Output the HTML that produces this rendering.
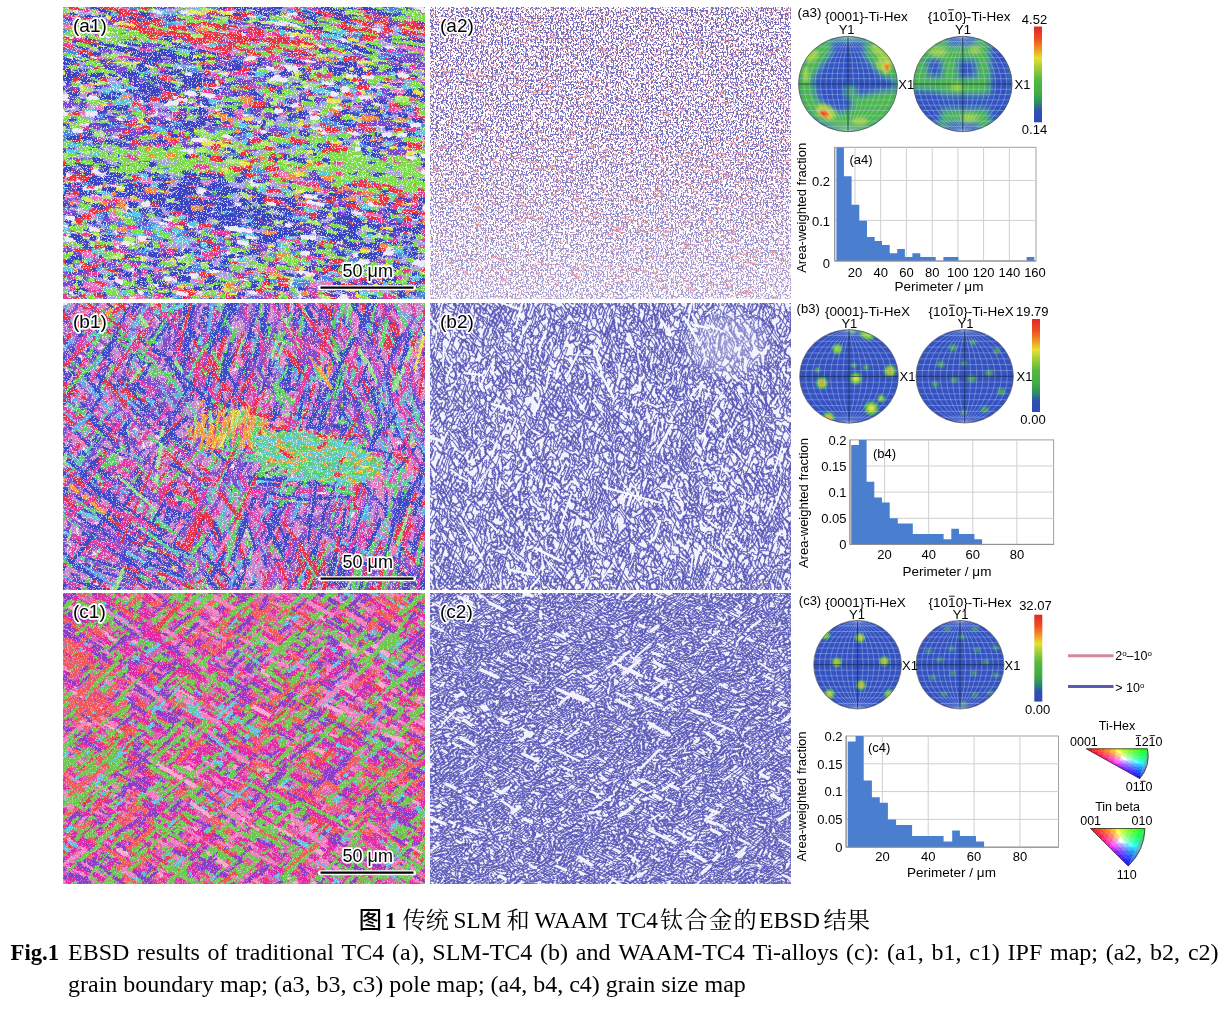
<!DOCTYPE html><html><head><meta charset="utf-8"><title>EBSD</title><style>html,body{margin:0;padding:0;background:#fff;width:1227px;height:1011px;overflow:hidden}svg{display:block}</style></head><body><svg width="1227" height="1011" viewBox="0 0 1227 1011"><defs><filter id="rough" x="0" y="0" width="1" height="1"><feTurbulence type="fractalNoise" baseFrequency="0.35" numOctaves="1" seed="2"/><feDisplacementMap in="SourceGraphic" scale="3.5" xChannelSelector="R" yChannelSelector="G"/><feGaussianBlur stdDeviation="0.4"/></filter><filter id="wsp" x="0" y="0" width="1" height="1" color-interpolation-filters="sRGB"><feTurbulence type="fractalNoise" baseFrequency="0.8" numOctaves="1" seed="9"/><feGaussianBlur stdDeviation="0.7"/><feColorMatrix type="matrix" values="0 0 0 0 0 0 0 0 0 0 0 0 0 0 0 1 0 0 0 0"/><feComponentTransfer><feFuncA type="discrete" tableValues="0 0 0 0 0 0 0 0 0 0 0 0 1 1 1 1 1 1 1 1"/></feComponentTransfer><feComposite operator="in" in="SourceGraphic"/><feGaussianBlur stdDeviation="0.35"/></filter><filter id="wsp2" x="0" y="0" width="1" height="1" color-interpolation-filters="sRGB"><feTurbulence type="fractalNoise" baseFrequency="0.8" numOctaves="1" seed="19"/><feGaussianBlur stdDeviation="0.7"/><feColorMatrix type="matrix" values="0 0 0 0 0 0 0 0 0 0 0 0 0 0 0 1 0 0 0 0"/><feComponentTransfer><feFuncA type="discrete" tableValues="0 0 0 0 0 0 0 0 0 0 0 0 1 1 1 1 1 1 1 1"/></feComponentTransfer><feComposite operator="in" in="SourceGraphic"/><feGaussianBlur stdDeviation="0.35"/></filter><clipPath id="cp0"><rect x="63" y="7" width="362" height="292"/></clipPath><clipPath id="cp1"><rect x="63" y="303" width="362" height="287"/></clipPath><clipPath id="cp2"><rect x="63" y="593" width="362" height="291"/></clipPath><filter id="a2c" x="0" y="0" width="1" height="1" color-interpolation-filters="sRGB"><feTurbulence type="fractalNoise" baseFrequency="0.6 0.5" numOctaves="1" seed="7"/><feGaussianBlur stdDeviation="0.5"/><feColorMatrix type="matrix" values="0 0 0 0 0 0 0 0 0 0 0 0 0 0 0 1 0 0 0 0"/><feComponentTransfer><feFuncA type="discrete" tableValues="0 0 0 0 0 0 0 0 0 0 0 0 0 0 0 0 0 0 0 0 0 1 1 1 1 1 1 1 1 1 1 1 1 1 1 1 1 1 1 1"/></feComponentTransfer><feComposite operator="in" in="SourceGraphic"/><feGaussianBlur stdDeviation="0.45"/></filter><filter id="a2q" x="0" y="0" width="1" height="1" color-interpolation-filters="sRGB"><feTurbulence type="fractalNoise" baseFrequency="0.6 0.5" numOctaves="1" seed="27"/><feGaussianBlur stdDeviation="0.5"/><feColorMatrix type="matrix" values="0 0 0 0 0 0 0 0 0 0 0 0 0 0 0 1 0 0 0 0"/><feComponentTransfer><feFuncA type="discrete" tableValues="0 0 0 0 0 0 0 0 0 0 0 0 0 0 0 0 0 0 0 0 0 0 0 0 1 1 1 1 1 1 1 1 1 1 1 1 1 1 1 1"/></feComponentTransfer><feComposite operator="in" in="SourceGraphic"/><feGaussianBlur stdDeviation="0.45"/></filter><linearGradient id="a2g" x1="0" y1="0" x2="0" y2="1"><stop offset="0" stop-color="#fff" stop-opacity="1"/><stop offset="0.45" stop-color="#fff" stop-opacity="0.95"/><stop offset="1" stop-color="#fff" stop-opacity="0.6"/></linearGradient><mask id="a2m" maskUnits="userSpaceOnUse" x="430" y="7" width="361" height="292"><rect x="430" y="7" width="361" height="292" fill="url(#a2g)"/></mask><clipPath id="clipa2"><rect x="430" y="7" width="361" height="292"/></clipPath><filter id="b2a" x="0" y="0" width="1" height="1" color-interpolation-filters="sRGB"><feTurbulence type="fractalNoise" baseFrequency="0.035 0.1" numOctaves="2" seed="13"/><feColorMatrix type="matrix" values="0 0 0 0 0 0 0 0 0 0 0 0 0 0 0 1 0 0 0 0"/><feComponentTransfer result="b"><feFuncA type="discrete" tableValues="0 1 0 1 0 1 0 1 0 1"/></feComponentTransfer><feMorphology operator="dilate" radius="1" result="d"/><feComposite in="d" in2="b" operator="arithmetic" k2="1" k3="-1"/><feComposite operator="in" in="SourceGraphic"/><feGaussianBlur stdDeviation="0.4"/></filter><filter id="b2b" x="0" y="0" width="1" height="1" color-interpolation-filters="sRGB"><feTurbulence type="fractalNoise" baseFrequency="0.035 0.1" numOctaves="2" seed="19"/><feColorMatrix type="matrix" values="0 0 0 0 0 0 0 0 0 0 0 0 0 0 0 1 0 0 0 0"/><feComponentTransfer result="b"><feFuncA type="discrete" tableValues="0 1 0 1 0 1 0 1"/></feComponentTransfer><feMorphology operator="dilate" radius="1" result="d"/><feComposite in="d" in2="b" operator="arithmetic" k2="1" k3="-1"/><feComposite operator="in" in="SourceGraphic"/><feGaussianBlur stdDeviation="0.4"/></filter><radialGradient id="b2lg"><stop offset="0" stop-color="#f4f3fc" stop-opacity="0.4"/><stop offset="0.6" stop-color="#f4f3fc" stop-opacity="0.25"/><stop offset="1" stop-color="#f4f3fc" stop-opacity="0"/></radialGradient><clipPath id="clipb2"><rect x="430" y="303" width="361" height="287"/></clipPath><filter id="c2a" x="0" y="0" width="1" height="1" color-interpolation-filters="sRGB"><feTurbulence type="fractalNoise" baseFrequency="0.025 0.075" numOctaves="2" seed="23"/><feColorMatrix type="matrix" values="0 0 0 0 0 0 0 0 0 0 0 0 0 0 0 1 0 0 0 0"/><feComponentTransfer result="b"><feFuncA type="discrete" tableValues="0 1 0 1 0 1 0 1 0 1 0 1 0 1 0 1 0 1 0 1 0 1 0 1 0 1"/></feComponentTransfer><feMorphology operator="dilate" radius="1" result="d"/><feComposite in="d" in2="b" operator="arithmetic" k2="1" k3="-1"/><feComposite operator="in" in="SourceGraphic"/><feGaussianBlur stdDeviation="0.4"/></filter><filter id="c2b" x="0" y="0" width="1" height="1" color-interpolation-filters="sRGB"><feTurbulence type="fractalNoise" baseFrequency="0.025 0.075" numOctaves="2" seed="29"/><feColorMatrix type="matrix" values="0 0 0 0 0 0 0 0 0 0 0 0 0 0 0 1 0 0 0 0"/><feComponentTransfer result="b"><feFuncA type="discrete" tableValues="0 1 0 1 0 1 0 1 0 1 0 1 0 1 0 1"/></feComponentTransfer><feMorphology operator="dilate" radius="1" result="d"/><feComposite in="d" in2="b" operator="arithmetic" k2="1" k3="-1"/><feComposite operator="in" in="SourceGraphic"/><feGaussianBlur stdDeviation="0.4"/></filter><clipPath id="clipc2"><rect x="430" y="593" width="361" height="291"/></clipPath><clipPath id="clipa3L"><ellipse cx="848" cy="84" rx="49.5" ry="47.7"/></clipPath><filter id="bla3L" x="-20%" y="-20%" width="140%" height="140%"><feGaussianBlur stdDeviation="3.0"/></filter><filter id="bha3L" x="-50%" y="-50%" width="200%" height="200%"><feGaussianBlur stdDeviation="1.6"/></filter><clipPath id="clipa3R"><ellipse cx="962.8" cy="84" rx="49.3" ry="47.7"/></clipPath><filter id="bla3R" x="-20%" y="-20%" width="140%" height="140%"><feGaussianBlur stdDeviation="3.0"/></filter><filter id="bha3R" x="-50%" y="-50%" width="200%" height="200%"><feGaussianBlur stdDeviation="2"/></filter><linearGradient id="cba3" x1="0" y1="0" x2="0" y2="1"><stop offset="0.00" stop-color="#e02828"/><stop offset="0.12" stop-color="#ee4a24"/><stop offset="0.22" stop-color="#f08a20"/><stop offset="0.33" stop-color="#e8e030"/><stop offset="0.42" stop-color="#a8d038"/><stop offset="0.55" stop-color="#58b840"/><stop offset="0.70" stop-color="#40ac44"/><stop offset="0.80" stop-color="#2e8a6a"/><stop offset="0.88" stop-color="#3050b0"/><stop offset="1.00" stop-color="#3048b8"/></linearGradient><clipPath id="clipb3L"><ellipse cx="849" cy="376.4" rx="49.4" ry="46.8"/></clipPath><filter id="blb3L" x="-20%" y="-20%" width="140%" height="140%"><feGaussianBlur stdDeviation="1.3"/></filter><filter id="bhb3L" x="-50%" y="-50%" width="200%" height="200%"><feGaussianBlur stdDeviation="1.2"/></filter><clipPath id="clipb3R"><ellipse cx="964.7" cy="376.3" rx="48.7" ry="46.7"/></clipPath><filter id="blb3R" x="-20%" y="-20%" width="140%" height="140%"><feGaussianBlur stdDeviation="1.3"/></filter><filter id="bhb3R" x="-50%" y="-50%" width="200%" height="200%"><feGaussianBlur stdDeviation="1.2"/></filter><linearGradient id="cbb3" x1="0" y1="0" x2="0" y2="1"><stop offset="0.00" stop-color="#e02828"/><stop offset="0.12" stop-color="#ee4a24"/><stop offset="0.22" stop-color="#f08a20"/><stop offset="0.33" stop-color="#e8e030"/><stop offset="0.42" stop-color="#a8d038"/><stop offset="0.55" stop-color="#58b840"/><stop offset="0.70" stop-color="#40ac44"/><stop offset="0.80" stop-color="#2e8a6a"/><stop offset="0.88" stop-color="#3050b0"/><stop offset="1.00" stop-color="#3048b8"/></linearGradient><clipPath id="clipc3L"><ellipse cx="857.6" cy="664.7" rx="43.9" ry="44.3"/></clipPath><filter id="blc3L" x="-20%" y="-20%" width="140%" height="140%"><feGaussianBlur stdDeviation="1.0"/></filter><filter id="bhc3L" x="-50%" y="-50%" width="200%" height="200%"><feGaussianBlur stdDeviation="0.8"/></filter><clipPath id="clipc3R"><ellipse cx="960" cy="664.7" rx="44" ry="44.3"/></clipPath><filter id="blc3R" x="-20%" y="-20%" width="140%" height="140%"><feGaussianBlur stdDeviation="1.0"/></filter><filter id="bhc3R" x="-50%" y="-50%" width="200%" height="200%"><feGaussianBlur stdDeviation="1.2"/></filter><linearGradient id="cbc3" x1="0" y1="0" x2="0" y2="1"><stop offset="0.00" stop-color="#e02828"/><stop offset="0.12" stop-color="#ee4a24"/><stop offset="0.22" stop-color="#f08a20"/><stop offset="0.33" stop-color="#e8e030"/><stop offset="0.42" stop-color="#a8d038"/><stop offset="0.55" stop-color="#58b840"/><stop offset="0.70" stop-color="#40ac44"/><stop offset="0.80" stop-color="#2e8a6a"/><stop offset="0.88" stop-color="#3050b0"/><stop offset="1.00" stop-color="#3048b8"/></linearGradient></defs><g clip-path="url(#cp0)"><rect x="63" y="7" width="362" height="292" fill="#a89ee0"/><g filter="url(#rough)"><g fill="none" stroke-linecap="round"><path d="M122 157l6 0M76 290l6 0M149 276l1 0M174 168l9 0M105 276l3 0M336 93l7 1M216 161l10 1M168 129l9 1M316 169l9 1M159 120l6 -1M172 150l14 -1M192 131l4 1M97 266l9 1M115 107l3 0M373 110l1 0M287 113l4 0M388 178l3 0M182 171l9 0M88 152l2 -0M80 83l4 0M335 177l5 -0M389 230l4 0M210 119l3 0M312 211l3 0M420 166l4 1M176 291l10 2M380 175l6 0M350 170l3 1M69 223l18 -1M60 265l5 0M249 81l8 1M183 291l5 1M365 299l10 1M275 297l2 0M219 123l3 0M139 113l13 2M93 150l4 1M342 72l7 -0M290 260l5 1M64 185l5 0M406 278l11 2M88 188l3 0M226 290l7 1M74 71l5 1M327 108l8 1M383 235l11 0M286 237l4 -0M190 161l4 1M123 158l3 0M242 93l3 0M262 155l2 0M390 167l2 0M173 83l4 1M374 79l2 0M116 166l12 2M360 163l5 -0M316 153l4 0M204 280l6 1M374 110l6 0M149 149l7 1M204 171l5 0M304 189l5 1M80 287l5 1M298 71l4 1M295 166l4 0M235 88l5 1M348 242l10 2M279 274l3 0M94 77l12 2M420 198l4 0M260 136l5 1M111 144l4 0M266 158l4 1M195 228l2 -0M133 114l7 1M281 279l6 1M323 153l9 1M370 108l2 0M207 135l6 1M132 157l7 0M371 233l4 0M301 79l11 1M135 217l6 1M219 211l6 1M343 263l5 0M375 291l3 0M422 187l6 1M91 74l12 1M72 157l3 -0M319 158l6 0M179 203l4 0M415 153l7 1M123 162l10 1M425 131l4 0M93 80l5 -0M344 254l10 0M280 168l5 -0M407 173l11 1M209 106l8 1M262 120l8 0M413 272l5 0M172 170l2 0M237 300l4 0M60 183l9 -0M106 266l5 1M365 261l5 0M100 153l4 0M190 194l9 2M222 159l7 -0M225 265l5 0M380 161l3 0M175 77l3 0M376 124l14 1M212 158l2 0M210 291l5 2M307 152l10 1M193 238l6 0M71 190l3 0M290 84l12 1M329 141l6 0M219 172l5 0M211 155l9 1M193 288l4 1M63 305l17 1M72 68l7 1M53 127l5 1M232 178l7 1M312 281l2 0M394 283l8 0M185 169l8 -0M186 255l11 1M371 285l7 1M143 302l4 1M370 259l8 1M314 171l9 0M346 174l4 0M154 168l9 0M247 207l11 1M205 161l6 0M195 267l1 -0" stroke="#7cdc48" stroke-width="3.5"/><path d="M425 158l7 0M116 108l7 1M159 90l6 -0M307 222l3 0M312 254l5 1M193 132l5 0M367 97l15 0M406 150l4 0M267 86l4 0M321 212l3 0" stroke="#e4e448" stroke-width="5.5"/><path d="M242 5l13 1M324 19l11 1M306 9l8 2M273 15l23 6M82 9l5 1M211 45l12 3M209 7l39 9M237 8l5 1M380 37l12 1" stroke="#e83c9c" stroke-width="4"/><path d="M222 7l10 2M280 35l7 1M251 38l7 1M206 44l17 3M61 34l11 2M204 31l30 4M250 39l12 1M115 16l4 0M219 17l6 1M244 45l10 2M148 32l12 3M221 41l23 4M104 16l8 1M193 36l12 1M412 27l5 1M241 37l14 3M292 41l4 1M426 24l14 1M142 22l6 2M195 34l3 1M202 47l15 3M360 33l4 1M66 41l13 1M65 39l14 1M423 33l5 1M312 28l9 2M160 18l6 1M55 50l8 2M356 12l10 3M204 33l3 1M158 31l5 1" stroke="#ee3040" stroke-width="2"/><path d="M82 276l1 0M369 181l6 1M149 246l2 0M389 203l7 0M385 110l5 0M87 96l5 1M407 151l5 0M112 93l4 1M363 254l16 1M183 108l6 1M108 102l3 0M367 72l9 0M208 184l5 0M104 140l4 1M151 140l7 0M324 137l5 0M222 208l4 -0M106 233l6 1" stroke="#58c8e0" stroke-width="2.5"/><path d="M374 186l6 1M341 186l9 1M212 182l15 0M393 302l8 1M420 198l2 0M69 148l4 0M398 266l4 0M195 288l5 1M349 300l5 1M182 242l3 0M162 95l9 0M232 239l6 1M338 122l3 -0M396 71l10 -0M407 209l7 1M207 74l2 0M101 251l8 -0M156 68l6 0" stroke="#e83c9c" stroke-width="4.5"/><path d="M294 303l4 0M135 143l1 0M184 270l5 -0M331 110l4 0M365 101l8 -0M278 178l2 0M139 68l4 -0M386 282l5 0M107 230l3 1M229 228l5 1M312 226l10 1M288 119l5 1M190 227l10 1M75 162l9 0M65 201l7 1M165 101l7 1M61 195l4 -0M92 261l5 1M207 157l5 0M101 163l4 0M116 69l8 0M374 111l9 -0M364 213l4 0M205 301l5 1M103 67l10 1M218 100l5 0M106 76l4 0M266 294l4 1M130 253l14 1M301 274l8 2M287 299l7 1M201 235l6 1M56 223l10 2M67 196l3 0M378 242l4 0M73 191l6 1M371 107l12 1M61 198l3 1M231 96l6 0M77 305l6 1M83 274l3 0M397 287l2 0" stroke="#7a48d0" stroke-width="4.5"/><path d="M162 22l4 1M87 17l13 3M255 40l33 2M166 17l20 2M264 44l9 2M206 40l10 2M366 29l22 7M354 30l10 2M41 19l28 4M154 35l5 1M307 46l14 2M200 24l12 2M305 48l6 1M176 32l13 2M191 2l3 0M250 53l5 1M196 37l21 3M144 31l10 3M307 54l13 3M428 29l9 1M399 58l9 2M278 47l10 2M108 -0l22 4M286 50l5 1M121 22l17 4M384 27l4 1M388 7l4 1M315 23l9 2M417 50l11 1M128 36l10 1M257 29l3 1M61 37l18 2M239 41l7 2M325 54l9 2M213 37l10 1M336 33l21 6M211 35l10 1M57 8l7 1" stroke="#ee3040" stroke-width="3"/><path d="M294 63l14 -0M58 35l5 1M341 19l15 0" stroke="#f08840" stroke-width="3"/><path d="M132 121l5 0M364 204l8 -0M143 244l6 0M225 145l3 0M122 120l6 0M97 285l8 0M56 276l5 1M172 113l15 -0M292 242l6 0M304 283l6 1M276 201l9 1M415 262l15 0M120 138l4 0M262 135l6 -0M388 84l11 0M403 88l4 0" stroke="#e83c9c" stroke-width="5.5"/><path d="M309 61l10 1M411 27l6 1M324 30l3 1M104 29l9 1M142 29l7 1M95 23l10 1M394 7l10 3M287 66l23 -0M247 10l5 1M395 45l24 4M246 23l13 3M60 59l15 -0M109 10l14 4M170 52l10 1M80 25l24 9M226 5l5 0M336 8l9 2M222 4l13 2M75 34l26 4M56 66l13 1M123 63l3 0M383 13l5 1M324 12l7 2M258 27l12 2M413 21l15 3M139 28l4 1M67 32l3 0M373 58l10 1M346 17l5 1M108 28l11 3M104 30l11 3M419 5l7 1M281 25l7 2M192 39l5 1M235 61l24 1" stroke="#7cdc48" stroke-width="3"/><path d="M425 31l5 1M291 7l10 1M105 59l8 2M321 24l25 2M254 19l6 -0" stroke="#f070c0" stroke-width="2"/><path d="M203 214l7 0M106 218l6 1M413 290l9 -0M79 92l4 -0M78 285l10 1M181 150l7 1M425 158l6 0M131 157l8 0M139 231l6 1M101 132l5 0M196 292l6 1M379 216l5 1" stroke="#f070c0" stroke-width="4.5"/><path d="M85 102l6 0M159 223l8 1M387 222l3 0M164 128l3 -0M216 257l4 0M424 152l4 0M212 88l12 1M97 289l7 1M120 111l3 0M316 76l5 -0M209 212l4 0M337 197l12 1M124 244l3 0M147 267l3 1M140 146l7 0M223 299l11 2M207 293l10 0M298 111l6 1M187 227l10 -0M165 105l3 1M176 179l4 0M170 88l7 -0M297 304l7 1M115 137l3 1M274 220l7 1M63 101l17 1" stroke="#ece8f8" stroke-width="2.5"/><path d="M81 25l12 2M266 53l9 2M286 9l22 7M406 25l9 1M241 1l20 4M331 14l14 2M162 5l6 0M160 33l25 3M203 6l10 1M269 2l15 4M99 9l8 2" stroke="#a8e870" stroke-width="3"/><path d="M393 201l8 1M189 83l3 0M107 227l5 1M420 91l7 0M327 290l4 0M371 244l7 0M249 281l10 2M61 184l10 0M296 291l7 1M124 194l5 0M98 82l11 3M356 141l8 0M131 86l8 1M170 200l3 0M209 249l3 1M104 263l6 0M210 136l6 0M235 235l3 0M388 224l5 0M194 136l7 -1M85 109l4 0M198 106l5 0M359 120l8 1" stroke="#a8e870" stroke-width="4.5"/><path d="M410 0l8 2M419 45l11 3M172 54l11 2M226 56l9 2M291 8l14 2M220 18l16 3M243 54l8 1M304 28l12 3M161 35l4 1M302 16l5 1M366 49l8 0M295 35l4 1M394 13l19 2M352 45l9 1M405 51l7 2M63 26l12 3M114 30l15 2M215 8l10 1M160 51l11 2M343 7l9 2M144 21l11 2M230 22l11 2M74 33l7 1M150 18l11 2M391 6l8 1M164 36l10 2M338 57l19 0M65 48l5 1M201 36l6 0M337 61l19 2M265 64l3 0M68 13l9 1M197 51l22 2" stroke="#3a44c4" stroke-width="2"/><path d="M392 266l7 -0M248 221l4 -0M418 158l7 -0M141 219l6 1M314 286l7 1M92 301l8 1M54 152l3 0M422 240l4 0M178 235l3 0M114 109l7 0M255 111l5 1M381 282l2 0M254 237l3 0M228 290l8 1M70 89l3 0M329 150l4 1M361 240l2 0M368 130l4 1M66 78l7 1M64 126l10 0M430 181l3 0M227 193l6 1M152 229l7 2M216 146l4 0M59 121l3 1M268 256l4 1M323 261l24 -0" stroke="#58c8e0" stroke-width="3.5"/><path d="M196 36l5 0M323 37l17 2M196 20l23 5M267 13l3 1M236 63l9 2" stroke="#4a8ae0" stroke-width="2"/><path d="M83 269l6 0M220 291l4 0M243 299l8 2M366 116l4 1M377 301l3 1M50 100l11 1M129 89l5 1M190 290l7 0M118 79l5 1M232 178l3 0M327 290l4 0M133 263l3 0M377 232l5 0M196 302l7 1M363 258l13 1M292 261l7 1M407 72l5 0M84 271l8 2M248 135l7 0M364 125l5 1M369 253l3 1M103 86l11 0M58 95l5 0M299 156l4 0M103 298l3 -0M128 216l4 0M211 289l2 0M104 240l9 1M384 204l10 1M97 204l3 0M293 230l6 1M146 141l4 0M201 103l5 0M58 175l6 1M254 68l6 0M214 84l4 0M412 110l6 0M106 199l6 1" stroke="#7a48d0" stroke-width="2.5"/><path d="M160 4l13 3M323 58l34 2M383 55l5 1M427 21l11 3M128 59l14 0M217 14l7 2M344 38l7 1M387 6l23 7M276 1l10 1M106 43l4 1M178 -0l14 3M288 34l9 1" stroke="#7a48d0" stroke-width="4"/><path d="M392 292l4 0M378 74l3 1M353 192l10 1M341 198l14 1M163 81l6 -0M349 243l6 1M412 141l8 1M265 162l7 0M57 255l8 1M56 169l12 1" stroke="#f08840" stroke-width="4.5"/><path d="M130 14l6 1M250 54l3 0M211 49l11 1" stroke="#f08840" stroke-width="4"/><path d="M132 83l6 0M313 112l5 0M129 268l8 1M269 271l8 0M136 74l3 0M302 76l6 0M119 247l3 0M244 279l11 1M259 253l6 0M301 130l19 0M242 235l12 2M286 283l7 1M212 255l4 1M104 176l6 0M65 239l11 -0" stroke="#ece8f8" stroke-width="5.5"/><path d="M274 129l1 0M214 79l3 0M428 121l3 -0M284 166l3 0M173 214l18 1M187 144l5 1M301 185l13 1M231 169l4 0M394 296l5 1M138 149l5 -0M327 183l9 1M161 123l5 -1M60 88l4 0M224 169l6 0M385 188l4 0M310 164l6 1M292 253l3 0M417 117l6 0M366 217l4 0" stroke="#ee3040" stroke-width="5.5"/><path d="M79 245l21 3M235 71l3 0M230 97l2 -0M252 103l4 0M342 240l3 0M335 129l3 0M199 130l7 1M153 156l6 1M420 145l4 0M306 69l5 1M276 67l4 1M392 297l4 0M141 115l5 0M70 285l7 2M276 289l2 0" stroke="#a8e870" stroke-width="5.5"/><path d="M330 302l7 1M214 250l3 0M78 141l5 0M217 209l3 0M395 68l9 1M380 284l5 1M69 143l8 1M99 214l9 -0M298 281l4 0M70 255l3 0M298 86l5 1M222 95l7 0M159 251l5 1M64 156l4 -0M159 149l7 0M209 101l4 0M401 253l10 1" stroke="#58c8e0" stroke-width="5.5"/><path d="M284 38l4 0M196 42l11 1M217 25l11 3M58 48l11 3M425 42l6 2M75 41l5 -0M173 20l21 5M64 41l24 -0M298 13l14 3M266 27l5 0M416 25l9 1M184 43l6 1M255 53l12 2M193 26l5 1M128 23l25 3M214 41l9 0M118 49l22 5M216 24l8 1M68 43l11 3M347 30l40 4M216 5l13 2M263 42l15 3M268 16l9 2M367 33l15 3M255 35l4 1M302 43l13 3M219 26l7 1" stroke="#ee3040" stroke-width="4"/><path d="M83 93l5 0M193 88l4 0M220 254l6 1M368 256l7 1M72 235l9 2M186 111l4 0M232 260l13 2M225 295l6 0M373 214l4 0" stroke="#e4e448" stroke-width="2.5"/><path d="M315 21l3 1M364 64l7 0M345 50l10 3M239 11l9 1M78 55l14 3M55 33l21 3M104 41l5 0M318 52l12 2M120 29l4 1M335 50l10 2M315 50l6 1M276 61l6 0M92 25l17 4M158 25l9 1M341 9l11 3M307 8l3 1M149 8l4 1M226 56l9 2M311 55l8 1M109 59l11 2M369 38l8 1M196 24l19 4M399 62l6 -1M305 54l4 1M132 33l21 4M418 61l12 0M250 47l3 0M143 65l15 1M232 34l12 1" stroke="#7cdc48" stroke-width="4"/><path d="M69 49l8 2M327 19l9 1M304 34l15 4M226 59l7 -0M226 32l12 2M342 17l15 2M324 33l6 1M281 7l26 3M195 44l23 3" stroke="#f070c0" stroke-width="3"/><path d="M295 21l17 4M65 9l8 2M132 4l7 1M99 9l27 4M295 56l15 2M198 19l7 2M248 58l6 -0M295 52l35 8" stroke="#e83c9c" stroke-width="2"/><path d="M395 249l7 2M392 97l7 0M66 274l2 0M378 123l5 0M112 173l4 0M129 182l7 -0M252 104l7 1M206 302l5 0M258 79l6 1M170 97l4 1M126 214l6 1M357 77l2 0M184 88l4 -0M279 145l9 2M288 175l4 0M199 282l6 -0M274 78l8 1M294 244l4 0M223 303l3 1" stroke="#7a48d0" stroke-width="5.5"/><path d="M70 9l7 2M275 18l23 4M187 19l4 1M345 40l6 1M205 44l16 2" stroke="#ece8f8" stroke-width="2"/><path d="M125 74l3 0M67 294l5 0M318 294l4 0M219 256l5 0M274 97l2 0M327 74l11 -0M194 146l3 1M251 233l3 1M170 95l4 1M118 79l4 -0M326 203l6 1M53 166l6 1M351 225l7 -0M254 290l8 0M379 254l7 1M284 275l8 1M265 281l3 0M344 80l9 0M378 285l3 0M123 71l4 1M340 122l6 1M270 227l4 0M186 231l4 1M138 112l5 0M60 212l5 1M277 279l3 0M126 196l16 0M397 145l4 0M195 289l4 0M426 96l7 1M335 234l5 1M151 67l4 0M325 69l4 0M164 176l4 0M361 84l7 1M249 225l10 0M179 111l5 0M181 217l15 1M280 146l4 0M354 158l3 -0M335 183l5 0M190 224l5 1M274 206l4 0M180 207l7 1M281 74l4 -0M333 108l4 0M252 247l10 0M105 134l4 0M66 73l8 2M215 177l3 0M316 67l11 -0M131 189l6 1M88 101l3 -0M373 230l8 2M312 192l3 0M147 178l6 -1M219 177l7 0M281 109l9 1M244 124l19 -1M315 113l2 0M258 191l4 0M119 191l6 0M218 138l6 0M62 204l5 1M416 288l6 1M271 217l6 0M350 229l5 0M164 183l4 -0M67 277l3 1M192 85l3 0M141 279l4 1M138 191l11 1M274 221l9 2M258 224l9 2M360 81l4 0M185 211l15 2M295 184l8 1M397 245l4 0M65 149l7 -1M260 266l7 0M84 282l2 0M189 235l8 1M369 268l7 0M118 104l8 1M336 123l4 0M201 213l5 0M183 299l5 0M409 126l8 0M335 117l12 1M421 107l7 0M379 142l6 -0M358 214l3 0M219 219l9 1M323 122l3 0M371 87l6 1M143 121l5 -0M149 81l14 1M351 237l9 1M169 128l7 -0M369 175l15 0M276 199l8 1M173 145l7 0M188 268l10 1M117 218l7 1M247 156l5 0M303 225l12 3M110 269l5 0M220 90l7 0M276 293l6 0M180 294l5 1M100 112l5 0M122 87l3 0M335 84l4 0M75 113l6 0M362 198l18 2M292 217l5 1M414 125l13 1M320 189l6 1M344 302l6 1M149 190l6 2M325 74l3 0M236 227l3 0M72 273l5 1M268 229l4 1M202 86l6 0M80 134l8 1M168 207l3 0M293 85l11 -1M272 79l3 0M400 71l6 1" stroke="#3a44c4" stroke-width="4.5"/><path d="M70 5l8 1" stroke="#58c8e0" stroke-width="2"/><path d="M128 290l4 0M325 96l9 -0M304 291l6 1M423 94l11 1M60 186l11 1M67 127l4 0M162 95l8 -1M289 226l5 0M275 81l2 0M392 257l6 1M176 82l22 2M340 106l8 1M407 211l3 0M139 217l7 1M425 110l4 0M218 288l5 0M282 258l5 1M162 70l5 0M317 190l5 0M83 122l2 -0M415 218l8 2M65 223l6 0M250 269l8 0M69 192l7 1M209 231l6 -0M308 153l5 -0M379 260l7 1" stroke="#e83c9c" stroke-width="2.5"/><path d="M304 264l6 0M177 242l15 0M136 235l9 1M231 96l7 -0M179 135l9 -1M307 247l12 0M421 89l13 -1M174 96l3 0M121 154l4 0M149 290l2 0M425 266l7 0M394 260l4 1M196 247l12 1M134 293l7 0M343 139l4 0M370 286l4 -0M358 96l6 0M210 297l6 1M425 230l5 1M127 112l18 1M376 276l5 1M353 244l9 1M103 140l9 -0M73 85l9 0M54 257l3 -0M173 253l3 0M202 271l5 1M62 298l4 0" stroke="#58c8e0" stroke-width="4.5"/><path d="M174 277l5 1M340 220l8 1M205 118l6 1M113 264l8 1M237 170l4 0M412 189l6 0M371 184l7 1M104 167l7 0M130 274l5 0M352 255l5 0M366 186l4 0M63 246l6 1M68 293l2 0M405 132l8 1M334 143l6 -0M280 87l2 0M404 192l7 0M240 112l5 1M54 203l4 0M124 91l9 1M207 144l12 0M73 186l9 2M353 298l4 0M76 279l8 -0M252 98l2 0M393 214l4 0M272 286l4 1M63 184l11 1M427 194l7 1M97 289l6 1M159 268l11 1M169 221l6 0M192 217l6 0M424 230l8 2M427 202l7 0M122 299l4 1M238 250l11 1M252 142l3 1" stroke="#e83c9c" stroke-width="3.5"/><path d="M324 22l9 2M371 62l21 2M351 46l11 2M80 17l3 0M142 58l9 0M253 29l5 1M343 63l9 2M183 55l5 1M242 7l16 4M353 53l13 1M228 65l11 1M103 60l12 1M371 46l5 1M145 43l8 1M205 6l9 2M307 3l12 2M82 6l5 1" stroke="#4a8ae0" stroke-width="3"/><path d="M291 137l3 -0M267 276l3 0M367 108l9 2M363 259l4 0M303 167l8 1M155 155l9 2M150 275l3 0M75 119l14 3M137 264l4 1M279 141l10 1M148 149l14 1M323 72l5 -0M161 140l6 0M397 281l9 1M175 116l5 1M102 155l4 0M72 74l7 1M375 154l10 1M58 137l6 1M192 258l2 0M157 152l16 1M313 187l3 0M229 99l4 -0M243 152l4 -0M114 110l5 1M314 222l6 2M425 171l4 0M183 164l7 1M424 200l10 0M374 178l4 0M227 151l6 0M230 133l7 0M413 85l8 0M402 181l10 -1M333 281l3 0M104 156l2 0M69 96l8 -0M121 104l8 1M419 150l9 1M393 244l5 0M104 141l6 0M379 140l8 -0M65 153l11 1M135 161l6 0M132 262l3 0M105 289l4 0M61 264l2 0M189 110l6 0M336 181l7 1M331 182l4 0M108 99l7 1M210 239l5 1M230 115l4 0M309 161l6 1M185 85l8 0M292 290l3 1M108 74l7 1M395 248l2 0M136 189l4 1M292 243l6 0M71 90l10 1M385 300l3 0" stroke="#7cdc48" stroke-width="5.5"/><path d="M167 20l10 2M419 31l12 2" stroke="#a8e870" stroke-width="2"/><path d="M224 171l3 0M123 132l13 -0M240 165l4 -0M415 196l4 -0M53 250l6 0M235 303l8 0M194 202l4 0M66 74l7 1M319 190l6 0M236 127l5 0M170 232l4 0M328 98l3 -0M173 221l6 0M336 188l6 1M393 221l4 0M142 120l10 1M83 128l5 -0M60 181l3 -0M334 185l3 0M385 301l6 -0M300 96l3 0M336 255l8 1M260 163l5 1M408 91l3 0M415 109l5 -0M263 299l3 0M429 78l4 1M131 298l6 1M281 104l3 0M392 197l6 0M294 211l4 1M291 166l8 -0M217 206l5 1M320 134l4 0M267 239l7 1M161 216l10 1M257 187l5 1M293 183l4 1M82 296l3 0M409 185l2 0M85 175l8 1M55 273l4 1M352 216l4 0M121 245l3 1M391 280l4 0M376 194l16 2M298 167l11 -0M345 188l3 0M181 235l5 1M243 282l2 0M117 237l7 0M223 169l9 0M367 186l6 -1" stroke="#ee3040" stroke-width="3.5"/><path d="M62 45l36 4" stroke="#f08840" stroke-width="2"/><path d="M297 188l10 1M278 90l5 0M419 138l15 1M284 231l7 -0M256 234l13 2M234 97l2 -0M244 231l5 0M149 123l6 1M272 277l7 1M367 200l3 1M262 140l13 1M163 274l2 0M243 122l4 -0M128 193l6 1M148 245l4 1M225 229l9 1M134 106l4 0M200 73l8 1M405 301l5 0M395 98l4 1M384 222l4 0M133 113l3 0M337 149l2 0M155 286l7 1M365 142l20 0M211 125l2 0M68 216l9 1M349 272l8 1M340 220l6 0M198 216l4 -0M315 222l6 1M293 245l6 1M58 234l5 -0M162 91l10 1M237 224l6 1M174 195l8 1M82 177l15 2M76 91l8 0M159 169l5 0M84 70l6 1M411 227l6 1M185 177l5 1M201 252l3 0M122 290l3 0M288 194l3 1M163 251l9 1M371 137l5 1M119 259l4 0M427 249l11 1M406 231l4 -0M110 277l10 -0M330 226l7 1M177 95l6 -0M68 300l7 0M182 295l3 0M124 238l8 2M83 141l1 0M278 136l11 0M307 228l5 0M358 257l11 0M239 190l5 0M172 93l8 1M84 259l7 0M208 178l5 -0M416 230l3 1M243 205l3 1M236 217l5 -0M92 205l5 1M131 193l3 0M144 80l9 -0M249 233l6 1M403 110l7 1M162 259l5 0M408 262l8 1M213 271l4 1M228 230l6 1M326 248l9 1M367 253l7 1M176 282l12 1M326 270l7 0M93 144l6 -0M80 108l6 1M313 301l4 -0M213 257l3 -0M58 216l2 0M297 249l4 1M192 202l4 0M103 77l2 0M195 202l5 1M368 130l7 0M379 210l13 0M104 76l5 -0M139 118l7 1M344 196l5 0M142 99l10 -0M386 243l7 -0M408 247l4 0M251 299l7 1M412 90l7 1M201 219l6 -0M372 98l9 -1M182 182l2 0M105 69l5 1M119 289l5 1M237 207l4 0M109 154l2 0M255 211l14 1M302 70l13 0M134 96l6 -0M394 299l7 0M386 100l11 1M330 205l4 0M180 218l4 0M254 222l2 0M220 192l3 0M137 73l12 1M285 300l3 0M137 297l2 0M305 137l8 1M144 271l11 2M64 207l5 0M398 73l7 0M362 123l3 0M254 215l3 0M354 69l9 1M107 174l4 0M384 238l6 0M197 302l6 1M328 126l5 0M90 70l6 1M64 144l3 0M98 128l8 1" stroke="#3a44c4" stroke-width="2.5"/><path d="M58 83l7 1M191 111l4 0M286 89l4 0M320 82l11 2M304 128l6 1M86 112l5 -0M242 275l4 1M277 293l4 0M141 139l5 -0M236 148l8 0M212 97l4 1M57 146l3 0M194 126l4 0M147 232l8 0M69 118l7 1M55 100l9 1M251 109l6 0M402 102l7 1M399 255l7 0M92 275l5 1M286 155l5 0M175 178l5 1M308 148l7 1M358 289l2 0M116 140l8 1M240 275l5 1M211 226l7 -0M360 219l7 1M369 73l6 1M285 293l7 1M212 132l2 0M152 235l8 1M405 205l5 1M133 219l10 1M405 235l2 0M77 263l6 0M161 246l5 0" stroke="#4a8ae0" stroke-width="3.5"/><path d="M270 38l8 2M156 57l9 1" stroke="#4a8ae0" stroke-width="4"/><path d="M194 174l8 -1M301 95l5 0M162 261l2 0M332 183l9 1M268 288l3 0M151 241l3 0M280 132l3 0M239 125l5 0M244 86l7 1M97 140l2 0M164 298l9 1M284 298l4 1M390 295l3 0M196 79l3 0M386 296l9 2M188 129l7 0M258 266l6 0M212 81l8 1M325 190l7 1M388 238l4 1M303 265l4 0M206 233l3 -0M273 208l8 1M298 269l4 0M172 94l3 1M332 105l4 -0M238 167l4 0" stroke="#a8e870" stroke-width="3.5"/><path d="M253 21l19 7M318 60l11 2M154 5l9 2M133 13l6 1M101 61l14 2M403 64l12 1M368 12l10 3M387 40l8 2M392 -0l15 3M385 6l4 0M360 7l7 1M67 66l6 1M85 38l21 4M57 57l40 5M131 19l7 1M156 56l6 1M78 40l17 6M94 66l12 1M382 50l7 1M143 65l9 -1M397 43l9 1M152 54l5 1M356 34l7 1M340 35l17 5M216 57l8 1M404 45l6 1M187 60l9 -1M186 18l3 1M171 61l7 0M295 62l12 0" stroke="#3a44c4" stroke-width="4"/><path d="M251 17l12 1M157 12l39 7M334 33l12 2M148 42l13 3M369 3l10 2" stroke="#58c8e0" stroke-width="4"/><path d="M414 148l7 0M264 260l4 1M320 174l6 0M249 157l11 1M411 172l3 1M152 168l18 -1M404 77l8 1M333 167l6 1M204 187l9 1M351 165l6 0M53 152l15 2M391 77l10 1M133 214l3 1M76 256l5 0M185 300l6 1M390 180l2 0M104 123l10 2M363 209l7 0M237 122l2 0M365 152l4 0M209 167l4 0M308 103l4 0M252 177l8 -0M308 167l9 1M359 151l12 1M370 179l5 0M113 156l9 2M128 150l5 1M186 100l13 1M348 159l5 0M286 150l4 0M417 89l1 0M315 176l2 0M153 199l4 0M264 208l7 1M379 163l6 1M321 284l4 0M129 85l6 1M174 158l2 0M322 240l5 1M359 141l6 -0M327 164l8 0M72 165l3 -0M385 163l2 0M165 150l4 0M70 243l9 1M147 195l4 0M237 158l4 0M145 153l5 1M119 255l5 0M398 152l3 -0M187 168l5 0M273 252l16 3M134 183l2 0M415 249l6 1M278 237l4 0M49 155l19 2M280 110l7 1M312 120l2 0M119 158l10 1M67 157l4 1M311 254l3 0M144 296l3 0M101 157l1 0M307 124l1 0M165 78l7 -1M118 119l3 0M72 254l7 1M207 167l16 1M181 154l4 1M383 175l6 -0M360 138l3 -0M85 260l5 0M365 167l5 1M405 176l12 2M157 278l9 0M66 90l3 0M360 182l23 1M293 181l2 0M359 294l4 0M391 101l6 0" stroke="#7cdc48" stroke-width="2.5"/><path d="M121 139l4 0M339 161l7 1M312 174l6 0M344 180l3 0M105 180l4 0M50 293l11 1M80 275l5 1M230 173l7 1M118 231l3 1M379 282l3 0M61 250l5 1M393 246l8 1M236 134l7 -0M161 192l8 1M139 111l11 1M161 246l3 0" stroke="#f08840" stroke-width="2.5"/><path d="M308 15l7 1M268 58l8 0M265 3l11 2" stroke="#ece8f8" stroke-width="4"/><path d="M289 117l5 0M134 127l4 0M244 131l12 1M292 124l1 0M304 174l1 0M191 88l4 0M354 165l4 0M56 145l7 -0M394 168l4 0M231 126l4 -0M288 161l5 0M258 147l4 1M181 96l5 1M406 185l9 3M115 198l5 0M308 283l5 0M264 167l11 2M367 210l3 0M196 88l5 -0M315 158l5 1M224 97l4 0M157 173l4 0M352 189l8 2M135 137l4 1M59 68l6 1M421 185l5 -0M362 235l2 0M84 245l4 0M284 91l5 0M278 83l6 0M281 83l2 0M142 298l4 1M349 155l5 0M244 298l3 0M149 152l2 -0M80 144l3 0M282 156l7 1M159 173l3 -0M296 110l5 1M303 143l6 1M259 143l8 1M369 295l13 2M327 167l7 1M123 186l6 1M266 161l10 1M92 152l10 1M124 166l4 -0M232 144l5 0M419 122l6 0M59 111l4 0M247 298l8 0M346 216l7 1M265 273l4 0M239 172l6 1M80 204l5 1M142 152l4 0M373 238l4 -0M286 83l4 1M352 184l7 -1M390 158l3 -0M412 75l5 1M310 148l7 1M425 250l7 1M262 206l6 1M171 166l5 0M386 102l3 0M152 166l4 0M421 182l4 0M298 151l9 0M391 192l10 1M225 159l5 0M203 266l9 1M340 151l2 0M91 237l8 1M430 101l5 0M245 150l5 1M164 153l4 0M389 196l5 1M375 248l6 1M340 159l9 1M336 159l5 0M381 165l14 0M304 210l2 0M255 82l4 0M88 253l3 0M290 166l3 0M72 83l5 0M278 181l9 0M180 267l5 0" stroke="#7cdc48" stroke-width="4.5"/><path d="M95 12l3 1M190 3l15 1M309 31l15 2" stroke="#e4e448" stroke-width="4"/><path d="M147 4l8 1M352 53l11 1M386 41l9 1M67 19l5 1M220 64l28 0M123 35l8 1M187 63l5 0M191 4l3 1M231 19l11 1M259 65l9 3M285 61l14 -1M126 51l12 3M422 64l8 0M243 8l15 2M61 3l4 1M215 12l8 1M282 55l12 1M377 18l17 4M341 42l8 1" stroke="#7a48d0" stroke-width="2"/><path d="M430 304l5 0M378 93l2 0M59 127l5 1M318 255l5 1M348 193l6 1M131 292l5 0M318 168l3 0M369 151l7 1M221 294l8 0M300 132l5 1M63 208l5 0M136 245l5 0M113 265l5 1M429 153l7 0M321 255l5 0M242 152l7 0M416 197l10 2M130 283l6 1M333 125l3 -0M70 176l6 0M195 80l6 2M158 148l7 -0M280 172l8 0M207 193l4 0M408 302l10 1M87 235l4 1M114 121l4 0M119 236l4 0M172 104l9 2M260 129l6 -0M116 225l5 1M235 156l6 0M384 188l2 0M248 251l11 2" stroke="#ee3040" stroke-width="2.5"/><path d="M344 6l11 3M256 23l7 1M110 47l9 3M287 60l10 2M355 5l7 1M120 47l5 1M203 22l25 4M157 49l7 1M396 12l6 1M209 17l5 1M120 46l4 1M169 56l5 1M129 6l12 1M341 18l7 1M138 52l22 5M55 50l15 3M145 57l21 2M413 46l4 1M395 49l10 2M150 58l28 0M102 63l8 0M297 8l7 1M373 9l7 1M146 58l10 -0M212 17l19 4M156 44l8 1M422 59l13 1M102 1l14 2M126 26l12 1M61 16l10 2M322 52l4 0M164 57l11 1M75 -1l14 5M150 56l10 2M198 50l6 1M112 17l19 4M256 5l13 1M148 2l16 3M211 66l13 2M385 58l17 2M125 32l10 1M200 60l17 1M298 45l3 0M339 15l16 2M146 44l9 2M392 6l6 1M158 28l4 1M56 6l7 2M215 49l7 1M172 50l10 3M357 2l8 1M189 2l8 1M333 27l12 1M315 56l13 1M406 32l9 1M243 23l15 2M417 13l8 2M256 20l5 1M106 17l23 3" stroke="#3a44c4" stroke-width="3"/><path d="M131 274l10 1M315 232l11 1M236 232l8 1M350 156l14 2M64 175l4 -0M111 251l8 2M246 82l5 0M62 277l5 1M116 98l7 1M82 266l12 3M212 271l5 -0M167 144l5 1M419 106l5 0M69 108l4 0M117 232l7 1M201 232l9 2M104 191l4 -0M385 138l8 2M405 93l7 1M344 253l9 0M410 208l6 1M107 225l2 0M318 174l3 0" stroke="#ece8f8" stroke-width="4.5"/><path d="M429 268l3 1M391 269l6 -0M353 120l5 1M111 250l5 0M322 289l6 1M88 206l2 0M341 247l9 1M217 225l3 0M248 172l2 0M419 202l8 1M207 97l2 0M341 116l8 0M313 114l7 1M350 115l3 0M430 78l4 0M289 187l6 2M128 198l8 0" stroke="#e4e448" stroke-width="3.5"/><path d="M283 18l5 1M423 23l13 2M143 30l23 4M165 3l5 1M185 4l11 2M193 12l23 4M362 38l12 3" stroke="#ece8f8" stroke-width="3"/><path d="M343 250l4 1M392 249l4 1M75 125l7 2M225 209l4 1M145 223l6 1M161 271l6 0M425 241l5 1M79 130l10 0M55 117l5 0M389 147l5 -0M138 188l9 0M220 266l4 0M403 79l13 2M132 236l5 1M385 82l7 1M279 288l10 1M202 238l7 1M123 103l7 -0M117 103l3 0M265 107l11 1M197 123l3 -0M299 113l14 2M118 95l3 -0" stroke="#4a8ae0" stroke-width="2.5"/><path d="M177 283l4 0M403 204l5 0M139 78l6 1M210 302l3 1M334 264l2 -0M64 129l9 1M160 232l9 0M160 274l7 0M254 226l3 0M123 111l5 0M228 114l10 2M97 111l1 0M127 139l3 -0M335 125l3 0M123 214l2 0M261 103l11 -0" stroke="#4a8ae0" stroke-width="5.5"/><path d="M125 223l5 0M320 289l7 1M129 130l7 0M119 231l2 0M60 102l5 0M206 128l9 -1M257 191l10 -1M301 247l4 0M242 174l8 -0M95 241l4 0M316 72l5 -0M325 81l10 1M307 287l15 1M175 143l4 0M291 86l4 0M308 297l6 0M211 244l8 1M281 224l9 1M271 287l12 0M241 245l6 -0M224 78l5 1M166 232l3 0M339 201l6 1M282 228l3 1M210 279l2 0M333 199l5 1M382 298l4 0M102 302l3 0M84 249l6 1M160 110l9 1M428 270l3 0M348 260l8 1M408 100l9 1M146 295l2 0M213 141l5 0M130 114l4 1M167 72l6 1M419 95l9 0M364 83l9 1M370 233l5 -0M125 158l5 0M65 85l6 1M222 297l9 1M408 124l5 0M94 245l8 1M57 248l13 -0M374 221l8 0M83 135l5 1M388 78l3 0M350 203l5 0M264 265l4 1M227 87l4 0M123 114l6 1M418 104l8 -0M284 266l7 1M65 197l11 0" stroke="#7a48d0" stroke-width="3.5"/><path d="M265 297l3 0M395 72l10 -0M385 302l6 0M277 291l11 3M117 221l6 1M263 125l6 1M371 278l3 0M367 98l15 2M390 107l6 0M396 248l7 1M81 129l4 0M268 91l3 0M86 105l3 0M207 110l7 1" stroke="#f070c0" stroke-width="2.5"/><path d="M107 62l35 2M81 37l5 0M241 61l6 1M261 23l17 1M328 47l13 3M339 52l7 1M134 63l8 0M356 45l14 2" stroke="#e4e448" stroke-width="2"/><path d="M330 215l8 1M252 286l1 0M96 98l7 1M360 221l6 1M124 255l3 0M175 122l3 0M266 92l2 0M61 128l7 1M191 129l5 1M405 230l7 2M301 222l5 0M349 81l7 0M136 258l8 1M349 246l7 1" stroke="#e4e448" stroke-width="4.5"/><path d="M295 160l4 0M149 278l6 -0M95 198l6 1M177 232l7 0M349 135l4 0M124 97l5 0M260 158l3 0M294 172l2 0M170 249l7 1M420 223l8 1M212 154l8 1M229 286l1 0M421 143l5 0M377 193l7 0M223 141l8 1M222 142l8 1M378 227l9 1M114 210l5 1M225 237l4 1M196 166l14 1M408 188l2 0M93 169l3 -0M308 164l4 -0M272 80l5 -0M256 175l7 0M234 152l8 1" stroke="#f08840" stroke-width="3.5"/><path d="M133 79l4 1M245 258l2 0M314 167l7 1M325 128l17 1M310 243l8 -0M120 212l11 1M226 79l7 1M309 203l3 1M180 289l4 1M136 201l3 -0M205 159l5 0M415 247l6 0M265 152l3 0M214 221l3 0M132 93l5 -0M298 242l7 1M219 106l3 0M354 286l9 0M256 266l2 0M284 250l7 1M163 102l3 -0M318 187l10 -0M207 136l2 0M399 157l3 0M89 133l10 1M59 153l6 1" stroke="#a8e870" stroke-width="2.5"/><path d="M121 67l16 -2M288 33l17 3M93 12l10 2" stroke="#a8e870" stroke-width="4"/><path d="M147 61l6 1M334 31l11 2M357 37l4 1M309 32l6 1M262 8l18 2M380 21l7 0M267 41l7 1M195 8l7 1M343 64l20 2M129 58l10 1M340 59l13 1M204 23l9 1M107 3l6 1M162 19l10 3M428 60l3 0" stroke="#58c8e0" stroke-width="3"/><path d="M313 178l6 0M174 305l3 0M406 220l3 0M156 145l2 0M189 210l4 1M163 120l15 2M153 204l3 0M303 71l11 1M296 190l14 1M184 215l4 0M329 237l5 1M70 127l5 1M75 233l4 0M266 107l7 0M143 200l4 0M195 200l4 1M426 69l4 0M266 74l5 0M280 233l5 1M323 161l6 0M104 93l5 0M263 73l2 0M217 209l7 0M282 131l4 1M337 83l12 -1M200 207l10 2M294 70l3 0M148 193l5 1M316 267l11 1M82 112l5 0M70 294l5 0M358 292l4 0M116 195l3 0M371 271l5 0M96 117l8 -0M135 169l4 0M368 162l5 -0M355 266l2 0M331 71l2 -0M237 234l3 1M157 255l9 2M271 134l8 2M157 291l4 0M213 195l10 1M343 86l3 0M208 187l8 0M59 248l5 1M314 173l6 1M384 120l6 0M126 138l5 0M248 195l4 0M214 147l4 0M357 217l6 1M422 113l9 1M422 201l3 0M387 153l5 0M138 97l2 0M202 153l2 0M64 100l8 1M387 70l6 0M59 176l3 0M185 165l5 0M370 286l5 0M94 182l3 0M386 232l12 -0M334 190l8 1M249 92l4 0M112 176l7 1M219 208l3 0M334 230l5 1M177 269l14 3M192 272l11 -0M179 226l10 1M423 159l6 -0M218 227l2 0M95 179l6 1M326 301l10 1M199 260l9 1M101 215l4 0M355 224l6 2M97 303l5 1M263 205l4 1" stroke="#3a44c4" stroke-width="5.5"/><path d="M419 41l5 1M54 24l14 4M415 19l3 0M370 15l15 1" stroke="#e4e448" stroke-width="3"/><path d="M322 55l6 2M252 49l6 1M297 19l7 0M319 55l6 0M71 28l8 3M312 30l8 2M133 4l14 2M348 65l24 3M123 21l5 1M376 66l5 0M253 51l7 1M266 25l9 2M384 4l11 2M266 21l4 2M316 20l9 2M141 56l18 0M388 36l9 3M269 53l4 1M299 2l6 1M143 37l9 1M264 52l7 1" stroke="#7a48d0" stroke-width="3"/><path d="M191 272l23 4M430 218l2 1M220 114l4 0M177 289l7 0M205 254l7 1M114 262l4 1M217 112l3 -0M274 256l14 0M339 187l7 1M97 240l7 1" stroke="#f08840" stroke-width="5.5"/><path d="M190 103l5 0M120 109l8 1M372 214l4 0M376 236l2 0M275 229l2 1M109 207l4 0M218 249l2 0M197 297l4 0M195 86l3 0M64 73l5 0M114 215l6 0M235 236l7 -0M283 79l3 -0M338 127l7 0M350 262l4 0M93 197l7 0M377 277l5 0M392 74l12 1M320 292l7 1M379 279l6 1M252 181l5 1M325 90l3 -1M162 129l11 0M72 180l9 1M428 110l5 0M331 198l5 0M404 210l5 0M167 96l20 4M199 279l6 1M361 144l5 0M335 269l2 0" stroke="#ece8f8" stroke-width="3.5"/><path d="M366 129l8 1M426 194l10 1M310 92l7 1M415 198l10 1M245 241l4 0M396 302l4 0M189 176l6 -0M239 72l3 -0M265 90l9 1M173 79l7 1M267 86l3 1M330 268l5 1M145 188l5 0M213 148l5 0M175 134l11 1M269 163l4 1M299 107l3 0M264 168l7 0M299 226l7 1M75 171l11 1M62 246l5 -0M160 190l4 -0M327 129l3 0M307 79l9 0M286 164l7 -0M361 279l8 1M305 138l2 -0M170 133l16 2M77 175l3 0M348 222l5 1M261 107l3 0M54 139l6 -0M200 241l10 1M332 261l9 0M376 198l8 0M402 232l4 0M228 261l9 1" stroke="#ee3040" stroke-width="4.5"/><path d="M152 270l4 1M282 187l9 1M84 112l3 0M324 283l10 2M114 242l10 2M50 228l19 3M405 96l5 1M421 80l7 0M396 111l3 0M366 125l4 0M244 138l10 0" stroke="#f070c0" stroke-width="5.5"/><path d="M386 142l7 0M284 180l3 0M77 252l5 0M364 255l3 0M169 292l6 1M169 218l8 1M151 290l14 -0M141 137l4 0M108 223l8 1M372 300l15 2M180 279l7 2M179 250l11 1M409 151l2 -0M198 300l10 1M228 92l6 0M323 278l10 1" stroke="#4a8ae0" stroke-width="4.5"/><path d="M49 64l20 1M280 16l8 2M400 28l8 2M245 63l12 2M175 54l4 1" stroke="#f070c0" stroke-width="4"/><path d="M269 62l5 0M45 63l34 -1M93 12l5 1M120 39l7 1M100 27l7 2M135 30l8 2M406 14l5 1M318 57l15 1M228 12l12 3M371 61l10 1M255 65l7 1M122 55l8 1M326 63l19 2M95 37l7 1M333 1l13 3M288 27l9 2M124 54l23 4M58 36l12 3M360 8l22 5M157 54l8 2M131 31l8 2M92 31l38 3M92 18l18 4M168 4l19 5M355 1l6 2M182 32l15 3M93 48l5 1M146 1l12 2M384 11l13 3M306 40l7 1M64 33l6 1M400 23l7 2M210 46l15 3M333 9l11 2M74 35l39 7M176 10l14 2M216 51l12 2M328 16l19 4M68 28l21 3M134 0l13 2" stroke="#7cdc48" stroke-width="2"/><path d="M249 196l4 0M414 258l7 2M424 122l3 -0M87 178l4 0M369 275l12 -1M187 189l5 0M291 190l11 1M70 284l4 0M87 266l10 1M185 221l10 2M387 86l3 0M231 68l13 0M200 203l7 1M266 275l6 0M263 197l3 0M350 241l4 0M150 243l9 1M352 73l5 0M215 120l4 0M77 124l3 0M177 78l3 1M418 252l4 0M92 215l2 0M186 79l14 2M186 132l3 0M159 197l2 0M393 290l4 0M410 273l4 1M72 255l3 0M93 227l4 0M164 78l4 0M179 106l6 0M360 93l6 0M72 203l15 1M248 149l8 0M334 77l4 0M235 179l7 0M202 303l6 1M145 89l8 1M399 206l6 1M324 151l3 0M256 115l3 0M307 295l6 1M389 229l5 0M146 97l8 -1M353 184l3 0M52 167l6 0M249 177l14 1M326 237l3 0M409 255l4 1M156 205l4 1M140 75l4 -0M138 68l10 1M413 155l5 0M236 88l6 1M84 165l5 1M162 203l5 1M271 217l11 1M139 188l9 1M87 222l8 1M68 90l6 -0M183 200l3 0M249 93l8 1M92 281l3 0M261 72l6 1M313 249l1 0M366 262l9 1M54 107l7 0M285 142l2 0M230 244l3 1M393 254l10 0M133 287l5 1M187 125l12 2M68 252l4 0M371 133l5 0M145 237l4 1M187 193l6 1M296 220l6 -0M265 200l7 1M313 200l6 2M185 71l6 0M426 136l7 1M226 144l6 1M152 93l6 1M286 250l6 1M260 76l7 -0M384 217l8 1M256 99l7 0M168 111l9 0M239 108l2 0M150 253l3 0M330 236l4 1M241 228l11 1M123 114l8 -0M186 91l1 0M226 153l8 0M108 178l4 0M137 85l3 0M181 109l5 1M113 259l11 2M231 156l11 1M70 164l7 1M403 92l3 0M89 135l4 0M201 247l4 -0M210 189l9 1M281 272l3 0M152 197l7 1M409 212l4 1M169 148l6 1M130 112l12 2M296 209l4 1M248 108l5 1M295 159l4 0M73 139l4 -0M58 279l4 0M93 275l9 1M193 111l4 0M128 257l7 1M419 281l6 1M125 184l10 1M403 298l5 0M271 158l15 2M53 78l3 0M316 255l4 1M191 218l9 2M130 244l6 1M66 129l4 -0M213 203l12 -0M133 285l6 0M184 263l4 1M301 227l5 0M244 132l9 1M388 94l20 1M272 208l13 2M219 205l6 0M365 289l4 0M325 87l6 0M191 208l9 1M267 223l3 1M421 181l13 1M68 74l12 1M252 185l8 1M202 218l5 1M171 215l3 0M404 265l4 1M348 120l3 0M269 115l8 1M108 187l7 0M323 94l4 0M356 304l7 0M190 206l2 0M199 177l9 1M236 235l7 1M243 298l6 1M138 90l5 -0M70 100l4 1M90 268l4 0M189 228l4 1M61 138l8 -0M315 229l7 1M133 294l2 -0M111 157l7 -1M152 119l4 -0M230 77l9 2M85 263l3 0M297 276l2 0M232 226l6 1M418 234l6 1M111 274l9 1M286 189l7 -0M136 141l4 -0" stroke="#3a44c4" stroke-width="3.5"/><path d="M206 23l5 1M271 48l9 2M183 2l13 3M383 20l10 2M251 58l9 1M405 16l3 0M430 19l6 0M73 44l9 2M326 33l6 1M272 4l4 1M405 19l15 3" stroke="#e83c9c" stroke-width="3"/><path d="M401 287l2 0M171 122l7 0M56 298l3 0M232 288l4 1M373 95l7 1M79 114l9 0M398 206l6 0M178 292l7 2M430 100l4 0M387 182l9 1M412 166l7 -0M165 78l4 0" stroke="#f070c0" stroke-width="3.5"/><path d="M202 7l7 1M351 46l11 2M325 2l5 1" stroke="#f08840" stroke-width="4"/><path d="M199 25l14 2M312 39l8 1M301 37l7 1M187 59l10 1M221 21l5 1M162 20l12 1M153 63l7 -0" stroke="#58c8e0" stroke-width="4"/><path d="M332 68l5 0M390 83l4 0M317 92l5 -0M104 91l10 0M120 92l4 0M308 208l6 1M307 147l8 1M285 101l4 0M387 251l3 0M230 272l6 0M343 180l10 1M390 275l6 0M54 93l5 0" stroke="#58c8e0" stroke-width="5.5"/><path d="M198 302l2 0M418 236l4 0M170 144l9 2M260 284l3 0M170 88l11 0M290 140l5 0M353 91l6 1M265 240l6 -0M197 256l4 1M104 289l7 1M113 263l5 0M147 112l5 1M381 115l5 0M131 157l5 1M97 204l8 1M310 141l7 0M183 283l4 1M297 146l10 1M118 239l6 1M336 130l12 -0M346 240l2 1M161 98l11 -0M299 241l10 2M155 225l4 1M282 174l5 0M131 221l10 2M305 273l3 -0M108 91l8 1" stroke="#58c8e0" stroke-width="3.5"/><path d="M92 2l12 1M291 1l7 1M61 28l6 1M178 32l5 1M414 42l9 2M208 63l5 0" stroke="#a8e870" stroke-width="2"/><path d="M154 11l7 2M313 45l9 2M369 21l7 1M226 30l19 4M232 12l10 1M387 47l7 2M382 34l5 1M385 24l5 1" stroke="#ece8f8" stroke-width="3"/><path d="M119 204l13 2M383 143l9 0M279 135l7 1M318 232l4 0M245 109l6 0M342 257l6 1M316 75l8 -0M87 90l3 0M78 237l10 1M374 229l10 3M374 237l7 -0M309 278l5 1M88 147l2 -0M427 71l7 0M197 117l6 1M341 207l9 0M144 82l5 1M285 303l9 0M139 125l6 1M205 301l6 1M376 233l13 0M155 256l14 3M274 302l9 1M160 280l3 0M76 300l9 0" stroke="#a8e870" stroke-width="3.5"/><path d="M227 12l7 2M248 8l13 6M362 59l8 1M404 26l7 1M102 36l17 4M193 65l12 1M337 47l5 0M293 36l8 1" stroke="#ece8f8" stroke-width="2"/><path d="M391 177l6 -0M256 287l15 2M72 164l4 0M309 85l17 2M221 299l8 1M234 268l7 0M191 298l8 -0M69 125l4 0M409 178l4 0M259 281l3 0M155 146l7 1M403 162l2 0M320 209l4 0M263 250l5 1M101 123l12 0M294 132l4 0M116 303l3 0M355 206l3 1M367 107l4 1M214 168l4 0M263 142l4 0M114 153l3 0M373 204l8 1M140 75l2 0M373 98l8 0M237 153l9 1M97 167l5 0M412 172l7 1M155 231l5 1M389 177l4 1M186 150l5 0M264 121l3 1M239 180l5 0M380 89l8 -0M386 160l7 1M80 205l5 0M295 154l3 0M125 176l6 0M292 71l9 -0M178 168l11 0M140 200l5 0M88 254l5 0M329 251l3 1M337 152l3 0M157 152l8 1M402 164l4 0M205 159l4 1M414 249l9 1M89 247l4 -0M186 261l4 1M89 151l4 1M285 250l3 -0M174 156l5 -0M388 138l7 0M413 158l6 1M172 168l6 -0M216 122l8 0M410 185l5 1M344 174l3 0M191 168l4 0M142 135l5 -0M126 293l7 1M187 252l11 3M256 264l14 1M66 139l7 1M331 207l6 1M93 164l5 0M287 169l4 1M348 175l2 0M306 85l6 0M91 303l3 0M261 225l4 0M277 108l2 0M182 94l8 0M133 100l6 1M358 100l3 -0M342 157l12 1M348 174l13 0M133 260l6 0M332 161l4 0M352 272l4 0M70 236l7 1M252 207l2 0M330 138l5 0M114 119l3 -0M329 138l6 1M222 168l5 0M162 297l5 0M362 207l15 3M424 149l9 2M185 165l3 0M338 156l7 1M146 215l4 1M66 159l3 0M175 123l6 1" stroke="#7cdc48" stroke-width="4.5"/><path d="M369 222l13 1M316 160l5 1M384 135l6 0M427 148l7 0M423 69l5 0M148 295l10 0M201 178l8 0M355 172l5 1M293 93l4 0M312 198l6 1M119 172l2 0M385 214l5 1M259 277l8 0M65 123l5 -0M204 304l10 1M394 85l6 1M233 149l7 -0M365 70l4 0M263 100l4 0M60 70l8 1M150 84l4 1M55 244l15 1M402 268l8 1M57 244l8 1M375 132l6 -1M362 254l4 0M268 152l7 0M121 245l9 1M263 205l3 0M159 159l2 0M241 149l9 1M316 207l7 1M235 209l8 2M186 174l2 0M56 97l8 1M249 170l2 0M351 252l13 1M392 184l6 1M153 75l3 0M112 120l4 1M328 88l3 -0M205 120l11 -1M82 163l3 0M119 95l2 0M117 159l10 -0M360 191l4 0M296 239l9 0M293 136l6 1M253 190l7 1M330 257l12 -0M372 155l3 0M66 296l8 0M423 144l4 0M390 135l3 0M409 226l6 1M196 162l5 1M323 173l11 1M298 113l6 0M390 246l15 3M62 199l3 0M344 236l4 1M126 245l9 0M402 170l5 1M135 221l7 0M200 279l4 1M194 135l3 0M342 71l8 0M420 271l3 1M119 146l7 0M404 178l3 0M361 290l6 0M167 278l7 1M407 262l5 1M416 301l6 2M83 174l4 0M273 304l4 0M168 156l4 1M202 155l6 1M175 149l3 1M62 208l4 1M251 235l7 0M177 144l13 0M195 171l6 1M173 107l6 0M251 140l7 1M426 200l8 1M77 140l3 -0M125 162l7 1M381 225l6 1" stroke="#7cdc48" stroke-width="2.5"/><path d="M307 303l7 0M391 272l4 1M179 256l5 0M334 76l25 1M356 295l4 0M177 227l5 1M96 229l4 0M385 266l4 0M225 72l11 1" stroke="#e4e448" stroke-width="4.5"/><path d="M144 64l9 1M292 2l7 0M58 65l7 1M143 3l9 2M64 26l13 2M366 38l5 2M331 30l16 1M76 19l10 2M351 8l5 1M74 43l14 3M153 49l17 1M141 39l4 1" stroke="#58c8e0" stroke-width="3"/><path d="M244 4l10 3M62 22l13 3M387 9l16 1M304 47l5 1M127 24l13 2" stroke="#4a8ae0" stroke-width="4"/><path d="M368 246l10 1M248 149l6 -0M160 118l4 1M265 188l7 1M140 133l2 0M176 93l1 0M70 137l5 0M69 160l9 1M406 135l2 0M348 294l5 1M255 106l7 0M327 224l6 1M274 274l2 0M360 210l8 2M131 285l24 3M395 155l10 1M389 121l3 0M158 128l4 0M298 118l5 0M158 194l4 1M218 101l2 0M395 83l5 0M54 107l5 -0M120 232l4 0M134 239l3 0" stroke="#7a48d0" stroke-width="5.5"/><path d="M134 109l5 1M177 232l4 0M248 135l4 -0M190 75l4 0M160 234l5 0M91 254l4 1M234 247l2 -0M236 107l7 1M54 124l5 0M397 86l13 2M378 94l4 0M221 255l5 1M383 99l8 1M113 87l6 0M141 175l5 1M295 69l3 0M416 90l4 0M335 252l10 1M377 98l6 1M123 292l5 1M239 93l2 0M238 79l4 0M98 193l5 0M353 267l8 1M315 100l9 1M137 227l4 0M258 136l4 -0" stroke="#58c8e0" stroke-width="4.5"/><path d="M420 247l8 1M407 129l8 1M369 277l8 1M112 186l6 0M54 134l6 0M113 250l13 2M297 251l8 0M400 156l6 -0M237 275l12 0M396 224l7 0M393 145l4 -0M131 85l3 0M313 271l6 1M54 77l4 0M400 294l7 0M280 113l5 0M231 244l8 1M128 167l6 -0M168 230l10 1M211 97l11 -0M380 80l6 1M420 201l8 2M171 260l9 1M245 149l4 0M393 278l8 0M375 138l9 0" stroke="#e83c9c" stroke-width="3.5"/><path d="M237 3l3 1M299 23l6 1M416 33l10 2M400 63l12 2M306 12l9 2M343 20l7 1M332 60l4 0M372 13l9 3M420 62l6 0M208 63l14 0M201 58l15 2" stroke="#7a48d0" stroke-width="4"/><path d="M101 265l5 1M352 153l2 0M149 263l3 0M391 183l5 1M68 141l6 0M337 171l3 0M178 80l4 -0M80 139l3 0M329 187l3 0M189 232l5 1M228 259l7 0M88 81l4 0M305 189l5 1M297 172l6 0M324 110l12 -0M369 88l4 0M67 124l9 1M66 115l4 0M108 109l5 0M423 222l10 -0M397 151l3 -0M252 248l5 0" stroke="#f08840" stroke-width="3.5"/><path d="M344 227l5 1M387 279l7 1M348 213l4 1M166 294l4 1M227 202l2 0M431 235l1 0M276 222l9 1M82 186l2 0M133 101l5 0M224 189l14 2M222 191l7 2M182 196l2 0M280 267l8 0M217 200l6 1M259 218l7 0M405 290l3 1M279 236l7 1M123 74l2 0M77 294l2 0M271 80l4 0M377 141l4 0M339 69l6 1M115 193l9 0M123 274l7 1M390 253l6 1M127 79l3 0M168 219l9 1M421 200l9 1M216 233l16 2M130 208l9 1M241 300l15 1M169 269l12 1M300 229l10 2M258 123l5 1M250 283l4 0M84 165l2 0M363 143l6 1M409 273l13 2M120 108l5 -0M132 192l5 0M351 175l8 -0M74 280l10 2M77 191l7 1M318 216l2 1M132 289l3 0M309 251l2 1M289 215l9 0M162 290l3 0M250 192l7 2M345 233l8 1M183 150l7 -0M152 90l8 0M387 210l17 2M208 203l3 0M321 247l2 -0M153 277l6 1M391 71l4 -0M250 196l13 1M154 283l2 1M180 120l2 0M258 223l3 0M250 111l7 1M124 128l4 0M84 128l8 1M222 111l8 0M79 193l6 -0M259 134l8 1M223 298l9 1M121 202l5 0M372 231l3 0M199 86l4 -0M403 228l7 1M231 135l9 -1M199 145l2 0M315 227l6 0M127 187l4 1M88 161l6 1M420 89l5 0M275 108l5 1M222 181l5 1M257 199l4 0M115 71l13 -0M137 225l6 1M149 203l2 0M90 134l7 1M63 192l5 0M250 290l2 0M168 218l9 2M172 267l7 1M137 270l8 0M414 232l3 0M309 72l8 1M216 232l5 1M141 164l13 0M265 218l7 1M60 151l3 0M182 202l6 1M129 171l4 -0" stroke="#3a44c4" stroke-width="5.5"/><path d="M277 19l16 2M133 4l20 4M427 52l10 2M294 67l6 0M55 42l16 3" stroke="#e83c9c" stroke-width="2"/><path d="M90 232l8 1M221 129l11 1M284 245l2 0M55 232l11 1M361 92l4 0M329 101l4 -0" stroke="#e4e448" stroke-width="5.5"/><path d="M166 181l6 0M101 186l5 1M157 261l7 -0M378 180l4 -0M317 132l6 1M212 154l5 0M117 229l8 1M364 249l2 0M343 149l4 0M185 77l5 0M164 253l4 -0M374 202l5 1M122 100l4 1M160 138l17 2M400 107l5 1M85 110l4 -0M101 101l6 1M59 109l3 0M246 197l10 1M277 177l4 0M229 226l11 2" stroke="#f08840" stroke-width="4.5"/><path d="M137 266l6 1M53 220l3 1M149 214l7 0M346 115l4 -0M123 79l5 1M55 272l5 1M391 270l7 1M67 189l4 1M344 229l3 0M56 183l8 1M357 216l4 1M184 134l5 0M100 251l3 1M374 292l6 0M175 83l12 1" stroke="#e4e448" stroke-width="2.5"/><path d="M254 40l14 3M316 17l18 4M216 59l23 3M374 30l5 -0M61 54l11 3M245 59l9 -1M70 25l6 2M108 22l11 2M258 1l7 2M359 7l13 1M200 60l8 1" stroke="#ece8f8" stroke-width="4"/><path d="M357 137l8 0M183 138l7 1M407 206l3 1M426 123l4 0M192 245l11 0M208 214l6 -0M108 140l2 0M77 152l7 1M371 143l2 0M206 260l7 0M99 194l3 1M275 88l6 1M168 148l3 0M350 137l9 1M151 238l9 2M304 74l9 0M337 287l9 1M115 283l8 0M202 257l5 1M337 220l4 1M100 169l10 1M311 302l6 0M267 104l2 0M350 305l5 0M55 280l4 1M243 289l2 -0M332 277l10 1M115 268l5 1M167 142l4 1M416 113l3 0M167 259l3 0M244 139l6 -0M122 106l5 0M234 81l3 0M59 297l6 0M157 302l5 0M64 273l14 2M158 119l7 1M114 207l9 1M116 142l8 1M394 220l7 -0M197 277l8 1M190 86l2 -0M184 86l2 0M321 214l5 1M155 135l3 1M430 211l6 1M311 131l7 1M105 125l19 2" stroke="#7a48d0" stroke-width="3.5"/><path d="M66 196l11 -0M136 296l8 1M366 287l4 0M309 113l6 -0M347 170l5 0M285 261l4 0M152 262l6 0M72 203l6 1M109 191l3 -0M152 267l8 2M273 286l5 1M425 210l9 -0" stroke="#f070c0" stroke-width="4.5"/><path d="M224 253l9 1M315 267l7 1M209 281l10 2M358 258l3 0M394 135l3 0M212 115l5 0M291 256l4 0M415 123l6 1M65 128l7 0M69 286l7 -0M260 144l11 0M69 300l5 0M177 263l3 0M399 233l2 0M295 77l7 -1M212 84l6 0M399 211l4 0M239 87l3 -0M60 95l10 2M132 208l10 1M332 79l3 0" stroke="#a8e870" stroke-width="4.5"/><path d="M92 202l9 0M125 222l7 1M373 69l8 0M82 230l12 1M105 198l4 0M174 291l3 0M424 87l2 0M160 202l6 1M179 263l8 1M364 228l3 0M286 76l3 0M268 81l6 0M111 256l14 2" stroke="#a8e870" stroke-width="5.5"/><path d="M379 3l6 1M270 0l17 3M192 57l8 0M209 11l7 1M126 3l6 1" stroke="#e4e448" stroke-width="3"/><path d="M327 44l9 1M162 39l22 4M223 46l8 1M315 64l11 1M197 65l8 1M226 65l12 0M220 27l10 3M101 47l12 2M187 27l8 1M156 46l8 0M61 51l4 1M65 4l11 2M269 14l6 1M73 30l34 5M390 37l34 5M89 64l5 -0M168 55l15 3M125 36l9 2M68 14l7 0M98 67l34 -1M325 8l10 2M293 22l6 1M359 15l5 1M196 35l12 1M315 62l4 0M341 20l14 4M152 51l23 5M235 64l12 1M343 49l5 1M160 54l12 3M137 44l6 1M51 24l17 3M198 53l5 1M387 5l13 3" stroke="#3a44c4" stroke-width="2"/><path d="M335 46l3 1M368 6l14 3M142 44l4 1M395 60l19 1M223 53l16 4M160 50l19 4M333 18l6 1M276 12l12 5M302 31l8 2M347 3l20 1M114 21l6 2M170 50l7 1M173 48l3 1M166 38l6 1M288 29l25 8M66 62l8 0M362 51l10 1M344 58l10 0M72 24l8 2M412 23l13 1M202 63l7 1M206 62l9 1M270 4l11 3M380 13l12 4M189 53l4 1M247 64l11 1M411 64l5 0M398 42l7 1M167 5l9 -0M292 14l8 1M185 65l4 0M405 0l16 3M151 55l9 1M314 9l9 1M314 22l7 2" stroke="#3a44c4" stroke-width="4"/><path d="M97 114l7 0M302 94l10 0M384 186l7 1M94 282l8 2M179 98l8 1M259 180l10 -0M380 268l3 0M133 142l17 3M236 90l6 0M186 299l9 1M277 132l6 0M196 251l6 0M270 222l3 0M303 289l3 -0M291 262l3 -0M273 169l4 0M179 294l6 0M418 113l9 2M214 249l5 0M182 134l7 2M327 198l7 0M229 295l5 0M319 132l5 0M380 221l9 0M334 243l5 -0M401 106l5 0M328 144l10 2M370 274l5 1M362 181l4 0M152 99l6 -0M288 298l4 1M186 198l16 2M183 188l11 0M176 114l5 0M117 272l3 -0M265 287l8 1M257 291l4 0" stroke="#ee3040" stroke-width="4.5"/><path d="M182 126l4 0M414 147l8 0M181 77l7 1M205 119l13 -0M394 264l7 1M323 290l8 1M417 130l3 -0M181 172l9 1M68 120l7 -0M321 94l8 1M91 71l7 -0M263 207l5 1M184 274l3 0M61 188l12 2M197 167l6 1M394 137l7 0M127 103l2 -0M295 232l3 0M316 216l10 2M408 282l9 2M91 238l13 1M328 291l6 1M210 188l5 0M328 208l6 1M290 182l7 1M355 113l7 1M154 245l10 2M242 254l5 0M146 77l10 1M236 211l5 0M391 219l1 0M378 213l3 0M272 220l4 0M101 235l14 2M377 198l3 0M421 146l7 1M58 214l3 1M130 286l9 1M136 259l2 0M97 116l4 0M328 287l5 0M288 116l5 1M349 217l7 1M402 182l8 1M151 209l11 2M251 69l5 1M370 225l8 1M360 129l5 0M131 243l5 1M413 279l7 1M327 77l9 1M161 88l4 1M221 109l5 0M294 114l9 1M387 155l7 1M61 71l3 0M205 290l4 0M350 202l4 1M370 252l3 -0M254 242l8 1M250 188l6 1M173 190l2 0M154 261l6 0M400 252l9 2M372 295l2 0M423 126l9 1M317 223l6 1M274 190l2 1M160 128l7 1M336 167l11 1M349 125l3 0M145 287l4 0M126 91l5 -0M215 187l8 0M134 242l5 1M331 222l3 1M82 106l5 1M110 169l3 0M143 182l4 0M236 208l5 0M368 104l5 1M146 268l2 0M108 125l8 0M175 208l4 1M307 150l7 0M61 74l6 1M194 175l2 0M370 117l4 1M79 189l3 1M195 221l3 0M243 215l14 2M173 189l3 0M156 77l10 1M270 277l7 1M200 287l5 0M342 202l7 1M137 101l3 0M291 218l4 1M328 233l11 2M283 69l11 0M221 121l5 1M373 254l6 0M60 269l22 2M362 74l13 -2M144 115l3 0M250 141l5 0M197 204l9 2M252 104l3 0M134 170l3 0M109 201l7 1M69 272l7 -0M127 71l6 0M430 86l5 0M62 88l4 1M303 78l6 1M109 299l5 1M158 139l3 0M272 248l2 0M349 70l6 1M182 179l3 1M61 192l4 -0M415 220l7 1M242 229l5 1M308 220l4 0M259 127l8 1M120 196l5 1M376 121l9 0M129 68l2 0M392 235l4 0M180 87l10 1M63 222l4 0M407 290l21 3M80 196l5 0M330 253l5 0" stroke="#3a44c4" stroke-width="2.5"/><path d="M389 288l7 1M303 284l2 0M368 261l6 1M98 239l14 2M395 288l3 0M259 70l5 -0M222 253l13 1M55 158l3 0M370 87l12 1M249 292l7 1M333 138l4 1M259 122l4 0M206 281l5 1M151 285l7 1M311 189l3 0M376 125l7 1M337 89l8 1M344 266l6 1M414 219l3 0M387 248l4 1M71 293l7 1" stroke="#ece8f8" stroke-width="3.5"/><path d="M163 147l5 1M174 78l7 2M403 212l6 0M191 257l3 0M68 151l9 -0M94 226l16 0M84 189l4 1M162 130l9 1M284 140l3 -0M118 271l3 0M70 218l4 1M160 233l10 0M142 265l3 0M390 84l10 0M95 214l9 1M133 213l3 0M382 239l5 1M403 299l11 0M213 101l8 -0" stroke="#58c8e0" stroke-width="2.5"/><path d="M202 91l4 -0M187 91l6 1M272 128l5 0M354 242l4 0M74 164l7 1M91 137l11 -1M120 223l11 2M331 246l5 1M351 267l5 0M367 124l12 -0M253 87l8 0M272 142l3 0M319 185l8 1M206 280l5 1M193 191l6 1M406 108l6 1M372 273l3 0M236 226l15 2M413 81l4 1M233 282l6 1M144 98l4 0M68 278l8 -0M423 147l4 0M79 260l7 1M57 133l3 1M389 261l3 0M144 223l11 2M201 301l5 0M422 259l5 1M284 199l4 1M213 92l8 1M229 204l3 0M236 180l2 0M109 286l7 1M392 148l9 1M146 226l3 0" stroke="#4a8ae0" stroke-width="3.5"/><path d="M176 102l6 0M71 215l5 0M419 192l17 0M400 199l11 1M246 271l6 1M59 118l1 0M392 261l6 1M278 268l6 1M371 182l7 1M360 186l3 0M403 292l7 1M200 225l4 0M417 260l2 0M312 183l5 0M70 89l7 1M339 278l3 0M344 246l13 1M378 221l8 1M131 300l9 1M239 137l3 -0M397 195l8 1M333 193l10 1M73 298l4 0M55 278l2 0M223 196l4 0M264 127l18 3M145 287l8 -1M326 289l3 1M60 175l5 1M403 120l8 0M404 142l11 1M80 75l9 1M63 74l11 -0M265 277l11 0M200 173l7 0M419 190l5 0" stroke="#ee3040" stroke-width="2.5"/><path d="M296 109l4 0M408 183l9 1M168 155l9 0M409 99l3 0M138 243l9 1" stroke="#f08840" stroke-width="5.5"/><path d="M278 297l3 1M327 151l7 0M426 69l7 1M419 92l2 0M390 287l4 -0M390 189l5 1M423 104l5 1M168 304l2 0M74 162l5 -0M241 82l2 0M295 142l5 0M103 209l5 0M335 194l7 0M172 142l3 0M96 70l12 -1M83 180l11 1M348 286l3 0M88 176l3 0M376 198l11 1M217 159l4 0M64 164l5 0M402 218l7 1M84 171l9 1M404 203l11 0M68 218l12 3M66 261l6 -0" stroke="#ee3040" stroke-width="5.5"/><path d="M152 50l12 3M226 15l22 1M360 39l8 1M327 49l3 1M345 9l14 1M415 41l15 3M51 43l9 1M173 50l9 2M130 15l9 1M405 46l5 1M229 31l25 1M176 56l3 0M278 40l17 3M151 46l4 1M374 62l16 -2M399 32l6 1M288 61l11 2M410 64l17 1M170 4l7 2M46 42l17 2M256 39l21 4M86 16l13 2M260 62l9 0M73 41l7 2M209 53l16 3M362 49l9 3M259 59l6 -0M366 60l14 1M98 38l5 1M342 13l18 2M291 2l12 2M121 46l4 0M153 54l16 4M369 1l8 1M145 25l10 1M354 47l15 3M54 18l14 2M381 15l5 1M352 66l12 1M121 5l9 1M122 48l13 2M191 45l5 1M360 38l3 1M154 60l7 0M179 56l10 -0M174 16l5 1M172 21l10 1M140 57l8 1M109 56l9 1M170 44l10 2M289 51l17 4M127 39l11 2M351 41l7 1M316 28l6 0M249 64l12 1M330 27l6 1M329 9l8 1M402 34l13 3M138 65l3 0M69 28l18 4M135 36l11 3M108 16l8 2M122 47l14 3M298 54l10 2M66 63l11 0M409 4l9 1M173 4l11 3" stroke="#3a44c4" stroke-width="3"/><path d="M265 34l12 2M271 45l14 3M379 36l6 1M221 32l17 4M187 19l10 0M420 48l17 1M235 39l15 1M423 66l15 2M375 16l22 1M285 14l8 2M218 28l6 2M404 29l8 0M299 43l17 4M148 65l9 1M249 32l17 2M274 37l7 1M135 18l5 1M185 38l16 2M209 59l9 1M265 52l7 1M409 48l8 1M146 33l7 2M84 51l14 4M236 36l7 1M86 40l8 1M123 35l18 3M206 37l9 1M364 24l8 2M137 27l11 2M331 38l7 2" stroke="#ee3040" stroke-width="4"/><path d="M94 170l6 0M420 169l4 0M362 173l7 1M163 153l4 0M335 278l13 1M215 195l15 1M89 230l10 1M362 136l6 0M262 175l15 -0M362 166l7 1M107 72l5 0M387 282l6 1M307 276l3 1M124 82l5 0M376 167l2 0M371 166l12 0M184 70l7 0M293 185l4 0M232 158l3 1M337 206l5 1M104 157l4 0M148 138l3 0M379 295l8 1M120 159l8 -0M82 91l10 0M132 159l4 0M123 142l4 0M363 268l5 0M110 210l3 0M332 90l3 0M428 271l4 1M189 117l3 0M311 122l4 0M167 240l4 0M222 170l13 1M74 115l6 0M129 157l18 -0M157 132l7 1M267 228l10 1M159 178l5 -0M398 137l4 -0M345 169l14 1M173 132l4 1M231 179l7 0M221 280l6 1M281 155l17 0M248 163l9 -0M282 167l4 1M331 153l5 0M347 260l3 0M387 167l10 2M304 140l5 0M229 259l8 1M183 167l6 1M336 149l12 2M200 285l2 0M258 71l4 -0M202 232l6 1M346 165l3 0M334 112l7 1M377 164l11 1M343 303l13 2M406 168l4 1M420 111l2 0M197 160l2 -0M53 170l11 -0M388 167l6 -0M327 254l7 1M342 75l3 0M345 161l4 0M303 135l9 1M238 104l4 0M65 143l2 0M99 250l4 1M158 138l3 1M226 173l10 1M167 147l14 1M74 69l2 0M112 159l5 0M239 249l7 1M240 145l3 0M381 178l10 1M97 232l6 1M186 134l6 1M121 155l6 1M136 192l5 -0M131 155l3 -0M363 158l4 -0M425 175l3 0M205 167l6 1M127 291l25 1M281 300l4 0M269 154l7 1M249 141l4 0M188 133l4 -0M331 157l3 0M188 170l2 0M193 155l5 0M283 92l9 1M62 89l2 0M139 118l4 0M363 165l6 0M246 176l6 1M418 278l7 0M205 264l5 1M233 253l6 1M312 117l5 1M262 71l5 1M93 145l6 1M65 292l2 0M137 75l3 0M386 225l6 1M100 69l7 0M178 174l11 -0M411 181l10 1M238 252l3 0M85 151l6 -0M259 249l5 1M104 133l5 0M217 128l5 -0M169 242l3 0M275 162l5 1M141 285l13 3M128 168l5 -0M286 194l7 2M395 134l3 1M220 173l11 2M412 83l7 0M267 85l5 1M221 147l5 1M422 287l3 0M408 243l8 0M189 140l2 0M232 88l3 0M172 272l12 2M376 76l14 1M358 154l10 1" stroke="#7cdc48" stroke-width="3.5"/><path d="M87 219l6 0M186 119l3 0M205 136l5 0M308 86l7 0M373 204l3 0M369 112l8 1M266 112l6 -0M137 266l7 1M63 100l3 0M246 87l10 0M222 144l22 4M55 122l7 1M196 135l6 1M393 84l4 1M291 191l6 1M115 209l6 1M237 151l5 1M246 138l5 1" stroke="#a8e870" stroke-width="2.5"/><path d="M92 103l4 -0M239 147l3 0M377 102l15 0M84 85l9 1M137 128l6 1M67 70l5 0M100 97l4 0M225 137l4 -0M245 250l12 1M170 118l15 0M89 138l3 0M126 99l5 0M86 93l4 -0M61 212l3 0M339 89l2 0" stroke="#f070c0" stroke-width="3.5"/><path d="M285 56l7 1M70 7l10 1M168 -1l16 4M422 1l15 4M417 47l13 2M402 55l5 1M377 57l11 0M129 58l9 1M310 37l4 1M76 55l12 1M271 61l10 -0M114 57l10 1M315 62l4 1M262 48l4 1M398 60l9 1M371 1l4 1M424 60l5 0M399 59l20 4" stroke="#7a48d0" stroke-width="3"/><path d="M77 58l7 1M157 28l17 1M366 42l9 1M246 19l9 1M392 18l19 3M117 43l9 1M193 36l9 0M50 41l19 2M299 66l12 1M100 45l6 0" stroke="#a8e870" stroke-width="4"/><path d="M296 257l16 3M267 170l3 0M249 169l5 0M166 91l6 1M238 88l13 -1M314 116l13 2M160 271l4 0M384 80l5 0M423 282l7 1M397 221l6 1M396 192l5 -0M263 182l6 -0M280 179l4 0M120 136l3 0M107 244l3 1M61 169l11 1M353 183l5 0M352 247l7 1M178 100l4 -0M299 120l2 0M70 135l2 0M263 148l9 1M178 100l5 1M290 268l7 1M349 192l9 1M182 223l10 0M281 129l10 -0M153 204l6 1M75 136l11 2M207 172l15 3M270 139l6 1M143 127l6 1M376 277l9 2M278 155l8 0M211 204l8 0M176 118l5 0M53 174l12 1M238 169l12 1M193 273l17 2M74 113l4 1M54 176l3 0M235 162l7 1M54 261l6 1M278 108l4 0M340 106l9 1M68 179l7 0M367 143l9 1M269 161l8 1M123 258l6 0M236 161l7 -0M371 218l7 1M401 191l3 0M263 202l9 1M50 225l18 -0M312 268l2 0M377 187l4 -0M271 260l6 0M202 205l9 1M400 135l6 1M405 248l2 0M424 236l9 1" stroke="#ee3040" stroke-width="3.5"/><path d="M179 232l6 0M325 203l2 0M81 247l4 1M285 214l11 1M142 226l5 1M99 217l3 0M127 215l3 0M125 219l5 2M237 137l7 0M233 154l3 -0M361 266l6 1M231 102l3 -0M395 125l8 0M303 95l1 0M323 289l7 1M365 212l11 1M50 103l12 1M271 255l3 1M287 207l13 2M364 121l4 0M152 214l10 1M143 263l9 1" stroke="#4a8ae0" stroke-width="4.5"/><path d="M153 194l4 1M400 224l3 1M342 291l4 0M418 137l4 0M122 144l6 1M134 169l8 1M190 124l9 1M278 235l12 1M189 130l3 0M393 243l4 0M313 264l8 1M421 100l3 0M177 199l4 0M151 175l15 2M154 247l3 0M269 86l5 1M239 211l8 1M331 299l3 1M64 78l3 0M191 193l8 -0M198 102l9 0M235 212l6 1M131 185l11 0M145 202l4 1M247 242l13 1M396 292l6 0M282 208l7 1M172 274l4 -0M199 245l12 1M340 224l6 0M62 174l2 0M322 232l3 0M312 155l7 1M167 89l1 0M204 193l3 0M169 252l7 1M154 264l3 0M112 170l1 0M176 190l12 2M238 299l5 1M151 255l7 1M179 74l3 0M279 286l4 0M347 267l11 -0M356 287l6 0M330 245l6 -0M67 82l2 0M227 103l5 1M321 295l6 0M184 71l3 -0M285 70l5 0M194 142l5 -0M158 175l5 0M300 232l8 1M200 185l8 1M369 233l5 0M333 222l15 -0M221 149l12 2M332 207l5 0M324 87l6 1M163 205l19 2M225 108l17 2M62 78l13 1M162 101l5 0M345 223l6 1M396 256l4 1M355 105l6 -0M184 157l8 1M267 90l11 1M91 192l10 1M131 74l7 -0M286 227l8 0M71 258l9 1M221 223l4 0M300 86l2 0M91 270l4 -0M344 246l9 2M88 95l14 3M259 213l8 1M236 249l5 1M351 238l10 2M261 136l7 1M419 134l3 0M270 104l2 0M105 166l3 0M239 192l6 1M352 113l11 2M227 223l9 2M162 84l12 1M143 210l2 0M390 223l4 0M168 196l5 0M184 216l7 0M182 273l6 1M351 240l5 1M319 261l9 0M215 126l11 1M161 185l2 0M263 219l5 0M327 73l12 1M210 120l4 1M293 234l8 0M177 76l13 1M336 138l5 1M140 190l5 0M356 304l6 0M159 200l5 0M79 290l7 0M295 219l4 0M369 267l4 1M128 249l5 0M251 285l4 1M277 245l2 0M242 200l4 1M212 202l4 1M286 189l5 0M92 178l4 0M173 188l7 2M210 201l6 0M359 292l16 1M222 262l6 1M318 233l9 1M254 282l3 0M130 184l3 0M89 230l5 -0M183 87l5 0M139 250l7 1M67 106l4 0M88 257l4 0M56 101l10 -1" stroke="#3a44c4" stroke-width="4.5"/><path d="M148 27l5 1M121 57l3 0M284 0l8 2M59 31l16 1M90 61l9 0M282 15l12 1M93 65l9 0M328 5l5 1M99 34l12 1M336 37l13 3M386 0l10 2M67 40l4 1M60 15l9 0M118 35l14 4M285 4l5 1M74 1l3 1M363 52l14 4M309 39l10 2M105 55l12 3M96 42l7 1M370 43l11 2M128 34l6 2M108 46l11 1M305 16l15 2M111 5l9 3M85 35l7 1M396 3l38 4M208 20l15 4M241 21l7 1M411 15l23 2M84 58l12 2M110 58l12 0M103 33l7 1M368 3l14 2M369 51l7 1M111 4l6 1" stroke="#7cdc48" stroke-width="3"/><path d="M230 69l3 0M89 215l4 0M261 255l3 0M303 283l11 2M408 272l4 1M316 271l5 1M360 126l6 0" stroke="#f070c0" stroke-width="5.5"/><path d="M407 204l8 0M183 275l12 2M216 110l11 -1M270 80l6 0M274 78l4 1M411 141l8 1M244 115l4 0M52 195l11 2M74 234l5 0M266 183l3 0M246 267l9 0M199 113l2 0M80 225l3 1M398 254l6 1M111 186l13 2M297 251l10 1M235 260l6 1M311 258l5 1M188 68l6 -0" stroke="#ece8f8" stroke-width="2.5"/><path d="M52 18l15 4M184 64l9 1M152 20l5 1M315 57l8 0M252 12l4 1M203 65l18 1M267 39l10 1M191 15l7 1M213 9l10 3M232 6l11 3M304 62l11 2M155 62l25 2M267 13l5 1M406 49l9 1M135 6l9 3M149 31l20 2" stroke="#7a48d0" stroke-width="2"/><path d="M207 40l12 3M279 24l10 2M54 28l8 2M401 3l13 3M95 8l13 2" stroke="#f08840" stroke-width="2"/><path d="M361 147l15 2M381 234l7 0M331 107l3 0M54 99l3 0M269 68l6 1M65 233l9 1M219 93l6 1M189 225l3 1M287 225l5 1M343 178l9 1M358 145l13 2M288 69l10 -0M246 140l5 0M79 125l8 -0M262 249l8 1M109 178l4 1M391 88l8 1M226 245l5 0M399 115l5 1M63 113l3 -0M96 187l4 0M131 299l2 0" stroke="#ece8f8" stroke-width="4.5"/><path d="M335 242l6 2M58 280l9 2M61 268l9 1M166 128l2 0M135 105l4 0M301 295l4 0M332 142l10 1M290 101l4 0M309 269l3 0M170 260l5 1M383 124l4 0M243 161l3 -0M283 278l5 1M422 77l4 0M330 101l11 0M103 243l5 -0M170 74l10 1M63 117l5 -0" stroke="#e4e448" stroke-width="3.5"/><path d="M126 39l11 3M302 31l10 1M418 7l20 4M367 48l8 2M146 35l9 3M190 6l27 4M277 2l11 3M123 40l12 2M94 33l9 2M263 29l13 2M101 40l14 3M259 3l12 2M345 9l11 3M358 4l14 2M294 22l13 3M63 11l6 1M114 32l5 1M82 35l10 1M90 26l6 2M69 66l8 1M123 31l19 5M59 25l11 2M76 19l14 3M268 23l22 5M370 58l8 0" stroke="#7cdc48" stroke-width="2"/><path d="M348 49l14 2M267 63l13 2M119 7l4 1M123 10l6 1M357 7l20 4M312 19l14 1M305 38l19 3M413 51l7 1M323 13l12 4" stroke="#f070c0" stroke-width="3"/><path d="M98 3l22 4M62 15l17 3M267 36l6 2M244 4l10 1M426 14l13 3M133 12l7 1M403 27l9 3" stroke="#e4e448" stroke-width="2"/><path d="M155 121l3 -0M81 168l5 1M135 79l5 -0M66 111l3 0M319 273l4 1M130 99l2 0M140 215l5 0M261 99l7 0M355 70l6 1M332 248l5 1M194 85l7 0M57 69l5 -0M410 279l7 2M365 82l4 1M348 138l4 0M353 123l5 0M219 216l3 0M61 201l3 0M306 267l2 0M114 126l18 1M202 78l5 0M269 261l10 2M119 280l6 1M92 140l7 -0M388 74l4 0M369 261l21 2M71 88l11 1M144 217l4 0M222 119l4 0M136 258l3 0M326 87l10 1M380 226l5 0M387 223l2 0M379 212l2 0M288 73l6 -0M247 103l7 -0M286 101l5 0M128 217l3 0M299 96l4 1M422 83l5 1M278 271l4 -0M184 271l2 0M155 277l3 0M189 205l7 1" stroke="#7a48d0" stroke-width="2.5"/><path d="M52 53l30 3M78 1l15 5M414 12l4 1M87 63l6 0M176 1l6 1M216 20l9 1M60 33l6 2M261 19l6 0M413 25l21 7M307 19l10 2M387 64l15 1M78 28l15 3M66 32l9 3M108 46l6 2M148 32l9 2M62 33l10 1M400 2l9 2M160 42l10 2M179 16l12 2" stroke="#7cdc48" stroke-width="4"/><path d="M235 60l7 1M61 20l5 1M386 13l21 4M285 18l11 1M389 52l7 1M319 39l11 2M288 10l9 1" stroke="#4a8ae0" stroke-width="3"/><path d="M118 181l7 1M120 108l7 1M252 147l4 0M101 245l11 2M346 177l6 0M178 151l8 1M92 149l5 1M267 214l3 0M117 149l2 0M58 240l4 0M58 108l3 0M350 152l7 0M418 184l7 -0M239 162l2 0M418 67l2 0M104 144l3 0M220 181l5 0M387 178l7 0M204 233l7 1M388 261l3 -0M373 265l3 0M370 190l9 1M110 157l4 1M80 283l5 0M55 133l6 0M274 132l3 0M311 139l10 0M124 282l12 2M153 178l5 0M87 247l5 1M370 82l4 0M139 266l7 0M284 166l2 0M401 202l5 1M227 287l5 1M89 300l4 0M342 172l3 -0M142 156l6 2M231 272l5 1M383 189l3 0M323 112l2 0M280 162l6 1M181 91l4 1M246 252l14 2M123 68l7 0M327 107l14 1M327 79l13 0M212 155l8 1M179 156l3 0M55 280l9 0M117 146l3 1" stroke="#7cdc48" stroke-width="5.5"/><path d="M65 134l15 -0M78 252l6 1M174 230l3 0M192 138l5 0M100 116l4 0M295 283l7 1M399 220l2 0M60 275l4 1M322 185l4 -0" stroke="#4a8ae0" stroke-width="5.5"/><path d="M280 300l4 1M247 253l4 1M214 92l2 0M289 220l5 1M83 229l8 1M176 205l2 1M191 180l8 1M250 210l12 2M230 115l8 -0M219 181l9 0M421 113l5 0M412 274l4 0M112 93l8 1M147 263l3 0M187 183l10 1M409 253l7 1M229 111l3 0M216 213l2 0M82 160l5 1M242 126l11 1M97 191l10 -0M105 177l11 1M427 234l3 1M409 91l4 0M428 163l4 -0M425 299l7 1M354 75l8 1M159 302l6 0M205 215l7 1M295 252l2 0M76 280l6 1M377 224l7 0M337 235l7 1M63 102l4 0M365 74l3 0M147 191l5 1M224 129l5 0M210 80l4 0M141 92l7 0M246 204l5 0M186 98l6 1M372 91l4 0M139 187l6 0M371 105l5 -0M129 203l8 1M163 220l6 2M413 264l3 -0M96 112l5 0M333 241l3 0M269 231l6 1M287 100l4 -0M194 209l5 1M210 176l7 0M306 143l12 -0M356 131l6 1M129 114l4 0M179 188l14 1M176 91l5 0M220 187l9 2M83 138l8 0M158 203l6 1M116 173l7 1M272 199l8 0M214 217l11 0M152 196l2 0M146 245l4 0M411 238l4 0M279 219l5 1M255 227l4 1M410 95l7 1M410 93l4 0M144 293l6 1M220 217l5 0M415 229l10 -0M61 125l3 -0M326 187l17 0M374 150l4 1M368 284l5 0M167 130l5 1M409 259l16 3M128 212l3 0M284 199l5 1M225 256l8 1M116 175l6 1M167 204l3 0M105 117l9 1M221 221l4 0M346 68l2 -0M111 120l5 0M343 102l7 0M351 74l7 1M64 225l9 0M303 295l6 1M224 261l3 0M297 265l5 1M142 100l5 1M416 206l5 0M236 67l9 0M253 222l7 1M175 116l10 1M125 256l7 0M300 238l8 2M383 280l4 1M311 203l6 1M412 77l4 0M425 75l14 -2M193 222l6 0M228 224l7 1M191 134l4 0M246 124l3 0M392 251l3 0M311 268l5 1M348 126l7 0M244 143l8 1M176 259l4 0M87 282l2 0M296 305l12 1M359 106l7 0M260 107l4 0M303 194l9 1M230 217l4 0M387 113l4 1M310 92l3 0M362 87l13 3M366 269l6 1M145 295l2 0M400 101l14 1M61 88l3 -0M208 199l5 1M81 291l3 1M87 148l13 0M243 238l1 0M192 110l3 0M207 67l9 1M165 251l9 1M313 292l3 0M394 267l5 1M221 192l4 1M241 245l12 1M94 93l3 0M156 210l3 0M401 135l7 1M390 204l4 0M129 166l5 1M219 206l6 1M63 185l7 1M102 239l9 1M392 286l9 -0M305 270l4 0M223 220l5 1M309 216l4 1M219 183l1 0M145 185l4 0M429 203l4 1M338 272l4 1M117 144l5 1M171 190l8 1M75 69l9 2M305 271l5 1M56 195l3 0M303 225l7 0M132 92l4 -0M397 256l3 0M431 91l5 0M192 192l3 0M406 93l5 0M66 76l7 -0M186 209l14 -0M286 265l4 0M91 248l4 1M371 298l7 1M217 183l7 1M51 107l10 2M160 199l3 1M260 186l8 1M379 138l6 0M354 213l7 2M315 225l3 0M294 222l4 0M344 266l4 0M379 147l8 1M197 200l3 -0M114 167l6 1" stroke="#3a44c4" stroke-width="3.5"/><path d="M185 42l7 2M302 37l10 2M148 36l4 0M193 41l10 1M350 19l15 3M130 20l12 3M273 44l9 2M188 24l4 1M54 36l6 1M260 53l12 3M307 1l12 3M241 37l7 1M309 55l8 1M144 24l8 1M128 18l7 1M175 34l9 1M182 34l8 2M118 25l37 7M247 39l11 3M119 46l13 3M168 32l10 1M70 8l14 1M239 44l6 2M191 23l11 1M164 42l16 2M296 9l3 1M295 51l8 1M348 31l11 3M150 19l12 2M194 30l12 4M173 38l12 2M267 0l17 4M317 38l13 1M423 53l11 2M295 49l4 1" stroke="#ee3040" stroke-width="3"/><path d="M264 163l4 0M179 284l8 2M259 272l11 1M173 229l5 0M250 276l5 0M199 296l12 0M136 289l5 0M298 176l5 0M339 190l4 1M122 219l4 1M71 203l3 0M262 115l9 1M332 273l9 -0M287 207l9 2" stroke="#f08840" stroke-width="2.5"/><path d="M155 245l5 -0M360 126l4 1M272 103l5 1M163 286l6 -0M91 290l3 0M302 102l4 1M89 255l5 1M317 295l3 0" stroke="#e83c9c" stroke-width="5.5"/><path d="M275 77l5 0M422 149l14 -0M424 210l14 1M274 203l4 0M382 107l6 1M311 139l6 -0M205 257l6 1M354 106l8 0M306 247l8 1M245 139l3 0M252 243l7 2M421 122l9 1" stroke="#f070c0" stroke-width="2.5"/><path d="M196 141l7 0M74 128l13 -0M151 301l11 1M380 158l5 1M338 173l4 0M135 275l6 0M102 102l8 1M244 230l7 0M248 121l2 0M199 302l2 0M192 98l7 -0M120 117l3 0M408 80l4 -0M365 136l7 0M99 260l5 1M174 288l3 0M228 298l5 1M297 229l5 1M71 289l3 0M423 231l6 0M114 279l5 0M90 274l7 0M272 263l3 0M358 94l2 0M156 296l6 0M375 221l10 1M157 145l3 -0M261 95l2 0" stroke="#e83c9c" stroke-width="4.5"/><path d="M79 7l5 1M221 19l6 1M134 56l5 1M329 55l13 2M307 25l12 0M334 1l13 4M53 53l6 2M246 25l8 1M403 1l9 2M342 41l6 1M292 25l9 1M269 58l17 0M292 6l11 1M112 55l13 3" stroke="#a8e870" stroke-width="3"/><path d="M234 294l9 0M236 285l2 0M404 200l5 0M418 104l11 -1M197 73l5 1M321 182l6 1M138 276l2 0M343 84l9 1M315 214l6 0M64 222l4 0M289 102l6 0M53 96l6 -0M131 263l9 0M131 240l3 0M300 248l5 1M105 276l4 1M375 247l4 1M69 212l7 1M284 75l3 -0M310 174l6 1M388 140l12 -0M313 185l4 0M392 85l8 1M247 82l6 0M324 180l10 2M76 274l6 0M418 293l5 1M374 146l4 0M428 241l3 0M367 143l3 0M162 256l10 0M430 300l6 1M427 150l9 1" stroke="#7a48d0" stroke-width="4.5"/><path d="M336 50l5 1M150 29l8 2M62 26l10 1" stroke="#f070c0" stroke-width="4"/><path d="M121 19l7 1M178 48l12 4M172 65l24 1M418 13l19 4M425 26l6 2M55 64l10 1M171 49l26 5M373 65l11 0M402 17l5 0M275 19l39 10" stroke="#58c8e0" stroke-width="2"/><path d="M213 92l7 0M110 301l5 1M191 276l6 0M169 103l7 -0M223 218l5 0M183 151l8 0M375 103l4 0M135 100l6 1M167 124l3 0M95 171l5 1M150 113l5 0M58 241l2 0M184 250l2 0M298 292l4 1M106 278l11 1" stroke="#ece8f8" stroke-width="5.5"/><path d="M327 47l21 4M285 22l32 8M165 57l4 0M419 3l7 2M369 59l6 1M302 1l6 1M407 34l6 1M241 66l4 0" stroke="#4a8ae0" stroke-width="2"/><path d="M411 117l5 0M328 225l9 1M421 195l5 0M357 179l6 1M190 299l5 0M429 199l4 1M302 141l5 1M325 84l3 0M119 278l2 0M369 271l6 0M263 281l3 0M418 143l3 0M68 277l6 1M80 225l5 1M395 93l8 1M295 200l4 -0M193 104l7 0M114 287l6 1" stroke="#e83c9c" stroke-width="2.5"/><path d="M276 51l10 2M210 -0l7 2M96 36l5 2M308 31l19 6M420 40l10 2M372 4l9 2M323 15l6 0" stroke="#e83c9c" stroke-width="4"/><path d="M190 45l23 6M156 5l7 2M384 14l15 4M162 57l10 1M233 0l13 3M289 66l10 -0M117 6l4 0" stroke="#f070c0" stroke-width="2"/><path d="M369 125l7 0M155 238l7 1M129 232l2 0M221 119l3 0M228 155l4 1M158 169l12 -0M386 107l5 0M247 174l8 1M322 289l5 1M295 287l8 1M267 118l5 1M291 261l7 -0M344 99l3 0M295 214l8 0M206 95l8 1M180 69l11 0M150 227l4 0" stroke="#4a8ae0" stroke-width="2.5"/><path d="M238 18l5 2M60 27l30 5M363 18l7 1M62 51l6 1M245 18l9 0M197 64l14 -2M213 62l11 1" stroke="#f08840" stroke-width="3"/><path d="M373 37l8 0M111 43l11 2M284 36l13 1M151 23l6 1M130 12l9 4M394 63l9 0M389 50l13 2M342 2l5 1M266 58l11 1M323 44l9 1M142 49l12 2M297 65l9 1M400 30l10 1M239 63l15 0M148 13l5 2M260 39l15 4M241 29l13 3M288 14l17 5" stroke="#e83c9c" stroke-width="3"/><path d="M109 42l8 2M334 35l22 5M107 17l18 3M165 43l16 3" stroke="#e4e448" stroke-width="4"/><path d="M59 51l5 2M205 24l16 3M160 40l7 2M73 64l6 0M230 43l8 2M200 52l11 2M245 38l14 1M315 1l8 2M101 4l11 2M261 40l16 1M221 29l6 0M282 48l8 2M417 26l10 1M149 37l25 7M413 38l26 6M311 29l20 5M230 45l6 0M158 20l32 3M172 20l6 1M91 59l21 1M320 36l40 2M50 44l25 3M294 2l5 1M381 1l17 4M52 40l7 1M331 14l9 2M315 22l7 2M180 40l20 4M62 47l13 2M292 19l12 2M402 21l16 4M402 32l9 2" stroke="#ee3040" stroke-width="2"/><path d="M282 220l4 0M158 178l9 1M376 135l8 1M344 241l9 2M51 81l11 1M184 290l2 0M96 230l6 1M313 256l5 1M129 88l7 -0M81 300l4 0M230 228l7 1M68 127l4 -0M401 143l6 2M261 239l5 1M373 289l6 0M222 251l3 1M196 209l6 -0M351 223l7 1M257 95l5 0M319 272l8 0M199 208l7 0M338 266l7 1M319 197l11 1M74 216l10 1M347 208l4 1M243 177l6 0M418 225l7 1M281 132l5 0M194 143l3 0M186 106l6 0M69 167l4 -0M136 291l2 0M84 202l5 1M187 178l10 1M95 87l5 0M217 218l7 1M51 226l9 1M142 212l4 0M67 99l3 0M290 302l10 1M258 196l7 1M301 250l8 1M333 213l10 1M290 120l5 0M172 136l6 0M383 234l6 -0M321 266l2 0M130 194l7 0M55 230l7 0M404 124l6 0M240 294l3 0M398 231l3 0M403 242l8 1M370 176l7 1M365 216l8 0M322 213l6 0M373 282l3 0M103 223l6 1M90 126l6 0M238 253l4 0M193 113l10 1M56 69l4 0M388 138l4 0M250 241l10 1M303 215l4 0M361 255l3 0M134 95l5 1M263 122l7 2M156 214l6 1M190 86l13 -0M162 123l10 -1M112 122l8 1M322 234l15 2M100 257l4 0M209 176l5 1M401 204l19 5M137 188l3 0M90 72l6 0M265 179l4 0M243 172l5 0M202 205l3 0M72 272l4 -0M216 227l9 2M145 196l3 1M236 108l4 0M306 219l8 1M197 123l7 1M207 184l5 0M156 88l13 1M164 217l6 0M269 284l5 1M367 223l7 1M419 96l4 0M175 194l5 0M213 69l6 -0M373 253l4 0M192 79l8 -0M98 294l7 1M201 175l6 0M325 234l6 1M396 124l12 2M384 276l10 2M77 241l9 0M73 142l6 0M132 181l5 1M116 286l4 0M267 117l5 0M214 177l9 0M279 191l6 1M312 72l8 0M158 178l6 1M202 265l9 0M57 171l3 0M69 73l8 1M142 248l4 0M329 245l4 1M63 70l6 1M75 293l3 -0M221 158l11 1M405 250l2 0M195 222l8 -0M142 132l8 1M374 117l4 0M101 171l9 -1M219 209l4 0M115 175l7 1M146 84l7 0M274 300l7 2M211 268l17 1M364 123l10 1M53 229l7 1M251 208l4 0M231 220l8 1M406 133l12 1M293 204l9 1M188 83l8 1M240 235l5 0M178 263l5 1M220 69l14 2M284 74l12 0M307 246l6 1M94 160l3 0M340 205l7 1M321 206l5 1M232 83l11 1M395 201l12 1M185 215l7 1M58 198l5 1M52 270l6 1M397 77l5 -0M264 177l5 1M214 184l6 0M49 245l12 1M57 253l3 0M294 208l8 1M193 135l5 1M359 149l5 0M164 179l5 0M273 104l5 0M181 128l7 0M259 223l6 1M220 120l4 0M314 99l5 1M196 97l11 1M394 203l6 0M351 283l5 1M74 172l6 0M243 192l3 1M75 184l14 1M138 282l7 2M207 239l6 0M428 211l2 0M281 156l7 -0M354 249l6 0M382 192l6 0M318 212l4 0" stroke="#3a44c4" stroke-width="3.5"/><path d="M152 27l9 2M414 20l5 1M130 21l6 1M365 36l9 1M382 21l5 1M424 26l9 2M206 25l20 4M330 48l14 2M301 46l9 1M132 9l14 1M213 45l17 4M340 23l4 1M81 27l7 1M345 59l21 -2M253 34l9 2M74 52l8 1M379 59l10 0M223 34l5 1M233 31l5 1M403 31l4 2M175 37l12 1M121 1l13 4M291 47l4 1M128 25l9 1M70 37l20 4M365 9l4 1M227 33l6 1M237 13l15 2M367 20l24 4M111 21l14 3M362 30l22 5M179 39l14 0M208 48l11 1" stroke="#ee3040" stroke-width="4"/><path d="M261 8l12 2M169 42l9 2M122 41l13 1M201 60l8 0M100 11l15 2M421 20l12 2M294 54l12 2M345 64l10 0M325 33l21 5M256 12l13 3M100 43l23 5M350 48l12 2M230 62l12 1M283 20l7 2M276 40l6 1M61 61l11 2M312 15l11 2M113 18l7 1M351 50l16 4M343 6l9 1M192 53l11 1M187 57l4 -0M140 13l8 1M87 38l6 1M132 52l8 1M186 59l12 1M140 16l11 3M279 27l10 2M143 59l19 0M119 41l5 1M427 43l5 1M273 6l8 2M204 4l12 1M180 12l6 1M336 63l12 1M405 9l18 4" stroke="#3a44c4" stroke-width="4"/><path d="M358 67l5 -0M334 13l13 2M250 25l4 1M196 16l13 3M96 12l4 1M336 48l8 1M265 34l10 1M228 31l7 0M386 62l14 1M286 48l9 2" stroke="#f070c0" stroke-width="3"/><path d="M399 256l5 0M94 140l6 0M263 82l4 0M95 247l9 2M178 235l4 0M364 88l6 1M427 277l3 0M225 236l5 0M255 298l4 0M167 119l3 1M118 119l6 1M60 225l7 1M342 90l4 1M300 296l7 2M74 102l5 0M220 74l5 0M354 84l4 0M420 153l11 2M223 285l12 2M253 76l6 -0M235 204l5 1M120 90l5 -0M81 170l8 1" stroke="#ece8f8" stroke-width="2.5"/><path d="M338 67l3 0M380 302l10 -0M204 184l6 0M393 91l11 1M189 100l6 -0M205 199l6 1M241 297l7 1M275 285l6 1M406 154l6 1M140 232l4 0M309 206l6 1M281 291l8 -0M111 214l7 1M219 129l4 -0M412 121l2 0M61 94l5 1" stroke="#f070c0" stroke-width="3.5"/><path d="M317 118l11 1M138 251l6 1M330 88l2 0M366 184l5 0M303 282l5 1M141 295l9 1M191 70l6 1M150 190l6 0M245 112l4 -0M362 145l4 1M249 86l8 0M178 236l6 1M253 160l5 0M293 253l7 1M309 117l3 0M403 139l6 1M370 196l7 1M217 189l4 0M185 200l5 0" stroke="#4a8ae0" stroke-width="4.5"/><path d="M325 29l6 1M202 10l5 0M164 28l14 2M404 64l11 1M123 54l11 2M340 45l4 1M92 48l7 1M346 13l17 2M53 17l9 3" stroke="#a8e870" stroke-width="3"/><path d="M137 219l5 0M125 117l5 0M134 222l4 1M55 106l5 -0M250 277l13 2M222 246l4 1M177 124l4 -0M195 267l4 0M416 294l7 1M253 170l10 1M426 291l3 -0M204 253l4 1M346 85l8 1M150 237l8 1M107 226l4 0M320 151l5 0M106 127l8 0" stroke="#4a8ae0" stroke-width="5.5"/><path d="M349 158l6 0M283 278l9 1M266 98l9 1M83 262l3 0M269 302l3 1M57 214l3 0M258 184l9 0M270 138l11 1M370 273l5 0M204 302l7 1M368 230l6 0M202 264l5 1M312 142l5 0M313 72l12 -0M272 103l4 0M173 149l2 0M271 277l6 1M284 259l5 1M383 122l2 -0M268 124l3 0M73 223l1 0M344 302l3 0M59 187l4 0" stroke="#a8e870" stroke-width="4.5"/><path d="M275 285l3 -0M384 296l9 2M146 106l5 0M56 296l10 2M262 219l5 1M358 171l7 1M393 207l6 0M367 291l10 1M313 294l5 0M295 183l8 1M405 102l5 0M390 239l5 1M314 272l2 0M319 260l3 -0M171 223l5 0" stroke="#e83c9c" stroke-width="5.5"/><path d="M93 149l6 0M275 69l3 0M126 170l7 0M335 90l2 0M311 131l3 0M99 122l5 1M330 78l4 -0M417 289l6 1M79 150l4 0M259 250l6 -0M316 132l8 1M290 109l6 0M125 201l4 -0M350 240l16 3M218 75l4 -0M384 87l12 1M193 164l9 1M297 272l7 1M377 182l5 0M206 168l4 0M328 176l3 0M346 250l3 0M389 184l8 -0M392 178l4 1M297 266l3 0M395 182l19 -1M293 231l8 1M234 144l11 0M349 301l2 0M177 160l9 1M133 171l4 0M309 156l5 1M237 89l7 1M372 302l12 1M154 243l3 0M266 154l7 -1M142 163l6 0M349 180l11 -1M53 138l10 -0M425 144l8 1M247 261l7 1M269 250l10 0M160 170l3 0M79 246l5 1M76 128l5 0M71 68l7 1M411 174l4 0M202 156l5 0M343 172l11 -0M177 268l9 1M141 139l9 0M123 164l8 0M211 192l5 -0M62 254l16 1M317 156l3 0M316 248l1 0M322 202l5 1M365 160l16 0M287 160l7 2M204 263l4 0M396 217l9 -0M315 121l5 0M323 96l4 0M410 95l8 1M92 156l8 -1M249 169l3 0M318 292l5 -0M129 147l3 -0M231 156l6 1M130 259l8 0M289 268l6 1M187 284l4 0M270 178l9 1M144 147l4 -0M137 245l7 1M218 135l7 1M181 107l10 -0M312 143l4 0M92 152l8 0M181 72l6 0M413 101l8 1M67 160l7 1M262 174l3 0M194 299l4 1" stroke="#7cdc48" stroke-width="2.5"/><path d="M77 44l12 2M54 38l14 3M81 41l18 3M286 28l5 0M61 42l7 1M224 25l13 2M259 39l11 2M280 47l12 1M181 29l6 1M233 42l16 2M274 34l3 0M332 21l14 3M210 10l7 1M267 48l12 3M227 34l3 1M280 47l4 1M72 5l6 1M78 17l8 2M429 33l6 1M194 16l6 1M276 30l11 1M213 48l12 3M217 25l4 1M384 21l12 3M268 32l6 1" stroke="#ee3040" stroke-width="2"/><path d="M53 60l9 1M181 12l12 1M428 56l9 0M342 47l8 2M86 29l11 1" stroke="#ece8f8" stroke-width="4"/><path d="M161 254l6 1M184 295l6 -0M390 110l4 0M201 226l3 0M166 76l5 0M174 114l2 0M196 257l8 1M340 86l2 0M175 111l5 1M254 132l6 1M428 89l7 1M150 110l3 0M249 86l11 1M106 287l3 0M309 184l8 0M395 161l8 1M428 271l9 1M409 151l3 0M221 81l2 0M145 113l9 -1M422 239l11 2M129 266l7 0M412 206l4 0M366 197l4 1M123 297l4 1M283 239l7 1M222 126l10 0M365 125l4 0M50 234l15 1M332 303l6 0M150 113l3 0M262 286l8 1M230 73l18 1M334 163l5 0M78 234l10 1M127 156l9 3M164 142l10 1M402 225l10 1" stroke="#e83c9c" stroke-width="3.5"/><path d="M144 27l5 1M277 58l7 1M62 31l6 0M204 21l6 1M49 21l20 2M352 36l7 2M139 18l7 2M228 58l7 0M282 52l6 1M218 44l6 1M113 3l25 6M56 13l5 1M95 18l7 1M426 46l5 1M396 54l15 2" stroke="#4a8ae0" stroke-width="3"/><path d="M328 14l3 1M219 31l8 1M288 13l9 2M353 44l6 1M209 55l5 1M159 0l14 3M406 41l21 6" stroke="#e4e448" stroke-width="2"/><path d="M347 130l6 0M338 148l8 1M86 168l5 -0M267 219l6 1M220 127l5 1M415 146l4 1M275 202l5 0M322 125l6 1M161 78l6 0M163 97l8 0M358 87l10 -0M241 154l3 0M268 89l5 1M417 97l6 1M404 211l10 1M170 94l3 0M342 119l6 0M278 279l10 2M424 125l8 1M408 146l6 -0M80 205l5 1M60 277l4 -0M126 131l2 0M288 140l9 1M370 119l4 -0M401 77l4 0M347 205l11 2M331 130l9 -1M54 221l5 0M403 160l5 1M351 222l2 0M201 111l2 0M240 69l8 1M311 215l4 1M247 175l8 1M68 230l4 0M324 270l4 0M322 146l10 0M208 158l10 -0M75 193l3 0M74 137l6 0M77 177l11 1" stroke="#ee3040" stroke-width="4.5"/><path d="M271 33l11 2M54 15l20 2M427 58l12 2M419 13l4 1M264 55l22 4M115 4l12 2M57 42l12 3M57 45l14 3M311 33l7 1M122 15l3 1" stroke="#e83c9c" stroke-width="3"/><path d="M320 36l7 1M248 35l14 3M392 19l22 5M220 55l12 2M209 15l11 3M329 3l15 2M201 65l12 1M303 6l15 3M198 24l6 1" stroke="#e83c9c" stroke-width="4"/><path d="M180 279l7 1M184 124l6 1M333 90l6 1M222 217l11 1M72 236l8 2M252 252l6 0M288 103l5 1M195 86l7 1M85 246l4 0M211 278l2 -0M229 203l3 0M88 75l3 0M293 228l5 0M305 295l3 0M125 172l6 1M199 119l6 1M166 147l4 0M365 152l6 0M357 71l5 0M412 95l5 0M430 137l5 0M370 245l10 2M278 218l3 0M195 163l6 1M259 260l4 1M234 227l5 1M187 209l5 1M290 161l17 -0M241 130l3 -0M414 216l3 0M213 282l11 2M116 108l10 0M314 243l3 0M282 133l3 0M159 187l5 0M329 69l6 0M92 238l2 0M274 230l9 0M144 190l5 0M211 91l6 1M266 219l6 1M338 253l7 1M227 99l13 2M138 283l7 0M363 266l4 0M184 202l9 -0M85 254l2 0M237 180l5 0M285 233l6 -0M138 122l4 0M144 98l3 0M277 94l4 1M350 71l3 0M378 241l4 0M86 172l3 0M264 216l6 0M186 251l3 0M392 67l9 1M95 141l6 1M75 101l10 1M314 276l3 1M179 196l4 1M186 93l12 1M369 212l5 1M302 133l5 1M340 218l10 1M74 256l5 1M287 201l4 -0M351 246l6 1M377 116l3 0M302 100l15 1M331 289l7 0M108 248l3 0M185 173l8 -0M107 69l6 0M271 220l5 1M186 75l13 1M270 265l4 1M161 285l10 1M94 160l7 1" stroke="#3a44c4" stroke-width="5.5"/><path d="M214 17l9 1M67 33l4 0M164 20l19 3M310 5l21 4M209 45l7 1M106 0l6 2M423 34l8 1M353 32l7 2M182 43l8 1M425 12l5 2M112 14l5 1" stroke="#58c8e0" stroke-width="3"/><path d="M235 -2l22 7M330 13l6 2M69 1l27 7M319 18l13 2" stroke="#f08840" stroke-width="3"/><path d="M57 102l6 1M54 120l6 -0M58 246l8 1M367 216l7 0M409 78l5 0M248 192l4 0M392 190l3 1M83 172l2 -0M378 189l3 0M77 262l6 0M378 204l8 1M356 78l2 0M214 113l2 0M357 244l6 0M313 186l5 -0M293 204l16 1M95 70l2 0M320 87l5 0M365 212l6 1M228 299l6 0M348 284l5 1M411 282l4 1M105 245l4 0M103 207l11 0M132 124l5 0M244 162l9 -0M431 77l4 0M424 212l4 0M221 84l6 0M331 191l11 3M275 135l18 3M136 88l9 0M218 82l4 0M373 101l4 1M420 163l10 1M253 159l4 1M125 180l12 4M302 126l7 0M105 191l7 1" stroke="#ee3040" stroke-width="2.5"/><path d="M71 138l6 1M245 103l16 2M134 103l3 0M110 269l6 1M335 186l3 0M84 267l6 1M84 216l5 1M179 292l13 1M273 156l8 0M324 296l10 1M236 169l4 0M267 199l4 1M134 178l5 1M193 157l3 0M337 114l3 -0M74 80l4 0M195 304l6 0M322 244l11 0M92 211l6 0" stroke="#ee3040" stroke-width="5.5"/><path d="M221 141l3 0M102 203l6 0M198 88l7 0M72 270l4 0M114 205l7 -0M315 189l5 1M145 149l4 0M266 233l9 0M152 135l5 1M303 294l4 0M396 120l16 1M201 280l4 0M319 200l1 0" stroke="#f08840" stroke-width="4.5"/><path d="M371 58l11 0M127 34l4 0M346 25l14 3M307 27l7 1M381 3l24 6M197 54l19 3M137 37l16 4M108 35l24 -0M354 10l5 1M372 44l8 2M349 50l8 1M251 19l12 2M178 60l8 0M98 27l12 3M309 41l12 2M421 44l8 1M306 6l6 1M92 61l5 0M413 17l11 3M362 32l16 4M352 17l20 4M171 28l10 2M153 66l4 1M315 19l19 3M243 51l7 2M150 27l18 2M139 10l8 2M55 33l23 1M423 32l15 2" stroke="#7cdc48" stroke-width="2"/><path d="M325 178l4 1M313 242l6 1M235 289l4 0M423 194l3 1M370 139l12 2M236 131l4 -0M429 194l9 1M364 192l7 1M119 201l9 2M150 156l3 0M330 110l8 -0M407 291l6 0M304 167l3 1M122 207l8 1M328 74l4 0M129 300l8 1M367 184l3 -0M270 273l11 2M424 163l9 2M167 284l1 0M266 268l12 1M112 193l3 1" stroke="#f08840" stroke-width="3.5"/><path d="M116 239l6 1M128 113l4 0M125 267l4 -0M322 238l9 -0M404 247l7 1M211 239l12 1M166 279l4 0M208 194l5 1M159 237l8 0M208 105l7 -0M88 260l3 0M410 263l2 0M151 244l4 0M323 76l7 1M278 105l3 0M98 102l10 0M353 264l5 0M309 241l9 1" stroke="#4a8ae0" stroke-width="2.5"/><path d="M101 2l17 1M415 7l18 4M266 65l40 3M288 14l9 0M268 22l17 3M290 36l3 0M336 38l9 2M66 37l5 1M277 16l13 2M422 11l12 1" stroke="#ece8f8" stroke-width="3"/><path d="M233 21l14 3M276 2l6 1M172 37l14 2M396 50l6 1M222 40l13 2M108 61l6 1M190 29l10 2M193 13l28 2M233 54l6 1M282 53l25 5" stroke="#7a48d0" stroke-width="2"/><path d="M82 285l3 0M305 277l3 1M250 126l9 1M164 272l4 0M309 98l4 0M170 217l9 1M286 170l3 0M74 102l4 1M312 123l3 0M91 165l3 1M244 196l5 0M80 291l3 1M77 231l6 0M118 103l6 0M286 284l2 0M415 69l7 1M302 83l4 0M143 142l4 1M164 305l5 -0M304 220l15 4M174 265l2 0M266 286l7 1M419 114l10 1M393 121l4 0M147 302l6 1M428 253l6 0M418 139l6 -0M217 234l2 0M120 256l3 0M284 162l8 1M84 153l5 0M320 296l9 2M172 110l5 0M82 198l10 1" stroke="#a8e870" stroke-width="3.5"/><path d="M160 88l5 1M216 250l10 1M396 105l6 1M338 186l7 1M55 211l8 1M387 84l3 -0M128 86l17 1M98 140l12 1M180 99l10 1M88 76l9 -0M334 205l4 1M319 302l6 1M404 154l9 0M176 215l13 1M372 202l3 0M161 144l5 1M295 242l5 0M357 192l4 1M361 224l4 -0M159 136l7 1M425 139l6 1M392 157l4 0M102 199l16 4M266 296l9 -0M144 88l1 0" stroke="#e83c9c" stroke-width="2.5"/><path d="M379 230l11 1M64 148l7 1M299 130l7 0M398 206l12 1M246 188l7 1M180 113l5 1M113 114l11 -0M397 178l5 0M181 135l2 0M380 210l4 0M333 276l7 1M376 283l4 1M383 214l6 1M321 201l5 1M119 72l7 1M95 226l5 1M121 262l5 0M368 122l4 1M392 220l3 1M301 238l4 0M291 114l4 0M334 245l12 1M340 114l6 0M345 192l7 1M231 240l6 1M184 146l6 0M368 220l8 1M164 291l3 1M281 175l2 0M128 122l3 0M54 127l9 -1M319 94l6 0M288 178l6 0M305 77l4 1M226 271l11 1M52 239l7 1M224 240l8 1M399 104l11 1M70 97l4 1M181 140l3 -0" stroke="#7a48d0" stroke-width="2.5"/><path d="M212 254l4 0M269 246l4 0M224 152l6 0M280 293l3 1M398 203l12 2M238 94l8 1M424 124l17 -1M178 286l5 1M77 82l23 2M103 301l7 0M57 196l4 1M230 294l6 0M70 253l4 0M238 250l4 0" stroke="#e4e448" stroke-width="2.5"/><path d="M209 197l10 -0M135 80l9 1M371 74l16 -1M315 288l6 1M366 115l5 0M259 254l2 0M62 102l18 2M395 113l7 0M283 110l11 -0M260 236l5 -0M127 249l4 1M301 215l6 1M272 250l5 0M237 93l5 0M353 257l5 1M125 279l5 1M305 178l7 -0M158 250l14 1M405 70l2 0M300 97l7 0M101 78l4 0M382 90l7 -0M245 277l3 1M352 268l4 0M100 266l3 -0M159 292l6 1M138 194l3 0M168 128l4 1M76 199l2 0M209 118l4 0M87 165l7 0M298 300l6 1M141 143l6 1M387 227l5 1M293 264l7 1M315 74l5 0M141 224l6 0M110 119l5 1M62 147l5 1M268 99l4 0M98 231l4 0M288 178l14 -1M75 253l9 1M196 207l5 0M409 262l3 0M422 258l2 0M56 179l5 0M388 255l5 0M84 278l4 1M426 93l2 0M294 301l9 1" stroke="#7a48d0" stroke-width="3.5"/><path d="M410 52l14 1M202 27l11 2M299 35l13 1M387 14l9 2M182 6l4 0M318 56l8 0M138 2l6 0M374 60l16 3" stroke="#a8e870" stroke-width="4"/><path d="M109 274l2 0M86 110l8 1M406 81l5 0M191 108l4 1M318 141l6 0M304 217l4 1M265 127l7 0M126 87l11 1M360 217l5 1M66 232l4 0M152 186l4 -0M57 247l8 1M99 192l11 1M279 245l7 1M97 268l4 0M118 97l3 1M429 134l3 0M52 197l8 2M59 190l4 1M336 87l3 0M99 253l3 0M193 253l6 1M239 233l14 1M387 268l3 0M128 219l5 1M407 122l9 0M232 280l5 1M106 287l11 2M146 249l2 0M138 72l10 0M88 284l8 1M155 227l5 1M133 225l4 1M286 238l5 0M295 218l6 0M81 207l9 1M399 208l4 1M386 143l7 -0M390 194l7 1M374 224l4 1M346 121l8 1M170 108l5 1M260 93l4 0M122 126l4 0" stroke="#58c8e0" stroke-width="3.5"/><path d="M369 283l2 0M218 294l4 0M244 103l9 1M282 288l4 1M114 273l3 0M404 268l2 0M419 196l11 0M193 291l4 1M334 171l7 1M235 238l2 0M321 176l6 1M279 187l7 0M288 209l4 0M111 265l5 0" stroke="#f08840" stroke-width="2.5"/><path d="M329 272l8 1M396 228l1 0M286 137l4 -0M105 255l5 -0M201 104l7 1M69 151l10 1M257 217l3 0M243 240l5 1M64 229l4 0M390 73l5 1M197 250l11 1M387 219l3 0M272 282l6 -0M134 182l9 -1M412 138l9 1M155 171l4 0M193 172l4 0M367 138l6 -0" stroke="#58c8e0" stroke-width="2.5"/><path d="M183 90l4 0M135 98l3 0M337 214l7 0M314 104l3 0M235 275l9 1M379 98l6 -0M401 98l2 0M183 143l13 0M255 112l4 0M357 132l4 0M341 202l3 1M312 262l4 1M384 92l3 0M291 101l4 1M394 234l4 0M252 299l4 0M317 99l7 1M240 139l8 1M110 205l4 0M221 244l13 1M168 267l7 1M103 131l9 1M260 176l7 1M60 249l4 1M274 131l11 1M68 105l4 0M69 266l5 0M145 193l5 1M254 79l10 1M151 131l6 0M109 223l12 2M252 298l11 1M227 215l7 1M302 228l11 1M411 179l3 0" stroke="#7a48d0" stroke-width="4.5"/><path d="M224 289l4 1M295 74l3 -0M114 189l8 1M385 228l7 1M346 117l6 1M374 286l6 1M308 161l3 1M350 69l3 -0M377 111l4 0M307 275l4 0M391 148l5 0M208 70l11 0M81 87l3 1M386 153l6 1M106 75l12 2M362 251l6 -0M86 200l4 1M206 254l6 0M101 105l5 0M218 145l7 1" stroke="#e4e448" stroke-width="3.5"/><path d="M322 35l18 2M301 10l13 3M280 32l5 0" stroke="#58c8e0" stroke-width="4"/><path d="M380 69l3 0M112 227l3 -0M404 182l6 1M179 165l11 2M426 216l6 1M90 72l7 0M325 169l17 -0M102 71l11 2M199 67l5 1M81 205l6 1M289 263l8 1M140 166l3 0M148 84l3 0M180 261l2 0M150 280l5 -0M96 250l4 0M83 162l7 -0M404 167l6 0M396 131l6 -0M231 281l5 0M122 168l18 2M199 280l3 1M246 284l3 0M127 222l6 1M217 203l2 0M334 210l1 -0M264 91l3 -0M364 71l6 0M386 237l5 0M59 143l7 0M248 186l3 1M378 81l4 0M123 282l3 0M344 118l5 -0M99 100l5 0M327 246l3 0M221 135l4 0M198 169l6 1M231 131l2 0M351 267l9 2M108 292l8 1M88 101l10 1M369 135l3 0M62 118l4 0M334 139l2 0M72 126l4 0M371 168l12 0" stroke="#7cdc48" stroke-width="5.5"/><path d="M197 29l9 1M158 33l10 1" stroke="#f08840" stroke-width="4"/><path d="M306 27l9 2M142 63l4 1M83 2l6 1M61 51l14 2M212 13l12 3M267 19l11 2M94 8l21 3M391 23l13 3M117 49l8 2M367 23l6 1M417 27l16 3M91 8l8 1M341 43l16 3M227 56l10 1M217 15l14 3M351 15l5 1M203 2l3 0M337 63l16 2M196 61l5 0M130 18l14 3M55 64l14 0M388 56l7 1M409 50l5 0M136 56l4 2M232 64l10 0M154 66l18 2M246 8l15 1M234 2l6 1M303 11l23 5M399 62l4 0M131 55l16 2M117 46l15 3M214 58l14 1M253 40l3 0M129 59l5 1" stroke="#3a44c4" stroke-width="2"/><path d="M323 83l10 1M214 83l3 0M360 97l11 1M199 140l10 0M176 257l8 0M234 99l10 0M413 263l10 2M129 243l4 1M348 76l8 0M200 293l4 0M308 202l15 3M63 99l5 1M204 252l5 1M224 136l7 1M77 209l3 0M337 302l6 1M139 292l3 1M165 278l10 2M186 74l4 0M165 219l7 1M273 219l13 -0M298 272l10 1M354 213l9 1M285 106l9 -0M334 108l6 -0M306 274l8 1M323 133l2 0M179 100l7 0M263 241l7 0M303 87l4 0M349 133l9 1M262 132l3 0M179 68l2 1M293 104l4 1M305 113l5 0M62 84l2 0M407 157l7 1M127 208l5 1" stroke="#ece8f8" stroke-width="3.5"/><path d="M299 124l2 -0M194 224l2 0M370 199l3 1M385 83l4 1M426 216l10 0M347 289l6 0M204 143l16 1" stroke="#e4e448" stroke-width="5.5"/><path d="M76 57l7 0M84 66l13 1M195 15l7 1M293 31l5 1M321 39l6 1M316 16l5 1M235 17l9 1M52 56l15 0M123 15l7 1" stroke="#4a8ae0" stroke-width="2"/><path d="M118 297l4 1M61 282l3 0M218 131l12 1M429 304l6 0M311 140l11 1M273 96l10 1M311 77l8 1M89 280l4 0M243 148l5 0M170 149l4 0M79 145l5 -0M286 256l5 1M364 268l8 1M89 296l7 -0M409 169l6 0M220 149l3 0M277 155l3 1M138 138l3 0M328 124l2 0M228 179l6 1M183 168l5 1M366 267l6 1M77 101l3 0M413 162l9 1M362 260l6 1M329 193l3 0M420 113l12 2M176 148l6 0M208 138l2 0M184 303l9 1M213 137l9 2M401 268l5 -0M426 248l7 0M367 294l13 3M176 159l19 1M95 181l13 -0M314 146l8 1M426 187l4 0M294 165l3 0M399 167l3 -0M357 170l8 1M422 176l6 1M113 290l3 0M298 260l6 0M315 304l5 -0M353 158l19 2M226 177l4 0M190 100l5 0M110 157l6 0M331 225l13 2M241 286l4 0M262 164l6 0M279 97l4 1M429 289l6 0M283 267l4 1M134 165l10 0M295 293l3 0M369 150l3 1M328 231l8 2M257 187l8 1M75 261l4 1M308 167l6 0M145 159l4 0M359 159l16 1M245 245l5 1M223 100l23 1M280 125l6 0M159 291l8 0M377 170l3 0M102 264l5 1M206 159l2 0M159 166l2 0M298 150l5 0M146 239l3 0M395 157l8 1M392 154l3 0M317 269l4 1M317 251l11 -0M425 189l6 1M206 151l4 1M95 165l10 0M173 221l4 0M356 177l4 0M428 159l7 0M346 161l10 1M196 134l6 0M158 190l4 1M133 113l10 1M392 216l4 0M413 165l6 0M105 276l4 0M105 257l4 0M300 175l8 0M149 215l5 1M268 163l5 0M358 164l8 0M304 175l2 0M182 153l4 0M105 157l3 0M131 165l8 -0M172 151l4 0M221 233l17 1M62 146l5 1M377 293l5 1M302 259l3 0M397 253l6 0M352 145l6 1M363 302l7 0M102 242l9 2M146 303l4 1M64 282l2 0M68 142l3 0M281 81l6 -0M403 174l6 0M420 152l6 -0M61 159l7 1M388 157l3 0M105 253l13 1M344 155l8 0M297 253l4 0M234 94l7 1M143 167l3 -0M348 169l9 1M349 104l2 0M242 91l6 1M119 151l10 1M314 160l6 0" stroke="#7cdc48" stroke-width="3.5"/><path d="M135 34l10 3M207 61l10 1M101 26l4 1M89 37l15 2M177 53l11 2M70 35l9 1M156 49l11 1M116 43l12 3M408 14l5 1M112 39l29 5M291 20l10 3M110 27l8 2M365 55l17 2M280 46l15 2M99 21l7 1M258 45l9 0M105 42l6 1M409 10l10 2M319 3l17 3M54 42l8 1M214 14l8 1M236 45l16 2M419 33l9 1M397 16l8 2M101 40l6 1M330 1l9 2M393 41l30 4M334 7l7 2M101 26l20 5M160 65l12 0M375 63l16 4M423 60l12 1M364 4l4 1M393 37l14 0M366 65l10 0M108 42l7 0M105 8l11 3" stroke="#7cdc48" stroke-width="3"/><path d="M185 61l10 2M312 65l19 1M423 62l5 0M83 47l4 1M88 29l7 1M314 7l5 1M116 18l8 1M143 44l14 2M391 20l14 5M101 50l9 2M263 63l13 2M311 5l20 4M303 59l25 1M209 15l12 -0M103 22l9 1" stroke="#7a48d0" stroke-width="4"/><path d="M216 31l13 2M284 58l11 0M271 20l5 1M396 31l5 0" stroke="#58c8e0" stroke-width="2"/><path d="M161 235l7 1M407 185l4 -0M415 175l3 0M404 139l14 1M420 105l6 -0M71 228l9 1M222 296l2 1M278 175l5 1M378 78l4 0M275 140l4 0M134 151l2 0M324 69l2 0M208 284l15 1M152 69l3 -0M171 72l3 0M371 178l5 1M161 264l10 1M68 163l9 1M79 122l5 0M383 168l4 1M83 252l3 0M303 68l5 0M228 163l7 -0M80 227l6 0M290 174l2 0M362 273l4 -0M176 168l5 1M421 273l4 -0M397 160l9 1M287 259l12 1M404 163l18 0M64 257l4 0M300 187l11 3M424 127l4 0M417 87l9 1M340 269l4 0M293 186l9 2M98 190l3 0M349 85l4 1M171 160l2 0M272 286l6 -0M303 239l5 1M130 247l5 1M189 163l16 1M54 115l6 1M337 154l7 1M413 180l3 0M255 278l7 1M249 268l4 0M242 243l5 0M276 93l9 1M154 246l4 0M170 171l5 0M360 174l6 -0M266 110l5 0M205 164l4 -0M401 103l9 0M92 129l2 0M184 161l5 1M118 213l2 0M338 180l5 1M278 267l6 1M374 200l3 1M281 141l7 0M340 135l10 1M420 250l4 1M319 262l4 1M134 231l9 1M303 103l11 1M54 170l6 1M417 174l5 -0M255 147l6 1M360 177l11 -0M360 159l5 1M265 258l8 1M418 236l4 1M204 292l10 1M231 249l7 1M138 149l5 0M363 298l6 1M293 164l8 1M343 82l9 1M401 170l6 1M321 153l4 -0M261 167l2 0M230 80l5 0M364 199l5 1M404 116l2 0M406 190l9 1M398 273l11 1M111 170l13 1M408 181l3 0M127 172l6 0M295 87l7 1M82 207l2 0M333 184l8 1M280 297l6 0M424 112l3 0M125 266l4 1M409 260l7 1M312 76l6 0M85 147l5 0M339 168l6 1M226 242l4 1M332 304l9 0M419 106l13 0M374 179l22 3M219 107l16 1M428 92l5 0" stroke="#7cdc48" stroke-width="4.5"/><path d="M302 61l9 1M400 46l22 5" stroke="#f070c0" stroke-width="4"/><path d="M420 169l6 0M94 198l7 1M93 96l3 0M244 106l3 -0M97 107l6 1" stroke="#f070c0" stroke-width="4.5"/><path d="M294 33l12 2M290 44l22 3M233 56l11 2M206 10l26 4M173 41l8 0M117 23l17 2M358 62l14 0M93 30l16 2" stroke="#e4e448" stroke-width="3"/><path d="M335 44l29 10M248 16l7 1M146 66l6 1M278 20l22 7M302 60l13 2M77 55l19 3M119 45l7 1" stroke="#ece8f8" stroke-width="2"/><path d="M314 90l9 1M417 133l6 0M362 293l13 1M227 213l9 0M203 245l2 0M144 270l7 1M201 88l5 1M262 189l4 1M191 223l4 1M414 278l4 0M65 269l6 0M371 155l5 1M329 93l6 1M72 145l4 0M241 126l4 0M395 251l5 0M60 221l7 1M257 74l5 0" stroke="#58c8e0" stroke-width="5.5"/><path d="M82 90l7 1M119 116l6 -0M70 265l2 0M283 288l4 1M384 301l5 1M76 283l8 1M360 113l6 1M369 293l5 0M138 122l7 1M81 152l9 1M172 82l9 1M56 117l5 0M241 193l4 1M259 269l17 2M187 143l5 -0M119 217l10 1M231 300l2 0" stroke="#a8e870" stroke-width="2.5"/><path d="M179 239l3 0M244 141l2 0M282 190l6 1M366 205l10 0M199 255l5 0M367 236l4 -0M92 154l5 0M93 250l6 0M155 129l6 0M117 103l11 -1M310 258l5 1M142 105l3 0M363 207l6 1M174 230l4 1M234 259l9 1M128 214l11 1M87 259l4 0M319 173l9 1M126 101l5 1M255 178l4 0M181 217l3 0" stroke="#58c8e0" stroke-width="4.5"/><path d="M64 283l5 0M356 263l11 -1M187 93l7 1M144 204l4 0M333 94l2 0M344 89l3 0M340 297l5 0M424 271l4 0M88 114l7 0M234 257l4 -0M386 253l5 0M124 244l3 0M424 172l5 -0M140 238l9 1M57 149l3 0M275 78l10 2M56 96l9 0M199 191l5 1M425 208l6 1" stroke="#ece8f8" stroke-width="5.5"/><path d="M91 244l3 0M276 221l5 1M203 94l7 1M397 98l10 1M96 134l6 0M126 239l7 1M198 150l6 0M154 171l7 1M317 165l9 0M228 161l6 0M78 278l2 0" stroke="#a8e870" stroke-width="5.5"/><path d="M189 11l16 3M85 26l12 3M118 2l11 0" stroke="#e4e448" stroke-width="4"/><path d="M229 209l10 -0M218 192l10 1M173 208l8 1M343 112l5 0M294 198l7 1M211 202l3 0M301 77l6 1M141 210l6 1M387 128l4 0M381 102l5 0M104 189l9 1M193 203l5 1M92 76l9 1M208 304l6 -1M187 208l6 1M215 287l5 -0M124 198l4 0M82 81l5 1M282 210l8 1M188 203l11 1M413 249l3 -0M105 108l7 0M335 283l4 1M243 231l2 0M224 199l3 1M300 289l3 0M106 180l7 2M219 234l4 1M176 71l4 0M148 272l4 0M153 280l2 1M361 282l5 1M263 219l5 1M94 206l9 1M206 282l6 0M282 108l8 0M370 226l9 1M368 67l8 2M198 209l10 2M232 256l2 -0M300 197l6 1M292 205l3 1M109 278l4 0M227 224l5 1M369 304l2 -0M309 242l5 0M363 110l15 1M332 119l6 0M107 142l5 0M196 252l4 1M67 221l3 0M164 255l18 -1M378 272l3 1M151 142l14 -0M300 113l7 0M161 187l5 1M103 265l6 1M280 218l6 -0M95 125l12 1M373 155l8 1M93 180l8 1M135 85l21 3M359 244l7 1M364 137l6 0M423 165l11 1M56 196l7 0M144 107l5 1M335 215l5 1M319 146l8 -0M356 70l13 2M354 221l6 0M208 82l5 -0M69 93l9 2M154 179l4 0M200 85l3 0M262 241l13 0M395 229l6 1M287 213l4 0M177 209l4 0M130 81l5 0M205 80l7 1M65 170l4 -0M185 82l8 1M334 119l5 0M236 211l5 0M83 167l5 0M166 89l7 1M79 284l6 0M254 218l4 1M233 244l4 0M230 93l8 1M228 231l7 0M420 90l2 0M131 206l4 0M133 76l3 0M128 203l6 0M190 234l4 0M367 143l4 1M88 182l13 1M254 200l6 1M277 217l3 0M181 278l8 -0M101 97l14 1M68 138l10 0M357 255l19 3M414 120l8 1M275 288l13 1M338 239l4 0M211 186l10 0M234 68l5 0M56 304l9 1M264 237l11 1M400 115l6 1M123 74l5 0M203 67l15 1M93 185l4 0M132 73l4 0M333 267l4 1M67 262l4 0M179 185l6 1M195 111l11 1M203 304l6 0M337 196l7 -0M395 82l7 0M227 215l14 1M141 70l4 -1M399 295l4 -0" stroke="#3a44c4" stroke-width="4.5"/><path d="M191 62l7 0M220 48l6 1M226 17l9 2M211 16l15 2M419 60l8 2M70 11l10 3M249 21l3 1M151 25l5 1M295 29l8 0M259 21l15 3" stroke="#a8e870" stroke-width="2"/><path d="M177 46l16 3M100 16l4 0M117 49l5 1M93 53l7 1M302 16l14 4M388 25l4 1M307 26l9 2M363 8l19 3M75 24l17 3M290 61l14 2M235 8l9 2M379 13l20 3M360 51l13 2M118 11l22 5M54 66l10 1M239 7l7 2M167 19l7 1M411 57l8 2M234 14l6 1M242 19l6 0M160 50l7 1M212 5l13 3M388 15l9 1M99 48l3 1M289 30l14 2M117 49l8 3M82 55l7 2M71 1l16 3M304 4l39 7M326 1l12 2M316 24l6 1M346 49l6 1M332 16l3 1M77 46l10 3M172 57l15 1M126 43l20 4M417 40l9 2M142 62l12 2M155 7l9 1M331 12l19 6M165 55l9 1M367 45l11 3M320 50l8 2M176 4l4 1M169 55l6 1" stroke="#3a44c4" stroke-width="3"/><path d="M382 246l3 0M193 208l8 0M217 302l5 0M363 118l14 1M224 119l6 1M241 98l9 1M286 177l9 -0M297 197l9 2M147 190l8 1M327 178l4 0M369 201l7 1M227 285l5 1" stroke="#f08840" stroke-width="5.5"/><path d="M426 40l5 1M377 23l6 1M304 57l34 4" stroke="#f08840" stroke-width="2"/><path d="M55 32l9 2M139 39l8 0M71 32l8 2M252 52l15 2M187 21l20 0M155 41l16 3M57 35l5 0M331 21l8 1M372 6l9 2M395 18l7 1M320 24l19 5M401 24l5 1M237 53l6 1M274 50l7 1M403 12l32 6M414 17l18 6M48 35l21 5M255 53l14 2M272 42l11 2M57 8l10 2M274 64l3 0M271 17l18 3M78 44l11 2M327 45l16 3M410 54l25 1M336 48l7 1" stroke="#7cdc48" stroke-width="4"/><path d="M374 19l4 1M126 5l40 2M260 19l6 1M205 17l8 2M231 56l13 2M93 19l18 4M405 55l17 0M164 16l5 0M271 1l3 1M357 57l10 -0M250 28l15 0M401 58l8 1M378 63l16 -0M380 35l10 3M261 7l6 1M403 58l12 1M217 61l18 3M424 47l10 0M336 41l5 1M390 64l9 1" stroke="#7a48d0" stroke-width="3"/><path d="M255 139l3 1M144 271l2 0M141 107l3 0M404 271l4 0M203 254l6 1M276 67l7 1M215 76l3 1M206 253l13 1M296 212l8 1M411 67l8 1M204 91l7 1M421 194l11 2M237 117l5 1M129 227l6 0M211 232l18 1M68 299l5 0M168 252l5 1M355 281l5 1M146 232l4 1M324 191l5 0M138 130l3 0M196 166l11 1M309 257l4 0M326 77l3 -0" stroke="#e83c9c" stroke-width="4.5"/><path d="M207 50l37 4M202 16l3 1M115 58l7 0" stroke="#f070c0" stroke-width="2"/><path d="M245 119l6 0M223 170l3 0M365 69l5 1M116 304l10 1M241 163l7 1M296 174l6 1M415 92l6 1M408 153l7 0M59 73l4 0M140 121l2 -0M302 268l3 0M298 191l4 0M309 152l2 0M298 119l4 0M352 288l8 1" stroke="#e4e448" stroke-width="4.5"/><path d="M380 57l8 -0M63 50l13 3M338 45l9 2M159 24l17 3M384 3l7 1M208 6l9 2" stroke="#4a8ae0" stroke-width="4"/><path d="M226 58l5 0M223 51l5 1M229 37l12 3M141 32l29 2M145 22l13 2M288 42l11 2M424 29l3 0M398 25l6 0M362 39l10 1M295 51l12 2M317 12l16 2M82 52l8 1M150 22l6 0M159 25l4 0M290 55l11 2M229 45l31 10M119 14l7 1M210 12l6 1M412 33l17 2M406 24l14 5M172 27l14 1M296 7l4 0M385 30l7 1M202 23l16 3M297 40l9 2M138 29l15 1M341 25l7 2M58 47l8 0M426 33l7 1M230 17l12 1M366 16l5 1M267 40l11 3M426 33l11 2M60 37l9 2M123 13l20 4M101 7l12 2M110 8l19 4M425 6l14 2M428 31l8 2M169 27l8 2M276 39l6 1M279 41l10 2M341 26l11 1M217 47l9 2M249 28l13 3M406 24l9 1" stroke="#ee3040" stroke-width="3"/><path d="M85 184l6 1M293 121l5 0M61 188l4 0M263 84l4 0M301 220l4 1M159 176l7 1M112 222l9 1M61 208l6 1M188 270l9 1M346 253l4 0M76 207l3 0M389 269l4 1M108 231l2 -0M133 218l14 3M206 232l5 0M284 144l8 2M108 267l7 -0M392 292l5 0M283 84l4 0M398 255l6 0M272 281l5 0M244 216l8 2M387 166l4 1M216 128l19 1M350 260l6 1M366 91l6 1M96 267l4 0M84 144l9 1M422 126l11 0M52 140l13 0M163 127l7 1M323 123l6 0M275 127l19 4M159 266l4 -0M146 229l4 0M342 82l5 1M176 298l3 0M421 99l5 0M356 112l3 0M83 282l5 1M247 299l10 1M341 128l4 0" stroke="#4a8ae0" stroke-width="3.5"/><path d="M276 111l5 0M370 204l7 1M193 140l5 0M118 281l4 1M355 255l2 0M399 135l6 0M226 228l24 3M305 196l10 1M400 75l7 1M239 242l8 2M85 188l11 0M312 118l5 0M203 105l1 -0M423 156l5 0M268 203l6 1M363 77l9 0M178 293l8 1M90 98l6 0M384 135l6 0M74 130l7 1M303 237l11 1M91 229l7 1M357 149l2 0M204 95l9 1M303 253l5 -0M252 184l5 0M67 218l6 0M416 262l10 -0M412 125l7 0" stroke="#ece8f8" stroke-width="4.5"/><path d="M223 122l6 1M222 84l9 1M248 193l5 1M254 182l10 0M232 238l3 -0M290 103l3 0M65 166l5 1M158 138l4 0M70 206l5 0M147 196l5 -0M118 163l3 1M109 188l6 -0M303 99l5 -0M155 175l3 -0M206 194l4 0M62 125l5 0M226 188l6 1M421 98l6 0M76 164l7 1M320 211l5 1M110 181l18 1M242 217l10 1M297 89l6 0M390 270l5 1M258 202l5 1M381 82l8 1M299 69l5 -0M296 144l3 0M274 235l5 1M76 76l10 2M217 194l8 1M201 117l2 -0M371 143l11 -1M268 271l4 0M92 74l10 0M164 240l5 1M145 83l7 1M346 243l5 1M344 143l4 0M266 302l5 0M246 269l8 -0M384 287l3 0M345 121l6 0M343 143l6 1M157 195l8 1M143 198l8 1M355 230l3 0M421 101l17 -2M425 103l5 0M124 122l4 0M147 239l4 0M403 237l3 1M400 198l9 3M200 108l3 1M160 282l5 0M330 194l4 1M360 224l8 0M399 107l3 0M165 73l10 1M345 125l10 0M180 264l5 1M116 270l6 1M429 225l6 1M167 210l3 0M272 219l3 0M156 173l2 0M348 185l8 2M340 69l5 0M210 299l3 0M212 203l11 1M430 167l2 -0M363 140l5 1M368 71l6 0M81 194l9 1M86 242l3 1M277 92l5 1M121 138l10 -0M165 126l18 1M204 104l8 2M255 234l10 2M144 131l4 0M374 100l6 1M359 255l13 1M181 207l10 2M410 293l7 1M214 183l4 0M369 296l8 1M139 172l10 1M331 295l8 1M187 221l5 0M234 298l6 0M290 116l14 2M305 267l6 1M145 220l3 0M189 192l7 1M205 201l7 1M100 166l12 1M293 158l4 0M412 229l5 0M269 118l6 1M161 72l11 0M262 273l2 -0M113 76l4 0M421 279l7 1M243 204l4 0M238 257l4 0M260 209l9 0M110 75l4 -0M205 156l6 0M187 77l5 0M248 73l6 1M373 150l6 1M234 157l5 0M348 83l4 0M178 75l3 0M390 235l6 2M209 120l7 -0M89 80l7 2M300 198l4 1M196 180l4 0M222 109l9 0" stroke="#3a44c4" stroke-width="2.5"/><path d="M70 39l14 0M280 1l7 1M118 56l26 3M331 25l9 2M292 57l14 2" stroke="#e83c9c" stroke-width="2"/><path d="M237 81l5 0M271 129l4 0M70 283l1 0M133 134l4 1M122 248l3 0M240 93l8 1M94 126l5 1M117 69l8 -0M374 123l19 1M156 277l5 0M64 283l7 1M106 219l7 1M209 129l3 0M107 264l7 -0M259 248l7 1M129 147l5 0M389 152l15 -0M223 93l8 -0M267 115l3 0M111 130l11 -0M419 67l6 -0" stroke="#7a48d0" stroke-width="5.5"/><path d="M75 250l15 1M354 80l6 0M262 302l2 0M93 266l4 0M280 285l7 1M205 85l10 0M250 141l11 0M88 187l5 0M203 225l8 1M264 283l4 1M114 200l4 1M379 250l5 0M102 80l4 0M361 125l3 1M360 185l9 1M209 117l2 0M375 203l8 1M316 163l5 0M248 167l3 0M145 128l3 0M323 151l16 -1M239 277l3 0M342 285l4 0M95 295l7 1M368 74l2 0M55 189l5 1M308 69l3 -0M202 302l7 1M126 124l6 1M422 270l7 0M273 175l9 1M396 201l7 0M346 94l5 1M96 247l6 0M396 204l5 1M395 130l5 -1M328 201l4 0M268 191l12 -0M317 76l4 0M391 105l7 0M260 103l4 0M206 72l2 0M415 212l14 2M214 145l5 1" stroke="#ee3040" stroke-width="3.5"/><path d="M143 181l6 0M137 302l7 1M319 288l2 0M281 174l5 1M237 112l4 0M93 287l5 0M268 269l6 1M85 254l6 1M139 298l4 0M86 285l4 0" stroke="#f070c0" stroke-width="5.5"/><path d="M120 273l3 1M291 179l9 0M357 243l2 0M125 201l2 0M129 110l6 -0M193 280l9 2M363 214l15 1M117 198l25 3M110 218l8 1M388 81l16 1M315 207l5 1" stroke="#f070c0" stroke-width="2.5"/></g></g><rect x="63" y="7" width="362" height="292" fill="#fff" opacity="0.7" filter="url(#wsp)"/></g><g clip-path="url(#cp1)"><rect x="63" y="303" width="362" height="287" fill="#c888cc"/><g filter="url(#rough)"><g fill="none" stroke-linecap="round"><path d="M334 560l2 -2M159 379l3 -2M292 477l1 -3M332 574l2 -1M372 447l0 5M243 399l2 1M306 430l2 3M262 447l1 2M262 350l1 -2M332 394l5 4M69 410l4 0M377 345l4 -3M267 493l0 6M256 301l2 -4M294 498l2 5M409 373l2 -4M421 390l6 -0M62 347l2 -1M382 453l5 1M169 591l2 5M326 581l5 2M319 477l0 2M400 331l6 0M311 510l3 5M377 333l3 2M209 429l2 -4M248 469l1 5M321 582l3 1M114 444l3 0M372 487l1 3M291 314l4 -4M110 553l3 -1M150 495l5 3M393 415l3 -1M154 401l3 -3M318 564l2 0M241 310l4 1M226 431l1 2M57 523l3 4M355 453l5 -1M236 410l3 -0M175 483l0 -3M270 365l0 3M94 466l3 -0M101 358l6 -2M166 425l1 3M395 561l5 -0M168 590l6 -2M408 450l2 -5M193 518l3 2M164 565l1 3M364 345l5 -2M230 586l6 1M405 380l2 -2M284 478l3 2M420 461l4 3M168 470l3 4M178 493l2 2M344 349l0 3M385 423l0 2M182 544l5 0M289 566l0 -3M55 394l2 -5M95 371l0 -3M261 388l0 -5M194 422l3 3M74 389l4 -3M147 368l2 3M400 464l1 -2M88 353l3 5M347 464l1 -3M60 460l6 1M381 407l5 -4M121 529l4 -2M221 423l0 -5M237 456l3 -3M100 462l2 2M256 410l4 -2M401 401l3 1M263 373l1 -4M124 305l4 -0M251 576l4 2M382 590l5 2M169 319l6 0M271 348l1 -2M135 397l5 -1M313 445l2 -2M148 476l5 -1M260 317l3 -2M320 382l0 -5M400 567l3 2M162 425l0 3M416 525l1 2M341 452l2 3M371 306l5 1M342 424l4 -3M338 362l1 -2M372 392l4 3M409 553l6 2M248 373l2 5M359 311l3 3M432 321l2 4M143 336l4 1M379 449l4 -3M319 403l3 1M97 385l2 -2M312 571l2 -4M325 312l3 -2M417 443l0 -5M75 378l2 -4M334 313l3 -2M87 516l2 1M162 389l3 -3M276 422l4 2M362 536l1 -2M243 407l1 5M322 462l4 -4M276 467l2 3M233 327l0 4M346 332l2 -2M349 527l1 3M396 593l2 3M283 475l4 -3M258 416l5 3M139 575l2 0M234 514l2 -2M312 320l0 4M298 417l2 -3M326 425l5 -1M62 424l2 4M269 331l2 -3M263 458l0 -4M397 344l3 -3M287 515l0 -4M166 364l0 6M137 514l5 -2M72 491l3 3M188 565l2 -0M101 399l2 2M233 418l0 5M181 567l5 3M119 528l4 -1M374 299l5 2M275 590l5 2M317 523l3 3M311 505l5 -1M208 406l2 -2M268 545l2 4M263 346l0 4M91 524l6 -1M337 553l6 1M415 594l2 3M372 409l3 -3M399 304l0 2M199 406l2 -1M224 430l4 2M305 481l2 -3M284 403l3 -2M280 502l1 3M241 571l5 -1M341 555l3 1M198 403l3 5M220 386l2 1M238 505l3 -1M425 548l5 3M415 350l5 1M350 311l0 4M357 367l1 2M342 548l3 3M145 517l1 -4M98 543l2 2M69 317l2 -2M73 562l2 1M152 331l1 -3M270 568l2 -0M353 414l0 5M314 493l1 5M267 465l1 -5M200 485l3 1M281 479l2 0M127 544l4 -3M355 405l2 2M199 344l3 2M288 458l2 2M175 322l3 2M203 408l4 2M251 454l2 -4M371 547l2 3M138 404l3 -3M123 305l2 2M272 495l0 -3M143 593l0 4M120 519l2 -2M421 468l4 2M87 429l4 3M308 509l4 0M83 420l0 -5M84 471l2 6M111 490l1 -3M423 443l0 -3M240 501l5 -0M103 479l3 -5M115 432l3 3M278 416l1 -2M253 417l2 -1M316 459l3 5M99 529l2 6M189 322l3 -3M69 515l5 2M363 367l4 -3M392 340l4 2M177 457l4 -4M430 449l2 -1M231 429l3 -2M342 561l4 1M271 401l0 2M57 471l0 5M299 536l2 -2M157 592l2 -1M249 572l1 3M185 489l1 3M167 437l1 3M116 328l1 -2M144 390l1 -2M272 540l2 2M72 352l2 -2M203 581l1 3M318 581l5 -0M326 374l1 2M237 495l1 4M178 565l2 1M167 529l3 -1M68 366l0 2M410 443l3 -0M165 567l5 0M242 300l5 -0M207 297l5 -1M384 348l2 -1M346 549l3 3M389 557l3 1M202 364l2 -2M145 317l4 5M415 497l3 -1M302 422l1 -4M179 444l1 -2M204 592l3 2M240 414l5 -1M309 448l1 3M427 305l0 3M209 363l3 4M80 390l3 3M355 348l4 2M99 440l2 -2M123 566l1 2" stroke="#f0e8f6" stroke-width="1.5"/><path d="M62 523l4 -1M374 367l2 -1M338 323l4 -3M62 573l2 -2M349 364l5 1M426 543l4 1M70 557l4 4M167 429l2 3M388 490l4 -2M172 315l3 0M342 369l4 -3M351 418l1 3M220 486l5 1M108 312l2 -4M427 553l3 -1M317 572l4 -3M91 515l2 3M336 437l6 -0M126 347l3 -0M215 554l1 -3M261 331l4 1M426 383l1 3M239 461l0 -5M316 479l5 -2M388 515l3 -4M101 490l0 -2M421 514l1 4M126 390l4 -1M256 327l2 3M304 431l3 2M395 543l5 2M182 401l3 -0M232 384l1 -3M431 352l3 -2M133 433l0 -2M263 440l3 -5M378 413l2 5M308 358l3 1M282 297l2 1M119 406l4 -1M323 496l1 3M254 511l2 4M278 491l0 4M369 367l5 1M86 497l5 -3M87 563l1 6M417 438l2 5M423 386l3 -0M340 546l3 -2M57 470l4 -2M411 570l3 4M234 304l0 -2M381 592l1 -3M233 367l3 4M303 475l2 -5M254 556l4 1M129 591l1 -6M135 309l2 3M315 387l1 5M60 573l3 1M120 316l2 -2M185 330l5 1M287 331l2 2M329 542l4 -0M384 569l1 2M247 404l1 5M144 398l4 -4M146 325l1 -2M159 377l2 1M246 451l1 4M269 414l0 -2M314 453l0 3M210 577l2 -1M303 558l2 -4M93 513l1 1M240 338l5 1M351 354l2 -0M146 513l2 -5M227 300l2 -3M81 449l5 -3M104 576l2 -1M155 332l3 -3M213 453l3 3M183 481l4 2M279 318l2 4M82 530l4 -0M172 440l4 3M81 490l3 3M248 428l1 -3M219 335l1 5M184 575l4 -1M323 544l2 -2M380 571l3 0M171 508l3 3M154 541l2 -4M377 590l4 3M208 565l3 3M416 485l5 1M408 515l1 3M95 360l1 4M157 440l1 3M422 472l1 3M342 299l3 1M267 372l4 -2M137 312l1 4M254 493l3 2M107 383l3 1M388 341l1 3M371 326l4 1M342 384l1 3M175 418l2 -2M92 501l0 -5M305 502l6 2M116 387l2 -3M140 520l3 1M62 358l2 5M303 538l4 1M57 381l2 -4M140 408l2 -2M163 342l5 -2" stroke="#f07ab8" stroke-width="1.5"/><path d="M302 328l1 -2M320 476l1 5M430 541l2 3M321 374l2 2M407 597l2 -3M369 434l1 -2M98 402l3 -1M310 465l2 -4M231 313l2 -2M263 404l3 -1M393 390l1 5M210 545l2 1M427 564l0 5M347 499l3 -2M409 316l5 0M175 304l3 1M243 379l1 -4M377 309l1 -6M198 567l1 -5M112 544l1 2M356 540l4 -3M385 434l4 -4M157 591l5 1M149 549l3 0M133 394l5 2M191 541l1 4M181 531l4 -4M389 543l3 3M288 579l3 2M161 476l1 2M275 319l6 1M249 313l3 -0M334 514l3 -4M342 347l5 3M96 347l0 -3M222 354l4 3M229 579l6 1M135 445l4 -3M195 477l4 3M173 479l0 5M215 451l4 -4M383 549l4 1M162 541l5 3M380 589l1 6M132 370l4 -2M296 499l2 -3M321 304l4 3M311 334l4 1M356 479l4 1M341 314l2 1M234 523l2 5M160 580l5 0M415 401l1 -2M123 511l3 -3M108 430l4 -3M85 394l2 -2M142 404l4 -4M102 537l3 -1M337 441l0 3M354 445l0 -2M145 319l3 -1M169 555l5 -1M121 570l2 -5M245 305l4 0M244 578l3 1M236 476l4 0M151 426l2 5M432 403l1 -5M301 574l1 -4M163 335l1 6M82 489l4 2M207 481l1 -3M351 578l0 3M203 427l1 -2M179 441l2 4M246 511l1 2M166 501l6 -0M124 324l0 -5M139 580l3 0M190 363l4 3M294 455l5 2M401 588l1 -5M232 587l3 -3M250 352l3 1M341 396l3 -1M268 416l1 -4M165 302l1 -4M415 444l1 -4M335 559l1 -3M417 584l3 -4M318 413l2 4M245 330l2 -5M106 578l1 4M189 598l1 -6M177 506l2 -4M286 568l4 -1M137 351l1 6M142 392l2 3M227 461l1 4M395 410l5 2M230 446l2 -2M189 578l2 -2M163 573l0 2M238 342l5 -0M104 563l3 -5M151 467l4 -3M169 369l1 3M433 358l1 -2M372 389l2 -2M234 399l2 -2M411 419l0 6M395 322l3 4M205 328l3 -5M99 461l2 -2M422 521l4 -2M288 546l1 -3M171 379l0 4M173 541l3 1M429 444l2 -1M423 310l0 4M200 317l2 3M149 340l2 1M228 416l0 4M140 336l2 2M380 389l0 5M140 328l1 -3M289 358l2 -4M383 447l2 1M334 444l1 3M221 415l3 -5M97 595l4 1M238 559l5 -1M98 569l3 -0M106 316l1 -6M273 498l0 -2M364 480l3 2M111 474l2 -2M190 471l4 2M331 584l1 4M228 524l4 -2M141 404l2 -1M231 512l5 -3M192 488l2 -4M347 324l1 -6M106 344l4 4" stroke="#8050d0" stroke-width="2.2"/><path d="M170 408l3 1M132 522l2 1M336 489l0 -3M154 466l2 2M256 593l4 -1M270 540l2 -4M73 298l2 4M139 474l3 -2M163 410l1 3M177 574l4 -1M235 538l1 -3M378 588l0 -3M55 472l4 2M351 521l4 -1M352 425l3 -3M426 458l5 0M322 463l3 -3M213 412l4 1M178 447l5 -1M168 338l2 2M90 379l3 -1M274 396l2 -0M426 404l5 -2M273 550l4 0M373 572l2 -2M300 561l4 1M98 558l1 2M319 401l1 4M273 541l2 0M425 453l0 -5M191 578l4 -1M159 299l1 4M140 456l1 2M152 473l1 -2M93 505l2 2M366 525l1 -3M246 451l1 5M183 535l3 1M78 437l3 -3M311 584l3 -3M240 435l2 0M145 347l4 3M325 344l5 -1M402 312l2 -4M267 497l5 2M268 397l2 2M278 434l5 2M62 555l2 -0M138 528l5 -1M243 456l1 3M169 408l3 -1M114 358l0 2M109 327l3 -1M317 334l0 -2M398 467l3 -5M404 518l4 4M55 348l2 3M158 312l0 4M254 596l2 -4M250 561l3 1M183 426l5 1M116 391l0 -6M196 342l2 -4M375 419l6 1M379 468l3 3M82 536l1 -2M293 414l0 -3M71 592l3 2M237 561l5 -3M228 352l4 -3M75 357l4 -0M252 380l0 -3M79 301l2 1M122 419l0 -3M290 353l5 1M269 554l3 1M80 465l1 -3M346 405l1 5M203 460l5 -2M208 586l4 4M282 489l3 -5M117 438l1 -2M347 514l1 5M263 417l0 2M301 583l5 3M330 315l0 2M211 541l5 0M56 476l1 4M193 546l4 -0M295 525l3 -0M368 553l2 0M406 365l2 0M381 488l5 2M170 480l3 4M394 383l5 -1M422 553l2 3M259 573l2 1M121 524l2 5M228 389l2 4M375 419l1 4M298 450l3 -3M317 330l1 4M202 490l1 5M232 410l0 3M242 404l5 3M146 571l1 3M145 488l3 5M366 376l5 -0M286 548l1 -2M177 512l2 4M60 480l2 4M174 447l4 2M406 404l3 -0M96 512l2 2M300 301l1 -3M259 347l1 3M145 351l3 -2M93 308l3 2M255 522l2 -4M414 305l4 0M79 308l2 2M282 496l1 5M264 463l3 -3M296 438l4 -2M381 381l5 -2" stroke="#f07ab8" stroke-width="2.2"/><path d="M122 585l1 -2M159 549l3 0M403 372l1 3M78 398l5 1M218 456l2 3M406 400l2 -4M398 500l6 2M177 377l2 -2M379 429l1 4M350 366l4 2M397 351l2 -1M105 336l0 -3M94 303l2 -2M263 347l3 3M101 380l4 5M363 339l4 4M180 589l2 3M342 379l1 4M233 434l2 -4M95 299l0 -3M100 399l4 1M180 347l2 2M306 320l0 6M186 372l2 -5M231 532l1 -2M232 375l4 1M312 343l4 0M340 312l4 3M147 298l5 2M427 484l6 -1M254 400l4 -1M216 397l3 3M78 584l5 -1M382 478l0 -3M391 463l2 4M69 328l2 4M93 476l1 5M208 308l2 3M397 544l1 -4M408 324l0 -3M227 344l1 2M143 512l3 -2M414 475l1 -2M406 341l2 2M159 450l3 -5M394 309l3 4M421 509l1 -3M396 369l3 -2M366 416l3 1M159 568l4 -3M370 429l6 -2M191 588l3 3M130 371l4 3M238 427l3 -1M228 392l3 2M138 361l2 -3M368 577l0 -4M264 519l2 1M212 480l2 -1M233 367l5 -2M196 468l1 -2M125 439l3 -3M76 562l5 -1M220 481l2 1M375 364l2 4M343 349l3 5M419 573l1 -2M122 305l5 -1M376 417l1 -4M243 564l2 1M128 480l3 -3M205 399l3 -2M126 486l2 3M308 299l1 4M168 498l3 1M229 468l2 4M320 498l0 -5M327 476l4 3M334 395l2 2M420 520l2 2M122 519l3 2M347 540l5 -0M181 562l2 -1M422 423l1 -4M286 539l1 5M256 562l2 -3M58 433l2 -5M72 484l2 5M152 348l5 -0M125 450l3 2M278 552l3 -1M277 372l2 5M139 564l2 -2M248 482l5 1M349 579l5 -2M291 388l3 -4M324 421l3 4M146 578l2 3M285 392l1 2M397 506l1 -2M276 365l5 -3M142 537l2 2M259 465l1 4M55 578l1 -2M223 343l4 1M137 312l1 4M105 583l3 -0M335 385l3 -2M227 573l3 1M341 362l4 -1M267 507l4 3M397 304l0 4M359 476l2 1M135 451l3 4M412 353l5 -0M272 384l6 1M281 449l3 5M132 536l0 6M365 413l3 -2M248 545l2 -0M382 467l0 3M183 356l1 5M207 598l1 -5M281 428l3 -3M150 391l3 1M326 479l5 2M299 316l3 0M423 436l1 -2M192 496l4 -1M274 460l4 4M349 532l4 -4M285 514l2 4M165 529l5 -2M382 567l2 6M125 481l5 1M151 535l3 -4M199 399l5 3M164 296l4 4M300 505l3 -4M256 523l2 -3M369 583l4 -4M88 511l2 -3M277 314l3 -1M351 480l4 3M389 427l4 -2M85 547l2 3M244 434l3 -0M203 334l5 -1M231 429l4 2M91 408l5 2M205 585l1 3M76 466l4 1M335 510l5 1M135 390l1 -6M93 308l4 -2M208 564l1 3M279 570l4 -1M346 565l3 -4M75 369l3 -3M420 319l2 2" stroke="#e23ca0" stroke-width="2.2"/><path d="M175 474l1 5M285 373l2 3M322 324l1 -3M129 406l2 -1M408 328l1 5M403 450l5 1M299 494l0 6M246 311l2 0M205 341l1 -4M126 579l5 3M55 381l0 -4M382 345l3 -1M226 486l1 -3M405 462l1 5M374 441l2 -3M194 387l3 -2M181 480l2 -5M327 399l4 -3M150 303l2 -1M300 409l3 5M281 477l1 3M360 572l5 -1M267 498l5 -3M364 481l3 -3M369 527l3 -3M324 463l2 1M237 302l3 1M291 442l3 -3M188 543l3 -4M324 439l0 -4M354 446l5 1M106 560l3 2M239 538l1 -6M199 406l4 -4M122 469l3 -3M390 492l4 3M170 358l2 3M342 528l4 4M195 465l2 -4M417 305l3 3M146 335l3 -2M382 305l4 1M214 398l3 3M262 554l4 -3M382 364l2 -6M197 512l4 1M83 299l2 2M410 346l3 0M207 514l2 -2M199 447l5 -1M397 548l3 -5M130 537l2 3M249 560l2 -1M393 318l1 3M185 497l2 1M291 594l4 -0M102 512l3 -0M117 518l1 -2M121 363l2 3M155 375l3 3M256 578l1 5M147 513l3 4M373 407l4 1M430 331l3 0M356 340l4 -4M225 411l4 0M300 528l4 2M166 352l4 4M381 388l5 -3M53 388l4 -3M110 391l0 -5M415 457l4 4M365 297l2 4M357 338l3 1M352 520l1 -2M245 583l4 -3M243 384l2 -5M118 382l4 -4M316 442l4 1M408 564l1 -4M132 367l3 5M64 417l1 -4M379 436l1 -2M86 445l2 -0M164 337l3 4M100 532l3 -1M61 482l3 -0M292 577l5 -1M224 559l4 4M378 328l0 -5M189 486l2 -1M259 549l4 -1M408 395l3 2M405 498l4 -4M355 523l3 -3M394 455l1 -2M122 349l3 0M73 464l2 -2M414 465l3 -5M381 563l1 4M69 407l2 2M320 403l3 1M81 312l6 1M384 308l0 -3M116 486l3 -2M107 527l1 -3M389 572l6 -1M199 429l3 -5M76 484l5 0M121 317l2 2M406 454l0 5M77 509l4 -1M233 571l5 2M235 386l1 2" stroke="#b060d2" stroke-width="1.5"/><path d="M272 305l2 -3M211 373l5 -2M311 299l2 -1M233 423l4 -3M387 583l0 2M274 364l2 2M312 459l4 -3M288 552l3 1M422 382l1 -6M272 305l5 -2M321 467l2 1M90 347l3 -2M149 524l4 -4M126 544l2 2M430 376l3 -1M57 376l3 -4M389 404l4 -3M68 306l3 -5M114 535l2 2M85 330l0 3M331 461l1 5M80 421l2 -2M366 502l3 0M308 444l2 2M255 474l1 2M213 473l3 -1M365 352l2 -2M381 543l4 2M420 407l1 3M262 523l1 -3M399 537l0 -2M196 481l3 3M155 434l0 -6M70 561l1 -2M72 429l2 -1M211 375l4 0M193 577l3 -1M133 354l0 4M83 400l0 5M145 522l6 1M108 560l4 -4M348 541l2 1M377 430l5 -3M117 583l1 -5M358 431l1 -4M314 511l3 -3M313 305l1 -5M264 522l0 3M431 383l3 5M96 500l3 4M397 570l3 -5M395 491l2 -3M251 341l3 -4M156 551l2 4M95 549l3 0M179 313l2 1M288 483l3 -1M359 322l3 -1M72 475l4 -3M323 495l4 1M369 446l1 -4M291 585l2 -1M57 576l2 -3M429 577l4 1M234 511l4 4M324 479l4 4M380 400l2 1M251 331l0 2M222 577l5 -1M245 415l3 4M310 475l1 3M216 512l1 3M110 522l0 2M134 373l2 -1M178 503l2 5M58 498l4 2M337 468l5 1M382 521l1 -4M246 596l5 -0M430 577l1 3M376 347l1 -2M100 347l2 5M194 387l2 -0M340 484l2 1M385 345l3 -1M91 504l1 -4M164 455l3 3M212 401l5 -3M417 345l1 -3M336 409l2 4M182 408l4 -4M114 510l3 1M125 589l4 -2M96 407l4 4M169 348l1 -4M338 366l1 -2M366 583l2 -3M239 518l0 -3M226 407l1 3M123 584l5 2M354 552l5 -0M340 571l4 4M73 597l3 -5M73 362l3 -3M103 556l2 -2M203 397l3 1M400 465l2 -3M255 521l0 -5M302 405l1 -2M196 393l1 4M346 526l2 -1M263 470l4 4M320 385l2 5M150 447l2 -0M177 494l4 -2M107 412l0 -2M156 395l4 0M353 582l0 -6M164 319l1 -5M63 590l1 3M373 542l1 4M410 358l3 5M308 310l1 -4M376 427l4 3M91 323l2 -4M167 462l3 -1M114 556l2 1M178 572l2 1M73 519l4 0M56 577l0 -3M381 399l3 -2M266 564l3 1M97 545l2 -5M160 478l3 1M381 303l2 2M425 554l0 -5M401 437l4 -4M56 587l5 0M76 430l2 -3M84 376l2 2M227 455l3 -5M329 527l1 -3M110 585l4 1M349 498l2 -2M365 463l5 -1M126 384l3 -5M98 501l3 1M85 465l1 3M374 482l3 2M358 401l2 1M54 305l5 1M285 463l5 -3M153 373l5 -1M209 483l3 3" stroke="#e23ca0" stroke-width="1.5"/><path d="M215 417l6 0M331 300l5 0M117 374l5 2M150 586l0 -3M239 501l5 1M179 345l4 -2M223 491l2 -3M334 408l2 -1M217 545l3 -1M195 300l3 -1M290 407l2 -2M378 458l3 3M318 491l2 -1M81 345l2 -1M299 373l2 -2M89 520l4 2M116 439l4 2M384 513l5 2M247 519l1 4M118 517l1 -2M411 413l1 3M236 314l4 0M232 582l3 -0M392 509l2 -5M300 394l4 3M356 307l4 -0M418 560l2 -2M332 337l2 3M255 578l2 5M83 497l3 0M252 303l3 -5M96 564l3 3M62 365l3 1M285 518l4 1M271 300l3 3M134 324l2 -3M139 415l2 -2M84 298l5 -1M125 513l3 -3M386 483l3 -3M147 576l1 -3M151 328l1 -2M414 488l3 0M345 420l1 3M94 518l4 -2M338 354l3 -3M210 349l3 -3M398 485l5 -2M358 470l2 0M213 418l5 2M150 562l4 -2M397 356l1 -6M87 354l1 3M263 568l5 -2M67 474l1 5M108 383l0 6M261 542l1 2M416 508l3 4M291 407l2 -4M305 558l5 2M145 393l0 -5M72 364l2 4M87 311l3 2M91 388l1 -4M373 298l2 5M353 581l4 4M292 350l1 -3M141 521l1 4M139 363l3 -2M228 395l1 3M85 320l3 -1M123 331l0 5M264 439l1 2M71 595l5 -0M386 460l3 1M289 327l2 -2M234 594l4 -2M306 479l3 1M371 486l4 -4M254 459l2 1M248 486l3 3M416 359l5 -2M130 577l2 0M118 383l3 4M317 351l1 5M228 481l4 2M155 362l0 -3M187 516l3 2M104 343l2 4M63 586l4 -2M171 345l2 -2M334 494l2 5M279 487l1 2M143 493l3 -0M100 380l5 1M230 457l5 1M350 437l3 -3M68 460l1 -3" stroke="#b060d2" stroke-width="2.2"/><path d="M57 435l2 -1M178 404l2 0M188 331l1 3M230 373l1 -3M219 539l6 0M98 555l2 2M370 384l1 2M340 527l3 -2M74 459l4 0M69 415l0 -2M425 541l4 1M406 387l0 -5M292 336l4 2M248 548l5 -1M64 380l3 4M89 331l2 -1M92 494l5 -1M208 339l2 -2M300 549l2 -2M248 322l4 -1M114 546l6 0M384 545l1 2M136 347l2 -1M104 391l1 -4M375 375l3 -4M342 475l0 3M128 473l6 -2M294 371l2 2M355 314l1 -4M213 345l4 2M121 574l5 2M107 515l4 -2M357 357l0 -5M316 345l0 5M275 584l2 -6M73 368l2 6M369 363l2 -1M243 401l1 -3M389 356l0 3M59 350l2 2M224 405l3 5M324 327l2 5M336 487l3 -5M238 344l3 1M429 502l1 4M350 570l4 -3M165 471l6 -0M418 482l1 3M180 367l5 -0M130 403l0 3M149 454l5 -3M163 553l1 5M305 522l1 4M306 429l4 4M88 298l1 6M110 536l0 2M122 477l2 3M384 302l2 -2M214 561l2 2M382 566l5 -1M393 490l3 -2M350 593l4 -3M324 339l3 -1M131 436l3 3M250 502l2 -2M355 514l4 1M407 330l1 -2M90 463l2 3M170 360l2 1M356 489l2 -2M111 579l4 -3M323 405l5 3M372 499l0 -3M148 415l4 0M223 324l4 4M360 363l2 3M54 430l1 -2M245 381l3 3M340 379l2 4M384 573l5 -0M181 429l4 2M205 489l3 5M190 454l2 -3M239 587l2 5M264 487l4 -1M425 524l2 -3M344 536l4 -5M282 482l0 -2M83 525l1 -5M126 530l0 2M254 509l2 3M226 311l3 3M276 335l2 -2M172 437l2 -1M409 317l3 -2M63 432l2 3M245 377l1 -3M183 438l2 5M306 334l4 -1M288 533l3 -2M321 422l1 4M92 449l2 0M387 517l4 -2M82 554l3 -4M175 464l5 -1M163 433l2 2M189 340l1 4M65 399l1 -5M86 350l4 -4M217 384l2 1M378 320l3 -2M366 562l3 -4M319 566l0 6M71 557l2 5M99 366l2 -5M272 501l2 -3M337 318l5 2M416 433l4 -1M211 433l2 -4M254 574l2 2M412 451l1 3M359 401l4 -2M273 297l3 5M326 491l2 -2M76 426l2 -2M54 586l3 4M353 382l2 -2M292 529l1 -3M323 322l4 -3M386 405l4 0M75 299l3 1M338 567l2 1M415 552l1 4M279 383l1 2M78 481l4 3M403 502l2 -3M201 358l5 1" stroke="#8050d0" stroke-width="1.5"/><path d="M272 577l6 1M70 334l2 -2M234 319l2 -5M176 500l1 -2M88 543l4 -1M213 341l4 4M127 361l0 -2M202 372l2 -1M155 316l4 5M237 581l1 -1M291 574l2 -1M143 443l1 4M413 375l3 -2M323 314l3 -4M311 577l3 -3M154 533l3 1M129 533l4 3M347 584l3 1M404 365l2 -1M109 459l1 4M199 332l2 3M208 325l2 4M217 560l0 -5M216 344l3 -5M301 577l4 -4M371 554l2 4M86 482l4 4M220 411l4 -3M78 518l2 3M312 496l2 4M370 544l3 3M246 367l2 4M166 475l3 -3M125 355l1 -3M124 569l3 1M234 535l1 5M204 529l1 2M67 529l2 -3M151 523l2 -1M351 517l3 -4M119 559l1 5M338 425l5 -0M338 567l3 3M400 338l1 2M323 382l3 2M426 320l2 4M302 546l3 2M355 523l1 3M297 325l4 -3M332 347l3 2M54 364l4 -3M101 393l0 5M69 375l4 3M176 451l3 -3M174 557l4 -3M136 357l1 3M311 348l3 -4M272 379l3 -5M379 424l4 1M99 349l4 -2M128 367l3 -3M231 423l2 2M68 548l2 -4M233 514l4 4M300 544l3 0M273 437l2 -1M335 312l0 3M188 483l2 -5M205 371l4 -4M77 330l2 3M311 461l4 2M168 421l2 -3M322 455l2 -5M302 556l2 3M405 433l4 -1M85 347l2 2M196 419l2 -5M243 586l3 -4M286 319l2 2M174 583l2 0M358 380l1 -2M249 520l1 3M134 429l2 1M114 377l1 -2M63 430l3 -5M80 317l2 -3M408 335l3 3M77 529l1 5M195 552l6 -1M339 512l1 4M157 547l4 -2M175 533l2 3M391 389l3 1M367 384l2 -2M400 321l1 2M355 499l1 -2M55 310l2 -0M147 426l1 -5M255 544l4 3M390 375l0 -2M129 466l4 -3M293 367l2 2M370 537l1 2M311 318l2 -3M335 508l5 -2M137 307l4 3M80 356l2 5M130 334l2 4M114 308l3 -2M401 351l2 3M211 304l1 4M158 322l2 -2M308 432l4 -3M157 436l1 3M206 507l3 1M266 399l3 -2M354 572l5 -3M381 571l5 1M89 454l3 -3M75 518l2 -2M142 358l6 -0M223 432l3 -3M341 459l3 -1M413 442l2 -1M232 483l4 -3M248 596l3 -3M397 442l4 1M205 426l1 2M320 493l5 0M246 478l1 -2M224 440l1 4M98 533l3 1M264 587l2 2M183 596l2 -4M316 560l4 -2M405 569l2 6M67 440l5 1M277 472l2 2M272 511l4 2M243 534l2 2M231 370l5 -1M121 549l4 0M387 412l3 1M208 539l4 -2M161 437l3 3M71 552l4 0M106 305l0 -5M220 387l3 4M247 592l4 1M165 586l3 3M233 469l0 -4M415 430l3 -3M339 593l5 0M358 335l3 3M94 328l2 3M145 499l2 2M235 456l0 -4M382 321l0 2M176 417l3 -0M101 390l3 5M186 544l4 3M57 393l2 -4M74 467l2 2M208 303l4 -0M188 575l1 -3M96 584l3 -1M76 367l4 -0M91 412l3 -1M171 356l4 -1M317 332l6 0M411 343l0 4M326 525l4 -3M160 300l3 0M188 345l1 -1M346 409l1 -5M74 396l0 3M323 572l2 3M214 420l5 2M139 501l2 5M96 447l3 4M59 432l0 6M247 403l4 3M106 516l3 -2M199 535l1 5M116 346l5 0M78 570l1 -5M96 479l4 2M254 314l2 0M361 450l2 -1M126 525l0 -3M103 352l3 -1M282 316l1 2M160 559l1 2M325 352l4 -2M67 370l2 4M179 368l5 2M101 318l2 3M303 492l1 -5M157 501l4 1M82 541l5 -1M183 450l3 2M201 479l0 -2M215 536l3 -0M400 534l3 2M268 534l6 -1M295 303l4 -4M93 553l4 3M144 315l4 -0M301 548l1 -4M79 564l1 -2M410 432l2 -2M91 465l0 4M227 435l4 4M209 314l3 -4M143 366l3 -1M173 456l3 -2M150 397l3 -5M104 541l3 -2M411 406l1 -6M336 313l0 -2M245 415l4 0M210 575l2 4M416 381l5 -3M337 417l1 2M141 483l2 -4M198 527l1 -3M78 517l1 4M358 549l3 -0M369 526l4 3M187 310l4 -0M64 304l3 -0M120 459l6 1M258 333l2 3M138 468l4 3M291 401l4 -1M273 394l3 3M247 516l1 -5M217 356l3 1M150 445l1 -2M420 380l3 4M429 351l4 2M371 582l1 5M102 309l4 2M84 445l0 4M417 503l1 2M261 436l1 -3M346 334l5 -1" stroke="#f0e8f6" stroke-width="2.2"/><path d="M416 341l3 -5M97 451l1 -4M331 408l2 -3M73 321l0 5M149 575l1 -3M137 411l2 3M83 317l5 1M147 448l3 -0M67 547l1 -6M228 451l0 -6M227 517l2 -2M253 381l5 3M120 567l0 5M185 450l0 6M67 417l0 -2M54 434l3 -3M188 365l2 -3M409 364l2 3M363 526l0 4M190 321l0 2M379 594l2 -5M427 368l1 3M74 409l1 -3M406 581l1 4M367 351l2 -1M322 449l3 -2M203 355l1 3M363 565l3 -1M146 591l2 -1M413 443l6 -0M365 437l4 2M164 388l2 -2M164 440l6 0M335 416l5 0M230 531l3 4M83 422l1 -2M156 468l2 3M103 310l4 -1M401 467l5 -0M223 581l6 0M281 347l3 -1M218 536l3 -2M206 454l6 -1M233 582l3 -0M92 382l2 -4M112 569l3 -0M334 420l1 -2M71 347l0 -4M110 394l4 -1M299 593l4 1M60 475l0 -4M293 378l5 -2M244 377l4 1M364 496l2 5M222 299l4 1M312 379l2 3M63 430l3 3M92 466l1 6M183 451l0 5M63 423l3 2M367 366l3 3M138 324l1 -2M61 543l5 3M352 322l4 4M237 466l1 -4M137 454l5 2M317 482l2 2M99 365l3 -2M71 421l3 -1M286 537l1 -3M343 596l3 -4M238 405l0 3M226 475l6 0M344 365l1 2M271 488l5 0M196 450l2 3M346 575l5 -0M346 547l2 1M415 361l0 6M123 339l3 2M311 333l1 -3M188 391l1 3M301 399l1 2" stroke="#3c4cc8" stroke-width="1.5"/><path d="M71 445l0 -5M191 384l1 -2M220 541l5 -1M410 330l2 4M410 511l3 2M155 430l1 4M107 476l2 -4M243 308l1 5M200 437l2 -5M78 438l4 1M91 456l5 -3M318 497l3 -1M361 318l6 -0M167 526l0 -3M404 589l2 3M195 380l3 5M256 536l1 5M332 468l2 6M404 302l5 0M72 363l6 1M336 399l2 -5M292 528l2 -1M96 569l4 -0M410 556l4 -0M424 470l2 -2M237 314l4 0M302 493l2 3M425 320l3 -1M189 423l1 -5M316 373l2 2M399 580l1 3M89 352l0 6M426 431l5 -2M98 593l2 4M350 511l0 -3M429 463l2 2M288 440l0 3M163 596l2 -2M73 550l2 -2M369 402l3 0M310 425l4 2M241 310l0 3M208 456l2 -4M366 362l3 5M300 552l3 -1M348 452l3 -3M283 320l3 -5M395 429l3 2M274 303l4 2M364 512l5 0M415 338l0 5M373 496l2 -5M100 429l2 -3M195 542l3 -4M313 344l1 -4M242 417l1 3M307 563l0 -4M54 446l5 -2M278 460l2 -2M118 301l1 4M271 327l1 5M104 459l0 -3M374 526l4 -4M165 436l1 2M330 322l6 -2M377 398l2 -2M309 542l1 -4M79 486l2 -4M106 516l1 3M142 526l1 2M254 335l1 4M183 365l2 3M173 389l0 3M127 364l0 3M81 596l1 -4M98 443l2 -3M102 469l5 -3M231 440l2 5M361 554l4 1" stroke="#3c4cc8" stroke-width="2.2"/><path d="M340 566l2 -0M409 304l4 -2M286 367l0 5M205 330l0 -5M312 532l4 0M223 585l1 5M161 418l3 5M336 393l2 0M165 559l1 -5M303 374l4 -1M243 486l1 3M294 462l2 -1M265 556l1 4M226 312l1 -3M175 490l4 -2M68 448l1 -2M207 400l0 -5M77 346l3 -4M315 308l1 5M311 391l2 -0M411 515l1 -6M404 560l3 0M167 547l1 -2M360 497l5 -3M162 514l4 -4M292 488l3 2M293 489l3 3M353 571l3 4M185 322l3 0M225 495l0 -3M422 421l2 -2M138 422l0 -3M90 492l5 -2M213 367l1 5M111 556l1 4M384 458l4 -3M386 322l5 -0M209 367l0 -2M316 591l0 2M331 514l2 3M227 358l2 1M56 307l2 -4M57 539l5 -2M272 504l5 2M103 527l1 -3M212 567l4 -1M201 401l5 -1M133 353l0 6M352 407l4 -2M395 337l3 -1M260 450l3 -2M387 514l4 -0M192 333l2 -4M374 445l1 3M114 484l1 2M405 477l3 1M179 402l4 1M380 408l4 3M406 379l4 2M130 535l2 -1M105 559l3 -2M63 584l2 4M124 586l1 3M175 474l4 1M250 353l4 1M377 494l4 -3M294 464l1 -5M177 575l1 5M168 563l2 0M431 299l4 2M326 594l1 3M278 392l0 3M171 527l0 2M330 355l2 2M180 383l4 -1M312 567l2 -3M111 500l3 1M76 516l0 -3M241 529l2 1M326 584l5 1M399 553l5 2" stroke="#e83048" stroke-width="1.5"/><path d="M290 399l3 -4M213 490l3 1M189 449l1 3M349 368l2 -1M145 439l2 -0M254 323l3 4M406 565l4 1M420 346l2 1M197 304l5 -2M129 427l2 -2M343 387l2 -2M213 309l3 -3M128 418l4 1M292 458l0 -4M338 483l0 2M53 573l4 4M98 486l4 -4M372 531l2 -3M383 313l1 5M214 314l3 3M299 452l4 -5M129 556l5 2M173 509l5 -2M288 324l1 -5M78 379l3 -2M209 417l2 -4M246 309l2 -4M209 359l3 -3M226 388l2 -0M412 337l2 -3M134 440l2 -2M329 597l0 -2M417 428l5 2M332 433l1 2M173 470l5 0M188 581l0 3M305 504l4 0M222 322l1 -2M296 487l5 -1M328 477l5 1M403 495l2 2M329 580l2 5M66 514l5 1M279 308l3 0M248 558l1 -2M379 544l2 -3M275 352l4 2M226 354l3 1M188 506l3 -1M315 299l1 3M386 499l0 2M237 543l3 5M339 310l1 2M211 435l4 3M310 578l6 2M68 377l2 -3M358 449l3 -1M115 476l4 -3M128 361l3 2M107 312l2 0M323 407l3 2M126 328l5 2M406 445l3 3M75 377l3 -3M302 537l1 6M356 367l3 -3M394 340l5 3M79 373l2 3M192 546l1 -3M423 351l1 2M245 503l2 1M112 554l2 2M80 328l2 5M92 504l4 1M348 446l1 2M95 556l0 2M83 423l0 4M368 591l2 -5M99 594l2 1M307 533l4 3M297 328l1 -6M94 506l2 -2M324 346l1 -3M219 550l1 4M320 543l2 1M106 473l0 3M124 435l2 -4M110 580l3 3M101 332l2 2M315 323l1 -3M293 374l1 -3M278 525l0 3M294 473l3 1M408 593l5 -2M237 303l4 -1M244 565l2 5M428 303l0 -3M304 511l2 1M103 542l1 -5M324 309l5 1M269 407l2 4M139 434l2 -0M265 481l5 -1" stroke="#e83048" stroke-width="2.2"/></g><g fill="none" stroke-linecap="butt"><path d="M109 499l17 9M193 497l6 -19M93 580l22 13M422 431l11 20M382 329l10 19M185 451l6 -9M264 363l2 -17M169 393l10 -34M267 573l11 29M104 364l33 31M85 564l5 -14M184 582l14 -36M63 533l22 11M97 342l6 -11M64 461l14 -17M105 405l11 -14M155 452l16 18M260 571l14 18M323 506l8 0M211 519l6 -18M146 392l12 13M420 602l10 -27M172 542l14 8M340 405l9 17M289 567l24 -33M327 527l11 -27M263 585l7 -13" stroke="#e83048" stroke-width="2.2"/><path d="M125 437l24 -43M262 470l44 -3M337 319l3 7M175 541l23 -35M414 444l11 -33M121 437l11 -15M328 362l20 36M309 340l9 -32" stroke="#96e08a" stroke-width="4"/><path d="M54 409l10 -14M286 481l61 8M301 387l3 -15M340 361l12 3M52 551l14 8M206 416l1 -9M266 563l19 -44M426 591l3 -8M417 499l17 10M248 371l17 -34M261 600l11 -24M85 511l22 -29M56 572l53 -42M318 568l7 -19M295 457l61 -5M37 530l71 -82M345 335l23 19M127 595l14 -24M94 536l20 13M428 533l5 -11M285 307l7 -13M301 342l7 9" stroke="#e83048" stroke-width="4"/><path d="M347 601l14 -26M424 316l4 11M177 472l12 11M112 570l26 -33M104 482l24 -23M196 506l14 30M216 477l15 -28M357 501l7 -23M94 332l2 11M387 569l22 -11M329 543l23 19M363 506l11 -23M200 323l14 -30M144 323l19 17M209 503l4 7M137 371l38 42M348 602l3 -13M316 590l14 -37M394 544l4 -22M323 556l52 38M35 365l41 -45M192 512l16 24M346 465l27 5M25 474l68 53M88 400l8 -12M284 367l6 12M396 504l54 30M112 513l9 42M180 600l7 -10M40 490l81 29M107 440l14 -16M52 350l10 8M331 399l22 4M354 462l45 11M325 339l1 -8M152 538l110 -10M70 462l16 16M279 534l20 -46M321 350l13 17" stroke="#8050d0" stroke-width="2.2"/><path d="M206 535l8 18M351 417l31 7M265 362l6 -18M220 396l15 -34M215 404l8 -24M63 505l9 -19M245 406l9 -21M330 425l28 1M233 429l11 -18M267 545l7 -16M338 450l9 -24M134 325l7 6M59 360l10 9M359 416l6 16M207 498l16 20M346 356l5 9M154 397l7 37M157 552l17 10M428 408l9 -19M419 348l9 29M219 575l12 -13M256 510l11 -27" stroke="#e23ca0" stroke-width="2.2"/><path d="M72 411l7 -7M402 481l11 8M212 415l-2 -17M378 481l21 7M168 372l11 19M269 441l25 0M398 528l12 7M386 454l20 18M336 453l10 -70M138 534l57 25" stroke="#60c8a8" stroke-width="4"/><path d="M195 427l8 -28" stroke="#f0a040" stroke-width="4"/><path d="M77 347l18 13M197 570l48 -7M294 400l4 14M130 592l7 3" stroke="#96e08a" stroke-width="2.2"/><path d="M229 508l21 -43M344 510l5 -21M357 424l4 -16M343 453l38 -6M274 405l6 -33M370 412l6 -18M275 499l22 -37M254 613l22 -41M350 344l13 -50M234 534l8 36M194 523l8 31M341 326l9 14M328 486l15 6M307 518l35 1M373 442l11 -55M150 381l20 15M286 355l1 -15M220 360l12 -8" stroke="#b060d2" stroke-width="3"/><path d="M320 392l8 -40M417 384l6 12M342 369l2 -22M75 580l23 15M146 349l18 11M140 295l21 17M91 550l38 -9M60 558l17 9M38 419l37 -42M237 566l9 -16M363 321l19 33M341 562l24 -49M374 536l8 -31M67 499l28 21M49 429l44 -52M223 597l22 -45M49 416l43 32M82 542l16 -29" stroke="#f07ab8" stroke-width="3"/><path d="M226 451l11 -46M112 540l37 21M328 563l16 -60M113 307l12 10M297 401l15 24M261 440l26 -4M79 299l19 19M140 568l10 -17M253 574l6 14M423 298l8 26M392 365l22 41M132 533l8 -17M274 331l5 14M296 571l14 -37M266 506l11 -22M289 582l5 -14" stroke="#60a8e8" stroke-width="2.2"/><path d="M103 526l35 -35M359 408l4 -14M214 585l35 6M221 567l1 11M262 411l17 -29M372 371l12 17M408 579l7 5M233 301l36 40M296 609l17 -43M123 336l32 27M49 455l19 25M88 420l39 -73M371 473l6 11M168 521l18 -18M119 339l43 -39M388 484l16 -41M121 553l36 34M329 431l15 1M124 549l10 -15M175 357l6 -32M391 392l-5 -27M296 457l22 -58M204 379l1 -18" stroke="#e23ca0" stroke-width="4"/><path d="M425 598l4 -15" stroke="#60c8e0" stroke-width="4"/><path d="M414 507l35 22M360 531l24 7M355 539l16 -29M181 571l6 17M425 515l9 -35M377 432l19 -33M292 375l15 -58M264 330l50 65M352 390l22 -69M201 490l31 -5M240 362l2 -27M344 579l26 25M123 555l41 18M348 378l12 17M101 592l7 3M187 390l7 -26" stroke="#60a8e8" stroke-width="3"/><path d="M111 409l24 -22M357 379l5 -29M158 345l9 -27M97 531l32 11M194 586l40 -99M81 381l58 56" stroke="#60a8e8" stroke-width="4"/><path d="M134 318l10 8M400 587l4 -29M134 334l20 12M356 396l9 16M97 498l29 -30M97 470l29 -26M177 610l16 -36M124 406l20 -17M91 506l19 17M261 313l22 39M235 362l29 34M218 385l6 -28M400 562l8 -31M403 496l6 -18M78 605l19 -48" stroke="#5ad060" stroke-width="4"/><path d="M276 497l23 92M111 491l28 -19M69 576l50 24M129 354l11 10M378 470l33 21M356 401l26 37M191 406l2 -36M124 497l31 11M114 336l14 -1M65 475l32 33M233 482l21 30M383 509l11 6M344 388l24 32M292 340l22 32M279 536l6 -17M105 608l13 -24M395 392l3 14M311 353l11 20M298 438l10 -38" stroke="#b060d2" stroke-width="2.2"/><path d="M399 578l10 -31M375 568l40 31M368 484l17 -24M349 398l17 -0M412 408l26 33M188 437l7 -19M398 430l28 44M181 376l4 -10M181 379l9 13M234 417l5 -40M159 486l26 24M289 524l9 35M151 492l54 34M80 540l8 5M60 346l5 -15M69 421l13 -16M268 316l2 -38M77 349l29 25M204 346l6 -26M350 295l25 58M363 524l11 4M283 554l36 21M369 512l4 -16M114 331l16 12M239 432l10 -28M161 373l10 -18M376 333l22 -41M421 448l4 -23M146 481l14 -15M387 514l6 9M266 328l-1 -41M252 531l29 53M85 514l17 6M220 488l16 27M228 526l9 9M153 501l7 -16M249 490l25 22M83 330l25 16M246 348l10 -56M173 539l10 46M41 497l73 23M280 486l13 3M141 341l12 -14M234 484l23 28" stroke="#8050d0" stroke-width="3"/><path d="M228 566l11 -76M205 442l36 -104M278 370l9 -22M379 564l12 -33M229 390l3 -34M78 330l14 -20M408 321l12 36M161 535l42 -22M194 342l8 -25M398 533l10 -37M189 505l33 6M133 565l22 7M234 529l17 37M230 583l7 -17M103 393l10 16M420 477l5 -21M390 588l21 11M47 583l64 24" stroke="#f07ab8" stroke-width="2.2"/><path d="M390 425l13 -25M399 385l9 17M250 360l14 -42M423 511l16 -20M70 364l18 -32M388 291l50 86M396 561l10 -39M223 374l6 -29M304 373l10 -21" stroke="#60c8a8" stroke-width="2.2"/><path d="M133 488l12 -18M146 301l16 16M394 455l12 7M358 382l4 -16M324 592l4 -14M386 327l15 24M132 532l42 25M406 329l8 23M389 616l13 -48M239 371l18 24M299 430l16 -47M315 364l5 -14M422 408l7 13M289 375l9 -21M399 544l23 25M373 540l22 22M284 590l18 -27M240 397l7 -20M68 384l22 19M174 456l30 -33M81 565l8 6M225 485l3 -19M372 312l17 37M211 566l12 11M66 459l41 -41M309 350l12 -42" stroke="#e83048" stroke-width="3"/><path d="M147 404l12 14M172 293l40 49M74 464l24 -16" stroke="#b060d2" stroke-width="4"/><path d="M55 487l15 5M349 350l5 -85M254 553l17 -36M159 490l57 41M295 466l18 -23M199 594l7 -12M283 426l8 1M345 334l1 -8M354 426l4 -25M221 557l9 -14M226 582l8 -22M177 399l6 8M106 380l11 -16M221 395l7 -14M329 369l14 -58M405 276l12 46M57 364l13 35M221 450l33 3M210 377l10 -52M260 371l2 -25M263 490l10 -21M364 393l10 27M256 510l18 27M227 563l9 12M96 591l5 -7M68 546l45 23M296 549l16 -34M189 391l15 -36M284 522l19 -59M401 598l6 -27M73 353l14 -28M293 320l20 -44M262 328l6 -13" stroke="#e23ca0" stroke-width="3"/><path d="M78 420l23 25M327 384l2 -15M332 377l2 -30M335 461l19 -26M197 451l19 -0M283 499l34 -29M307 376l2 -40M291 372l6 -21M209 556l31 6M383 554l10 -24M35 579l62 22M201 356l27 -45M291 471l21 -32M399 524l9 7M388 521l26 -99M186 324l4 -13" stroke="#5ad060" stroke-width="3"/><path d="M269 530l31 -46M297 365l10 -41M174 491l17 10M73 566l17 8M121 518l40 19M66 342l10 10M401 373l9 17M278 360l6 -25M301 556l27 21M307 434l21 6M222 607l12 -25M358 611l13 -52M317 402l10 -38M120 432l9 8M131 309l10 -16M138 364l48 -62M117 387l19 -40M352 474l3 -15M326 414l7 -30M107 573l33 9M267 387l44 4M64 363l10 7M320 311l0 -24M406 379l17 30M221 318l8 18M158 419l7 -23M412 615l19 -64M256 507l94 -12M188 348l7 -36M92 469l81 41M293 284l25 28M329 331l14 26M297 417l29 2M361 307l1 -10M337 487l33 34M391 348l15 -17M389 407l18 44M138 570l13 6M163 398l8 28M87 413l30 21M225 417l28 -86M419 503l10 -27M283 552l16 -46M129 573l13 7M285 344l3 -22M154 399l8 -12M350 447l11 3M70 496l29 -34M306 596l14 -35M390 555l63 48M66 425l24 18M237 577l7 13M49 328l15 11M167 509l22 13M242 346l5 17M150 568l30 18M344 482l9 -17M400 548l9 -36M52 346l25 32M317 433l28 -62M402 451l26 -56" stroke="#3c4cc8" stroke-width="3"/><path d="M184 339l16 -34M413 556l5 -36M295 581l18 19M322 453l11 -37M271 408l25 22M62 352l27 21M400 530l3 -10M219 352l16 -41M54 388l22 -22M81 443l49 -45M376 348l1 -13M122 373l72 24M233 490l10 -33M110 337l16 19M80 540l61 23M128 568l23 14M291 511l22 -36M195 516l4 -19M119 604l16 -25M227 582l9 17M69 512l7 4M61 494l7 -12M134 321l16 -25M54 578l17 -60M56 440l35 -40M248 475l8 -23M316 426l77 9" stroke="#8050d0" stroke-width="4"/><path d="M414 516l5 -18M299 439l3 -64M419 537l6 -14M199 527l11 -32M338 442l10 -19M428 526l7 -38M200 400l6 -14M307 426l15 3M279 491l23 -57M182 470l22 14M150 340l16 -21M287 393l0 -28M338 391l5 -41M162 534l15 -57M243 436l10 -16M187 363l14 -29M163 447l8 -8M417 482l11 -33M260 371l5 -58M375 387l15 37M191 328l7 17M253 368l14 -59M214 427l9 -27M358 361l20 -37M413 583l8 -25M212 365l5 8M111 465l20 17M403 362l7 -21M61 335l29 41M97 375l22 15M62 551l23 21M305 361l59 55M334 388l4 -12M248 446l44 6M283 385l4 -20M59 529l23 11M334 388l6 -16M414 432l7 10M420 551l15 -6M345 557l8 -22M203 310l23 24M178 380l18 -86M321 577l30 12M82 533l26 9M58 486l92 52M53 545l18 18M325 345l15 18" stroke="#3c4cc8" stroke-width="4"/><path d="M332 538l12 -37M104 512l18 -24" stroke="#f07ab8" stroke-width="4"/><path d="M91 571l20 -31M123 313l9 -7M57 428l30 -20M228 371l-0 -27M361 475l12 -33M383 528l14 -42M335 487l20 -36M361 454l22 21M255 324l9 -27M48 356l44 27M397 308l19 41M328 585l2 -25M229 453l39 9M305 577l5 -11M349 504l48 36M122 384l35 26M198 373l23 -2M267 461l19 2" stroke="#5ad060" stroke-width="2.2"/><path d="M237 431l35 5" stroke="#f0a040" stroke-width="2.2"/><path d="M259 392l10 -55M237 355l7 -18M282 415l43 -4M95 371l14 -20M146 307l31 -8M291 467l28 4M196 561l4 11M260 445l21 1M194 352l9 -19M100 542l16 8M48 433l25 -34M288 500l20 2" stroke="#96e08a" stroke-width="3"/><path d="M247 421l25 3M406 471l8 -27" stroke="#f0a040" stroke-width="3"/><path d="M362 485l7 -25M382 520l29 31M48 526l27 11M385 487l8 -21M294 419l30 -66M370 312l14 22" stroke="#60c8e0" stroke-width="3"/><path d="M166 478l37 -73M367 324l8 -23M167 432l21 26M246 344l7 -20M366 599l8 -18M177 350l18 22M267 485l55 0M291 560l7 -17M123 535l21 14M318 343l17 -49M208 343l5 -16M276 410l6 -36M261 504l8 -17M186 498l26 -17M88 598l13 -47M323 603l4 -19M154 402l15 15M58 399l14 -16M365 372l8 18M405 539l14 13M276 471l14 -28M88 584l18 8M205 301l12 7M156 293l25 23M396 456l4 -11M265 482l36 3M166 319l7 -27M223 423l18 5M377 393l20 -51M261 489l3 -14M136 418l13 -5M177 586l24 -68M262 322l7 -24M84 338l26 -31M230 493l48 -92M204 307l8 5M403 512l13 -31M336 565l13 10M234 580l15 29M356 348l9 -39M113 330l31 26M395 390l16 20M393 345l23 -10M53 531l34 17M164 406l35 22M264 327l50 -23M222 489l9 -37M69 453l8 19M200 390l39 74M150 473l7 -18M400 534l29 23M301 370l8 20M249 508l7 -18M381 288l17 26M371 377l13 -36M188 433l6 -19M320 444l16 -28M339 333l6 12M206 589l13 -23" stroke="#3c4cc8" stroke-width="2.2"/><path d="M83 439l8 -10M57 481l13 11M135 356l26 15M216 298l8 11M163 549l26 11M196 488l10 -21M168 394l20 3M363 375l23 30M341 575l-1 -34M381 453l28 22M332 579l6 -23M315 372l39 -72M274 458l14 1" stroke="#60c8a8" stroke-width="3"/><path d="M63 478l29 -30M146 505l11 6M295 380l8 -27M302 407l21 5" stroke="#60c8e0" stroke-width="2.2"/><path d="M272 435l11 -16" stroke="#f0a040" stroke-width="3"/><path d="M300 297l19 22M364 359l6 -20M72 405l19 -22M212 520l5 7M178 536l14 -33M121 468l30 21M200 541l13 27" stroke="#f07ab8" stroke-width="2.2"/><path d="M204 417l8 -24M350 609l6 -32M336 519l27 -77M223 318l9 -25M294 334l9 -29M271 373l6 14M94 525l21 10M103 497l42 -49M267 526l14 -28M111 486l16 12M379 421l17 30M86 575l9 -11M395 523l6 -17M246 531l11 4M100 453l26 31M246 381l6 -12M195 547l20 -43M84 565l34 13M274 325l3 8M139 582l29 9M52 502l50 -66M265 520l11 28M310 489l42 -51M47 500l34 15M43 476l25 20M339 422l6 -28M146 533l56 27M173 532l19 -38M362 384l9 19M405 479l33 25M408 423l9 -40M148 581l8 4M217 502l36 -68M420 439l12 -26M220 414l4 -33M199 329l6 -23M369 356l17 26M96 445l44 16M208 439l31 -54M254 475l22 -4M324 398l8 -30M347 562l10 -21M238 536l8 -25M113 281l54 44M206 451l41 1M86 564l45 20M167 476l36 -38M370 338l26 48M103 442l16 -23M220 479l15 -21M164 369l23 -36M203 326l14 19M57 415l19 -41M81 403l11 10M361 537l19 8M373 361l4 -41" stroke="#3c4cc8" stroke-width="2.2"/><path d="M233 399l17 22M43 436l34 -32M90 570l10 -22M241 513l7 -33M227 578l9 -24M201 370l6 -26" stroke="#96e08a" stroke-width="2.2"/><path d="M166 392l11 -34M64 414l15 -20M76 338l13 -17M219 334l3 -17M63 350l16 -17M172 411l11 -30M363 498l6 -14M132 487l18 6M108 547l8 -10M171 431l6 -8M244 341l13 -1M300 324l8 -32" stroke="#60a8e8" stroke-width="3"/><path d="M164 549l12 24" stroke="#e0e050" stroke-width="2.2"/><path d="M95 570l12 -27M208 485l55 7M117 569l9 -16M357 414l15 29M337 535l10 -27M123 459l14 16M340 544l20 16M102 309l52 42M63 519l14 -39M147 283l2 33M54 511l7 7M365 553l10 -33M302 384l6 -48M205 518l1 -8M117 338l42 22M205 341l21 -48M328 355l6 -25M297 432l23 1M185 569l16 28M215 449l79 11M160 510l7 -24" stroke="#e23ca0" stroke-width="4"/><path d="M178 360l6 -24M331 616l29 -44M296 550l12 -32M135 384l50 40M119 526l20 11M97 560l35 34M73 377l45 53M280 299l16 29M283 534l5 11M223 324l16 17M368 331l9 21M258 317l-0 -37M326 365l5 9M175 340l2 -17M196 371l10 -44M265 564l11 22M230 301l20 29M259 357l2 -11M240 549l3 19M211 439l18 -4M238 376l12 -37M348 560l17 11M282 534l27 44M153 374l13 -36M100 560l32 15M45 412l35 43M279 443l15 -34M124 360l5 -7M213 326l8 -23M303 566l24 24M335 351l49 83M145 307l23 -17M404 377l10 17M312 355l6 18M265 548l15 22M120 287l42 32M68 435l11 -17" stroke="#8050d0" stroke-width="2.2"/><path d="M353 604l10 -22M349 407l11 -24M117 445l31 19M213 599l19 -49M340 498l38 36M188 493l34 -36M147 567l25 10M313 364l6 14M247 442l6 -22M182 538l5 -14M352 307l3 -15M91 317l29 22" stroke="#60c8a8" stroke-width="2.2"/><path d="M266 540l14 -22M161 394l12 -21M101 488l18 9M423 347l7 15M53 593l12 -27M242 358l18 -59M165 501l21 18M259 317l12 23M391 497l20 15M284 570l23 -37M182 508l42 52M352 536l18 -42M124 349l6 -11M357 520l7 10M54 484l31 -34M197 521l15 -25M324 438l83 -3M342 319l19 25M420 571l9 -32M87 350l70 69M333 409l33 19M150 528l11 -15M407 595l7 -23M384 561l12 -43M68 322l15 14M357 596l20 -42M49 309l31 22M58 418l5 -7M301 566l12 29M348 531l1 -15M300 574l18 -31M131 385l14 -24M286 359l17 14M100 528l27 27M418 443l14 28M168 334l10 -30M317 435l10 -38M71 573l42 34M397 470l42 -51M245 379l5 -26M328 360l8 -38M286 288l29 48M57 392l17 -21M53 433l19 23M96 393l17 -39M69 504l26 11M211 529l9 15M295 437l16 -81M381 475l15 -30M263 500l11 -20M407 430l14 -25M319 523l27 14M405 366l8 16M302 347l10 -27M93 442l17 -27M168 362l25 39M251 555l32 -54M321 559l10 8M267 279l25 37M83 482l33 14M73 554l64 19M330 405l-1 -9M395 581l10 -59M202 320l19 22M108 462l22 25" stroke="#3c4cc8" stroke-width="3"/><path d="M168 492l8 -17M117 518l25 -30M136 475l15 -18M371 540l10 -21M110 550l17 -34M165 451l35 30M55 321l16 -19M353 289l25 37M151 583l11 -14M399 530l18 -38M384 305l15 28M222 560l12 63M374 609l10 -27M247 548l4 -14M417 401l6 -14M363 583l26 22M204 357l35 52M370 586l22 14M174 541l29 14M72 390l13 -33M278 438l18 -28M258 426l45 4M158 591l8 -12M126 393l22 10M158 503l15 -23M151 538l13 7M197 540l6 -12M39 356l37 41M111 507l17 9" stroke="#e83048" stroke-width="3"/><path d="M203 530l12 -18M168 405l17 19M117 470l34 20M256 483l64 2M131 289l31 18" stroke="#f07ab8" stroke-width="4"/><path d="M292 514l43 23M227 434l25 -58M315 426l52 1M279 546l12 -17M159 421l31 30M261 449l10 -15M250 588l5 -7M131 314l19 -22M266 477l21 4M263 555l3 10M147 407l19 -19M153 349l19 15M48 358l18 16M139 574l55 -95M156 448l15 -16M306 514l70 59M313 562l14 -59M298 484l31 -0M330 523l15 6M364 381l18 -2M259 483l34 4M362 536l15 11M88 459l22 27M127 567l22 -31M363 374l15 21M160 274l35 45M214 297l28 6M395 547l2 -10M271 425l6 -12M248 485l17 -21M131 478l19 -23M195 535l10 -21M321 320l5 -37M54 498l17 -14M87 347l36 20M234 315l5 -15M415 609l10 -26M220 340l14 -42M141 575l16 -26M346 381l26 61M297 385l9 -29M120 347l5 -8M218 569l14 15M155 349l35 26M131 408l20 21M288 388l3 -27M166 562l6 5M385 308l12 32M311 459l31 9M367 552l14 -33M237 597l8 -21M336 375l30 39" stroke="#3c4cc8" stroke-width="4"/><path d="M60 331l26 27M368 586l13 -21M231 513l29 32M373 557l6 -17M160 547l21 5M398 554l3 -16M140 388l23 33M110 311l15 13M43 566l34 17M338 446l42 -8M356 308l5 -21M372 433l12 26M384 506l20 14M156 567l34 17M120 338l28 -31" stroke="#60a8e8" stroke-width="2.2"/><path d="M125 572l38 31M409 412l40 66M242 590l5 -7M301 593l25 -53M403 444l14 -26M54 308l37 9M270 334l37 44M149 578l34 20M148 494l17 -21M328 358l13 -36M137 346l34 -59M215 464l6 -19M315 438l72 -5M281 488l13 -42M123 408l21 -41M273 487l16 -2M262 400l9 -36M291 434l18 -25M421 368l7 10M382 340l20 49M119 400l7 8M299 374l3 -43M56 295l72 31M360 599l2 -8M116 313l22 -26M146 477l36 33M115 375l17 17M333 587l14 -48M51 475l26 -8" stroke="#e83048" stroke-width="2.2"/><path d="M236 446l6 -12M237 432l24 5M42 463l70 56" stroke="#f0a040" stroke-width="4"/><path d="M304 459l20 -1" stroke="#60c8e0" stroke-width="2.2"/><path d="M279 312l15 26M117 588l15 9M217 310l14 -23M273 595l6 -11M153 572l12 8M238 602l13 -52M412 609l6 -48M175 361l20 31" stroke="#96e08a" stroke-width="4"/><path d="M422 352l13 -37M370 293l23 29M335 327l27 54M255 534l17 16M329 376l5 -12M296 316l5 -30M127 478l14 -16M208 527l13 -31M323 574l5 -16M97 319l57 48M316 573l48 32M190 506l17 30M338 397l49 71M419 413l11 13M246 551l6 -31M298 391l22 -49M334 584l31 23M70 453l31 -30M413 387l14 -17M107 468l7 5M60 490l15 -19M339 533l24 -72M349 391l7 -19M91 476l76 38M48 458l53 -56" stroke="#e23ca0" stroke-width="2.2"/><path d="M421 487l5 -23M225 596l17 -35M146 398l8 5M333 326l14 -27M57 554l47 24M106 458l7 8M129 338l22 -44M211 408l12 -31M239 591l12 -31M130 389l18 -19M347 413l8 19M252 541l26 -53M237 480l6 13M93 387l14 7M204 393l5 -26M84 339l36 -20" stroke="#60a8e8" stroke-width="4"/><path d="M346 542l12 10M370 366l6 -33M260 361l30 -75M150 453l5 -7M46 374l20 -16M198 499l17 26M362 580l3 -7M196 469l10 -19M338 592l22 -48" stroke="#b060d2" stroke-width="4"/><path d="M232 499l26 3M74 435l14 14M197 488l11 -15M167 552l22 17M147 377l17 -20M110 514l8 -9M399 321l17 37M171 547l23 -66M298 291l29 41" stroke="#f07ab8" stroke-width="3"/><path d="M397 423l54 -30M397 353l8 18M52 332l21 -34M81 537l17 7M56 304l38 40M170 310l18 25" stroke="#60c8e0" stroke-width="3"/><path d="M258 474l21 6M57 455l13 12M108 595l11 -16M100 566l16 4M274 367l10 -25M131 523l16 8" stroke="#96e08a" stroke-width="3"/><path d="M407 521l26 26M415 438l5 9M251 541l8 11M192 484l28 30M410 382l15 -33M347 588l19 -68M78 374l10 -16M317 301l17 25M145 474l45 26M278 572l6 8M282 480l15 -21M346 370l10 1M239 384l11 -42M129 432l10 -16M106 440l25 -31M245 414l9 -51M68 509l7 -8M180 418l96 24M216 562l10 -20M140 515l18 8M358 436l24 38M67 367l32 -52M101 477l29 22M211 394l6 -18M167 438l24 23M96 560l38 -53M400 423l11 33M263 465l9 -19M307 338l13 21M185 400l25 -28M96 416l22 15M251 542l25 -37M166 470l16 15M391 391l16 29M127 353l13 -21M60 305l23 44" stroke="#e23ca0" stroke-width="3"/><path d="M171 380l38 53M217 447l39 9M218 518l13 36" stroke="#60c8a8" stroke-width="4"/><path d="M139 514l24 13M126 392l12 -20M139 519l27 14M78 415l39 27M184 481l37 53M354 505l12 -53M418 546l6 -14M363 307l3 8M50 358l44 -52M394 549l18 -26M64 459l9 5M316 356l6 15M186 483l40 67M91 278l43 40M329 320l10 -41M157 303l8 13M391 324l7 13M190 380l3 -8M194 342l25 28M184 546l16 -37M371 331l4 13M211 378l14 -41M176 321l11 -41" stroke="#e83048" stroke-width="4"/><path d="M140 548l13 9M288 450l14 -32M200 519l27 -54M301 382l2 -8M326 530l35 -70M162 402l3 -9M239 460l73 4M262 460l28 2M137 499l23 22M163 298l17 24M206 285l27 48M136 507l35 22M277 400l0 -40M71 554l18 6M52 507l44 31M48 442l55 40M327 402l3 -23" stroke="#60c8a8" stroke-width="3"/><path d="M298 380l10 17M158 364l13 -30M123 464l36 39M201 367l6 -12M196 539l6 10M201 474l17 -2M220 604l9 -19M62 323l17 -19M180 539l28 -45M89 333l5 -8M241 487l34 1M98 542l32 20M368 351l8 -41M358 351l6 -22M207 587l11 16M216 549l28 -46M396 584l4 -11M191 329l9 -27M270 389l8 -20M118 567l8 -9M181 380l13 -23M376 549l8 5M141 407l7 5" stroke="#8050d0" stroke-width="4"/><path d="M173 319l15 -39M236 466l8 -15M213 510l19 -38M236 378l61 9M106 530l57 27M392 512l10 -25M379 316l31 60M293 325l3 -19M63 581l11 5M306 401l7 -84M371 490l14 -26M79 572l22 -36M294 318l15 26M387 594l7 -30M281 328l17 21M174 345l29 42M311 518l11 7M121 484l18 14M414 359l11 20M86 399l9 9M151 542l62 32M249 363l10 22M375 528l2 -23M427 566l5 -25M236 322l8 -19M289 536l20 26M92 479l19 19M199 394l4 -20M238 307l8 14M100 489l13 -19M355 560l40 36M255 401l5 -18M239 512l6 -21M120 556l12 -19M79 351l55 37M177 552l14 28M311 371l10 13M79 527l45 22M409 585l10 6M321 308l16 21" stroke="#8050d0" stroke-width="3"/><path d="M275 580l7 -10M102 349l56 51M383 547l4 -13M110 393l14 13M189 347l22 28M292 522l34 -7" stroke="#b060d2" stroke-width="3"/><path d="M360 529l33 -103M136 565l75 54" stroke="#60c8e0" stroke-width="4"/><path d="M297 590l7 -32M383 570l29 -62M254 486l16 -38M374 425l65 3M180 448l17 -22M223 326l5 -15M125 490l16 -17M343 353l12 -25M350 331l1 -26M61 328l72 12M76 503l13 7M288 466l39 4M261 460l13 -18M369 420l18 29M89 321l87 61M148 517l33 20M348 462l15 -0M342 403l10 33M143 528l47 37" stroke="#5ad060" stroke-width="2.2"/><path d="M158 457l20 16M246 528l14 -20M234 553l17 -37M242 393l9 12M381 584l25 -32M384 377l7 15M194 563l13 -23M78 496l12 -26M181 446l29 -54M379 465l4 -11M428 413l6 20M421 297l11 26M282 322l9 17M269 422l15 -23M282 543l11 -40M403 582l45 28M139 315l17 10M123 326l21 -50" stroke="#b060d2" stroke-width="2.2"/><path d="M231 503l3 -15M395 591l-0 -28M51 552l22 15M175 613l23 -50M362 611l8 -54M71 423l12 10M236 609l9 -26M281 340l11 -27M101 391l13 -26M150 339l7 4M172 480l33 -35M368 341l8 -39M211 457l26 0M283 502l10 -14M212 422l50 -14M337 421l44 7M413 595l8 -55M38 420l71 -72M97 359l19 -23M381 597l17 -34M209 345l11 20M50 349l12 11M422 300l6 14M206 472l12 -18M361 499l15 -30M327 418l2 -8M380 493l2 -9M316 528l24 -2M52 535l12 -30M90 303l30 27M230 455l26 -39M295 356l9 -43M167 387l4 -13M354 303l9 18M357 594l7 -45" stroke="#5ad060" stroke-width="3"/><path d="M314 597l20 -22M358 603l10 -25M139 575l17 8M333 328l2 -19M356 461l37 27M313 356l7 18M231 485l14 15M150 371l39 50M109 318l15 18M350 609l8 -50M245 540l6 8M260 483l9 -41M368 558l7 -17M89 484l27 -26" stroke="#5ad060" stroke-width="4"/><path d="M246 402l12 14" stroke="#f0a040" stroke-width="2.2"/><path d="M71 433l21 -20M372 392l11 19M142 468l17 15M220 303l3 -11M397 312l28 12M340 541l36 16M208 334l6 -40M187 397l7 -24M292 520l16 -36M36 396l40 25M381 378l23 61M412 431l25 39" stroke="#60a8e8" stroke-width="4"/><path d="M288 435l9 -17M237 309l7 -19M276 315l3 -8M93 369l22 -30M112 390l25 17M415 328l16 17M111 485l17 9M381 441l6 18M401 396l7 17M83 568l97 51M73 483l13 -20M323 445l29 9M359 536l11 -32M269 354l17 23M209 540l7 19" stroke="#60a8e8" stroke-width="3"/><path d="M347 567l5 -25M136 555l16 8M181 323l8 -13M172 352l22 -97M371 429l9 -32M316 365l0 -34M191 462l16 18M294 351l32 38M246 485l33 8M325 357l2 -28M375 314l8 17M419 435l4 10M304 516l14 12M136 497l16 9M78 498l18 -19M134 388l8 6M53 463l7 9M342 414l9 -18M308 310l3 -21M335 302l41 66M144 482l9 13M113 327l44 6M379 327l14 -20M300 525l10 -23M194 482l20 31M92 563l23 8M121 475l15 13M349 457l39 -4M381 450l8 13M367 503l2 -15M383 427l11 -29M259 511l8 -14M314 489l24 -3M336 339l2 -16M313 485l5 -11M261 604l12 -24M196 364l7 -34M303 355l8 -46" stroke="#8050d0" stroke-width="2.2"/><path d="M153 313l61 -15M72 509l30 11M254 481l77 -4M125 355l11 -20M200 345l2 -8" stroke="#60c8e0" stroke-width="4"/><path d="M302 381l34 -7M322 388l10 12M297 475l18 -30M277 502l23 -57M119 509l36 14M320 432l23 38M411 437l8 -24M79 460l13 -16M351 386l4 -18M304 555l13 23" stroke="#60c8a8" stroke-width="4"/><path d="M402 371l14 -33M75 589l13 5M232 445l51 7M238 545l9 20M100 324l11 10M88 334l12 -19M275 559l14 25M211 601l11 -18M107 322l12 -16M323 348l3 8M132 541l16 8M320 351l6 -21M241 358l6 -14M423 317l11 -30M308 591l1 -22M289 542l28 47M192 395l7 -36M206 564l19 28M244 389l9 -17M156 461l15 -10M324 340l4 -11M331 510l27 -2M234 529l11 32M57 490l20 21M392 451l48 35M363 496l3 -21M322 302l11 19M355 366l15 28M288 312l1 -14M197 464l13 9M186 351l21 27M195 583l12 -4" stroke="#e83048" stroke-width="3"/><path d="M50 337l12 -22M275 431l42 14M67 544l4 -15M165 602l9 -14M320 381l1 -15M346 326l8 -44M267 374l13 -43M276 437l32 17M186 426l15 15" stroke="#96e08a" stroke-width="2.2"/><path d="M229 525l30 -53M197 360l9 -15M194 447l10 -18M303 487l27 -54M169 454l7 -12M334 554l8 -29M195 581l0 16M365 460l12 1M137 373l38 0M95 450l35 22M95 430l10 7M91 314l21 12M276 337l25 12M62 396l25 20M357 483l9 -46M269 473l19 2M328 331l12 21" stroke="#5ad060" stroke-width="3"/><path d="M387 426l11 28M407 477l4 -15M237 355l6 12M360 507l2 -10M296 296l16 31M378 583l17 -38" stroke="#f07ab8" stroke-width="4"/><path d="M242 435l47 7M251 448l16 0M63 460l35 28M161 316l3 -14M408 384l12 48M402 486l11 -11M138 349l18 14M304 375l2 -10M200 562l6 -10M419 335l3 -21M418 317l4 8M180 293l8 17M314 464l2 26M82 462l9 -10" stroke="#60c8a8" stroke-width="3"/><path d="M220 439l18 -25M330 390l-1 -24M366 327l4 14" stroke="#f0a040" stroke-width="3"/><path d="M228 397l8 -22M365 346l15 35M360 406l28 39M407 423l14 16M129 458l26 17M195 553l16 26M373 576l6 -14" stroke="#b060d2" stroke-width="4"/><path d="M268 341l2 -15M136 462l17 19M338 483l12 -32M389 398l10 -31M93 499l10 -14M49 559l15 -42M309 566l5 -11M201 591l10 -27M147 436l25 15M141 359l36 -58M298 462l11 1M277 550l13 18M201 367l6 10M61 354l25 18M157 489l13 -19M266 404l22 -37M329 414l14 -51M95 304l20 16M73 471l10 -15M367 406l11 15M363 412l13 -21M372 490l8 -25M307 589l23 -46" stroke="#5ad060" stroke-width="2.2"/><path d="M404 407l23 32M128 542l22 -38M175 520l48 26M364 453l20 1M110 552l24 -42M114 497l10 -16M142 549l8 -35M243 452l18 2M329 421l3 -26M383 591l16 -36M278 558l16 26M335 317l4 -22M353 527l10 -32M108 557l7 4M325 506l19 60M364 444l24 51M327 348l4 -20M383 290l16 29M50 586l31 9M379 324l24 37M395 449l29 15M182 564l9 19M68 560l11 -19M170 313l12 11M115 417l14 37M350 569l24 -49M247 427l15 4M99 546l11 7" stroke="#e23ca0" stroke-width="2.2"/><path d="M160 376l32 51M304 401l9 16M360 513l10 -34M310 522l12 29M394 359l17 36" stroke="#b060d2" stroke-width="2.2"/><path d="M414 372l15 -54" stroke="#e0e050" stroke-width="3"/><path d="M176 496l24 11M192 555l13 -21M381 348l6 -29M341 317l4 -21M274 383l23 25M325 488l31 6M380 596l9 -45M221 369l15 -40M280 506l11 -20M213 402l36 21M271 553l2 -8M221 450l12 -25M88 357l23 -44M273 383l11 26M228 557l11 -38M422 568l9 -25" stroke="#5ad060" stroke-width="4"/><path d="M204 547l13 -25M303 388l13 22M282 466l15 1M178 334l17 -44M67 580l34 25M157 435l36 -41M88 312l12 24M207 403l7 -31M357 447l33 6M242 568l9 -21M236 436l7 -21M406 589l15 -25M98 531l18 9M126 384l46 54M198 468l10 19M419 487l13 -46M298 468l15 0M121 561l14 -28M368 317l9 -20M132 392l11 -18M355 311l23 17M260 394l16 -34M359 328l12 -26M308 525l11 -30M132 400l32 28M167 554l19 -31M90 598l14 -19M372 371l12 21M59 363l20 -24M118 437l9 -9M136 354l5 9M272 508l16 39M167 425l27 -47M335 274l27 48M280 602l18 -26M363 575l18 9M46 328l20 13M230 562l14 22M418 322l16 29M231 605l17 -40M398 560l9 -25M273 560l19 1M49 461l52 41M290 412l10 2M159 358l32 -31M294 339l1 -28M264 441l12 -32M276 299l4 12M274 420l9 -16M139 412l9 -6M391 531l4 -23M400 372l6 -14M103 358l27 -53" stroke="#3c4cc8" stroke-width="2.2"/><path d="M70 473l14 14M173 490l6 5M246 435l12 -37M213 414l8 -25M60 412l14 14M276 607l15 -23M218 491l29 36M250 414l24 3M395 540l10 -34M199 479l12 1M105 380l21 26M43 304l27 16M158 572l36 17M323 592l16 -48M322 573l2 -13M237 396l16 18M199 361l34 33M103 518l17 7M187 551l15 -37M283 521l41 62M354 501l3 -8M122 393l11 -33M377 605l6 -41" stroke="#e83048" stroke-width="4"/><path d="M369 424l6 20M155 493l8 -67M55 432l11 31M394 390l18 -43M303 308l41 59M357 346l15 27M139 315l9 12M113 600l11 -34" stroke="#96e08a" stroke-width="4"/><path d="M274 458l88 4M149 592l11 -37M238 431l13 1M239 500l6 -11M259 547l6 -13M59 324l43 29M114 541l34 19M321 396l17 -34M161 502l25 10" stroke="#b060d2" stroke-width="3"/><path d="M415 575l2 -10M155 378l22 26M183 583l21 -15M349 626l31 -65M238 478l20 0M120 552l6 -14M148 377l16 20M303 365l5 -23M105 529l34 28M355 413l14 28M161 387l11 11M324 440l24 -60M307 384l7 -34M70 589l10 -18M350 396l7 17M309 494l16 16M289 550l18 -18M193 475l16 22M323 440l42 12M396 560l36 22M163 402l17 27M54 375l16 -20" stroke="#8050d0" stroke-width="4"/><path d="M265 422l27 3M286 528l21 -1M361 368l12 18M384 593l2 -10M238 597l11 -31" stroke="#f07ab8" stroke-width="2.2"/><path d="M69 453l13 11M146 312l6 -19M423 438l5 -8M298 587l10 -23M362 316l9 15M302 393l9 -17M160 385l14 23M60 504l5 8M428 588l6 -17M123 389l12 -33" stroke="#60a8e8" stroke-width="2.2"/><path d="M73 317l35 -12M379 493l2 -23M295 337l46 27M373 489l6 -25M309 289l16 30M333 438l54 61M217 554l20 -31M353 339l11 -57M52 585l39 19M253 498l12 23M210 582l10 19" stroke="#f07ab8" stroke-width="3"/><path d="M353 385l10 -19M291 327l17 27M405 362l22 63M71 536l46 12M404 547l6 -15M186 504l10 12M176 348l44 55M305 342l4 7M38 386l40 33M199 371l6 -18M399 506l13 14M294 491l29 -1M168 577l14 7M72 588l16 9M66 519l61 -48M239 474l17 25M311 319l21 34M338 546l34 27M260 332l6 39M293 413l18 -49M273 497l18 1M251 409l5 -19M99 472l36 -10" stroke="#e23ca0" stroke-width="4"/><path d="M188 379l9 -21M381 322l18 29M348 525l5 -24M336 399l12 -35M221 513l10 23M223 483l17 22M202 483l11 23M80 502l24 19M256 455l20 5M99 424l14 -20M130 361l10 12M145 532l34 23" stroke="#60c8a8" stroke-width="2.2"/><path d="M94 487l32 28M165 556l20 15M78 516l21 16M368 453l13 -24M95 378l17 -32M145 562l39 15M396 517l16 -30M341 470l26 2M305 305l10 18M224 381l7 -39M394 352l3 -9M307 429l48 -93M75 559l38 -52M179 562l3 -8M102 355l15 -19M294 305l3 -11M175 331l6 -7M51 602l15 -18M160 442l28 -25M237 536l18 -39M119 434l12 -15M198 549l32 32M47 470l22 -24M123 377l26 18M90 418l29 31M69 459l32 38M229 432l10 0M223 317l9 -31M67 559l35 23M336 584l11 -36M92 466l18 12M228 367l9 -18M204 572l18 25M124 427l5 25M397 513l6 -21M319 453l26 6M232 561l15 -42M208 354l27 -67M96 513l73 54M84 375l18 20M266 503l8 -0M113 502l5 -8M415 580l27 -21M170 463l13 8M52 308l22 -20M49 424l27 -40M206 588l19 -36M399 523l14 -33M397 350l12 -23M371 390l10 30" stroke="#3c4cc8" stroke-width="4"/><path d="M100 326l23 -37M309 354l23 35M191 434l26 4" stroke="#f0a040" stroke-width="4"/><path d="M362 482l23 27M220 383l6 -30M385 367l8 40M248 477l36 4M264 544l11 -18M387 429l10 -17M399 373l11 -42M423 357l10 -24M365 323l4 -27M328 587l9 -30M122 434l14 9M52 329l12 -21M81 438l9 8M246 521l10 29M138 337l9 8M267 377l4 -18M386 518l0 -27M337 405l14 20M157 587l11 10M188 426l40 38M359 592l10 -29M151 525l20 -34M357 309l16 37M281 461l5 -20M74 580l41 13M199 441l13 -34M106 546l80 53M259 368l9 20M239 378l8 -16M184 315l5 -31M115 596l6 -11M329 573l7 -21M174 368l42 41M319 326l2 -18M411 555l32 -80M205 391l7 -20M237 592l12 -33M273 478l14 0M183 389l16 0M81 451l33 32M387 559l46 42M348 574l6 -27M398 498l24 8M269 493l44 8M184 366l5 -18M365 464l14 -42M222 364l15 24M354 311l10 -24M357 562l12 3M395 609l16 -38M345 405l-0 -11M308 544l9 -69M78 337l9 -15M332 321l-0 -39M124 507l18 -35M173 522l27 -16M415 399l13 24M148 590l10 -15M124 537l46 20M338 566l13 29M227 321l14 -26M275 431l28 2M90 413l13 -19M329 352l7 13M339 593l18 -67M214 522l7 19M118 483l2 -9M357 389l14 -32M284 455l12 1M106 494l36 25M351 565l3 -17M138 515l29 19M134 391l17 -28M391 360l4 -12M95 292l18 16M137 491l6 -12M50 591l21 6M81 476l18 -19M328 325l-0 -9M339 543l7 -35M225 448l5 -10M262 515l25 48M322 519l19 -49M67 460l29 22" stroke="#3c4cc8" stroke-width="3"/><path d="M324 348l9 -50M218 423l10 -26M56 389l15 10M232 365l11 -33M121 566l18 6M364 576l16 -31M282 281l40 58M53 375l46 -40M337 545l2 -9M50 551l10 6M298 576l17 -36M71 291l57 42M287 350l23 32M344 380l12 20M157 473l6 -10M178 352l16 -59M328 477l32 -65M131 541l45 17M214 486l24 -41M309 474l15 4M234 524l23 -49M64 401l11 -16M388 335l4 13M121 544l30 -74M419 396l8 -48M115 372l27 -42M164 434l18 -15" stroke="#e83048" stroke-width="2.2"/><path d="M137 446l32 -39M264 289l39 70M405 634l26 -96M133 532l19 -32M394 405l18 -30M187 461l9 -12M77 347l13 -18M97 311l12 10M194 514l13 -25M160 311l21 23M97 504l50 19M126 373l30 19M87 482l20 -27M253 447l13 -1M260 593l16 -28M159 496l5 -7M345 559l19 -38M342 552l16 12M354 358l4 -14M282 564l14 -24M140 568l18 14M415 337l8 -18M278 417l21 6M144 400l6 -9M244 505l23 26M370 354l13 21M288 425l8 2M63 580l17 6M90 382l16 -23M148 478l25 29M425 565l14 -46" stroke="#e23ca0" stroke-width="3"/><path d="M187 440l20 17M336 500l13 -42M262 556l5 -8" stroke="#60c8e0" stroke-width="2.2"/><path d="M96 339l8 -14M126 552l20 11" stroke="#60c8e0" stroke-width="3"/><path d="M246 529l4 11M367 360l15 34M206 584l9 16M118 476l39 35M289 460l8 -16M306 450l3 -9M340 600l14 -24M129 384l12 -16M142 547l15 4M398 545l12 -38" stroke="#96e08a" stroke-width="3"/><path d="M387 390l7 11M81 327l31 -44M324 534l9 -32M413 388l12 32M315 331l7 12M168 308l6 -14M300 624l23 -55M316 391l8 6M229 471l10 18M127 577l11 7M126 438l33 36M244 350l31 44M410 381l3 -14M207 446l61 -3M113 403l31 27M376 392l38 -75M310 412l24 -14M188 457l24 -36M71 520l32 14M137 298l8 9M326 565l6 -13M287 607l8 -67M308 551l15 -25M217 425l27 1M369 506l6 -18M151 585l19 5M229 354l8 -18M108 454l12 -14M302 344l17 21M179 415l9 -21M65 487l40 -49M60 393l15 13M260 367l17 -45M329 538l14 -44M383 298l5 14M302 290l31 40M59 358l20 -19M142 426l13 -18M390 596l10 -20" stroke="#8050d0" stroke-width="3"/></g><g fill="none" stroke-linecap="butt"><path d="M200 434l4 -20M209 445l3 -17M210 434l2 -13M250 446l-1 -21M242 443l2 -8M220 424l5 -14M217 425l3 -16M193 440l3 -9M220 436l9 -20M242 426l8 -20M250 448l3 -21M236 432l3 -12M243 448l3 -18M250 425l-0 -9M210 433l2 -14M225 432l5 -15M232 421l0 -10M217 426l6 -9" stroke="#f0a040" stroke-width="3.2"/><path d="M193 437l2 -8M259 434l2 -8M310 468l19 -2M319 473l12 -9M276 454l7 -6M263 443l11 4" stroke="#e83048" stroke-width="2.6"/><path d="M224 437l5 -12M345 474l6 -4M361 470l11 -12" stroke="#e0e050" stroke-width="2"/><path d="M227 432l7 -17M254 441l2 -18M304 439l7 0M288 466l18 1" stroke="#e83048" stroke-width="2"/><path d="M251 441l6 -17M252 438l6 -19M255 447l-1 -14M340 446l11 6M366 476l8 2M364 464l17 -6M305 475l7 1M303 462l20 0M328 472l7 3M353 479l8 -3M335 463l19 -2M332 467l15 9M311 444l19 1" stroke="#96e08a" stroke-width="2"/><path d="M235 448l5 -21M238 438l3 -9M230 430l3 -15M308 435l13 7M295 463l10 -10M266 452l8 4M330 440l13 7M279 453l16 3M331 457l6 -3M335 463l7 5M303 463l9 2M276 460l12 2M323 472l11 -6M345 459l14 -14M258 456l10 -6M350 465l9 -4M317 441l8 -3M300 456l13 5M313 477l8 3M336 478l17 6M345 479l10 0M318 481l11 -10M340 446l13 0M365 463l6 4M319 440l7 -5M333 455l7 -6M332 478l10 -6M284 462l9 -2M293 456l9 -5M324 472l6 5M358 454l12 0M280 446l9 8M280 463l16 6M264 459l18 4M352 449l10 5M271 455l15 -11M313 434l5 4" stroke="#5ad060" stroke-width="2"/><path d="M215 435l2 -9M226 446l-1 -21M238 448l3 -9M258 433l3 -7M236 426l5 -13M292 462l17 5M334 475l7 3M253 451l14 -11M255 441l6 2M293 466l12 -9M302 448l14 -1M264 458l7 2M274 458l18 4M254 451l15 -8M299 445l19 3M314 462l7 2M313 435l10 3M297 456l19 -2M325 468l16 8M287 459l11 -8M291 463l6 3M336 472l14 7M293 456l19 5M308 455l8 5" stroke="#5ad060" stroke-width="2.6"/><path d="M285 449l11 3M333 444l14 0M347 464l9 3M300 472l16 5M279 468l11 -0M327 458l16 10M306 438l7 -5M312 442l9 7M346 478l8 4M277 458l9 2M306 470l7 2" stroke="#60c8e0" stroke-width="2"/><path d="M311 446l18 8M355 459l10 -3M276 450l13 11M286 448l8 4M290 467l6 1" stroke="#60c8e0" stroke-width="2.6"/><path d="M211 424l-1 -14M241 437l-0 -19M202 438l3 -10M252 443l4 -8M233 445l3 -21M248 434l9 -18M241 426l5 -16" stroke="#96e08a" stroke-width="3.2"/><path d="M346 480l9 -4M329 484l12 -13M343 455l17 -8M297 453l14 10M304 448l11 3M276 438l9 -5M302 452l11 6M274 440l11 -6M296 432l15 9M322 477l7 5M332 468l7 -4M304 443l9 -3" stroke="#60c8e0" stroke-width="3.4"/><path d="M287 455l17 8M285 439l10 3" stroke="#e83048" stroke-width="3.4"/><path d="M361 468l14 2M307 469l14 2M332 456l16 3M326 453l10 -6M350 450l6 -4M331 476l6 -5M289 436l16 4M337 463l16 8M315 475l10 -1M334 453l15 5M340 478l9 6M258 438l9 1M329 473l6 2M265 447l13 -1M281 431l14 6M326 454l12 6M304 456l18 -5M263 438l13 5M268 460l16 6M283 470l7 -6M292 432l6 2M354 456l11 14M312 456l8 -4M258 448l13 -8M337 465l15 6" stroke="#5ad060" stroke-width="3.4"/><path d="M219 427l3 -13M235 429l3 -7M230 427l4 -18M185 441l8 -16" stroke="#8050d0" stroke-width="2"/><path d="M211 449l2 -12M197 432l1 -14" stroke="#e83048" stroke-width="3.2"/><path d="M258 429l3 -10M262 433l5 -15M250 436l4 -21M194 438l4 -19M234 424l2 -16M200 450l4 -18M211 453l9 -19M224 439l11 -17M206 449l3 -13M221 433l2 -21M217 449l4 -16M239 448l3 -8M212 437l1 -12M253 442l4 -11M219 438l2 -9M251 447l4 -13M204 424l3 -8M244 440l4 -12M252 429l2 -9M241 442l4 -7M208 444l3 -9M187 435l5 -9M240 431l6 -20M199 427l0 -9M303 452l16 -10M297 453l17 2M309 472l15 10M320 473l12 5M313 438l6 3M353 472l11 1M341 466l12 9M306 474l10 6M359 472l8 -3M298 450l11 -6" stroke="#f0a040" stroke-width="2.6"/><path d="M368 473l17 -8M333 463l9 -6M314 471l9 -1M271 448l10 7M340 465l17 3M264 460l14 2M325 473l7 3M306 455l17 -1M305 478l7 -6" stroke="#60c8a8" stroke-width="2.6"/><path d="M193 428l9 -11" stroke="#8050d0" stroke-width="3.2"/><path d="M220 449l8 -13" stroke="#8050d0" stroke-width="2.6"/><path d="M235 431l4 -21M218 439l5 -14M212 448l5 -11M231 428l3 -19M295 470l8 1" stroke="#e0e050" stroke-width="2.6"/><path d="M270 440l14 -8M342 447l7 1M319 436l13 3M287 437l14 3M371 460l10 7M346 466l9 4M302 443l6 -2M371 468l11 -7M368 465l14 12M290 448l13 -11" stroke="#f0a040" stroke-width="3.4"/><path d="M197 440l5 -9M260 439l5 -15" stroke="#e23ca0" stroke-width="2"/><path d="M298 442l13 -7M310 454l13 1M352 446l6 3M298 455l9 3M332 457l12 -0M265 458l13 -8M353 476l14 -4M269 438l19 4M303 430l12 9M336 478l7 -3M314 443l5 3M307 445l12 -7M335 480l5 -3" stroke="#60c8a8" stroke-width="2"/><path d="M241 439l3 -15M241 434l2 -9" stroke="#e23ca0" stroke-width="3.2"/><path d="M211 441l8 -18M220 432l2 -15M233 444l5 -16" stroke="#e23ca0" stroke-width="2.6"/><path d="M196 436l-1 -21M230 435l7 -17M331 460l13 1M325 452l15 10M359 469l15 -9M325 435l9 6M292 463l17 3M290 464l10 1M356 460l6 2M328 462l11 1M296 461l12 -3M287 471l15 0M290 456l6 5M356 461l11 -8" stroke="#96e08a" stroke-width="2.6"/><path d="M256 443l-1 -9M195 437l4 -15M198 437l3 -8M213 446l-0 -12M215 436l4 -8M223 438l2 -21M191 433l1 -9M225 438l3 -13M243 433l3 -10M262 435l1 -18M232 446l3 -21M198 436l6 -19M215 442l2 -9M216 430l3 -12M221 448l3 -8M199 437l6 -14M263 442l5 -14M302 450l15 12M265 446l15 0M279 433l7 5M296 471l18 5M319 481l7 -5M271 438l14 8" stroke="#f0a040" stroke-width="2"/><path d="M254 435l6 -18M251 440l5 -12M229 446l-3 -12M227 444l5 -12M217 436l3 -13" stroke="#5ad060" stroke-width="3.2"/><path d="M290 467l9 6M347 464l17 -9M324 446l18 8M352 483l7 -6M324 457l15 3M341 446l17 3M283 440l7 -4M307 474l7 -5M320 450l6 1" stroke="#60c8a8" stroke-width="3.4"/><path d="M262 440l5 -12M220 448l6 -15" stroke="#e0e050" stroke-width="3.2"/><path d="M297 450l18 7M276 453l12 -14M356 473l14 2M337 448l10 3M333 451l11 4M279 465l6 3M262 442l9 6M330 454l7 2M347 475l13 -8" stroke="#96e08a" stroke-width="3.4"/><path d="M343 476l13 -11M310 442l11 5M264 436l8 5M267 462l9 -2M274 437l10 5" stroke="#e83048" stroke-width="2"/><path d="M351 475l12 -8M283 437l15 -8M299 440l12 -1M301 431l14 9M310 477l18 -8M312 479l16 -2M359 462l13 2M331 477l16 6M356 468l12 -13M326 461l9 3M329 464l9 3M259 445l11 1M313 452l12 -9M359 455l9 3M335 445l10 -7M287 454l7 -5M345 451l9 2M336 476l14 9M341 459l13 6" stroke="#60c8a8" stroke-width="2"/><path d="M288 453l12 6M330 479l7 1M292 454l6 2M366 456l9 5" stroke="#e83048" stroke-width="2.6"/><path d="M265 459l16 6M291 437l15 -7M335 467l14 -8M309 442l13 3M318 441l10 8M350 483l18 -8M307 450l9 2M266 454l9 1M351 467l5 4M344 460l6 1M348 474l20 2M363 452l8 8" stroke="#96e08a" stroke-width="2.6"/><path d="M263 454l10 -6M272 452l13 7M264 429l14 12M282 466l19 -5M348 453l15 -9M361 453l14 5M334 462l12 6M322 443l8 5M289 467l9 6M360 465l19 3M323 476l7 3M313 447l19 2M291 453l6 -3M301 471l11 6M314 453l16 2M298 460l8 -4M344 478l15 -11M265 437l6 -1M362 474l11 -11M261 453l12 2M362 463l6 3M333 458l8 0M326 471l10 3M314 471l16 7M335 451l17 -10M282 465l10 1M337 439l10 9M325 474l5 -4M345 472l14 1M315 461l11 4M322 484l16 -8M280 435l18 4M256 455l10 -8M278 446l15 12" stroke="#5ad060" stroke-width="3.4"/><path d="M294 451l9 -7M316 437l16 3" stroke="#e0e050" stroke-width="3.4"/><path d="M315 451l10 -0M311 451l12 -9M296 469l6 -3M295 459l9 -9M338 479l16 3M294 450l12 9M289 467l8 3M288 465l17 6M319 479l8 0" stroke="#96e08a" stroke-width="2"/><path d="M275 453l11 1M304 468l5 -5M291 439l9 3M293 456l18 -9M307 467l13 8M284 443l9 2M353 463l13 -7M366 467l17 -6M267 447l15 -0M336 463l13 -11M281 462l13 -12M260 449l8 5M288 466l8 9M291 464l19 -1M294 444l10 7M317 448l13 6M323 456l13 -3" stroke="#60c8a8" stroke-width="2.6"/><path d="M342 467l19 -7M268 460l7 -7M270 438l8 -4M255 453l15 3M254 441l13 8M301 466l13 7M318 469l5 3M308 438l12 9M313 469l8 4M342 475l12 -6M306 463l13 2" stroke="#96e08a" stroke-width="3.4"/><path d="M356 462l15 -10M322 444l6 -5M316 435l10 7" stroke="#e0e050" stroke-width="2"/><path d="M294 460l15 6M328 457l13 -0M269 434l14 6M353 455l6 5M260 447l13 1M261 458l6 -5M373 466l6 -6M341 452l12 6M318 442l16 8M315 476l7 3M252 445l16 -6M343 480l7 -5M341 453l11 4M341 448l5 4M337 444l6 -4" stroke="#60c8e0" stroke-width="2"/><path d="M268 453l6 3M340 450l7 1M367 470l17 0M323 452l13 -12M290 474l13 -8M265 452l16 -8M263 440l12 3M303 461l10 -9M346 452l10 1M311 465l10 1M319 463l14 -11" stroke="#f0a040" stroke-width="2.6"/><path d="M324 451l12 3M310 436l8 2M283 456l6 3M304 449l7 2M304 441l15 1M355 459l9 6M333 451l7 -3M312 473l10 0M311 442l19 2M364 459l19 4M324 445l14 0M291 454l6 -0M308 443l14 2M319 474l17 1M268 450l17 -7M306 463l10 -6M340 480l6 -5M327 452l8 3M366 478l10 -6M275 446l12 6M337 440l8 10M370 474l12 -8M280 449l9 1M263 456l9 5M356 476l7 3" stroke="#5ad060" stroke-width="2"/><path d="M327 463l7 -3M331 443l14 10M291 445l17 8M280 440l15 4M281 445l13 9M337 472l16 -9M325 443l7 4M312 443l11 -10M295 466l7 2M282 440l10 1M298 447l18 6M320 449l9 5M336 461l10 1M312 469l8 6M324 472l7 3M332 449l10 5M299 465l17 6M288 444l19 -0M344 462l15 1M357 483l13 -8M303 450l13 1M327 443l7 -6M334 451l9 5M339 460l8 4M351 480l15 1M265 454l16 0M304 462l12 1M315 442l15 11M285 446l14 8M327 464l9 -5M276 436l5 -4M366 460l16 10M319 460l12 3M345 471l13 -8M354 458l14 7M293 445l18 4M268 467l15 -8M356 448l9 5M326 478l13 3M306 464l20 3M334 449l11 6M306 450l13 3M349 473l19 3M300 469l8 2M271 444l7 0M294 448l14 -8M339 478l7 6" stroke="#5ad060" stroke-width="2.6"/><path d="M264 436l8 2M356 451l6 4M361 467l8 -0M354 457l8 -8M330 469l17 -10M354 471l9 1" stroke="#e0e050" stroke-width="2.6"/><path d="M347 476l9 8M292 458l11 4M358 466l12 -6M273 444l18 7M262 436l12 9M345 452l11 3M280 459l15 5" stroke="#f0a040" stroke-width="3.4"/><path d="M319 459l8 -3M286 467l10 -4M283 439l8 2M298 475l7 -5M340 470l5 -5M279 456l7 2M308 444l20 -1M337 451l8 2M373 465l11 8M282 456l10 -5M352 449l14 8M292 445l8 2M339 473l14 -6M359 479l9 -4M356 476l11 6M308 435l7 1M294 441l19 2M265 449l10 8M255 441l14 10M253 436l20 3M358 458l9 6M318 468l14 9M320 451l16 -4M333 477l11 5" stroke="#60c8e0" stroke-width="3.4"/><path d="M337 485l11 -10M323 462l11 11M284 459l15 6M328 479l13 -11M337 474l12 2M310 451l13 5M353 471l9 2M353 465l16 -8M269 460l9 -4M363 463l13 -9M302 440l11 -10M270 435l16 8M264 449l15 3M265 460l18 3M311 447l15 7M313 457l12 -9M330 447l6 2M288 440l12 8M284 453l18 0" stroke="#f0a040" stroke-width="2"/><path d="M269 453l9 -6M293 445l7 3M325 459l18 -8M288 442l10 -8M346 445l10 4M302 441l11 -8M297 444l14 -10M342 470l11 1M354 452l15 11M347 446l11 1M328 467l18 6M312 461l12 -10M324 460l16 0M260 443l17 -5M254 442l15 1M321 446l14 -5M324 472l17 -10M301 470l14 7M324 439l12 4M330 475l8 -6" stroke="#60c8a8" stroke-width="3.4"/><path d="M359 459l9 -6M309 457l16 -6M305 468l12 -2M285 435l11 5M306 451l13 3M271 456l17 4M288 440l13 4M346 456l6 -3M267 440l9 4M317 463l7 0M310 467l12 1M264 450l6 5M338 447l6 -7M304 453l5 4M312 464l5 -3M336 442l16 7M335 487l14 -12M327 460l16 -7M356 470l9 -7M332 442l17 10" stroke="#60c8e0" stroke-width="2.6"/><path d="M318 448l9 -6M280 450l12 8M340 463l5 -6M334 475l7 -0M318 435l9 3" stroke="#e83048" stroke-width="3.4"/></g></g><rect x="63" y="303" width="362" height="287" fill="#fff" opacity="0.6" filter="url(#wsp2)"/></g><g clip-path="url(#cp2)"><rect x="63" y="593" width="362" height="291" fill="#d860b0"/><g filter="url(#rough)"><g fill="none" stroke-linecap="butt"><path d="M154 724l19 9M389 737l30 18M401 752l6 3M70 707l8 5M124 884l7 4M418 760l11 7M73 685l7 4M307 689l11 7M224 772l12 8M114 777l26 13M115 602l33 21M287 618l13 8M322 752l11 7M184 626l7 4M314 685l35 21M63 621l8 5" stroke="#f4a8cc" stroke-width="2.5"/><path d="M146 807l30 19M257 639l11 9M268 767l13 -10M139 611l11 7M82 617l21 10M195 693l25 15M74 864l17 11M203 601l17 -18M218 585l15 7M258 710l9 -7M358 642l19 -23M127 621l29 -26M212 625l18 9M260 858l10 -9M191 620l6 4M245 634l16 13M133 606l22 10M254 681l11 6M101 641l10 6M99 782l19 10M251 657l19 9M272 764l8 5M359 727l15 -10M244 748l8 -6M354 747l27 15M418 804l10 -8M125 802l8 5M136 778l18 12M170 673l20 10M271 842l10 7M247 643l16 9M271 661l28 16M118 795l12 7M195 781l20 14M338 602l10 7M395 593l9 -7M333 589l16 10M404 624l8 -7M65 771l8 5M176 669l22 9M364 782l20 9M111 612l16 11M263 815l21 8M162 663l13 10M342 730l10 -12M234 698l17 13M80 741l19 10M112 842l11 7M263 757l23 14M320 834l12 -10M179 846l14 7M391 867l11 6M319 683l26 13M122 746l14 10M177 750l16 6M428 801l8 -9M253 681l26 13M100 681l15 -13M81 740l21 13M68 716l11 7M265 645l8 -9M257 825l32 18M223 782l26 16M103 797l19 13M240 678l25 18M413 637l5 -4M306 770l23 13M393 774l10 -9M229 678l10 8M407 832l12 -11M393 747l20 -22M217 826l12 6M346 791l15 7M154 629l7 3M135 620l46 38M55 732l38 26M315 644l15 6M99 828l9 -8M155 639l9 6M163 803l16 -13M180 720l12 7M296 758l22 12M195 862l14 9M304 622l10 6M378 609l11 -11M70 815l9 -8M330 831l11 -13M231 644l9 -6M164 717l12 6M183 768l12 6M105 750l7 -6M187 837l10 -9M246 606l10 7M184 629l16 8M176 593l17 9M295 809l8 -7M298 850l11 5M400 636l14 8M238 690l10 6M260 602l23 18M283 880l24 11M192 763l14 8M309 600l9 4M171 762l13 8M348 806l8 -5M92 581l19 14" stroke="#e22ca8" stroke-width="3.5"/><path d="M396 599l51 31M319 666l11 8M203 603l23 12M293 872l26 15M399 813l26 16M322 699l10 5M174 872l7 5M55 685l28 12M180 758l10 7M56 866l6 4M83 644l7 4M240 761l35 18M338 607l8 4M104 614l17 11M211 617l29 16M283 816l24 18" stroke="#f4a8cc" stroke-width="3.5"/><path d="M249 876l8 -8M165 755l16 -16M333 593l24 13M154 669l12 7M381 722l12 6M150 729l13 -10M318 847l10 -10M268 635l9 6M391 590l34 28M360 693l18 9M72 858l21 -18M66 795l12 7M85 607l7 5M68 704l15 8M200 872l19 12M330 836l6 3M175 602l7 5M206 725l8 -9M119 765l6 -6M370 719l15 -15M152 872l7 -6M357 631l7 3M81 763l47 31M114 766l5 -5M107 595l21 13M241 690l13 -11M168 720l7 -8M402 814l15 8M337 606l20 9M417 793l8 -5M343 632l5 -5M126 856l10 -10M407 624l19 11M146 590l48 36M156 598l22 10M122 679l19 10M105 668l17 10M372 786l39 -46M389 695l18 -14M392 646l14 9M275 862l25 15M41 669l28 16M183 875l7 4M149 830l16 11M418 712l7 6M401 843l9 -7M387 698l27 13M397 668l24 15M288 861l13 8M187 640l8 5M201 762l20 -19M401 588l16 12M56 825l26 15M68 894l14 -11M200 767l22 14M84 856l31 19M59 668l10 6M257 689l7 4M48 868l54 27M181 678l10 -9M69 773l30 23M157 876l5 -4M112 670l16 9M214 641l12 -11M359 630l14 -13M369 751l11 -12M221 735l14 -16M87 862l11 6M418 756l23 19M247 646l28 12M295 826l11 7M99 757l8 6M66 876l9 5M219 883l16 10M366 614l19 14M295 779l16 11M355 771l16 10M356 876l29 20M200 801l13 9M100 679l26 -26M90 825l19 13M95 875l18 -15M184 748l20 11M293 718l14 12M233 730l6 3M325 755l21 12M152 682l12 8M259 758l16 -16" stroke="#e22ca8" stroke-width="2.5"/><path d="M128 601l18 -15M238 737l30 -26M344 597l8 4M161 751l7 -5M191 725l21 -17M373 788l21 13M77 631l15 -14M332 842l20 -16M159 622l7 -6M112 747l16 6M180 697l6 -4M365 861l6 -4M294 721l3 -3M106 763l15 9M94 873l17 -16M154 624l28 -23M141 743l7 -7M279 673l11 -8M270 834l11 -11M368 661l12 -10M205 747l5 -4M369 710l9 -8M50 844l20 -16M105 822l3 -3M276 670l9 -8M229 666l7 -6M377 809l8 -7M294 705l7 -5M220 886l19 -17M64 766l40 -45M381 772l21 -20M259 724l9 -7M361 763l13 7M211 600l5 -5M86 828l7 -7M413 645l6 -4M122 723l5 3M303 771l18 -17M238 771l18 -15M387 840l24 -18M231 670l7 -8M406 860l21 -15M399 808l11 -12M109 743l12 -10M120 888l7 -6M54 894l10 -10M139 589l8 6M218 858l15 -11M171 695l15 -12M106 661l9 4M350 660l30 26M102 752l17 -15M257 643l8 -7M265 859l6 -6M248 820l13 6M97 752l5 -3M55 872l16 -15M140 854l5 -5M119 879l15 -14M318 773l3 3M250 832l28 -23M221 645l12 -10M157 809l7 -5M203 661l15 -15M68 630l18 -18M193 730l8 -8M172 728l9 -9M122 613l20 -19M366 832l10 -9M176 837l19 -17M405 630l12 -9M231 826l8 -6M326 878l20 -22M163 700l18 -13M262 730l13 -12M68 652l5 -5M217 720l11 5M153 626l11 -9M301 800l18 15M214 700l9 -8M411 620l15 -11M410 615l28 20M185 887l9 -8M181 657l9 -7M284 809l21 13M406 665l6 -6M286 706l17 -14M152 765l18 -18M116 743l16 -15M196 740l24 -22M344 641l5 -5M222 765l13 -9M193 759l17 11M117 839l8 -7M45 607l35 20M126 846l19 -23M226 722l13 -11M156 804l18 -19M347 743l15 -14M78 685l30 -21M404 876l18 -13M175 719l4 -3M289 645l10 7M92 615l8 -6M245 741l8 5M137 654l19 -14M141 739l9 5M71 831l11 -8M131 833l19 -20" stroke="#6cc850" stroke-width="3.5"/><path d="M408 649l17 11M319 701l18 11M66 865l15 9M138 826l8 -8M90 797l12 -7M52 808l10 -10M181 845l6 -6M164 720l11 -8M429 610l4 -5M97 708l9 6M103 607l22 13M222 697l6 3M308 647l53 28M309 716l5 4M339 734l8 -8M188 630l4 -3M318 728l8 3M383 854l14 12M153 592l9 6M316 874l8 4M309 690l9 -8M93 649l8 -8M108 635l36 19M86 816l43 -38M328 646l18 13M196 730l20 11M54 689l19 -20M240 677l7 4M171 666l8 -7M150 784l9 4M159 739l13 8M68 608l17 11M70 716l9 -9M88 808l20 9M215 737l16 -14M198 784l10 6M181 771l5 -4M126 599l9 6M416 801l17 9M84 709l18 10M103 654l9 4M396 762l16 10M364 610l18 -20M304 654l16 9M365 692l9 5M219 601l8 4M239 781l10 7M131 849l15 8M112 765l10 5M405 845l16 -16M353 837l10 -11M332 832l24 16M172 765l19 -13M354 731l9 -10M227 661l16 6M175 805l8 6M239 641l19 12M360 731l11 7M59 713l3 -3M77 698l22 14M183 624l34 15M334 770l11 -10M201 846l6 -6M195 866l27 12M277 718l9 -8M283 671l8 6M199 833l11 -12" stroke="#8a3cc8" stroke-width="3.5"/><path d="M67 742l12 -12M155 683l5 4M69 792l19 11M230 611l6 3M51 818l16 10" stroke="#ec4050" stroke-width="2.5"/><path d="M264 729l30 20M204 852l16 11M306 778l29 10M125 628l11 -10M326 765l16 9M267 651l16 15M184 755l7 5M236 855l8 6M276 793l5 2M239 871l21 11M46 585l24 10M77 642l6 3M264 724l35 17M193 766l31 20M254 731l12 6M334 860l19 9M112 660l10 8M275 736l14 6M104 841l15 9M202 751l13 -13M96 601l15 10M312 688l37 20M131 694l13 -14M268 844l18 10M149 788l12 9M148 769l40 24M366 736l11 6M423 873l5 -4M199 770l21 13M362 697l11 5M393 673l13 6M237 678l12 -9M53 617l13 7M389 700l13 10M175 675l11 9M248 717l19 11" stroke="#f080c0" stroke-width="2.5"/><path d="M174 698l5 -5M287 640l16 9M362 859l5 -7M273 800l13 8M93 591l9 5M237 790l11 -10M164 696l9 -9M208 658l20 15M339 682l11 -9M425 661l12 9M166 799l6 3M356 851l7 -6M207 812l28 -32M162 616l12 -13M68 860l4 -5M109 617l15 10M281 752l13 6M195 802l26 16M385 861l13 -9M351 664l22 13M294 584l21 15M64 830l15 -17M298 583l14 9M253 787l17 -17M251 789l7 3M366 832l20 -20M175 883l7 5M215 873l11 5M421 608l8 -8M105 807l18 -19M331 696l10 6M253 679l26 12M141 732l14 -12M126 856l16 7M367 737l25 15M406 687l13 -11M145 796l7 5M160 904l40 -36M72 838l34 20M181 734l14 -12M365 717l11 -10M285 674l12 7M166 719l10 6M73 775l18 12M73 825l7 -7M340 685l8 -8M108 796l53 27M107 821l8 5M351 754l13 -12M142 768l23 14M333 657l24 14M321 760l6 3M405 695l17 -15M392 689l15 8M333 887l7 -6M399 802l5 -4M222 841l5 -6M428 689l7 -8M112 636l5 -5M389 626l11 -10M208 787l9 -8M148 719l26 16M339 729l28 21M390 854l19 9M69 843l7 3M339 620l8 5M378 805l4 -3M374 764l18 11M345 759l12 -12M286 783l17 12M363 615l15 8M358 662l10 -11M261 774l15 -11" stroke="#8a3cc8" stroke-width="2.5"/><path d="M334 598l16 -13M108 723l15 11M327 666l19 10M264 688l13 7M414 607l17 12M235 725l20 12M279 751l20 13M413 729l8 5M421 783l16 10M276 786l5 2M351 592l12 6M300 617l10 6M207 707l7 -6M235 690l9 -7M384 646l5 3M315 658l28 -27M345 659l22 15M315 807l10 5M127 852l19 10M208 592l22 13M315 820l19 -17M71 596l6 -5M239 665l13 -9M92 670l5 -4M369 584l34 20M226 843l14 10M97 856l11 6M96 801l19 13M72 875l19 9M274 769l33 21M309 614l8 3M63 840l44 18M116 783l18 12M80 584l11 7M56 596l15 9" stroke="#f080c0" stroke-width="3.5"/><path d="M93 612l16 -11M230 797l14 -11M181 753l10 -11M251 837l14 9M280 655l8 5M70 671l17 -13M374 876l16 -13M409 651l21 -20M154 871l15 -12M313 716l11 -9M314 633l15 -14M268 644l13 -16M163 844l6 -5M390 839l9 -7M370 827l6 -5M419 714l5 -5M230 861l4 -3M185 740l13 -13M411 649l20 -15M287 607l13 9M413 668l19 13M118 597l22 -18M149 856l14 8M387 893l21 -18M61 611l20 -19M215 615l5 -6M387 680l27 -23M295 601l18 -12M406 810l10 -12M232 676l6 4M292 754l6 -6M307 616l18 -16M258 711l9 -8M64 626l7 -6M415 707l5 -5M238 786l17 -14M319 859l7 -9M334 734l9 5M129 625l14 -12M216 734l12 -12M230 795l8 -6M239 727l15 -11M366 826l7 -6M415 610l23 -19M155 893l17 -14M237 875l7 -9M273 591l12 7M385 591l10 -9M350 669l10 5M238 732l6 -5M417 887l6 -5M113 763l6 -5M366 875l18 -16M94 883l29 -23M342 638l23 13M293 790l13 -11M240 603l4 3M68 838l11 -11M189 679l21 14M154 720l10 -9M149 876l12 -10M361 884l14 9M359 584l11 7M384 649l19 11M187 788l13 -14M374 794l8 -6M404 767l17 11M246 730l11 -8M56 730l9 -9M253 827l15 -13M377 632l28 -27M339 656l15 11M167 749l5 -5M248 657l42 -37M203 812l26 13M104 830l8 -7M336 766l14 -8M279 659l4 2M163 786l12 7M283 782l7 -7M181 750l7 -7M120 856l13 -11M321 663l4 -4M63 743l16 -18M64 793l12 -9M113 803l15 -15M176 717l12 -15M170 733l7 -7M315 750l10 -9M313 830l14 -12M162 757l3 -3M272 670l6 -5M171 631l15 -13M399 596l19 12M426 676l4 -3M342 809l15 -14M233 796l10 -8" stroke="#6cc850" stroke-width="2.5"/><path d="M221 697l15 -17M180 742l14 -14M69 876l8 -6M391 778l17 12M373 881l20 11M300 755l22 13M379 631l9 -13M338 825l16 8M199 890l9 -7" stroke="#ec4050" stroke-width="4.5"/><path d="M163 710l22 13M379 835l4 -4M349 845l11 -9M374 663l5 -5M329 804l13 -11M293 789l9 4M275 830l7 3M208 598l8 5M170 751l7 4M58 588l20 14M347 887l9 4M181 735l4 2M391 755l27 16M364 590l27 18M103 804l28 15M147 818l18 11M178 800l16 11M269 685l28 16M355 857l8 6M408 704l7 4M62 755l6 4M49 583l15 8" stroke="#f080c0" stroke-width="4.5"/><path d="M140 582l14 10M235 672l18 -15M405 827l42 28M160 723l21 -16M190 837l8 -7M353 649l3 -3M369 683l12 9M223 602l22 -20M262 867l7 -8M210 853l5 -5M230 691l24 12M309 598l12 -9M301 818l27 13M174 837l9 6M129 696l15 8" stroke="#ec4050" stroke-width="3.5"/><path d="M95 630l16 10M126 751l16 -12M189 624l10 -8M338 731l20 -19M72 887l9 -9M79 883l6 -5M248 735l9 -6M426 732l10 -10M388 621l24 -25M383 762l7 5M402 734l17 -14M394 817l19 12M338 729l4 -3M210 721l11 -9M182 659l5 -6M115 589l23 17M200 837l17 -12M109 745l9 6M406 674l7 -5M302 763l5 -5M83 842l7 -7M270 856l11 -11M185 738l12 -10M135 852l5 -7M109 650l8 -8M224 691l10 -9M382 611l8 -8M82 646l9 -8M386 746l17 12M130 721l9 -8M229 776l8 -8M95 893l16 -13M334 864l15 -16M133 818l6 -5M289 822l7 -6M304 687l5 -4M202 753l10 6M260 651l10 6M139 688l32 -31M99 635l5 -5M156 804l13 -13M169 754l14 -11M107 646l26 -30M271 625l6 4M218 849l26 18M251 778l9 -10M319 652l12 -12M227 687l23 -20M98 773l19 13M400 824l21 -15M281 648l19 -15M81 856l3 -3M393 751l9 -7M243 761l7 -7M181 812l12 -9M96 782l14 9M230 601l9 -8M357 750l7 5M309 773l21 -20M386 783l12 -12M150 677l3 -3M272 609l14 -11M139 730l9 -8M352 845l11 -12M412 762l11 -12M246 849l11 6M267 725l10 -7M200 764l17 -15M271 890l10 -10M299 764l28 -18M414 800l6 4M384 875l4 -3M266 809l26 -18M289 858l15 -10M395 809l27 -19M90 615l12 -15M137 854l34 -30M238 793l10 -9M189 852l16 -12M246 815l6 3M157 631l14 -13" stroke="#6cc850" stroke-width="4.5"/><path d="M423 687l13 -9M305 724l20 -18M49 685l33 21M218 708l6 5M261 787l10 -11M379 634l13 -12M218 827l18 -15M50 643l14 8M285 614l7 4M307 827l3 -2M287 661l8 -8M105 885l12 -10M100 601l6 -5M302 719l20 -11M383 656l22 -23M365 830l32 22M389 867l7 -7M406 679l9 -7M303 671l5 -5M370 841l10 -12M143 601l11 -9M241 787l15 -14M106 826l17 -14M97 848l6 -6M295 616l11 5M399 755l29 18M306 781l7 4M164 701l8 -5M62 834l9 -8M223 777l9 -8M124 626l24 16" stroke="#60c4d8" stroke-width="2.5"/><path d="M328 788l15 -14M175 734l23 -20M368 832l5 -4M386 719l15 -12M404 606l13 -14M348 605l18 12M280 712l14 8M115 803l14 -12M65 819l19 -16M135 680l13 8M345 804l4 -4M293 720l25 12M167 783l29 23M216 636l16 -18M77 713l13 6M122 687l16 13M345 741l18 10M201 803l27 -22M106 690l25 17M70 677l6 -5M249 869l8 5M409 748l15 -11M399 886l12 -12M111 607l8 -7M61 696l6 4M97 687l10 -11M273 742l11 -9M283 754l14 -12M378 889l6 -7M194 726l12 -13M144 589l27 20M329 782l6 3M283 804l29 -24M122 794l7 -5M211 798l25 12M323 686l23 12M323 740l15 8M143 759l13 -11M349 832l14 -12M242 733l9 -11M157 718l14 9M394 715l20 -20" stroke="#f05a5a" stroke-width="4.5"/><path d="M55 761l15 7M410 693l26 15M218 867l14 8M259 683l6 2M337 821l16 11M262 720l6 4M359 879l7 4M269 647l20 13M191 827l9 5M98 630l19 11" stroke="#f4a8cc" stroke-width="4.5"/><path d="M219 634l11 -10M412 675l20 -17M321 674l3 -3M76 691l5 -4M82 729l9 -7M167 598l11 -12M361 807l8 -7M75 824l11 6M395 882l14 8M129 882l8 5M82 613l12 -12M284 730l10 -8M254 737l24 -18M120 763l11 -10M233 676l20 -17M352 813l17 11M371 782l10 6M246 801l13 7M297 862l8 6M350 611l30 -26M148 680l15 8M290 839l17 8M79 671l11 -9M261 792l6 4M254 617l21 -15M52 775l8 -9M79 702l14 -11M373 718l13 -11M385 771l7 -7M216 634l15 9M75 659l9 -8M52 689l8 -10M255 606l12 -9M365 843l8 -6M215 629l6 -5M61 759l4 -4M114 859l10 -11M228 816l6 -6M415 698l12 -10M369 795l10 7M109 746l7 -7M142 862l17 -15M257 778l20 11M339 794l21 10" stroke="#f05a5a" stroke-width="2.5"/><path d="M97 617l12 9M213 882l10 -8M181 650l5 4M273 872l9 5M208 669l25 15M149 834l10 5M124 723l8 -6M208 862l23 19M184 794l8 4M238 819l9 6M170 739l11 6M218 775l14 11M121 884l4 2M309 634l35 17M247 708l6 -6M250 613l13 9M106 786l7 5M195 600l8 4M32 843l47 31M420 737l15 9M146 857l15 8M172 734l52 31M229 840l7 -7M423 770l6 4M390 706l26 14M63 618l14 6M338 619l16 -14M357 848l5 3M269 738l9 6M362 819l12 8M338 705l8 4M177 768l20 -15M360 819l10 6M229 596l3 2M175 671l17 -19M183 690l10 6M409 776l4 2M185 740l5 3M152 880l8 6M197 699l31 17M354 673l5 4M181 624l16 8M270 736l8 -9M339 739l18 11M209 816l11 5M326 608l25 -21M201 728l45 23M374 613l9 7M253 700l9 6M200 739l10 -7M93 667l5 2" stroke="#e22ca8" stroke-width="4.5"/><path d="M334 681l7 -6M295 711l39 -22M389 806l15 -11M81 721l19 -14M178 685l8 5M341 719l9 -7M385 666l19 -21M396 697l4 -3M235 715l13 -16M358 854l51 31M139 818l5 -4M294 823l14 -12M242 709l9 -10M349 765l13 -10M189 704l12 -11M195 712l3 -3M396 724l5 -5M196 597l16 12M126 648l49 -34" stroke="#60c4d8" stroke-width="4.5"/><path d="M221 814l15 10M333 825l12 -12M159 748l29 16M412 679l17 -21M394 814l15 8M399 845l12 7M107 668l5 4M131 875l6 -5M362 692l6 5M161 693l9 4M367 762l25 -26M313 886l46 -38M346 704l12 -11M236 745l17 8M376 817l10 7M416 892l8 -8M391 585l38 26M50 612l28 20M154 663l9 -10M166 680l8 5M256 685l13 7M133 671l6 4M271 875l17 -11M113 834l33 19M112 773l6 4M216 856l12 -9M137 627l18 14M105 605l28 18M166 825l17 10M400 875l9 -8M58 691l5 -6M388 782l14 7M80 858l8 6M316 669l10 -12M71 618l11 8M126 697l10 6M387 768l11 -10M411 830l16 -17M350 624l14 8M251 698l24 14M341 598l11 -10M77 803l9 6M243 704l10 -11" stroke="#8a3cc8" stroke-width="4.5"/><path d="M380 837l16 9M256 766l12 -11M251 679l25 -29M271 831l5 -5M133 662l35 -23M201 757l29 20M324 660l12 -11M366 762l18 -19M392 847l10 5M45 849l29 -23M195 692l5 -5M203 809l19 -15M348 620l4 -5M236 803l4 2M82 757l34 -27M198 801l20 -16M213 694l33 -28M97 643l21 14M152 677l4 -4M132 675l18 12M376 878l20 14M307 734l20 15M115 699l32 -25M145 711l7 -5M379 759l7 -5M361 753l13 -12" stroke="#60c4d8" stroke-width="3.5"/><path d="M81 721l14 -17M298 813l16 9M372 723l14 -13M246 611l7 4M183 615l10 -9M143 820l16 12M389 856l18 11M140 709l6 -5M55 831l13 8M310 688l3 -3M259 617l9 -8M74 721l10 -7M157 767l25 14M172 584l18 11M57 760l15 9M92 719l11 6M145 816l18 -20M226 713l17 -12M105 630l17 -13M58 748l22 -20M69 755l12 -9M120 660l10 6M166 692l38 -26M76 713l14 -14M135 691l8 -9M245 607l12 7M260 719l18 11M204 602l30 14M121 862l14 8M330 672l8 5M103 710l17 10M225 594l14 8M198 725l8 -6M124 885l11 7M111 790l6 -5M358 779l17 -15M189 635l7 -6M232 783l13 8M110 719l17 -13M131 716l15 8M424 685l15 -10M390 622l10 -10M317 602l8 6M112 625l18 -15M77 749l18 -14M99 727l4 2M218 605l14 -11M112 871l24 -22M85 715l14 -13M313 689l15 -13M130 735l17 -13M414 627l20 11M361 618l5 -4M336 663l18 9M302 650l24 11M110 890l6 -6M265 672l9 -7M241 597l7 -7M223 621l15 -13" stroke="#f05a5a" stroke-width="3.5"/><path d="M321 798l13 8M179 610l28 16M230 710l11 7M353 814l19 -16M325 669l8 5M130 791l11 7M143 744l30 16M342 796l23 -22M207 799l13 -10M209 703l19 12M127 616l10 -10M300 832l6 3M314 796l8 4M223 803l11 -8M194 794l8 5M143 837l17 11M336 714l9 4M393 628l19 11M410 875l8 7M365 743l6 4M328 725l10 5M113 739l6 5M286 873l7 4M290 791l15 8M106 792l22 13M111 596l7 -6M395 735l21 11M94 594l12 -10M205 777l45 28M357 592l10 -8M356 857l8 5" stroke="#f080c0" stroke-width="4.5"/><path d="M381 640l19 -18M257 767l7 4M242 728l6 -7M281 601l29 17M194 787l15 11M208 788l15 -15M238 614l11 -11M75 657l8 -7M145 671l18 11M314 749l9 -8M342 711l11 6M78 614l13 -9M291 843l7 -7M118 673l5 -4M223 619l9 -9M97 684l10 -7M287 593l13 -11M46 650l18 8M86 728l11 -12M248 887l10 -7M225 612l10 7M326 762l51 32M369 748l18 -18M119 726l14 10M287 652l15 10M391 615l4 -4M416 586l3 2M184 629l9 -9M132 652l4 2M265 709l23 -22M393 603l11 8M88 736l6 -5M212 698l8 -6M372 693l4 -3M288 703l11 -10" stroke="#f05a5a" stroke-width="4.5"/><path d="M356 674l52 29M167 692l13 7M412 601l11 -13M210 753l5 -5M277 675l16 9M89 665l13 -10M77 766l8 4M374 806l13 -10M141 765l6 -4M78 659l18 -13M412 850l29 16M258 876l13 8" stroke="#ec4050" stroke-width="4.5"/><path d="M315 733l18 -13M340 850l10 6M350 849l8 6M82 768l18 -13M206 817l14 -13M339 678l16 10M82 630l10 -10M189 692l17 -16M401 731l13 8M416 857l7 5M408 737l11 8M300 766l6 -6M281 883l7 -7" stroke="#ec4050" stroke-width="3.5"/><path d="M263 814l24 19M95 704l11 7M111 835l27 14M310 879l10 8M411 812l6 4M383 845l11 6M169 884l18 12M94 784l38 20M225 587l18 14M42 788l31 15M373 695l27 17" stroke="#f4a8cc" stroke-width="2.5"/><path d="M109 686l29 22M192 859l5 -5M397 609l19 11M134 858l18 -17M327 648l8 -7M216 740l6 3M322 656l26 -19M101 744l9 -6M55 757l14 7M392 648l18 -16M86 698l30 -22M231 809l6 -7M103 781l10 -10M339 701l16 -13M376 779l11 -10M260 712l7 4M70 601l11 -8M298 662l17 -16M419 808l9 -8M97 601l19 -18M389 634l9 -9M401 849l4 -4" stroke="#60c4d8" stroke-width="2.5"/><path d="M348 613l12 8M388 618l11 -9M207 777l11 -8M157 794l27 -28M47 867l21 -16M193 892l7 -6M113 740l15 -10M256 619l6 -6M175 655l15 -15M259 768l10 -7M148 760l13 10M424 861l5 -5M421 769l11 -9M299 600l19 -22M256 775l11 -12M276 834l11 -10M71 755l16 10M150 894l12 -13M181 773l4 -4M246 787l16 -16M387 625l7 -6M184 678l17 13M138 653l12 -11M284 662l5 3M273 681l16 -14M238 743l9 -8M399 758l8 -6M287 682l13 -9M301 740l17 -18M172 807l35 -29M173 739l16 8M309 730l29 -28M295 726l24 14M205 870l11 7M281 621l12 -12M178 623l10 -9M144 652l8 -8M188 603l10 -8M281 772l26 -29M52 881l9 -8M323 622l21 15M130 595l9 -6M154 642l10 -12M259 793l28 -25M129 636l16 9M328 696l14 -11M221 861l10 -8M372 604l8 -8M376 648l11 -10M347 739l9 -9M71 823l13 -10M103 814l18 -16M245 669l16 -11M408 698l14 -13M222 623l16 -18M135 805l12 -11M168 872l6 -7M188 813l13 -13M163 821l7 -6M165 727l5 -5M252 776l7 -6M207 745l22 -18M384 879l7 -6M385 841l23 -24M110 625l9 -7M66 790l12 -11M425 863l6 -5M117 791l11 -12M423 837l5 -5M301 861l11 -9M244 604l25 -20M78 724l6 4M279 765l19 11M70 809l14 -12M408 854l5 -4M394 873l13 -11M187 673l8 -11M105 682l14 -11M311 678l12 -12M189 858l6 -6M417 725l14 7M199 852l12 -11M285 812l19 -13M50 678l12 -13M187 618l9 -11M100 802l8 -7M289 872l22 -17M391 795l5 4M162 857l11 -9M266 654l14 -9M156 879l6 -5M112 859l12 -10M204 760l13 -10M326 697l16 -11M419 714l9 4M359 810l8 -7M171 594l12 -12M347 816l11 -10M65 863l3 -4M211 817l11 -8M194 674l15 -12M215 685l17 10M235 883l8 -7M228 812l14 -15M338 627l10 -10M274 889l6 -6M400 837l15 -14M259 838l19 -18M93 625l17 -15M342 628l6 -6M313 626l4 3M424 658l4 -4M275 850l23 13" stroke="#6cc850" stroke-width="3.5"/><path d="M309 665l10 -9M156 747l11 7M142 794l24 -17M137 661l14 -13M167 689l39 25M391 829l13 -13M328 697l16 -15M352 657l5 -6M309 670l11 7M219 756l22 -20M291 606l12 -12M174 700l13 7M325 892l10 -10M320 840l7 -6M253 770l8 4M210 819l37 -40M208 883l37 -34M333 607l15 -10M331 751l17 11M229 720l21 11M168 734l11 -11M196 744l5 -5M322 723l23 15M71 780l13 8M317 867l23 16M190 873l14 12" stroke="#60c4d8" stroke-width="3.5"/><path d="M77 828l14 7M216 860l11 -11M154 663l10 -9M131 610l6 -5M163 619l6 -5M109 752l8 -9M48 656l22 -24M324 634l17 -16M145 749l7 -6M258 871l5 3M393 648l17 -17M67 646l8 -7M211 676l5 -4M103 665l16 -11M162 688l3 -3M55 625l16 12M161 864l15 -9M89 884l7 -6M348 842l8 -9M404 870l28 -22M64 730l14 -14M161 624l16 -12M419 759l9 -8M142 742l5 -4M89 807l5 3M157 807l16 -14M266 627l10 -9M111 615l5 -5M370 740l8 -7M269 849l11 -9M179 725l5 -4M303 850l5 -6M263 596l10 6M252 639l11 -11M382 711l20 -21M155 688l4 -4M280 843l4 3M73 774l15 -14M353 620l7 -7M403 825l28 18M63 775l6 -9M318 818l15 -13M119 730l10 -9M228 661l13 -10M167 737l18 -19M319 596l19 13M276 728l38 -26M356 900l28 -26M50 669l21 -22M75 605l22 -20M399 866l11 7M140 772l9 -7M403 679l7 3M107 741l7 -5M354 730l5 -5M349 828l4 -3M130 617l21 -21M363 741l17 -18M103 890l18 -14M157 770l5 -5M48 828l30 -25M213 866l24 -20M83 879l16 -12M363 725l12 -10M215 747l4 -5M177 637l8 -7M266 764l10 -9M424 886l6 -6M223 768l4 -3M167 639l7 4M102 764l6 -7M407 902l40 -35M225 690l10 7M87 679l27 17M305 871l11 -9M108 601l11 -9M363 647l7 -6M268 675l8 5M56 667l7 -6M221 698l21 -19M85 618l33 -33M304 762l6 -6M103 763l6 -5M172 838l21 -20M283 742l22 -18M204 669l44 -32M60 826l12 -9M272 677l21 -15M254 673l6 -6M249 713l11 6M88 881l6 -5" stroke="#6cc850" stroke-width="2.5"/><path d="M360 649l32 19M375 812l7 4M401 839l10 5M144 718l5 -6M49 597l19 9M298 869l7 4M274 775l7 -6M318 669l4 -4M252 743l13 -11M407 711l8 -9M284 777l10 6M166 613l9 -7M336 869l30 13M197 613l11 7M242 694l6 -5M90 693l16 -12M363 882l16 -15M390 699l9 -7M343 592l10 -9M114 657l18 10M315 870l17 8M175 865l14 8M153 819l10 -9M151 591l5 -4M205 650l16 12M172 639l23 10M213 797l25 -23M80 856l13 7M225 754l17 11M389 781l9 7M148 820l27 17M355 664l27 17M310 810l23 -14M148 800l10 7M279 764l9 -8M51 810l12 -13M348 883l16 -13M113 737l5 4M354 670l13 7M160 785l14 8M230 700l14 -11M261 751l10 4M160 782l12 -11M406 646l7 -5M96 894l11 -10M115 778l13 -12M389 784l12 7M112 715l10 7M161 802l18 11M422 805l21 -16M382 772l15 -14M207 869l9 5M52 592l9 -11M322 638l10 7M254 616l17 11M129 735l13 10M285 659l4 -3M186 714l9 6M217 865l12 7M107 698l15 5M369 768l9 4M368 736l12 7M311 728l13 9M222 842l23 -18M373 776l21 15M259 819l15 -15M363 730l20 13M159 748l10 -10M214 584l21 14M275 885l10 -8M335 577l38 26M214 687l40 26" stroke="#8a3cc8" stroke-width="2.5"/><path d="M85 810l12 7M133 793l6 -6M218 583l31 14M244 880l17 12M149 881l26 17M299 749l16 9M126 790l16 -14M227 808l34 21M374 761l16 12M390 599l22 12M163 838l4 4M178 710l12 6M55 656l10 -9M198 584l14 9M180 731l27 22M66 691l15 -13M251 675l6 4M410 649l13 8M226 671l5 -5M365 880l16 -17M346 813l22 13M113 886l11 7M304 735l21 13M49 781l35 15M265 798l9 -7M335 814l41 25M81 814l18 10M294 842l19 10M63 780l3 -3M218 768l5 -5M277 833l13 9M306 885l14 9M262 844l9 6M209 795l8 5M285 835l17 11M86 692l17 12M76 838l14 10M417 714l20 13M415 783l5 3M292 773l15 10M95 632l8 -8M330 815l10 5M327 778l8 5M169 615l4 3M399 587l9 6M123 863l23 10M397 756l12 6M252 782l10 6M293 739l5 3M135 765l10 7M118 600l18 8M94 598l16 -14M290 679l14 8M214 770l18 12M173 753l9 5M412 723l33 21M69 632l14 -12M388 679l50 21M206 862l15 9M320 732l4 2M97 864l27 15M357 590l10 8M323 682l26 -20M107 811l18 12M143 640l9 -9M114 657l14 -12M264 664l18 11M182 760l16 9M383 647l6 4M65 762l10 -9M243 848l8 7M308 743l10 -9M192 844l4 -4M420 823l14 10" stroke="#e22ca8" stroke-width="4.5"/><path d="M59 797l17 -14M244 695l8 4M295 709l14 10M311 756l33 24M357 656l26 17M346 728l34 17M179 639l7 4M343 817l4 2M156 605l30 19M417 823l8 -8M169 877l5 4M62 612l26 15M162 814l23 15M235 802l26 15M304 633l20 9M137 774l7 3M65 802l14 7M259 666l4 3M350 622l53 29M367 653l12 -10M81 696l14 -13M270 833l10 7M184 705l11 7M285 870l9 6M239 725l16 9M209 682l15 9M127 818l10 6M49 866l13 -11M152 828l30 16M407 636l5 3M134 725l15 10M128 702l10 6M375 830l49 35M257 839l10 6M421 608l18 8M317 783l14 7M398 790l19 -18M255 758l13 11M346 605l4 3M274 608l9 6M338 716l11 6M344 608l30 13M396 842l13 6" stroke="#f080c0" stroke-width="2.5"/><path d="M97 734l40 -30M53 619l12 6M364 599l7 4M336 683l16 -10M215 694l23 18M393 873l17 9M66 864l7 4M423 817l17 9M191 829l12 7M236 628l17 11M186 649l26 15M110 634l24 14M229 732l25 10M365 850l15 9M197 610l12 7M201 653l22 10M138 733l22 16M65 787l29 17M249 836l34 25M107 730l17 11M233 690l12 10M284 874l17 12M251 887l10 4M350 687l37 20M211 838l16 -17M286 823l6 5M195 721l10 5M65 717l9 -9M167 617l20 -14M262 760l8 4M414 778l10 6M298 655l19 9M159 801l6 3M377 683l8 5M201 734l34 23M254 712l25 15M201 845l18 10M283 639l10 8M116 780l16 10M257 704l28 18M311 600l12 7M299 836l18 12M375 714l7 5M417 800l27 15M225 875l11 6M413 613l20 9M361 641l35 26M284 758l33 19M182 747l11 4M341 692l15 8M370 835l9 5M142 719l17 13M415 883l22 13M365 873l28 18M349 755l7 4M73 602l10 5M410 753l10 7M113 869l12 -9M406 684l9 -8M183 812l24 15M346 648l7 3M371 885l14 8M253 752l14 10M416 805l20 13M138 649l8 5M115 813l15 -15M269 848l15 8M225 752l37 22M421 799l24 12M380 762l8 5M146 782l9 4M401 785l15 10M92 868l13 9M381 774l17 9M294 701l27 14M398 722l22 9M69 880l15 -13M108 703l7 -9M102 800l5 3M420 674l14 9M295 884l15 9M278 799l18 11M108 771l16 8M113 679l10 4M41 852l38 21M149 718l10 -8" stroke="#e22ca8" stroke-width="2.5"/><path d="M276 878l10 -10M246 711l6 -7M273 663l13 -12M121 676l15 9M252 649l14 -12M214 708l4 -4M149 684l16 9M263 600l6 -6M210 665l12 -11M334 802l24 -21M154 707l19 10M424 665l13 -11M50 733l36 21M348 719l11 -10" stroke="#60c4d8" stroke-width="4.5"/><path d="M342 790l19 14M309 675l7 -7M324 871l5 -5M253 744l15 9M202 858l19 12M272 609l8 6M332 787l7 4M80 739l13 8M248 756l17 11M139 791l29 -26M86 828l14 7M317 846l23 12M350 623l11 -8M124 685l27 -27M406 884l7 4M205 600l34 24M196 848l19 11M310 728l9 6M349 738l52 23M237 849l9 6M411 709l24 16M64 843l11 -8M282 690l25 14M78 816l18 -18M297 886l9 5M68 753l10 7M267 667l11 4M415 774l30 18M364 849l15 11M406 765l15 9M230 843l22 -24M115 717l48 29M244 824l7 -8M240 586l9 6M356 645l21 10M195 687l5 -4M301 884l33 -22M410 728l8 4M390 744l46 27M164 736l9 6M201 769l9 -9M71 790l6 -8M207 662l11 9M177 735l20 11M195 788l19 11M114 586l9 5M361 835l14 7M193 710l15 12M195 642l15 9M236 694l13 9M107 838l10 8M417 804l23 11M217 871l20 -17M388 812l22 11M392 871l3 -3M166 678l34 20M280 819l25 -23M231 606l22 13M186 775l11 6M408 741l8 -7M386 864l15 10M141 655l18 12M88 688l8 5M333 742l14 8M278 644l15 9M238 799l8 -7M92 659l12 8M414 777l7 -7M384 813l11 7M261 779l14 8M418 689l25 11M343 846l16 9M428 805l8 -9M115 611l17 9M184 623l5 3M187 867l11 5M301 603l14 9M227 611l9 -9M393 805l20 8M42 592l51 31M158 694l16 11M175 805l13 9M93 800l9 5M110 877l18 13M396 712l13 9M180 651l5 -6M296 664l9 5M144 721l20 11M225 742l16 10M420 634l6 3M209 697l10 7M288 663l14 8M248 848l6 4M146 801l16 12M409 776l12 -11M240 597l15 12M237 710l16 8M392 742l6 4M406 808l12 7M405 689l13 -9M399 823l6 -4M268 646l19 12M82 804l10 5M166 628l36 21M85 619l19 15M406 686l22 -19M365 874l36 18" stroke="#e22ca8" stroke-width="3.5"/><path d="M224 738l18 -18M84 738l17 -15M402 752l16 -14M314 776l8 -8M76 598l4 -4M142 882l12 -8M341 717l7 -8M86 661l13 -14M375 785l11 -10M96 693l11 7M152 864l13 5M350 860l11 6M193 711l12 -11M293 795l9 -7M273 605l15 8" stroke="#ec4050" stroke-width="2.5"/><path d="M346 776l6 3M123 595l19 12M149 868l14 8M54 858l13 6M118 864l26 16M258 769l28 23M275 715l9 6M238 836l8 6M51 618l22 15M341 824l23 13M55 753l11 6M195 773l11 7M392 622l10 6" stroke="#f4a8cc" stroke-width="3.5"/><path d="M372 857l17 -15M310 765l25 13M327 861l16 9M153 606l11 7M300 879l7 -7M60 743l3 -3M315 742l15 -11M368 642l26 17M107 831l26 15M393 725l8 -6M338 897l16 -15M401 783l5 -5M382 829l6 4M66 597l41 28M120 655l12 8M85 815l33 18M60 756l13 7M425 873l7 -7M260 652l22 -21M171 716l17 13M340 654l7 -8M69 752l7 4M379 805l27 16M110 788l22 13M69 874l17 -14M323 741l15 8M183 605l5 3M397 870l6 -7M250 838l15 -13M196 641l7 4M215 799l15 10M370 598l6 5M261 683l12 -11M173 809l6 3M202 646l17 -14M425 793l6 4M155 656l9 5M298 809l12 8M123 737l17 -18M191 757l35 19M159 607l9 -8M197 855l10 7M313 778l7 4M253 837l25 13M333 772l17 -15M230 627l20 10M276 602l8 5M88 798l8 -8M333 610l27 -25M324 773l13 -13M103 730l13 -11M268 671l10 8M239 746l10 -9M365 716l6 -6M333 724l20 10" stroke="#8a3cc8" stroke-width="3.5"/><path d="M362 811l7 5M400 708l20 11M411 598l8 -8M331 756l29 -25M79 689l8 4M290 877l8 -7M101 888l25 -18M100 601l18 -20M104 671l28 -23M285 830l16 11M81 597l6 -4M280 721l5 2M207 815l17 10M224 868l13 -15M66 856l4 -4M219 711l16 11M174 640l12 -13M375 595l17 11M128 809l15 -14M54 616l16 -17M72 782l17 -16M62 620l15 8M392 751l10 6M297 871l12 -12M90 714l11 5M260 728l12 -12M77 726l21 -23M356 652l14 -15M362 596l11 7M153 761l15 11M200 732l18 -19M357 648l9 5M336 854l17 8M240 803l6 -5M244 609l25 15M297 679l12 -10M208 798l4 -4M247 700l16 -13M426 667l9 -10M273 893l7 -7M262 732l8 -8M212 631l29 22M97 750l14 -16M294 624l8 5M337 638l9 6M107 693l5 -4M240 578l36 24" stroke="#f05a5a" stroke-width="3.5"/><path d="M108 879l14 -9M205 733l7 -7M181 823l6 -6M124 788l10 -9M180 649l27 17M244 711l10 -10M345 627l9 6M64 770l18 -22M337 607l6 -5M201 686l4 -5M84 838l10 -9M362 700l7 -8M378 849l35 29M101 873l6 -6M72 648l11 -9M110 848l17 -16M419 889l8 -8M209 839l5 -3M87 821l10 -6M104 890l10 -10M356 835l11 -12M204 862l12 -13M102 692l13 -10M255 786l15 10M201 858l13 -12M132 852l7 -7M250 642l9 4M311 776l9 -7M336 869l14 -14M55 731l10 6M351 672l21 -19M324 613l24 15M86 791l10 -10M163 815l7 -6M246 665l16 -10M425 773l8 -8M144 745l50 33M394 734l42 -35M292 760l11 -11M269 778l11 -7M196 792l7 -6M184 639l9 -8M414 596l13 -10M359 848l6 -5M90 768l17 12M161 828l7 -7M210 827l39 24M131 730l22 15M425 713l7 -7M333 638l14 9M391 704l13 -11M382 800l6 -5M150 663l14 -10M366 785l16 -15M107 870l11 -9M339 891l20 -20M404 835l24 -22M396 792l8 -9M258 596l13 -11M79 679l11 -12M88 878l13 -11M135 613l11 6M259 882l6 4M176 809l23 10M114 853l3 -3M288 852l32 -30M102 747l18 -19M212 853l6 4M225 750l23 -24M388 852l8 -8M343 591l10 -8M372 651l21 -17M56 776l9 -11M265 598l20 9M235 848l36 20" stroke="#6cc850" stroke-width="4.5"/><path d="M250 829l16 -14M119 782l12 -11M293 677l6 3M106 810l12 7M289 691l18 -15M301 807l27 15M361 719l9 -7M250 640l13 -13M201 874l9 6M85 707l13 -13M95 741l15 8M352 802l6 -6M295 615l17 -17M298 683l10 -9M182 670l6 -6M133 623l11 -10M93 847l12 -12M344 802l9 5M229 742l12 5M93 717l14 8M326 803l7 -8M386 602l4 -4M428 624l6 -4M240 600l11 5M188 643l6 -4M53 856l6 -6M180 789l22 16M49 719l19 -17M340 623l47 -32M86 715l10 -11M121 847l9 5M74 759l14 -11M357 642l22 -24M304 819l6 3M340 724l23 16M222 887l13 -10M319 880l27 18M328 834l11 -10M66 701l13 9M401 591l6 -6M93 742l24 13M244 662l10 -7M341 818l12 -11M298 667l13 -11M74 825l4 2M109 665l9 6M384 608l25 16M305 795l20 -21M59 694l15 6M198 757l13 -11M282 716l18 -14M66 663l34 22M405 782l5 -4M344 767l13 -12M356 787l18 9M287 722l7 -6M56 696l28 23M235 648l27 -24" stroke="#f05a5a" stroke-width="2.5"/><path d="M225 722l11 -11M121 678l18 -19M292 861l18 12M298 826l16 -14M384 867l48 -36M266 729l9 4M83 587l16 9M427 881l4 3M62 630l22 14M219 824l12 7M190 860l10 -9M206 842l6 -6M216 877l25 10M376 634l6 4M304 736l12 8M60 623l23 13M224 808l6 -4M78 802l17 12M112 620l11 -8M84 839l10 6M163 739l8 5M355 609l14 -12M155 745l9 -8M72 835l18 11M393 853l17 6M383 623l13 -12M215 777l16 9M224 705l6 -6M335 694l14 10M226 645l11 6M160 842l17 -15M344 664l4 -4M275 603l3 -3M333 822l6 -5M394 683l20 14M166 713l10 6M180 813l25 -25M387 657l8 5M250 815l18 -17M271 841l11 7M321 884l13 -13" stroke="#8a3cc8" stroke-width="4.5"/><path d="M310 715l11 8M273 826l52 29M333 640l25 13M222 777l21 8" stroke="#f4a8cc" stroke-width="4.5"/><path d="M77 596l14 9M252 637l13 -13M119 788l6 4M410 619l8 5M288 638l10 5M243 848l34 17M370 635l8 5M163 749l14 8M147 593l10 5M241 678l5 -5M409 820l38 22M421 669l13 -11M160 820l15 -12M148 808l11 5M399 681l13 7M157 877l8 5M90 747l18 10M292 747l24 15M85 768l16 9M52 859l53 27M270 854l11 -11M254 767l12 -12M395 797l16 -16M98 579l54 26M143 661l12 7M260 595l22 12M87 804l21 12M201 685l11 -9M62 772l31 18M337 678l13 8M46 588l30 21M349 715l27 16M375 676l32 24M355 652l14 11M115 708l12 7M189 841l7 -7M193 627l45 26M413 719l9 5M204 585l8 6M289 886l12 -10M238 666l16 11M118 849l20 13" stroke="#f080c0" stroke-width="3.5"/><path d="M115 615l14 9M264 841l8 -6M364 640l11 -9M395 808l8 5M287 588l8 3M194 672l8 -7M176 698l27 20M126 602l17 12M313 840l9 -11M329 826l19 -14M63 757l6 -5M125 825l14 -17M241 608l8 -7M397 684l17 -14M109 763l45 -40M334 749l7 -6M332 668l8 -7M140 696l11 -9M281 642l8 -9" stroke="#60c4d8" stroke-width="4.5"/><path d="M217 849l9 -10M239 721l23 -21M253 743l18 -15M93 708l11 -9M82 828l9 -7M260 610l6 -7M55 642l9 -7M110 845l10 -8M219 600l17 14M222 782l7 5M90 785l19 12M307 809l15 11M110 675l11 -9M235 788l6 -6M263 594l12 7M298 829l17 -17M142 856l9 -12M97 716l14 -12M249 756l21 -19M405 608l8 -6M113 835l20 -19M184 643l13 -9M169 878l17 -12M135 703l29 20M222 830l19 7M294 705l10 -8M347 788l3 2M99 750l5 -4M301 711l17 -16M310 664l5 4M359 773l10 5M69 698l34 13M399 773l18 -19M170 700l24 17M161 696l33 18M55 656l16 10M202 723l52 29M287 703l19 9M214 821l17 11M321 697l8 3M416 649l14 -13M202 645l21 11M224 640l4 -4M58 647l15 9M145 897l20 -20M238 607l7 3M380 778l12 8M140 670l5 -4M275 720l26 -26" stroke="#f05a5a" stroke-width="4.5"/><path d="M154 584l14 8M201 628l29 15M279 703l6 -6M365 769l23 14M398 804l6 -6M111 908l43 -42M135 622l32 16M323 838l14 8M202 713l17 11M355 822l14 -13M260 872l4 -5M129 611l7 -6M396 697l13 -11M135 768l15 9M181 644l17 10M374 760l4 -4M229 625l23 -15M388 750l17 9M134 747l5 4M56 842l9 4M108 723l8 -7M348 790l11 5M77 866l7 -6M221 735l40 24M84 641l20 12M184 843l5 4M168 708l7 4M43 584l25 15M111 776l7 -5M347 818l6 -4M145 687l14 10M126 741l27 14M277 717l21 -18M131 634l13 7M126 683l43 14M63 638l30 21M67 627l24 -22M146 710l18 -21M64 740l16 12M47 893l26 -22M417 832l16 -11M270 757l14 -12M105 713l16 9M337 792l20 10M203 849l17 -14M406 855l14 -15M195 805l4 -3M391 817l17 -13M330 726l6 -5M335 675l19 -17M67 728l23 12M183 841l13 7M398 637l9 -9" stroke="#8a3cc8" stroke-width="3.5"/><path d="M194 707l23 12M80 720l11 5M305 878l13 8M174 759l27 17M329 733l15 11M371 678l14 9M228 762l16 9" stroke="#f4a8cc" stroke-width="4.5"/><path d="M223 753l3 -3M305 662l34 -36M58 772l9 -9M117 655l7 -6M370 663l31 -29M137 644l13 -11M358 613l4 -3M423 682l5 -4M185 625l9 -8M156 700l5 -4M370 749l18 -17M133 656l4 -4M221 652l12 6M63 762l6 -4M225 842l19 -19M217 891l13 -15M148 607l8 -8M371 859l20 -20M212 608l17 -15M161 663l5 -6M208 775l11 -13M348 853l8 -7M74 893l10 -8M65 767l3 -3M424 856l14 8M157 755l6 -3M420 758l11 -12M100 598l11 -10M275 731l27 14M144 819l7 -10M406 668l12 -9M53 714l16 -12M360 860l9 -8M68 890l5 -4M206 632l12 5M372 684l26 -23M402 806l6 -5M237 846l23 -18M297 729l10 7M170 619l6 -7M282 620l13 -11M241 619l6 -6M162 850l6 -5M278 714l16 -18M140 806l8 -7M126 891l9 -9M366 779l14 -12M56 856l7 -9M97 878l15 -14M109 858l12 -10M376 640l8 -7M286 869l12 -11M324 632l16 9M359 883l14 9M372 622l11 -10M281 882l36 14M314 696l18 -17M368 707l7 -7M401 680l6 -5M344 655l16 -12M237 623l15 -15M111 664l12 -11" stroke="#6cc850" stroke-width="4.5"/><path d="M141 773l6 3M315 616l7 -7M373 780l20 9M369 781l6 4M64 766l19 15M280 594l15 10M331 761l11 -7M394 810l16 12M309 715l16 10M424 884l6 -5M358 654l13 9M404 782l19 13M412 842l24 -16M210 768l9 5M129 615l17 -13M234 844l14 -13M176 690l9 4M253 841l35 30M61 588l8 5M178 824l9 4M142 744l20 12M51 826l29 16M158 806l8 4M232 747l6 3M377 723l34 18M150 802l25 21M162 674l18 13M95 854l19 11M145 864l5 3M353 718l21 11M146 767l16 8M122 687l10 5M188 752l27 18M389 624l27 15M361 814l12 8M151 754l16 8M164 770l7 -6M142 822l36 18M109 669l9 4M311 707l16 -14M130 614l18 9M328 597l8 5M182 638l10 6M141 590l23 17M248 821l13 8M258 671l12 -11M393 588l38 20M381 737l15 8M152 814l13 -12M222 777l29 12M166 702l16 10M94 588l18 12M269 834l18 8M296 600l8 -9M380 854l17 11M426 833l4 2M219 786l26 14M210 752l11 8M359 847l29 18M292 837l16 12M381 753l11 -9M411 680l14 9M163 833l8 5M327 844l10 5M280 874l15 10M152 754l33 26M353 849l19 10M168 722l17 14M381 768l18 9M142 714l14 8M321 728l34 13M396 832l6 4M122 654l10 -9M185 667l19 9M190 715l10 6M55 874l30 19M36 620l48 30M312 818l22 16M252 678l19 10M197 670l9 6M278 812l14 5" stroke="#e22ca8" stroke-width="2.5"/><path d="M185 671l7 -6M299 635l6 -4M410 881l26 16M233 799l36 18M145 633l28 15M280 664l32 22M298 843l26 -22M199 775l18 7M422 681l8 -8M71 793l18 8M366 773l11 6M229 728l3 3M203 740l13 -12M187 809l8 5M396 731l16 -15M322 652l12 6M416 814l7 4M359 665l16 13M404 763l11 7M290 731l6 4M227 757l18 10M283 665l6 4M77 739l20 14M104 806l21 15M213 646l13 7M379 673l12 6M344 824l9 -7M265 882l9 6M213 734l10 6M348 669l10 6M319 622l16 -14M277 730l13 8M124 874l23 12M322 819l10 6M234 688l23 15M142 638l18 -15M287 878l8 -5M384 650l13 8M116 631l21 10M331 686l21 11M321 740l14 -16M210 685l16 9M412 673l9 5M310 802l17 11M109 867l8 5M141 850l10 -8M280 654l16 9M264 868l11 6M60 589l46 26M382 679l25 13M189 635l13 8M310 730l17 9M178 785l6 -6M297 745l32 22M129 663l16 14M170 619l16 8M55 725l4 2M136 604l21 15M241 670l5 3M294 788l30 23M153 811l37 20M137 624l25 13M404 676l8 5M124 649l13 7M306 853l17 10M159 821l8 5M252 871l11 -10M82 677l7 -7M117 719l4 2M391 649l8 6M349 672l31 22M136 822l36 19M176 846l14 10M215 702l4 3" stroke="#e22ca8" stroke-width="4.5"/><path d="M125 837l30 -30M151 748l13 9M209 737l23 15M179 654l9 -7M66 744l12 -10M177 696l10 6M217 642l26 -31M162 857l20 12M387 676l8 5M329 606l19 -14M390 749l9 -7M54 594l8 -7M428 713l10 -8M181 707l19 11M423 771l15 -15M270 654l7 -6M72 763l32 -28M95 789l15 9M383 678l11 -9M63 799l7 4M332 726l6 -6M365 705l8 -8M338 857l6 -6" stroke="#60c4d8" stroke-width="2.5"/><path d="M143 751l15 -12M278 742l10 -8M167 853l9 4M405 871l6 -6M355 677l13 -12M240 723l6 -5M194 716l10 -9M221 787l7 -6M384 819l16 -15M204 743l28 -31M365 590l42 19M192 807l16 -16M143 811l37 -26M193 754l3 -3M126 652l23 13M99 872l10 -11M78 652l9 -9M327 690l12 -8M97 609l10 -7M336 784l15 -14M189 727l7 4M217 717l7 -8M243 793l10 7M53 803l15 -13M99 860l5 -5M55 728l14 8M222 885l10 -9M400 598l35 19" stroke="#60c4d8" stroke-width="3.5"/><path d="M81 862l23 15M358 622l10 -7M189 735l7 4M403 758l4 2M304 716l7 4M353 722l8 -8M65 860l6 -5M420 720l24 16M400 642l17 13M233 871l5 -4M280 646l13 8M170 686l8 5M143 857l32 24M277 684l21 13M81 621l14 7M53 652l11 4M234 835l25 14M375 858l40 17M121 798l9 5M305 868l12 8M94 643l12 5M378 675l6 4M296 667l11 5M239 823l8 6M377 644l20 -20M132 717l7 -7M188 763l8 -8M112 827l15 -12M128 831l6 4M389 885l12 6M277 703l13 8M128 816l15 9M213 613l4 3M195 665l11 5M321 791l15 -13M267 823l7 -6M71 756l12 7M81 653l10 -10M173 873l13 8M306 763l9 -9M321 818l5 3M290 734l9 7M315 729l11 8M180 649l11 8M299 827l31 16M134 757l12 5" stroke="#f080c0" stroke-width="3.5"/><path d="M178 701l15 9M148 884l11 -9M384 725l42 -43M193 801l9 -7M381 633l4 -3M109 707l16 10M141 858l22 -19M60 693l27 16M202 647l11 -10M330 803l15 11M88 693l16 -13M207 823l19 -15M120 886l11 -10M98 615l5 -5M191 790l12 -10M307 786l17 12M133 732l11 -10M67 679l12 -14M361 803l15 -12M273 632l46 22M309 878l13 -11M94 697l34 18M303 707l39 30M166 729l11 -11M197 628l17 9M161 636l11 -9M218 885l9 -10M170 859l17 -20M207 810l10 -9M108 650l23 -21M363 653l19 14M267 611l5 -4M173 634l17 -16M103 718l22 -17M348 727l13 8M121 827l27 -28M179 598l23 -18M65 781l5 -6M370 825l12 7M341 723l15 9M292 777l16 10M242 778l16 11M185 758l10 -11M417 796l7 4M408 678l14 -13M383 818l18 -14M211 833l5 -5M344 803l18 -16M93 844l31 -32M81 775l14 -12M390 662l22 -19M122 776l14 10" stroke="#f05a5a" stroke-width="2.5"/><path d="M377 751l14 9M290 790l29 16M424 726l6 3M310 826l16 11M183 844l9 7M289 613l28 15M61 743l47 -38M98 741l19 12M330 884l13 8M115 603l28 20M408 660l19 -17M418 750l3 -3M218 698l29 18" stroke="#ec4050" stroke-width="2.5"/><path d="M385 775l20 11M55 753l8 5M83 609l10 4M391 592l16 13M53 738l21 14M261 625l12 10M118 595l7 4M259 827l16 9M401 596l3 -3M105 680l9 7M316 814l21 13M170 690l23 15M310 829l9 -8M161 634l25 13M93 810l10 6M366 721l27 -25M68 654l11 -9M167 838l12 7M388 867l13 8M129 685l18 11M195 836l10 7M158 614l8 6M182 826l6 3M318 804l13 7M53 890l7 -8M324 593l26 13M49 677l12 7M336 704l20 12M53 874l12 9M103 640l26 15" stroke="#f080c0" stroke-width="4.5"/><path d="M65 721l9 -9M341 722l5 -4M57 704l15 -12M108 763l16 12M112 883l20 9M349 823l6 -6M80 644l38 -34M150 777l14 -15M252 779l8 -8M424 788l10 -9M107 658l27 -31M284 727l25 -21M228 857l5 -6M220 734l23 -21M319 593l9 -8M206 764l9 5M254 823l16 -12M380 738l13 -11M381 732l33 -31M426 854l7 -4M71 869l19 -20M329 871l25 12M387 654l14 -10M253 822l36 22M278 719l11 -8M301 815l9 -7M233 642l5 -4M58 800l13 -10M201 773l10 -9M380 761l16 -13M279 643l11 -9M57 814l24 -27M374 787l24 -20M93 866l5 -5M235 849l35 -24M414 677l14 -13M50 619l9 -11M275 822l5 -3M210 886l11 -9M353 869l32 25M327 816l23 14M259 824l17 -16M59 652l5 -6M265 791l11 -9M120 757l20 9M283 826l20 -16M162 632l7 -5M173 880l12 -12M222 667l3 -3M106 796l18 -16M128 595l16 10M213 892l14 -14M278 621l11 6M326 762l5 -5M301 825l10 -9M216 772l8 -8M168 801l6 -5M240 862l5 -5M221 820l18 12M367 824l8 -9M418 891l27 -26M86 737l10 -9M318 794l14 7M275 805l14 8M355 725l7 -6M280 656l9 -7M116 705l8 -9M48 890l15 -15M352 779l9 -8M127 815l12 -10M312 848l5 -5M169 621l10 -9M304 794l14 -16M343 628l24 -21M227 877l11 -9M233 798l6 -4M362 661l4 -4M94 658l18 -16M301 643l15 6M90 690l7 -9M122 888l8 -7M174 594l8 -8M312 852l9 -7M424 743l6 -5M273 656l15 -12M77 797l8 -6M158 817l14 7M231 868l9 -8M156 900l31 -29M108 771l15 -13M119 795l12 -11M211 636l43 -42M75 779l25 -16M216 835l15 -12M397 796l22 -22M207 894l16 -16M111 608l10 -10M291 778l10 6M315 694l7 -7M167 868l13 -15M198 861l6 -5M233 656l23 -19M291 770l5 -3M399 842l10 -10M208 817l28 -25M66 856l7 4M408 693l8 -7M133 608l6 -6M227 884l14 -10M154 763l11 -9M291 694l18 -19M199 801l6 -5M310 696l6 -6M72 747l14 -10M289 635l28 20M133 852l31 -30M397 616l12 -11M169 600l12 -10" stroke="#6cc850" stroke-width="3.5"/><path d="M360 647l11 9M411 799l12 7M307 746l23 9M362 830l7 4M331 683l32 17M382 608l13 7M169 652l7 5" stroke="#f4a8cc" stroke-width="3.5"/><path d="M400 607l23 12M61 667l10 5M420 839l14 8M345 745l8 5M178 690l19 10M182 625l16 9M98 867l18 12M295 836l26 18" stroke="#f4a8cc" stroke-width="2.5"/><path d="M286 656l8 5M376 665l14 -13M192 666l9 5M185 749l16 9M163 799l24 -24M83 844l20 17M193 664l8 7M167 674l11 8M378 746l10 7M359 674l16 9M397 877l17 9M420 788l21 11M330 684l19 12M295 789l11 6M257 814l25 13M287 643l7 -7M141 840l4 2M380 596l13 9M413 864l35 23M262 675l6 5M127 773l7 -7M213 757l12 6M255 877l25 14M60 725l6 -6M96 846l41 17M171 650l16 7M408 794l16 9M115 686l23 14M184 891l6 -6M410 604l7 3M46 800l21 11M315 742l6 3M195 759l12 -11M187 665l6 -5M88 660l5 -5M161 663l13 7M165 606l15 11M211 773l31 20M363 686l20 12M401 630l18 -13M160 774l27 16M146 850l24 16M47 597l43 25M83 833l12 -10M422 688l5 -5M197 799l21 12M185 669l4 -4M202 652l17 11M319 679l14 7M257 627l15 11M106 778l5 -6M392 630l30 17M108 867l31 -30M159 878l14 9M274 717l22 -23M320 844l12 8M190 833l22 10M157 674l8 6M158 729l9 6M332 760l23 16M395 806l27 16M405 809l11 6M230 654l5 -4M117 665l9 -9M199 747l21 12M374 733l9 6M202 774l27 15M280 727l9 7M347 799l9 5M188 603l12 -9M410 609l11 6M261 781l28 17M96 594l25 16M423 875l20 12M400 601l30 19M177 774l11 6M53 587l22 14M215 727l7 3M308 587l8 6M84 793l18 11M64 860l21 -21M54 708l8 -8M63 614l51 32M410 682l4 -4M297 836l16 9M63 607l25 16" stroke="#e22ca8" stroke-width="3.5"/><path d="M142 597l20 13M404 699l23 12M331 614l22 11M400 783l10 -9M348 730l33 21M57 857l14 -11M165 662l20 12M424 818l9 -9M64 664l13 -11M185 594l12 6M65 732l17 9M310 759l6 -5" stroke="#ec4050" stroke-width="3.5"/><path d="M243 621l19 7M386 621l13 -13M399 852l5 -5M395 762l15 11M115 699l13 -10M271 635l12 5M87 745l10 -8M301 703l15 -16M402 618l10 -9M59 656l12 -9M257 795l22 -23M331 891l6 -6M376 597l20 11M420 852l12 -13M80 740l7 -7M358 829l15 7M98 762l51 31M53 712l8 4M78 713l8 -6M295 824l6 -5M237 792l9 -9M301 795l6 -5M318 837l9 -9M237 714l7 -7M72 649l12 6M309 801l13 -13M311 649l15 8M74 721l15 7M287 896l18 -14M383 790l11 7M65 658l22 -21M231 612l12 -10M128 766l12 -11M383 773l15 -11M358 883l8 -8M176 629l45 -33M51 709l9 5M63 666l12 -11M353 689l23 -19M207 659l33 -33M129 719l7 -6M384 619l19 -24M332 790l6 -6M96 719l49 19M246 731l13 10M36 601l51 32M226 737l16 9M391 605l7 5M288 671l12 -13M80 663l11 -10M118 891l14 -12M227 851l23 14M112 876l14 12M81 690l5 3M282 689l16 -13M201 699l8 -12M313 820l31 13M106 838l10 -13M209 882l20 11M358 822l11 -9M309 738l12 6" stroke="#f05a5a" stroke-width="3.5"/><path d="M278 779l7 -7M102 783l7 4M332 617l10 6M60 608l24 15M308 791l7 5M390 670l33 17M143 802l10 6M316 652l6 -4M301 667l15 -14M235 643l7 -8M425 606l8 -6M116 800l16 -17M161 607l7 -7M245 808l14 -12M232 800l5 -5M166 733l8 -7M382 718l10 -7M332 718l16 13M119 720l14 7M69 820l21 -17M407 872l17 11M128 703l18 10M78 814l9 6M210 866l19 11M232 690l26 16M300 823l8 -8M398 709l15 10M186 722l8 6M339 859l22 16M330 779l22 13M378 704l18 9M271 687l16 9M276 710l13 -11M93 651l21 14M172 850l9 4M265 789l22 -25M324 612l8 -7M267 704l15 11M257 885l13 10M257 612l10 -9M337 900l19 -20M147 809l12 6M350 850l36 21M245 690l10 -8M134 688l19 10M308 695l25 15M417 639l12 9M403 823l18 -16M51 804l15 11" stroke="#8a3cc8" stroke-width="4.5"/><path d="M95 886l15 8M172 840l15 8M215 659l26 15M64 601l10 -9M315 692l5 3M96 765l9 5M320 653l8 -7M178 754l18 12M222 792l10 9M402 692l29 19M62 638l14 10M388 640l8 -8M174 857l12 10M93 625l11 7M78 825l13 -13M288 812l8 6M305 711l10 8M92 720l25 16M101 650l13 6M225 655l53 28M409 713l32 16M157 893l18 -17M194 776l10 -9M301 855l36 20M255 881l13 -10M400 652l7 4M355 865l8 5M49 813l14 8M240 886l5 2M406 713l19 13M102 607l39 26M181 826l34 22" stroke="#f080c0" stroke-width="2.5"/><path d="M237 726l8 -7M301 750l13 -10M130 828l18 -17M317 766l27 -31M363 879l9 -9M109 742l19 -18M309 818l25 10M319 709l25 14M198 881l11 6M342 667l9 -6M321 673l5 -4M203 897l33 -24" stroke="#ec4050" stroke-width="4.5"/><path d="M246 831l12 -13M78 742l11 -9M188 855l6 4M346 865l8 -7M165 699l9 -8M337 765l9 -8M404 675l12 8M132 769l9 -8M101 853l38 22M369 817l20 11M82 636l22 13M278 806l9 6M293 633l20 10M241 856l10 -9M121 794l11 8M119 807l5 -5M216 582l27 16M364 739l10 -9M288 588l14 10M428 651l8 7M142 815l13 7M319 682l14 9M99 810l18 10M349 703l20 -18M81 714l11 8M170 744l5 3M94 665l14 7M229 674l4 -4M336 698l22 11M406 621l15 -11M407 859l17 12M233 810l6 -6M204 741l18 12M50 861l35 18M336 823l13 8M183 854l5 4M222 849l21 13M309 583l12 10M279 680l6 3M404 790l14 9M332 589l11 7M194 856l14 6M324 742l28 15M321 850l15 -14M192 691l10 7M93 814l17 10M183 785l5 -5M59 845l10 -10M48 830l18 12M370 647l17 -15M413 599l15 -14M139 783l7 -6M229 746l17 8M145 843l12 7M99 829l9 -8M331 745l10 -8M126 607l17 -19M113 794l13 -9M333 833l7 4M193 819l19 8M315 809l12 9" stroke="#8a3cc8" stroke-width="2.5"/><path d="M199 728l27 -27M359 763l14 -13M251 710l8 -11M260 762l6 -6M164 694l37 -30M281 833l20 10M274 667l9 4M399 747l10 -9M180 609l8 -8M276 736l29 -22M231 778l11 -10M418 632l7 -7M363 801l16 -16M86 632l9 -8M83 795l11 -11M320 719l23 -21M263 854l8 -6M93 758l7 -6M64 614l10 -7M127 744l15 -14M182 823l8 -6M221 811l27 17M422 840l19 -20M323 883l20 -14M281 758l8 -7M184 799l15 -14M126 608l9 -8M349 797l18 -13M395 810l8 -7M286 722l6 -5M234 755l5 -6M238 718l13 -12M77 779l6 -7M87 760l4 -4M249 736l39 -29M337 736l12 -10M54 769l16 -12M111 734l12 -12M397 604l16 -11M328 762l11 6M174 871l40 -42M60 778l8 -12M150 848l38 -33M150 824l24 -20M385 595l9 6M242 722l11 -12M422 610l12 -12M69 658l7 -6M154 812l4 -4M276 870l8 -9M319 831l16 -15M235 638l9 -7M188 890l8 -7M343 610l6 -6M237 759l20 11M353 781l9 -8M137 628l11 -10M293 635l31 -24M314 872l14 7M317 620l16 -15M416 822l12 -10M169 699l6 -6M74 762l12 -9M304 711l9 4M387 863l17 10M377 768l11 -9M288 608l18 -18M122 663l14 -11M342 616l33 24M375 658l14 -10M169 600l16 -12M302 707l8 -6M402 755l10 -9M55 803l24 -18M400 841l20 -18M226 813l6 -5M88 814l5 -4M56 893l10 -9M82 840l7 -6M294 635l10 -9M62 769l29 -22M223 649l36 17M301 890l17 -14M344 672l10 -11M88 860l4 -4M201 601l11 -9M358 654l15 -14M412 606l24 12M209 692l7 -6M352 886l19 -12M416 846l21 12M82 771l11 6M242 653l7 3M229 699l12 -9M211 638l3 -3M118 736l5 -4M149 721l6 -6M87 695l7 -5M285 667l7 -7M195 611l19 -22M398 711l19 -16M137 804l4 -4M59 599l18 12M255 761l7 -6M239 855l5 -5M217 697l4 -4M252 689l29 18M317 628l11 7M215 857l7 -7M400 852l13 -13M298 700l6 -6M231 629l4 -3M162 742l9 -10M122 713l7 -7M416 894l11 -11M139 752l11 -9M222 726l8 -7" stroke="#6cc850" stroke-width="2.5"/><path d="M207 731l15 9M67 806l6 4M127 790l12 7M335 849l16 10M174 856l10 7M280 872l16 11M138 735l14 7M156 839l11 7M276 596l27 16M298 858l10 -9M382 861l22 16M110 581l29 15M306 886l5 4M239 638l34 17M203 761l10 5M387 808l7 4M358 710l49 33M118 689l13 7M110 783l11 8M409 877l14 7M100 717l17 9M350 599l49 28M397 720l22 12M162 766l13 9M133 817l11 5M172 722l20 11M148 665l24 12M45 777l26 21M236 821l7 5M126 673l43 33M390 628l6 4M320 688l12 8M81 605l18 8" stroke="#f080c0" stroke-width="3.5"/><path d="M90 794l11 7M267 637l11 10M384 758l16 12M322 734l27 12M386 726l19 -17M256 781l28 -30M293 803l45 23M330 675l14 -12M203 744l16 8M187 667l19 12M246 629l6 3M216 680l5 3M320 715l9 -10M238 672l4 -5M146 595l20 18M124 755l22 14M343 633l10 -9M261 713l13 8M294 666l11 6M240 776l25 18M360 835l30 18M252 591l7 -7M189 663l8 -7M99 832l28 21M368 760l9 5M71 832l24 13M354 876l11 -8M208 771l15 9M271 847l8 4M104 585l19 11M405 705l11 7M389 734l8 5M409 590l10 6M231 833l17 9M357 692l17 12M323 858l17 -19M93 874l15 7M79 810l10 5M77 854l15 9M319 836l15 10M407 832l15 9M425 677l12 8M105 845l12 8M79 675l11 4M181 762l7 -7M212 783l43 23M294 872l16 10M128 824l12 10M241 746l12 9M218 655l15 -13M231 613l45 27M159 670l8 -7M375 883l9 5M151 882l16 10M331 886l9 6M148 752l19 8M120 847l16 -16M168 629l14 9M160 646l24 16M109 660l45 27M270 743l20 11" stroke="#e22ca8" stroke-width="4.5"/><path d="M56 723l5 -5M318 841l13 -14M407 679l13 -12M309 709l17 12M341 607l15 8M341 853l12 8M375 701l24 -22M417 598l17 -16M404 877l12 -10M95 785l9 -10M128 888l18 -16M69 842l9 5M152 713l13 -11M129 722l20 11M305 741l13 -10M233 717l30 17M175 866l9 -9M127 874l15 8M205 832l5 -4M110 839l5 -4M213 721l23 -19M218 709l8 -7M297 860l8 -8M340 588l20 15M416 630l5 -4" stroke="#60c4d8" stroke-width="3.5"/><path d="M144 740l26 17M358 641l10 6M213 593l3 -3M147 877l23 -21M268 714l21 -17M350 704l10 8M138 670l21 14M116 799l6 4M167 644l8 -6M202 841l13 -11M414 631l24 11M290 622l18 11" stroke="#ec4050" stroke-width="3.5"/><path d="M278 784l10 6M133 641l4 3M254 760l15 12M190 802l21 15M159 754l15 7M346 646l10 6M385 658l15 9M39 826l34 15M283 874l15 11M109 851l13 8M58 600l17 10M405 842l17 11" stroke="#f4a8cc" stroke-width="3.5"/><path d="M361 690l11 7M257 787l9 6M210 622l9 4M139 788l15 10M181 896l14 -13M246 838l15 9M295 860l22 15M342 782l9 -7M242 886l16 -17M96 879l24 15M242 749l12 8M48 641l24 17M164 873l13 9M155 712l24 18M255 844l11 6M316 803l6 4M234 724l12 8M283 854l50 26M206 631l7 -6M279 645l12 -12M375 826l34 21M268 675l8 5M271 864l12 10M256 876l7 -5M130 792l33 19M58 816l13 7M279 598l10 6M279 658l10 -8M98 635l10 3M144 806l30 13M170 822l18 -17M291 723l15 8M56 592l17 10M379 694l6 3M140 660l15 7M208 841l6 -7M337 859l33 17M97 815l23 15M117 589l12 8M336 829l8 5M203 613l4 3M216 806l12 6M157 630l12 7M71 838l8 5M304 708l4 2M75 808l12 -10M256 738l23 -20M363 803l20 14M323 624l28 13M376 867l10 5M281 769l11 7M223 669l19 11M340 884l10 -10M234 841l16 10M142 622l21 12M404 614l25 21M413 752l9 -8M318 740l27 16M388 794l3 -3M264 625l7 6M65 717l11 7M355 727l7 -6M55 730l28 18M96 600l9 -7M106 800l35 18M316 767l9 6M74 805l10 5M214 625l12 -10M315 761l12 7M367 795l14 -12M109 718l36 14M411 777l35 20M135 813l15 7M154 598l15 9M287 694l9 5M164 745l11 7M214 774l21 13M292 859l9 6M301 789l14 10M270 856l13 -11M409 682l18 12M133 741l4 2M293 752l5 -5M208 634l15 8M398 813l19 11M259 759l14 7M287 666l15 11" stroke="#e22ca8" stroke-width="2.5"/><path d="M281 882l11 -10M285 795l9 -9M213 760l12 6M53 839l16 12M188 705l18 14M282 785l7 -7M282 629l17 -14M296 840l17 9M338 845l10 -8M234 650l8 5M243 740l6 -5M306 831l3 -3M367 648l54 27M318 860l13 8M416 807l15 13M288 672l16 -12" stroke="#60c4d8" stroke-width="4.5"/><path d="M249 771l10 -9M210 621l33 16M62 776l6 -5M124 877l25 -22M368 823l39 26M130 596l15 -13M77 647l21 -21M359 617l17 11M257 724l7 4M253 603l6 5M407 593l29 16M200 784l25 20M189 645l13 -15M72 636l6 -5M371 672l13 8M61 843l12 -12M428 656l5 -5M391 787l10 -8M281 800l12 -12M240 596l10 6M55 721l17 -18M104 739l14 9M377 821l9 5M152 602l12 7M409 725l25 11M363 767l24 10M256 612l19 8M405 776l18 -16M76 722l13 -8M82 707l17 -21M59 657l6 -4M194 698l20 10M410 610l24 -26M118 677l16 7M321 798l13 5M69 797l22 -22M104 835l14 -11M304 707l10 6M309 703l14 -12M67 670l11 -11M420 879l17 -15M81 660l8 -8M114 606l28 16" stroke="#f05a5a" stroke-width="2.5"/><path d="M197 688l8 4M272 679l37 19M224 703l18 13M165 683l20 -20M396 694l16 9M289 620l5 3M68 863l11 7M370 688l33 21M169 811l26 15M74 727l12 9M71 642l8 7M421 862l19 11M176 879l8 5M146 783l14 -11M272 811l27 10M186 685l6 3M423 712l9 5M117 744l10 -6M287 773l16 9M289 798l27 15M355 876l14 -11M345 813l6 -6M325 648l8 6M254 645l34 22M329 709l5 4M292 650l11 7M169 873l22 11M102 870l10 -9M327 699l11 -9M132 714l16 9M157 719l9 -7M152 752l35 14M257 867l6 -5M275 866l10 7M238 775l18 -16M69 639l24 13M202 709l23 14M48 749l14 8M373 833l14 8M353 814l15 7M192 874l8 5M371 811l15 10M175 666l32 16M407 615l13 -10M65 597l30 23M291 693l14 9M267 654l10 6M356 589l49 33M216 734l32 20M252 709l43 28M221 769l8 -8M166 769l18 -15M282 867l27 18M136 610l13 9M340 776l18 13M373 613l30 20M56 611l9 6M174 751l28 14M403 762l22 12M416 658l7 3M371 748l22 11M294 691l7 -6M244 590l12 7M240 816l18 13M175 602l19 9M182 658l16 10M351 788l20 12M191 852l8 5M143 675l10 7M249 779l22 16M218 719l18 13M68 726l38 23M199 841l9 5M135 762l14 7M312 808l9 5M272 680l7 -6M188 869l6 -5M421 804l13 8M412 604l12 7M89 865l7 -8M373 819l4 2M82 625l49 31M207 631l10 -10M369 647l7 3M303 805l13 8M150 660l15 9M158 711l15 8M197 831l18 9" stroke="#e22ca8" stroke-width="3.5"/><path d="M231 875l30 14M146 590l28 23M57 663l9 5M171 640l21 10M412 719l33 19M397 859l23 13M379 876l24 -19M86 800l19 -15M221 828l15 -16M61 582l21 10M405 707l15 5M344 699l9 5M250 878l10 6M56 602l13 -13M337 826l15 8M205 626l21 14M327 636l13 8M380 712l11 7M218 842l10 5M370 855l28 15M71 789l13 9M238 834l6 4M58 739l6 -5M123 870l5 -4M54 623l8 5M356 758l27 -26M227 693l7 -5M67 869l10 7M275 713l8 -6" stroke="#f080c0" stroke-width="2.5"/><path d="M237 815l24 17M104 724l18 9M319 616l28 20" stroke="#f4a8cc" stroke-width="2.5"/><path d="M156 661l11 -12M90 839l7 -6M120 862l5 -4M108 651l17 -17M107 875l8 -7M255 838l19 -13M122 604l4 -4M327 638l15 -12M274 788l23 -23M316 744l29 -32M424 734l5 -4M311 618l12 -9M158 686l21 -22M128 890l32 -22M81 803l11 -9M296 736l5 -6M402 853l9 -9M128 602l7 -7M412 602l6 -6M404 870l8 -8M357 802l7 -7M400 626l15 -14M138 799l24 -16M200 672l26 14M338 788l9 -8M348 892l7 -7M85 830l5 -4M196 889l7 -5M220 852l27 16M345 685l5 5M169 603l22 -16M268 837l10 -8M281 701l12 -12M349 859l22 13M392 591l9 -7M304 665l16 -13M421 757l15 -11M407 802l8 -6M187 627l12 -10M77 627l5 -5M129 860l5 -4M133 618l4 -4M365 703l13 -11M89 766l7 -6M416 654l12 7M351 870l20 -22M108 762l8 -8M364 882l16 11M124 839l10 -9M262 833l21 15M106 731l9 5M300 801l40 21M397 837l35 -34M346 613l7 -7M181 746l8 -7M161 797l12 -12M318 738l26 -23M407 838l7 -5M358 675l14 -15M388 757l5 -4M65 804l13 -15M251 812l14 -13M373 880l12 -9M296 803l10 7M185 658l10 -10M327 732l19 -16M417 848l23 -17M309 848l10 -11M383 723l4 -4M213 678l4 -4M240 876l21 -18M174 832l11 -9M166 765l14 -14M246 710l10 -7M101 858l28 -27M119 718l11 -12M133 768l18 -15M241 832l15 10M160 835l24 -23M326 801l27 -22M112 632l7 -7M290 682l13 -11M152 621l17 -14M419 895l22 -20M356 784l4 -4M203 692l12 -13M361 743l16 -13M324 799l9 5M117 771l10 -8M145 711l12 -11M290 687l10 -10M255 641l5 -4M102 889l49 -35M75 635l17 -13M357 720l6 -5M389 689l14 -12M396 739l10 -9M52 634l12 -10M104 789l22 -19M281 673l8 -6M159 863l12 8M371 644l7 -6M285 874l13 -13M54 757l6 -4M214 732l22 13M191 712l12 -11M213 758l6 -6M369 789l22 -19M407 881l32 -34M252 872l4 -5M109 737l21 -22M392 851l28 16M165 730l10 -11M307 749l20 -19M268 727l18 -13M274 832l3 -3M83 811l16 -16M283 756l9 -9M327 600l22 -19M170 612l9 6M217 874l8 -7M403 620l23 -16M276 616l13 -12M353 755l20 -15M190 795l11 8M103 827l15 -15M195 740l14 -16M60 757l17 9M95 892l12 -11M391 681l15 11M242 763l26 21M167 602l9 -9M324 734l10 7M169 640l14 -15M303 724l8 5M83 677l16 -14" stroke="#6cc850" stroke-width="3.5"/><path d="M313 786l22 -18M295 729l26 -19M99 863l10 -11M209 591l7 4M260 875l8 -11M322 831l15 13M270 894l8 -8M53 588l19 13M388 710l9 5M143 582l22 10M238 596l9 5M259 667l11 7M176 716l7 -6M168 646l13 8M284 693l12 7M358 629l18 12M117 843l17 13M364 803l14 -11M139 679l7 -5M410 600l15 9M386 667l27 13M402 706l3 2M134 842l14 -12M133 753l25 15M235 634l18 -18M113 772l34 19M410 649l45 -40M420 640l12 8M171 811l11 -11M140 876l10 7M132 871l35 21M389 803l21 13M312 589l39 23M156 711l19 12M377 745l50 31M62 898l26 -21M279 633l11 -8M270 780l8 4M327 636l12 8M325 702l16 10M350 662l8 6M403 771l25 14M248 672l18 -18M218 612l12 -10M410 620l7 -10M263 602l6 -7M353 865l11 7M379 736l9 6M409 685l28 -22M68 873l24 13" stroke="#8a3cc8" stroke-width="4.5"/><path d="M73 656l21 13M65 780l19 11M141 808l8 5M248 803l3 -2M235 613l6 4M320 778l20 12M266 627l13 7M91 813l9 -9M114 689l3 -3M222 624l3 -3M412 786l15 -12M369 700l14 8M250 706l7 -4M368 765l24 14M225 814l23 -22M117 870l9 -8M280 608l8 5M376 610l16 10M304 757l7 -5M416 800l8 -9M402 775l12 -12M171 612l10 -8M61 819l8 -7M327 810l5 -4M178 763l25 -25M327 593l9 -8M408 678l21 -22M91 629l13 7M293 718l11 5M337 606l22 11M426 811l9 5M118 777l9 6M358 615l22 11M223 633l7 5M59 636l22 12M88 711l6 -7M127 850l26 -22M122 739l12 -14M94 709l10 6M52 727l13 -10M130 773l11 -10M124 835l15 10M364 721l16 -13M82 851l12 8M299 859l39 -30M308 760l6 -5M128 607l13 -12M107 775l10 -6M99 761l11 -9M76 660l8 5M341 773l14 -12M251 602l24 -27M151 602l12 7" stroke="#f05a5a" stroke-width="4.5"/><path d="M117 849l11 6M252 706l18 10M261 670l9 6M149 759l47 28M368 642l22 14M207 852l21 15M320 703l23 10M384 733l18 8M349 816l11 7" stroke="#f4a8cc" stroke-width="4.5"/><path d="M313 734l7 -6M424 731l5 -5M154 632l23 -25M387 799l10 6M144 770l8 6M127 764l9 -8" stroke="#ec4050" stroke-width="4.5"/><path d="M429 866l9 -9M246 767l17 11M163 833l15 -12M298 684l25 13M331 731l9 -8M180 814l9 8M77 810l16 -15M147 768l27 13M94 811l17 -19M85 582l17 12M156 825l13 9M122 752l11 -10M275 719l10 -9M213 843l19 13M292 607l26 20" stroke="#ec4050" stroke-width="2.5"/><path d="M358 644l21 12M360 628l11 -10M135 778l16 7M241 716l4 -3M243 726l14 -11M216 767l13 7M168 714l12 8M415 744l20 13M236 771l16 -13M350 811l7 5M399 649l47 -37M350 590l9 4M83 739l9 -8M277 708l8 -8M228 671l17 -14M280 883l5 -4M328 680l7 4M153 672l8 5M81 672l7 -6M349 607l18 -16M406 823l16 10M66 627l5 -4M320 784l27 -21M172 651l12 -11M217 733l12 8M386 865l9 5M281 857l6 -5M75 862l20 12M139 607l7 -6M88 884l17 11M379 623l17 10M185 635l14 -12M419 782l8 5M199 869l18 -17M140 622l4 2M351 732l25 20M311 714l16 12M120 660l4 2M235 691l7 -6M205 794l15 9M115 620l22 16M393 837l12 8M351 609l10 7M79 857l25 15M310 838l14 7M326 641l11 6M167 665l8 5M399 667l31 -28M284 791l22 11M56 612l24 -25M75 874l16 9M290 759l29 -21M116 834l25 -16M325 620l24 14M92 860l47 36M52 720l49 31M227 665l12 -14M130 769l33 -27M94 839l17 11M283 691l19 7M335 891l8 -8M245 669l10 -11M310 710l42 22M358 707l22 13M109 652l18 -17M304 778l16 9M303 706l7 -6M138 827l19 -20M237 890l20 -17M422 705l15 8M162 653l8 5M161 671l6 -6M317 737l9 6M422 749l8 4M144 647l4 2M245 667l8 6M128 759l20 11M419 641l7 3M367 708l9 6M203 828l4 -4M257 886l7 5M366 595l5 3M160 681l8 6M189 600l10 -9M299 728l8 5M224 679l23 10M164 635l27 -20" stroke="#8a3cc8" stroke-width="3.5"/><path d="M216 720l23 -23M224 789l23 11M248 655l12 9M386 867l15 -14M225 807l28 -26M266 660l21 -17M321 706l18 -16M270 804l18 11M366 735l51 32M372 724l13 -15M117 675l11 -11M115 807l14 -12M310 629l7 -5M232 678l8 -7M172 695l8 -9M188 712l11 -8M326 703l9 -9M395 648l13 -10M167 828l9 -8M74 780l5 -4M336 744l15 6M119 757l8 -6M251 730l8 7" stroke="#60c4d8" stroke-width="2.5"/><path d="M103 663l16 8M313 793l13 7M262 656l18 -16M416 832l14 -12M255 609l11 6M68 796l40 -32M48 589l15 9M261 764l13 7M296 764l22 13M389 753l27 14M417 669l21 -20M351 765l9 -8M235 678l7 -6M75 698l35 -33M107 693l11 6M423 625l12 9M130 879l14 9M218 888l13 -12M138 867l6 -4M88 679l6 -5M269 705l8 -10M261 665l10 7M319 702l4 -3M280 788l7 4M72 749l8 4M361 725l11 -12M306 692l8 -7M318 791l9 -10M109 691l9 -9M249 824l5 -5M285 871l22 -21M116 825l23 -20M89 838l42 27M82 695l4 -4M352 825l10 -10M275 701l18 -15M252 761l9 5M147 818l15 10M129 852l22 10M393 596l25 15M126 799l11 -7M77 697l13 -12M259 830l19 10M199 742l9 4M155 601l13 7M219 671l8 7" stroke="#f05a5a" stroke-width="3.5"/><path d="M296 663l9 6M232 753l17 10M339 847l5 -5M290 818l14 7M346 612l20 13M146 792l13 7M412 656l22 13M285 753l5 3M351 767l6 4M390 725l9 5M281 663l8 4M122 870l13 6M317 706l40 -32M305 601l29 15M237 809l14 10M322 838l5 4M306 833l21 14M267 658l15 7M319 859l22 12M76 804l7 4M163 629l14 8M224 809l17 10M65 863l22 -14M253 632l25 15M212 596l23 13M148 692l7 3M213 778l10 6M296 699l12 -11M191 658l13 6M229 840l9 -6M366 823l13 7M199 713l22 11M189 597l29 16M59 745l27 -23" stroke="#f080c0" stroke-width="4.5"/><path d="M345 607l20 11M293 612l23 -21M53 833l7 -6M53 788l9 6M240 888l15 -13M401 650l36 23M135 740l19 -12M367 796l13 8M299 653l12 -11M135 666l8 -8M213 834l12 7M235 855l7 4M330 687l14 -12M296 710l6 -7M299 686l6 -5M92 861l5 -5M77 687l13 -12M205 736l13 8M323 657l10 7M65 679l11 5M45 651l23 -17M233 732l13 9M193 645l8 -6M172 746l8 -8M146 861l12 10M163 694l6 -5M146 881l12 -10M115 729l21 -16M284 835l18 12M333 839l13 8M388 815l20 11M394 748l20 12M153 613l18 -14M236 606l14 -17M121 644l14 -12M407 732l17 8M255 797l25 -22M408 696l14 -16M297 639l17 -15M181 664l15 9M230 871l12 -12M413 762l17 -15M88 852l8 -7M374 660l3 -2M372 641l19 -15M249 596l5 -5M111 701l10 -10M59 865l6 -5M326 832l9 6M269 728l25 13M205 868l12 -10M142 680l18 -19M156 683l17 -15" stroke="#8a3cc8" stroke-width="2.5"/><path d="M87 767l9 -8M267 667l6 3M100 725l31 -21M104 773l24 -16M226 701l5 -4M136 851l4 -4M403 887l8 -9M427 618l13 -12M108 807l11 -9M310 642l11 -9M308 724l4 -4M421 702l8 -7M411 674l10 -8M135 611l6 -7M406 597l17 -17M72 802l10 -8M286 731l4 -4M290 606l11 -10M294 697l24 15M89 755l6 -6M60 847l4 -3M203 595l8 -8M307 601l10 -11M91 874l19 -23M110 798l15 -16M240 607l7 -6M281 877l31 -25M193 888l13 -11M245 782l18 10M51 830l16 -15M202 744l5 -5M90 775l26 -25M76 841l5 -5M322 875l40 -42M73 742l12 -9M107 776l10 -12M254 632l13 7M184 738l9 -7M253 784l18 13M251 649l9 -8M304 675l7 -6M242 725l12 -11M90 877l16 10M92 832l7 -8M172 743l11 -10M113 704l28 -27M313 748l23 -24M287 874l6 -4M186 791l29 17M239 610l46 -38M396 881l11 -10M104 779l16 -15M428 703l7 -6M251 630l14 -9M364 710l4 -4M159 827l29 17M245 637l13 -10M377 789l29 -23M97 734l13 10M123 776l7 -6M255 638l9 -10M157 831l13 9M331 852l15 9M309 600l15 -14M155 762l4 -4M413 670l14 -9M402 730l22 -20M229 604l8 -8M170 711l17 -16M269 668l10 -9M91 800l11 -12M371 733l3 -3M374 704l19 -21M259 621l6 -6M347 872l8 -9M217 888l7 -6M363 749l5 -4M151 767l8 -7M186 688l8 6M102 757l23 -23M68 870l9 -7M341 838l22 -20M372 755l15 -13M303 713l8 -6M388 798l7 -6M164 795l40 -32M407 754l11 5M383 780l21 -17M341 865l50 33M44 736l34 -29M105 881l12 -10M152 717l12 8M124 889l8 -8M284 869l17 -17M190 664l12 -9M248 685l15 7M169 683l8 -7M254 668l29 24M75 840l10 -12M87 757l4 -3M191 601l8 -8M282 610l6 -5M292 700l9 -8M95 866l9 6M89 595l12 -12" stroke="#6cc850" stroke-width="2.5"/><path d="M410 717l13 -11M286 647l9 -10M184 731l4 -5M220 775l5 -5M60 611l13 -11M300 638l6 -7M199 607l14 -12M211 855l6 -7M151 761l36 -29M69 799l13 9M393 720l9 -9M69 738l9 -8M280 747l6 -7M118 676l10 -8M397 655l5 -5M161 743l7 -6M137 857l10 -9M55 699l10 -10M200 665l10 -9M365 662l39 -35M274 823l26 -21M167 885l24 -24M59 835l6 -5M385 729l7 5M381 668l14 -12M149 766l22 13M355 656l18 -15M270 792l20 13M166 865l29 19M394 686l15 -14M94 686l24 -24M377 637l3 -3M52 765l15 -17M151 753l32 -32M322 601l15 -13M392 734l4 -3M160 683l8 -7M77 601l37 18M229 767l5 -5M80 860l21 -16M157 744l8 -6M410 876l13 -10M268 644l19 11M392 869l15 11M151 744l7 -5M268 669l6 -6M273 765l16 -13M72 805l22 -19M97 843l23 -19M281 892l15 -16M121 594l6 -6M262 744l12 -8M137 724l16 10M401 614l28 -24M320 721l9 -10M283 882l5 -7M372 750l11 -8M388 701l16 9M317 880l5 -5M306 597l18 -17M405 679l9 -8M266 670l18 13M356 642l10 -11M340 609l12 -12M178 601l7 -6M183 685l8 5M200 727l6 -6M182 611l24 -25M230 616l12 -11M98 621l11 -8M272 655l22 -19M154 823l16 10M59 751l14 -11M131 861l5 -4" stroke="#6cc850" stroke-width="4.5"/></g></g><rect x="63" y="593" width="362" height="291" fill="#fff" opacity="0.35" filter="url(#wsp)"/></g><rect x="430" y="7" width="361" height="292" fill="#fbfaff"/><g clip-path="url(#clipa2)"><g mask="url(#a2m)"><rect x="430" y="7" width="361" height="292" fill="#6e6ec2" filter="url(#a2c)"/><rect x="430" y="7" width="361" height="292" fill="#e49aa8" opacity="0.7" filter="url(#a2q)"/></g><path d="M718 153l7 1M472 123l6 1M483 130l7 -0M440 146l7 0M613 155l5 -0M461 143l4 -0M499 150l6 1M588 147l7 0M785 161l7 -1M464 134l7 1M624 163l7 1M629 175l3 1M734 182l8 0M622 154l7 1M707 131l3 1M609 163l8 1M473 171l6 0M450 118l3 0M538 168l7 2M763 161l3 -0M604 151l3 -1M433 165l3 1M571 119l4 0M524 145l4 0M439 148l6 0M567 169l6 0M607 147l3 1M654 150l5 1M498 138l3 0M481 165l5 1M675 156l8 -0M569 131l6 1M707 166l5 2M521 162l7 -1M547 166l8 -0M703 172l7 0M712 141l5 0M744 143l6 1M685 153l6 1M482 126l3 1M759 145l6 -0M451 161l6 1M661 158l4 -0M780 178l6 1M775 180l3 1M594 129l3 -0M700 165l8 1M737 160l3 0M712 181l7 1M725 176l7 -0M626 149l6 0M788 145l4 1M604 126l5 0M599 156l7 2M570 138l4 -0M681 160l8 2M541 139l6 -0M499 118l4 0M558 148l6 1M730 143l5 0M516 158l6 0M531 145l4 0M581 129l6 0M746 166l7 -1M626 120l7 1M569 157l7 -0M439 110l5 -1M744 158l3 0M549 166l6 0M740 154l5 1M758 169l4 1M559 172l4 1M715 164l3 1M642 137l4 0M660 185l5 1M651 150l3 0M692 144l6 0M744 143l6 0M745 180l6 1M689 169l7 2M530 149l6 0M461 147l6 2M603 150l5 1M568 134l5 1M474 129l7 1M775 161l5 -0M697 159l3 1M779 139l6 -0M737 153l4 0M699 166l5 0M712 154l7 1M472 131l5 1M773 147l4 0M725 160l5 0M721 157l3 1M531 170l3 -0M775 154l5 0M777 171l7 2M760 162l3 -1M681 171l3 0M535 131l7 1M493 162l8 1M605 140l6 -1M717 179l5 1M569 150l8 0M723 174l4 -1M644 167l6 -0M468 138l6 0M440 75l4 1M477 76l7 -0M723 103l6 -0M708 96l5 1M439 81l5 1M584 97l7 1M719 92l6 2M700 119l5 2M480 85l3 0M710 108l4 -0M759 113l7 3M578 82l5 1M684 89l3 -1M541 70l8 0M726 121l4 1M586 95l5 1M747 109l6 1M531 92l7 1M755 99l6 1M554 76l6 2M750 93l7 -0M516 77l4 -0M509 66l3 1M778 122l6 0M539 90l7 1M513 77l3 0M572 66l5 1M781 97l5 1M438 90l6 0M588 113l3 0M469 82l5 -0M529 69l5 1M477 72l7 0M453 69l7 1M498 86l7 -0M721 91l4 0M702 108l4 1M772 100l5 1M679 108l5 2M662 114l7 0M607 73l5 1M444 73l3 1M465 74l8 1M474 79l5 1M433 72l4 0M557 95l8 1M545 84l6 -1M594 80l4 1M446 80l5 1M463 67l4 1M674 93l6 1M442 71l8 1M630 90l3 0M487 78l7 1M538 79l5 1M494 75l6 -1M514 85l6 0M588 103l3 2M546 87l7 0M430 85l3 1M744 254l4 1M665 231l4 0M607 234l6 1M721 236l5 -0M694 245l3 1M738 253l4 1M531 218l5 2M621 218l6 -0M628 232l4 1M684 246l4 1M752 256l4 2M646 248l4 1M573 199l6 -0M619 232l4 1M739 266l5 1M708 220l5 1M489 195l4 1M661 235l8 1M551 195l6 0M770 252l7 -1M614 227l7 3M450 200l4 0M466 200l3 0M515 216l4 1M581 221l6 1M770 252l8 1M732 256l6 1M649 256l5 1M438 181l3 0M751 263l7 2M781 253l3 1M684 261l3 0M475 224l7 1M707 230l7 2M591 216l5 1M642 231l4 1M474 207l7 2M573 213l6 0M764 261l4 1M543 191l3 -0M538 218l5 1M515 219l7 2M663 232l7 0M553 217l4 1M730 230l6 2M780 259l6 2M517 202l6 1M716 257l4 0M521 222l4 0M671 231l3 1M732 238l7 4M524 214l8 0M584 208l3 -0M614 249l8 0M649 231l5 -1M441 198l5 -0M659 256l5 1M491 202l5 1M588 215l3 -0M637 231l5 0M459 193l6 1M438 208l4 0M621 226l7 2M729 233l6 0M445 201l7 1M612 230l7 1M752 249l7 2M594 212l6 2M433 205l3 0M641 222l6 1M461 194l7 0M530 198l6 4M655 230l6 1M587 221l6 1M442 185l5 1M452 196l4 1M704 240l4 2M789 266l3 1M683 243l7 2M521 205l6 1M627 219l6 2M746 262l6 1M475 207l6 1M729 242l4 0M759 310l7 1M491 268l5 -0M476 270l7 1M462 256l4 0M693 276l3 0M728 287l5 0M646 276l4 1M707 282l5 2M770 297l7 1M505 270l7 1M684 281l5 -0M537 262l6 1M763 283l4 -1M619 266l4 1M616 276l7 1M546 265l3 1M495 273l4 1M500 278l5 1M662 287l6 2M582 269l3 -0M521 270l5 1M704 275l4 0M631 269l8 2M687 288l4 -0M457 256l3 0M463 272l5 1M574 276l6 1M447 263l5 1M746 292l7 1M514 251l5 0M690 284l4 -0M783 291l3 0M592 263l3 -0M739 292l8 2M597 267l3 1M469 260l6 -0M533 266l3 0M525 255l6 0M498 259l7 3M616 283l4 -0M740 292l7 1M748 288l4 -1M573 275l4 -0M536 273l4 1M556 284l3 1M548 277l5 -0M690 290l6 0M599 281l3 1M607 279l3 -0M572 268l7 2M657 281l4 1M570 273l4 1M491 258l6 -2M504 280l6 4M607 266l6 -1M652 273l5 0M583 265l3 -0M724 281l8 -0M596 272l4 1M642 271l6 0M721 71l4 -1M745 48l3 1M676 35l7 -1M481 42l6 1M525 28l7 1M603 37l3 1M645 43l4 1M654 55l5 -0M499 23l6 1M630 44l7 -1M766 55l5 1M782 60l6 1M757 51l7 1M562 48l7 0M685 38l6 -1M684 63l4 0M452 26l5 -1M733 54l4 1M646 36l7 0M521 42l7 1M709 34l4 1M515 38l6 2M694 39l6 0M699 52l5 1M699 54l3 0M459 45l4 1M530 23l7 1M675 49l6 1M552 38l4 -0M474 44l5 0M620 15l5 0M626 45l8 -1M537 22l5 1M601 50l5 2M768 52l7 1M443 22l4 1M527 38l6 2M782 59l7 1M534 39l5 0M440 22l3 0M598 49l8 0M626 45l6 0M716 32l4 -1M517 18l5 -1M519 20l7 1M696 44l6 2M550 35l6 1M774 48l7 0M554 181l7 -0M630 197l7 3M489 160l6 0M508 170l7 0M684 221l6 1M635 201l5 1M492 184l3 0M699 184l6 1M587 185l5 1M738 198l8 1M687 184l4 1M662 210l3 -0M575 194l6 1M531 162l6 0M501 173l4 1M633 178l3 1M551 168l4 1M471 152l5 1M640 189l5 1M583 179l5 1M518 196l5 0M714 207l7 2M708 218l3 0M660 194l4 1M773 196l6 0M734 205l3 0M580 203l5 -0M469 187l7 1M654 194l6 3M761 221l4 0M686 203l3 1M434 168l3 -0M601 189l4 1M517 185l7 1M655 190l5 2M606 199l5 0M690 207l6 1M557 189l7 0M570 177l5 2M756 220l4 2M433 170l6 1M693 191l5 1M765 212l3 -0M719 197l5 -1M534 169l7 0M449 157l6 0M462 173l5 2M489 176l4 0" stroke="#e48e9c" stroke-width="1.4" fill="none" opacity="0.8"/></g><rect x="430" y="303" width="361" height="287" fill="#f4f3fc"/><g clip-path="url(#clipb2)"><rect x="376" y="212" width="469" height="469" fill="#5656b8" filter="url(#b2a)" transform="rotate(-70 610.5 446.5)" opacity="0.9"/><rect x="376" y="212" width="469" height="469" fill="#5656b8" filter="url(#b2b)" transform="rotate(55 610.5 446.5)" opacity="0.9"/><path d="M653 510l5 11M564 354l27 2M724 450l3 -17M708 331l3 5M709 473l18 20M721 443l15 -18M490 440l10 9M445 351l9 -20M532 474l7 6M434 343l3 -8M477 491l14 -26M621 481l20 23M715 544l13 14M503 542l26 25M614 469l6 8M440 565l4 -10M529 488l12 18M698 462l8 1M475 454l10 -16M436 335l7 -34M778 479l4 -9M704 531l3 -6M651 422l4 -9" stroke="#f8f8ff" stroke-width="1.2" fill="none" stroke-linecap="round"/><path d="M729 534l8 -16M534 415l7 -17M721 466l8 10M464 373l18 2M451 470l16 11M460 518l22 41M711 523l6 5M603 487l58 16M773 405l5 -9M546 389l3 -16M489 523l7 7M575 396l10 16M427 428l6 -17M773 474l9 -27M774 542l4 -7M531 587l8 -9M691 396l12 -14M516 326l6 -22M517 448l2 -17M593 401l10 11M737 542l5 6M593 527l10 -13M561 525l10 -30M443 365l1 -17M674 490l8 12M635 487l4 10M492 368l2 -9M427 314l11 13M446 381l6 -17M492 456l5 -15M488 298l33 12M566 378l13 -27" stroke="#f8f8ff" stroke-width="2" fill="none" stroke-linecap="round"/><path d="M594 368l10 12M475 487l10 -13M704 589l10 -21M558 477l8 -16M584 591l4 -15M545 559l16 18M715 405l8 -13M772 514l10 -26M553 483l6 9M738 497l12 7M688 321l4 -20M703 348l3 14M596 356l5 -16M642 401l15 6M779 465l5 -14M780 579l7 20M601 581l12 -17M632 503l7 -11M523 465l3 -8M620 410l12 6M480 386l10 -20M493 413l8 -13M730 428l2 6M707 325l18 7M654 441l4 -23M690 576l3 -21M777 502l4 -16M523 544l7 -17M510 434l6 -16M702 440l8 -24" stroke="#f8f8ff" stroke-width="1.6" fill="none" stroke-linecap="round"/><path d="M621 503l7 -10M511 570l23 5M655 538l5 -17M534 431l5 3M492 404l19 6M535 548l26 13M601 374l12 23M628 505l4 -11M708 423l5 6M657 452l15 -27M523 333l7 -12M650 542l4 -4M695 564l5 -18M661 320l10 15M693 325l16 3M556 376l3 -11M425 437l11 2M593 346l8 23M767 515l5 -12M627 338l6 9M539 349l7 -18M708 550l19 13M587 532l5 12M684 317l16 28M595 430l2 -5" stroke="#f8f8ff" stroke-width="2.6" fill="none" stroke-linecap="round"/><ellipse cx="728" cy="345" rx="50" ry="38" fill="url(#b2lg)"/></g><rect x="430" y="593" width="361" height="291" fill="#f4f3fc"/><g clip-path="url(#clipc2)"><rect x="375" y="503" width="472" height="472" fill="#5656b8" filter="url(#c2a)" transform="rotate(27 610.5 738.5)" opacity="0.9"/><rect x="375" y="503" width="472" height="472" fill="#5656b8" filter="url(#c2b)" transform="rotate(-37 610.5 738.5)" opacity="0.9"/><path d="M712 830l8 4M654 662l10 5M565 657l3 2M424 815l21 9M649 723l20 12M557 634l7 3M654 795l7 4M579 857l12 8M512 813l8 -6M702 873l8 -7M695 742l3 -2M467 798l9 4M772 795l7 4M783 721l10 -8M708 821l7 3M483 706l4 3M698 857l7 4M707 733l7 5M509 628l6 4M464 720l7 5M624 668l10 5M623 674l17 -14M636 694l5 2M651 631l7 -5M500 719l8 4M711 810l5 2M481 670l16 7M446 784l9 4M519 590l13 6M688 851l8 4M617 700l16 8M459 597l13 6M692 710l7 3M602 778l3 2M639 625l5 2M573 694l15 6M500 876l5 3M670 785l8 4M461 738l13 7M619 816l13 -8M739 857l5 -4M557 689l27 12M524 819l7 3M714 860l5 -5M465 828l12 5M501 793l7 -5M490 603l14 7M762 775l6 3M629 669l10 6M456 697l7 -4M523 754l15 7M655 678l10 5M779 820l10 -7" stroke="#f4f3fc" stroke-width="3.5" fill="none" stroke-linecap="round"/><path d="M638 877l8 -6M733 690l3 2M645 698l17 8M718 617l5 3M432 626l11 5M546 745l6 -4M521 728l11 6M641 768l18 -18M735 609l6 4M716 823l9 5M713 635l6 -4M586 677l11 -6M530 865l6 3M453 743l8 4M627 600l12 -10M558 794l4 2M780 703l6 3M720 732l6 -4M739 839l10 5M639 789l6 3M649 728l5 -4M780 840l15 8M607 668l7 -4M538 637l4 2M502 801l13 9M649 830l27 13M677 831l14 9M751 627l9 -6M617 662l10 -9M441 686l3 -3M559 705l14 -13M658 644l6 3M748 639l5 2M613 880l14 8M519 860l3 2M556 866l10 4M442 750l4 2M563 633l5 3M505 653l8 4M499 660l4 2M777 750l5 3M617 693l8 4M652 652l8 4M613 662l12 7M697 712l14 5M736 856l10 -9M783 875l8 4M663 790l10 -7M706 816l6 3M653 690l14 -10M443 803l4 2M508 622l5 2M732 871l7 -4M724 780l6 -4M720 684l7 4M482 663l3 2" stroke="#f4f3fc" stroke-width="2.5" fill="none" stroke-linecap="round"/><path d="M716 804l7 3M631 798l4 -3M680 815l6 -4M634 659l16 -15M614 782l3 -2M745 745l6 3M442 724l15 -15M715 742l5 2M498 790l4 2M560 766l12 5M764 676l9 4M666 799l9 4M656 672l4 -4M672 708l4 2M628 855l11 6M617 598l5 -5M683 786l12 -10M485 773l8 4M510 713l3 -3M593 809l14 -10M697 884l3 -3M638 779l6 3M477 593l8 5M668 769l12 7M761 664l9 6M720 762l4 -3M650 820l10 -6M567 675l7 -5M463 773l12 -8M706 819l13 -7M505 693l5 -4M652 856l7 5M599 774l8 6M566 773l5 3M562 816l3 -2M533 792l6 2M521 656l3 -2M598 758l7 4M630 780l7 3M453 717l7 4M660 755l6 4M688 840l7 -5M774 863l4 -3M630 880l10 -7M735 717l3 -3M557 696l7 3M642 779l13 7M654 594l7 3M696 608l5 1M631 657l6 3M557 750l22 11M546 774l8 -6M577 754l6 3M433 603l7 4M663 710l4 -3M660 819l4 -3M425 823l13 8M712 722l22 9M431 851l8 -6M523 676l15 7M567 739l12 -10" stroke="#f4f3fc" stroke-width="2" fill="none" stroke-linecap="round"/></g><text x="73" y="31.7" font-family="'Liberation Sans', Arial, sans-serif" font-size="19" fill="#000" stroke="#fff" stroke-width="3.5" stroke-linejoin="round" paint-order="stroke">(a1)</text><text x="440" y="31.7" font-family="'Liberation Sans', Arial, sans-serif" font-size="19" fill="#000" stroke="#fff" stroke-width="3.5" stroke-linejoin="round" paint-order="stroke">(a2)</text><line x1="320.5" y1="287.7" x2="413.5" y2="287.7" stroke="#fff" stroke-width="5" stroke-linecap="round"/><line x1="320.5" y1="287.7" x2="413.5" y2="287.7" stroke="#000" stroke-width="2.2"/><text x="342.5" y="276.5" font-family="'Liberation Sans', Arial, sans-serif" font-size="18" fill="#000" stroke="#fff" stroke-width="3.5" stroke-linejoin="round" paint-order="stroke">50 μm</text><text x="73" y="327.7" font-family="'Liberation Sans', Arial, sans-serif" font-size="19" fill="#000" stroke="#fff" stroke-width="3.5" stroke-linejoin="round" paint-order="stroke">(b1)</text><text x="440" y="327.7" font-family="'Liberation Sans', Arial, sans-serif" font-size="19" fill="#000" stroke="#fff" stroke-width="3.5" stroke-linejoin="round" paint-order="stroke">(b2)</text><line x1="320.5" y1="578.7" x2="413.5" y2="578.7" stroke="#fff" stroke-width="5" stroke-linecap="round"/><line x1="320.5" y1="578.7" x2="413.5" y2="578.7" stroke="#000" stroke-width="2.2"/><text x="342.5" y="567.5" font-family="'Liberation Sans', Arial, sans-serif" font-size="18" fill="#000" stroke="#fff" stroke-width="3.5" stroke-linejoin="round" paint-order="stroke">50 μm</text><text x="73" y="617.7" font-family="'Liberation Sans', Arial, sans-serif" font-size="19" fill="#000" stroke="#fff" stroke-width="3.5" stroke-linejoin="round" paint-order="stroke">(c1)</text><text x="440" y="617.7" font-family="'Liberation Sans', Arial, sans-serif" font-size="19" fill="#000" stroke="#fff" stroke-width="3.5" stroke-linejoin="round" paint-order="stroke">(c2)</text><line x1="320.5" y1="872.7" x2="413.5" y2="872.7" stroke="#fff" stroke-width="5" stroke-linecap="round"/><line x1="320.5" y1="872.7" x2="413.5" y2="872.7" stroke="#000" stroke-width="2.2"/><text x="342.5" y="861.5" font-family="'Liberation Sans', Arial, sans-serif" font-size="18" fill="#000" stroke="#fff" stroke-width="3.5" stroke-linejoin="round" paint-order="stroke">50 μm</text><g clip-path="url(#clipa3L)"><ellipse cx="848" cy="84" rx="49.5" ry="47.7" fill="#3352bf"/><g filter="url(#bla3L)"><ellipse cx="849" cy="84" rx="52" ry="52" fill="#4cb848" transform="rotate(0 849 84)"/><polygon points="830.9,39.8 865.7,39.8 864.6,56.1 881.0,74.6 896.2,81.1 897.3,89.3 879.9,91.5 864.6,95.3 853.8,105.1 844.0,112.7 827.6,110.0 817.3,99.6 811.3,81.1 820.0,65.9 830.9,53.9" fill="#3352bf"/><polygon points="808.1,114.9 822.2,123.6 840.7,131.2 855.9,131.2 871.2,127.9 884.2,120.3 892.9,127.9 805.9,133.4" fill="#3352bf"/><ellipse cx="850.5" cy="92" rx="5" ry="6" fill="#4cb848" transform="rotate(0 850.5 92)"/><ellipse cx="857" cy="100" rx="6" ry="5" fill="#4cb848" transform="rotate(0 857 100)"/></g><g filter="url(#bha3L)"><ellipse cx="884" cy="62" rx="7" ry="9" fill="#98d040" transform="rotate(30 884 62)"/><ellipse cx="887" cy="67" rx="4" ry="6.5" fill="#e6e034" transform="rotate(20 887 67)"/><ellipse cx="887" cy="67" rx="2.6" ry="4.2" fill="#f08a22" transform="rotate(20 887 67)"/><ellipse cx="887.3" cy="67.5" rx="1.5" ry="2.6" fill="#e42a26" transform="rotate(20 887.3 67.5)"/><ellipse cx="826" cy="112" rx="11" ry="7" fill="#98d040" transform="rotate(30 826 112)"/><ellipse cx="824.5" cy="113.5" rx="7.5" ry="4.6" fill="#e6e034" transform="rotate(30 824.5 113.5)"/><ellipse cx="824.3" cy="113.7" rx="5.6" ry="3.5" fill="#f08a22" transform="rotate(30 824.3 113.7)"/><ellipse cx="824.2" cy="113.8" rx="4.2" ry="2.5" fill="#e42a26" transform="rotate(30 824.2 113.8)"/><ellipse cx="860" cy="121" rx="8" ry="4" fill="#98d040" transform="rotate(0 860 121)"/><ellipse cx="812" cy="56" rx="8" ry="5" fill="#98d040" transform="rotate(-40 812 56)"/><ellipse cx="878" cy="50" rx="8" ry="5" fill="#98d040" transform="rotate(40 878 50)"/><ellipse cx="806" cy="75" rx="3" ry="8" fill="#98d040" transform="rotate(0 806 75)"/></g><path d="M848 36.3A225.5 217.3 0 0 1 848 131.7M848 36.3A225.5 217.3 0 0 0 848 131.7M848 36.3A116.9 112.6 0 0 1 848 131.7M848 36.3A116.9 112.6 0 0 0 848 131.7M848 36.3A82.5 79.5 0 0 1 848 131.7M848 36.3A82.5 79.5 0 0 0 848 131.7M848 36.3A66.7 64.3 0 0 1 848 131.7M848 36.3A66.7 64.3 0 0 0 848 131.7M848 36.3A58.3 56.2 0 0 1 848 131.7M848 36.3A58.3 56.2 0 0 0 848 131.7M848 36.3A53.6 51.7 0 0 1 848 131.7M848 36.3A53.6 51.7 0 0 0 848 131.7M848 36.3A51.1 49.2 0 0 1 848 131.7M848 36.3A51.1 49.2 0 0 0 848 131.7M848 36.3A49.8 48 0 0 1 848 131.7M848 36.3A49.8 48 0 0 0 848 131.7M798.8 89.3H897.2M798.8 78.7H897.2M799.7 94.6H896.3M799.7 73.4H896.3M801.3 99.9H894.7M801.3 68.1H894.7M803.7 105.2H892.3M803.7 62.8H892.3M806.8 110.5H889.2M806.8 57.5H889.2M811.1 115.8H884.9M811.1 52.2H884.9M816.9 121.1H879.1M816.9 46.9H879.1M825.3 126.4H870.7M825.3 41.6H870.7" fill="none" stroke="#c8d4ff" stroke-opacity="0.45" stroke-width="0.8"/><path d="M798.5 84H897.5M848 36.3V131.7" stroke="#1a2a40" stroke-opacity="0.7" stroke-width="1"/></g><ellipse cx="848" cy="84" rx="49.5" ry="47.7" fill="none" stroke="#555" stroke-width="0.7"/><g clip-path="url(#clipa3R)"><ellipse cx="962.8" cy="84" rx="49.3" ry="47.7" fill="#3352bf"/><g filter="url(#bla3R)"><ellipse cx="962.6" cy="84" rx="52" ry="52" fill="#4cb848" transform="rotate(0 962.6 84)"/><polygon points="945.7,34.6 977.6,34.6 974.8,45.7 948.5,45.7" fill="#3352bf"/><polygon points="956.8,59.6 976.2,59.6 977.6,77.6 958.2,78.9" fill="#3352bf"/><polygon points="926.3,58.2 941.6,58.2 942.9,77.6 927.7,77.6" fill="#3352bf"/><polygon points="988.6,41.6 1005.3,41.6 1013.6,83.1 1009.4,124.7 988.6,121.9 990.0,83.1" fill="#3352bf"/><polygon points="912.5,88.6 941.6,91.4 941.6,124.7 912.5,121.9" fill="#3352bf"/><polygon points="940.2,94.2 991.4,94.2 991.4,109.4 940.2,109.4" fill="#3352bf"/><polygon points="945.7,121.9 978.9,121.9 978.9,133.0 945.7,133.0" fill="#3352bf"/></g><g filter="url(#bha3R)"><ellipse cx="957" cy="87" rx="6" ry="4" fill="#98d040" transform="rotate(0 957 87)"/><ellipse cx="938" cy="52" rx="9" ry="5" fill="#98d040" transform="rotate(0 938 52)"/><ellipse cx="970" cy="118" rx="9" ry="4" fill="#98d040" transform="rotate(0 970 118)"/><ellipse cx="975" cy="50" rx="6" ry="4" fill="#98d040" transform="rotate(0 975 50)"/></g><path d="M962.8 36.3A224.6 217.3 0 0 1 962.8 131.7M962.8 36.3A224.6 217.3 0 0 0 962.8 131.7M962.8 36.3A116.4 112.6 0 0 1 962.8 131.7M962.8 36.3A116.4 112.6 0 0 0 962.8 131.7M962.8 36.3A82.2 79.5 0 0 1 962.8 131.7M962.8 36.3A82.2 79.5 0 0 0 962.8 131.7M962.8 36.3A66.4 64.3 0 0 1 962.8 131.7M962.8 36.3A66.4 64.3 0 0 0 962.8 131.7M962.8 36.3A58.1 56.2 0 0 1 962.8 131.7M962.8 36.3A58.1 56.2 0 0 0 962.8 131.7M962.8 36.3A53.4 51.7 0 0 1 962.8 131.7M962.8 36.3A53.4 51.7 0 0 0 962.8 131.7M962.8 36.3A50.9 49.2 0 0 1 962.8 131.7M962.8 36.3A50.9 49.2 0 0 0 962.8 131.7M962.8 36.3A49.6 48 0 0 1 962.8 131.7M962.8 36.3A49.6 48 0 0 0 962.8 131.7M913.8 89.3H1011.8M913.8 78.7H1011.8M914.7 94.6H1010.9M914.7 73.4H1010.9M916.3 99.9H1009.3M916.3 68.1H1009.3M918.6 105.2H1007M918.6 62.8H1007M921.8 110.5H1003.8M921.8 57.5H1003.8M926.1 115.8H999.5M926.1 52.2H999.5M931.8 121.1H993.8M931.8 46.9H993.8M940.2 126.4H985.4M940.2 41.6H985.4" fill="none" stroke="#c8d4ff" stroke-opacity="0.45" stroke-width="0.8"/><path d="M913.5 84H1012.0999999999999M962.8 36.3V131.7" stroke="#1a2a40" stroke-opacity="0.7" stroke-width="1"/></g><ellipse cx="962.8" cy="84" rx="49.3" ry="47.7" fill="none" stroke="#555" stroke-width="0.7"/><rect x="1034" y="26.5" width="8" height="95.8" fill="url(#cba3)"/><text x="797.5" y="16.8" font-family="'Liberation Sans', Arial, sans-serif" font-size="13.5">(a3)</text><text x="825" y="20.6" font-family="'Liberation Sans', Arial, sans-serif" font-size="13.5">{0001}-Ti-Hex</text><text x="927.7" y="20.6" font-family="'Liberation Sans', Arial, sans-serif" font-size="13.5">{1010}-Ti-Hex</text><path d="M948.1 9.8h5.7" stroke="#000" stroke-width="0.9"/><text x="846.6" y="33.9" font-family="'Liberation Sans', Arial, sans-serif" font-size="13" text-anchor="middle">Y1</text><text x="963" y="33.9" font-family="'Liberation Sans', Arial, sans-serif" font-size="13" text-anchor="middle">Y1</text><text x="898.3" y="88.5" font-family="'Liberation Sans', Arial, sans-serif" font-size="13">X1</text><text x="1014.5" y="88.5" font-family="'Liberation Sans', Arial, sans-serif" font-size="13">X1</text><text x="1034.5" y="24" font-family="'Liberation Sans', Arial, sans-serif" font-size="13" text-anchor="middle">4.52</text><text x="1034.5" y="133.6" font-family="'Liberation Sans', Arial, sans-serif" font-size="13" text-anchor="middle">0.14</text><g clip-path="url(#clipb3L)"><ellipse cx="849" cy="376.4" rx="49.4" ry="46.8" fill="#3352bf"/><g filter="url(#blb3L)"><ellipse cx="837.3" cy="348.9" rx="5" ry="5" fill="#4cb848" transform="rotate(0 837.3 348.9)"/><ellipse cx="867" cy="334.6" rx="8" ry="5" fill="#4cb848" transform="rotate(20 867 334.6)"/><ellipse cx="852.7" cy="331" rx="3" ry="3" fill="#4cb848" transform="rotate(0 852.7 331)"/><ellipse cx="890.1" cy="370.9" rx="6" ry="6" fill="#4cb848" transform="rotate(0 890.1 370.9)"/><ellipse cx="821.9" cy="383" rx="6" ry="6" fill="#4cb848" transform="rotate(0 821.9 383)"/><ellipse cx="856" cy="378.6" rx="6" ry="6" fill="#4cb848" transform="rotate(0 856 378.6)"/><ellipse cx="871.4" cy="408.3" rx="7" ry="7" fill="#4cb848" transform="rotate(0 871.4 408.3)"/><ellipse cx="828.5" cy="418" rx="6" ry="6" fill="#4cb848" transform="rotate(0 828.5 418)"/><ellipse cx="881.3" cy="398.4" rx="3.5" ry="3.5" fill="#4cb848" transform="rotate(0 881.3 398.4)"/><ellipse cx="853.8" cy="365.4" rx="2.5" ry="2.5" fill="#4cb848" transform="rotate(0 853.8 365.4)"/><ellipse cx="865.9" cy="367.6" rx="2.5" ry="2.5" fill="#4cb848" transform="rotate(0 865.9 367.6)"/><ellipse cx="817.5" cy="369.8" rx="2.5" ry="2.5" fill="#4cb848" transform="rotate(0 817.5 369.8)"/></g><g filter="url(#bhb3L)"><ellipse cx="837.3" cy="348.9" rx="3.1" ry="3.1" fill="#98d040" transform="rotate(0 837.3 348.9)"/><ellipse cx="867" cy="334.6" rx="5" ry="3.1" fill="#98d040" transform="rotate(20 867 334.6)"/><ellipse cx="890.1" cy="370.9" rx="3.7" ry="3.7" fill="#98d040" transform="rotate(0 890.1 370.9)"/><ellipse cx="890.1" cy="370.9" rx="2.7" ry="2.7" fill="#e6e034" transform="rotate(0 890.1 370.9)"/><ellipse cx="890.1" cy="370.9" rx="1.9" ry="1.9" fill="#f08a22" transform="rotate(0 890.1 370.9)"/><ellipse cx="890.1" cy="370.9" rx="1.2" ry="1.2" fill="#e42a26" transform="rotate(0 890.1 370.9)"/><ellipse cx="821.9" cy="383" rx="3.7" ry="3.7" fill="#98d040" transform="rotate(0 821.9 383)"/><ellipse cx="821.9" cy="383" rx="2.7" ry="2.7" fill="#e6e034" transform="rotate(0 821.9 383)"/><ellipse cx="821.9" cy="383" rx="1.9" ry="1.9" fill="#f08a22" transform="rotate(0 821.9 383)"/><ellipse cx="821.9" cy="383" rx="1.2" ry="1.2" fill="#e42a26" transform="rotate(0 821.9 383)"/><ellipse cx="856" cy="378.6" rx="3.7" ry="3.7" fill="#98d040" transform="rotate(0 856 378.6)"/><ellipse cx="856" cy="378.6" rx="2.7" ry="2.7" fill="#e6e034" transform="rotate(0 856 378.6)"/><ellipse cx="871.4" cy="408.3" rx="4.3" ry="4.3" fill="#98d040" transform="rotate(0 871.4 408.3)"/><ellipse cx="871.4" cy="408.3" rx="3.1" ry="3.1" fill="#e6e034" transform="rotate(0 871.4 408.3)"/><ellipse cx="828.5" cy="418" rx="3.7" ry="3.7" fill="#98d040" transform="rotate(0 828.5 418)"/><ellipse cx="828.5" cy="418" rx="2.7" ry="2.7" fill="#e6e034" transform="rotate(0 828.5 418)"/><ellipse cx="828.5" cy="418" rx="1.9" ry="1.9" fill="#f08a22" transform="rotate(0 828.5 418)"/><ellipse cx="828.5" cy="418" rx="1.2" ry="1.2" fill="#e42a26" transform="rotate(0 828.5 418)"/><ellipse cx="881.3" cy="398.4" rx="2.2" ry="2.2" fill="#98d040" transform="rotate(0 881.3 398.4)"/></g><path d="M849 329.6A200.7 190.1 0 0 1 849 423.2M849 329.6A200.7 190.1 0 0 0 849 423.2M849 329.6A105 99.4 0 0 1 849 423.2M849 329.6A105 99.4 0 0 0 849 423.2M849 329.6A75.1 71.2 0 0 1 849 423.2M849 329.6A75.1 71.2 0 0 0 849 423.2M849 329.6A61.8 58.5 0 0 1 849 423.2M849 329.6A61.8 58.5 0 0 0 849 423.2M849 329.6A55 52.1 0 0 1 849 423.2M849 329.6A55 52.1 0 0 0 849 423.2M849 329.6A51.5 48.8 0 0 1 849 423.2M849 329.6A51.5 48.8 0 0 0 849 423.2M849 329.6A49.8 47.2 0 0 1 849 423.2M849 329.6A49.8 47.2 0 0 0 849 423.2M800 382.2H898M800 370.5H898M801.2 388.1H896.8M801.2 364.7H896.8M803.2 393.9H894.8M803.2 358.8H894.8M806.2 399.8H891.8M806.2 353H891.8M810.4 405.6H887.6M810.4 347.1H887.6M816.3 411.5H881.7M816.3 341.3H881.7M825.1 417.3H872.9M825.1 335.4H872.9" fill="none" stroke="#c8d4ff" stroke-opacity="0.45" stroke-width="0.8"/><path d="M799.6 376.4H898.4M849 329.59999999999997V423.2" stroke="#1a2a40" stroke-opacity="0.7" stroke-width="1"/></g><ellipse cx="849" cy="376.4" rx="49.4" ry="46.8" fill="none" stroke="#555" stroke-width="0.7"/><g clip-path="url(#clipb3R)"><ellipse cx="964.7" cy="376.3" rx="48.7" ry="46.7" fill="#3352bf"/><g filter="url(#blb3R)"><ellipse cx="952.9" cy="347.8" rx="4" ry="3.2" fill="#4cb848" transform="rotate(0 952.9 347.8)" opacity="0.75"/><ellipse cx="972.7" cy="342.3" rx="3.5" ry="2.8" fill="#4cb848" transform="rotate(0 972.7 342.3)" opacity="0.75"/><ellipse cx="996.9" cy="351.1" rx="3.5" ry="2.8" fill="#4cb848" transform="rotate(0 996.9 351.1)" opacity="0.75"/><ellipse cx="940.7" cy="364.3" rx="4" ry="3.2" fill="#4cb848" transform="rotate(0 940.7 364.3)" opacity="0.75"/><ellipse cx="963.9" cy="363.2" rx="3" ry="2.4" fill="#4cb848" transform="rotate(0 963.9 363.2)" opacity="0.75"/><ellipse cx="989.2" cy="373.1" rx="4" ry="3.2" fill="#4cb848" transform="rotate(0 989.2 373.1)" opacity="0.75"/><ellipse cx="971.6" cy="378.6" rx="4.5" ry="3.6" fill="#4cb848" transform="rotate(0 971.6 378.6)" opacity="0.75"/><ellipse cx="954" cy="379.7" rx="3.5" ry="2.8" fill="#4cb848" transform="rotate(0 954 379.7)" opacity="0.75"/><ellipse cx="935.2" cy="384.1" rx="3.5" ry="2.8" fill="#4cb848" transform="rotate(0 935.2 384.1)" opacity="0.75"/><ellipse cx="1001.3" cy="391.8" rx="4" ry="3.2" fill="#4cb848" transform="rotate(0 1001.3 391.8)" opacity="0.75"/><ellipse cx="984.8" cy="409.4" rx="4" ry="3.2" fill="#4cb848" transform="rotate(0 984.8 409.4)" opacity="0.75"/><ellipse cx="963.9" cy="412.7" rx="3" ry="2.4" fill="#4cb848" transform="rotate(0 963.9 412.7)" opacity="0.75"/></g><g filter="url(#bhb3R)"></g><path d="M964.7 329.6A197.8 189.7 0 0 1 964.7 423M964.7 329.6A197.8 189.7 0 0 0 964.7 423M964.7 329.6A103.5 99.2 0 0 1 964.7 423M964.7 329.6A103.5 99.2 0 0 0 964.7 423M964.7 329.6A74.1 71 0 0 1 964.7 423M964.7 329.6A74.1 71 0 0 0 964.7 423M964.7 329.6A60.9 58.4 0 0 1 964.7 423M964.7 329.6A60.9 58.4 0 0 0 964.7 423M964.7 329.6A54.2 52 0 0 1 964.7 423M964.7 329.6A54.2 52 0 0 0 964.7 423M964.7 329.6A50.7 48.6 0 0 1 964.7 423M964.7 329.6A50.7 48.6 0 0 0 964.7 423M964.7 329.6A49.1 47.1 0 0 1 964.7 423M964.7 329.6A49.1 47.1 0 0 0 964.7 423M916.4 382.1H1013M916.4 370.5H1013M917.5 388H1011.9M917.5 364.6H1011.9M919.6 393.8H1009.8M919.6 358.8H1009.8M922.5 399.7H1006.9M922.5 352.9H1006.9M926.7 405.5H1002.7M926.7 347.1H1002.7M932.5 411.3H996.9M932.5 341.3H996.9M941.1 417.2H988.3M941.1 335.4H988.3" fill="none" stroke="#c8d4ff" stroke-opacity="0.45" stroke-width="0.8"/><path d="M916.0 376.3H1013.4000000000001M964.7 329.6V423.0" stroke="#1a2a40" stroke-opacity="0.7" stroke-width="1"/></g><ellipse cx="964.7" cy="376.3" rx="48.7" ry="46.7" fill="none" stroke="#555" stroke-width="0.7"/><rect x="1032" y="319" width="8" height="93" fill="url(#cbb3)"/><text x="796.6" y="312.6" font-family="'Liberation Sans', Arial, sans-serif" font-size="13">(b3)</text><text x="825" y="316" font-family="'Liberation Sans', Arial, sans-serif" font-size="13.5">{0001}-Ti-HeX</text><text x="928.6" y="316" font-family="'Liberation Sans', Arial, sans-serif" font-size="13.5">{1010}-Ti-HeX</text><path d="M949.0 305.2h5.7" stroke="#000" stroke-width="0.9"/><text x="849.4" y="328" font-family="'Liberation Sans', Arial, sans-serif" font-size="13" text-anchor="middle">Y1</text><text x="965.5" y="328" font-family="'Liberation Sans', Arial, sans-serif" font-size="13" text-anchor="middle">Y1</text><text x="899.5" y="381" font-family="'Liberation Sans', Arial, sans-serif" font-size="13">X1</text><text x="1016.5" y="381" font-family="'Liberation Sans', Arial, sans-serif" font-size="13">X1</text><text x="1032.2" y="316.3" font-family="'Liberation Sans', Arial, sans-serif" font-size="13" text-anchor="middle">19.79</text><text x="1033" y="423.7" font-family="'Liberation Sans', Arial, sans-serif" font-size="13" text-anchor="middle">0.00</text><g clip-path="url(#clipc3L)"><ellipse cx="857.6" cy="664.7" rx="43.9" ry="44.3" fill="#3352bf"/><g filter="url(#blc3L)"><ellipse cx="860" cy="637.8" rx="4.8" ry="4.8" fill="#4cb848" transform="rotate(0 860 637.8)"/><ellipse cx="836.9" cy="662.5" rx="4.8" ry="4.8" fill="#4cb848" transform="rotate(0 836.9 662.5)"/><ellipse cx="884.2" cy="661.4" rx="4.8" ry="4.8" fill="#4cb848" transform="rotate(0 884.2 661.4)"/><ellipse cx="860.9" cy="685.1" rx="4.8" ry="4.8" fill="#4cb848" transform="rotate(0 860.9 685.1)"/><ellipse cx="829.6" cy="693.9" rx="4.8" ry="4.8" fill="#4cb848" transform="rotate(0 829.6 693.9)"/><ellipse cx="825" cy="634.5" rx="5" ry="5" fill="#4cb848" transform="rotate(0 825 634.5)"/><ellipse cx="889.5" cy="694.5" rx="5" ry="5" fill="#4cb848" transform="rotate(0 889.5 694.5)"/></g><g filter="url(#bhc3L)"><ellipse cx="860" cy="637.8" rx="3" ry="3" fill="#98d040" transform="rotate(0 860 637.8)"/><ellipse cx="860" cy="637.8" rx="2.2" ry="2.2" fill="#e6e034" transform="rotate(0 860 637.8)"/><ellipse cx="860" cy="637.8" rx="1.5" ry="1.5" fill="#f08a22" transform="rotate(0 860 637.8)"/><ellipse cx="836.9" cy="662.5" rx="3" ry="3" fill="#98d040" transform="rotate(0 836.9 662.5)"/><ellipse cx="836.9" cy="662.5" rx="2.2" ry="2.2" fill="#e6e034" transform="rotate(0 836.9 662.5)"/><ellipse cx="836.9" cy="662.5" rx="1.5" ry="1.5" fill="#f08a22" transform="rotate(0 836.9 662.5)"/><ellipse cx="836.9" cy="662.5" rx="1" ry="1" fill="#e42a26" transform="rotate(0 836.9 662.5)"/><ellipse cx="884.2" cy="661.4" rx="3" ry="3" fill="#98d040" transform="rotate(0 884.2 661.4)"/><ellipse cx="884.2" cy="661.4" rx="2.2" ry="2.2" fill="#e6e034" transform="rotate(0 884.2 661.4)"/><ellipse cx="884.2" cy="661.4" rx="1.5" ry="1.5" fill="#f08a22" transform="rotate(0 884.2 661.4)"/><ellipse cx="884.2" cy="661.4" rx="1" ry="1" fill="#e42a26" transform="rotate(0 884.2 661.4)"/><ellipse cx="860.9" cy="685.1" rx="3" ry="3" fill="#98d040" transform="rotate(0 860.9 685.1)"/><ellipse cx="860.9" cy="685.1" rx="2.2" ry="2.2" fill="#e6e034" transform="rotate(0 860.9 685.1)"/><ellipse cx="860.9" cy="685.1" rx="1.5" ry="1.5" fill="#f08a22" transform="rotate(0 860.9 685.1)"/><ellipse cx="860.9" cy="685.1" rx="1" ry="1" fill="#e42a26" transform="rotate(0 860.9 685.1)"/><ellipse cx="829.6" cy="693.9" rx="3" ry="3" fill="#98d040" transform="rotate(0 829.6 693.9)"/><ellipse cx="829.6" cy="693.9" rx="2.2" ry="2.2" fill="#e6e034" transform="rotate(0 829.6 693.9)"/><ellipse cx="829.6" cy="693.9" rx="1.5" ry="1.5" fill="#f08a22" transform="rotate(0 829.6 693.9)"/><ellipse cx="825" cy="634.5" rx="3.1" ry="3.1" fill="#98d040" transform="rotate(0 825 634.5)"/><ellipse cx="889.5" cy="694.5" rx="3.1" ry="3.1" fill="#98d040" transform="rotate(0 889.5 694.5)"/></g><path d="M857.6 620.4A178.3 180 0 0 1 857.6 709M857.6 620.4A178.3 180 0 0 0 857.6 709M857.6 620.4A93.3 94.1 0 0 1 857.6 709M857.6 620.4A93.3 94.1 0 0 0 857.6 709M857.6 620.4A66.8 67.4 0 0 1 857.6 709M857.6 620.4A66.8 67.4 0 0 0 857.6 709M857.6 620.4A54.9 55.4 0 0 1 857.6 709M857.6 620.4A54.9 55.4 0 0 0 857.6 709M857.6 620.4A48.8 49.3 0 0 1 857.6 709M857.6 620.4A48.8 49.3 0 0 0 857.6 709M857.6 620.4A45.7 46.1 0 0 1 857.6 709M857.6 620.4A45.7 46.1 0 0 0 857.6 709M857.6 620.4A44.3 44.7 0 0 1 857.6 709M857.6 620.4A44.3 44.7 0 0 0 857.6 709M814 670.2H901.2M814 659.2H901.2M815.1 675.8H900.1M815.1 653.6H900.1M816.9 681.3H898.3M816.9 648.1H898.3M819.6 686.9H895.6M819.6 642.6H895.6M823.3 692.4H891.9M823.3 637H891.9M828.6 697.9H886.6M828.6 631.5H886.6M836.3 703.5H878.9M836.3 625.9H878.9" fill="none" stroke="#c8d4ff" stroke-opacity="0.45" stroke-width="0.8"/><path d="M813.7 664.7H901.5M857.6 620.4000000000001V709.0" stroke="#1a2a40" stroke-opacity="0.7" stroke-width="1"/></g><ellipse cx="857.6" cy="664.7" rx="43.9" ry="44.3" fill="none" stroke="#555" stroke-width="0.7"/><g clip-path="url(#clipc3R)"><ellipse cx="960" cy="664.7" rx="44" ry="44.3" fill="#3352bf"/><g filter="url(#blc3R)"><ellipse cx="947.3" cy="629" rx="3.5" ry="2.5" fill="#4cb848" transform="rotate(0 947.3 629)" opacity="0.6"/><ellipse cx="974.9" cy="629" rx="3.5" ry="2.5" fill="#4cb848" transform="rotate(0 974.9 629)" opacity="0.6"/><ellipse cx="961.7" cy="636.7" rx="3.5" ry="2.5" fill="#4cb848" transform="rotate(0 961.7 636.7)" opacity="0.6"/><ellipse cx="928.6" cy="651" rx="3.5" ry="2.5" fill="#4cb848" transform="rotate(0 928.6 651)" opacity="0.6"/><ellipse cx="951.8" cy="648.8" rx="3.5" ry="2.5" fill="#4cb848" transform="rotate(0 951.8 648.8)" opacity="0.6"/><ellipse cx="977" cy="649.9" rx="3.5" ry="2.5" fill="#4cb848" transform="rotate(0 977 649.9)" opacity="0.6"/><ellipse cx="995.8" cy="647.7" rx="3.5" ry="2.5" fill="#4cb848" transform="rotate(0 995.8 647.7)" opacity="0.6"/><ellipse cx="939.6" cy="659.8" rx="3.5" ry="2.5" fill="#4cb848" transform="rotate(0 939.6 659.8)" opacity="0.6"/><ellipse cx="985.9" cy="662" rx="3.5" ry="2.5" fill="#4cb848" transform="rotate(0 985.9 662)" opacity="0.6"/><ellipse cx="933" cy="677.4" rx="3.5" ry="2.5" fill="#4cb848" transform="rotate(0 933 677.4)" opacity="0.6"/><ellipse cx="952.9" cy="673" rx="3.5" ry="2.5" fill="#4cb848" transform="rotate(0 952.9 673)" opacity="0.6"/><ellipse cx="973.8" cy="673" rx="3.5" ry="2.5" fill="#4cb848" transform="rotate(0 973.8 673)" opacity="0.6"/><ellipse cx="995.8" cy="675.2" rx="3.5" ry="2.5" fill="#4cb848" transform="rotate(0 995.8 675.2)" opacity="0.6"/><ellipse cx="944" cy="693.9" rx="3.5" ry="2.5" fill="#4cb848" transform="rotate(0 944 693.9)" opacity="0.6"/><ellipse cx="974.9" cy="695" rx="3.5" ry="2.5" fill="#4cb848" transform="rotate(0 974.9 695)" opacity="0.6"/><ellipse cx="990.3" cy="692.8" rx="3.5" ry="2.5" fill="#4cb848" transform="rotate(0 990.3 692.8)" opacity="0.6"/><ellipse cx="963.9" cy="703.8" rx="3.5" ry="2.5" fill="#4cb848" transform="rotate(0 963.9 703.8)" opacity="0.6"/></g><g filter="url(#bhc3R)"></g><path d="M960 620.4A178.8 180 0 0 1 960 709M960 620.4A178.8 180 0 0 0 960 709M960 620.4A93.5 94.1 0 0 1 960 709M960 620.4A93.5 94.1 0 0 0 960 709M960 620.4A66.9 67.4 0 0 1 960 709M960 620.4A66.9 67.4 0 0 0 960 709M960 620.4A55 55.4 0 0 1 960 709M960 620.4A55 55.4 0 0 0 960 709M960 620.4A49 49.3 0 0 1 960 709M960 620.4A49 49.3 0 0 0 960 709M960 620.4A45.8 46.1 0 0 1 960 709M960 620.4A45.8 46.1 0 0 0 960 709M960 620.4A44.4 44.7 0 0 1 960 709M960 620.4A44.4 44.7 0 0 0 960 709M916.3 670.2H1003.7M916.3 659.2H1003.7M917.4 675.8H1002.6M917.4 653.6H1002.6M919.2 681.3H1000.8M919.2 648.1H1000.8M921.9 686.9H998.1M921.9 642.6H998.1M925.7 692.4H994.3M925.7 637H994.3M930.9 697.9H989.1M930.9 631.5H989.1M938.7 703.5H981.3M938.7 625.9H981.3" fill="none" stroke="#c8d4ff" stroke-opacity="0.45" stroke-width="0.8"/><path d="M916 664.7H1004M960 620.4000000000001V709.0" stroke="#1a2a40" stroke-opacity="0.7" stroke-width="1"/></g><ellipse cx="960" cy="664.7" rx="44" ry="44.3" fill="none" stroke="#555" stroke-width="0.7"/><rect x="1034.3" y="614.7" width="8" height="86.89999999999998" fill="url(#cbc3)"/><text x="798.8" y="604.5" font-family="'Liberation Sans', Arial, sans-serif" font-size="13">(c3)</text><text x="825.2" y="606.5" font-family="'Liberation Sans', Arial, sans-serif" font-size="13.5">{0001}Ti-HeX</text><text x="928.6" y="607" font-family="'Liberation Sans', Arial, sans-serif" font-size="13.5">{1010}-Ti-Hex</text><path d="M949.0 596.2h5.7" stroke="#000" stroke-width="0.9"/><text x="857" y="619" font-family="'Liberation Sans', Arial, sans-serif" font-size="13" text-anchor="middle">Y1</text><text x="960.6" y="619" font-family="'Liberation Sans', Arial, sans-serif" font-size="13" text-anchor="middle">Y1</text><text x="902" y="669.7" font-family="'Liberation Sans', Arial, sans-serif" font-size="13">X1</text><text x="1004.6" y="669.7" font-family="'Liberation Sans', Arial, sans-serif" font-size="13">X1</text><text x="1035.4" y="610.3" font-family="'Liberation Sans', Arial, sans-serif" font-size="13" text-anchor="middle">32.07</text><text x="1037.6" y="713.7" font-family="'Liberation Sans', Arial, sans-serif" font-size="13" text-anchor="middle">0.00</text><rect x="834.7" y="147.3" width="201.3" height="113.7" fill="#fff" stroke="#a0a0a0" stroke-width="1"/><path d="M834.7 180.5H1036M834.7 220.4H1036M855.0 147.3V261M880.7 147.3V261M906.4 147.3V261M932.2 147.3V261M957.9 147.3V261M983.6 147.3V261M1009.3 147.3V261" stroke="#cfcfcf" stroke-width="1" fill="none"/><path d="M836.4 261V147.5H843.9V261ZM843.9 261V176.2H851.6V261ZM851.6 261V204.8H859.3V261ZM859.3 261V220.8H867.0V261ZM867.0 261V236.9H874.7V261ZM874.7 261V241.1H882.0V261ZM882.0 261V245.0H889.7V261ZM889.7 261V253.2H897.2V261ZM897.2 261V249.0H904.9V261ZM904.9 261V257.1H912.4V261ZM912.4 261V253.2H920.3V261ZM920.3 261V257.1H935.7V261ZM943.4 261V257.1H958.4V261ZM1026.6 261V257.1H1034.3V261Z" fill="#4a7fd0"/><path d="M834.7 147.3V261H1036" stroke="#909090" stroke-width="1" fill="none"/><text x="830" y="185.8" font-family="'Liberation Sans', Arial, sans-serif" font-size="13" text-anchor="end">0.2</text><text x="830" y="225.6" font-family="'Liberation Sans', Arial, sans-serif" font-size="13" text-anchor="end">0.1</text><text x="830" y="268.2" font-family="'Liberation Sans', Arial, sans-serif" font-size="13" text-anchor="end">0</text><text x="855.0" y="277.2" font-family="'Liberation Sans', Arial, sans-serif" font-size="13" text-anchor="middle">20</text><text x="880.7" y="277.2" font-family="'Liberation Sans', Arial, sans-serif" font-size="13" text-anchor="middle">40</text><text x="906.4" y="277.2" font-family="'Liberation Sans', Arial, sans-serif" font-size="13" text-anchor="middle">60</text><text x="932.2" y="277.2" font-family="'Liberation Sans', Arial, sans-serif" font-size="13" text-anchor="middle">80</text><text x="957.9" y="277.2" font-family="'Liberation Sans', Arial, sans-serif" font-size="13" text-anchor="middle">100</text><text x="983.6" y="277.2" font-family="'Liberation Sans', Arial, sans-serif" font-size="13" text-anchor="middle">120</text><text x="1009.3" y="277.2" font-family="'Liberation Sans', Arial, sans-serif" font-size="13" text-anchor="middle">140</text><text x="1035.0" y="277.2" font-family="'Liberation Sans', Arial, sans-serif" font-size="13" text-anchor="middle">160</text><text x="849.5" y="163.6" font-family="'Liberation Sans', Arial, sans-serif" font-size="13">(a4)</text><text x="806.5" y="207.8" font-family="'Liberation Sans', Arial, sans-serif" font-size="13" text-anchor="middle" transform="rotate(-90 806.5 207.8)">Area-weighted fraction</text><text x="939" y="291.3" font-family="'Liberation Sans', Arial, sans-serif" font-size="13.5" text-anchor="middle">Perimeter / μm</text><rect x="849.9" y="439.9" width="203.7" height="104.5" fill="#fff" stroke="#a0a0a0" stroke-width="1"/><path d="M849.9 518.3H1053.6M849.9 492.1H1053.6M849.9 466.0H1053.6M884.6 439.9V544.4M928.7 439.9V544.4M972.8 439.9V544.4M1016.9 439.9V544.4" stroke="#cfcfcf" stroke-width="1" fill="none"/><path d="M851.2 544.4V445.1H858.9V544.4ZM858.9 544.4V439.9H866.6V544.4ZM866.6 544.4V481.7H874.3V544.4ZM874.3 544.4V497.4H882.0V544.4ZM882.0 544.4V502.6H889.7V544.4ZM889.7 544.4V518.3H897.8V544.4ZM897.8 544.4V523.5H912.8V544.4ZM912.8 544.4V533.9H943.6V544.4ZM943.6 544.4V539.2H951.3V544.4ZM951.3 544.4V528.7H959.0V544.4ZM959.0 544.4V533.9H974.4V544.4ZM974.4 544.4V539.2H982.1V544.4Z" fill="#4a7fd0"/><path d="M849.9 439.9V544.4H1053.6" stroke="#909090" stroke-width="1" fill="none"/><text x="846.5" y="549.1" font-family="'Liberation Sans', Arial, sans-serif" font-size="13" text-anchor="end">0</text><text x="846.5" y="522.975" font-family="'Liberation Sans', Arial, sans-serif" font-size="13" text-anchor="end">0.05</text><text x="846.5" y="496.84999999999997" font-family="'Liberation Sans', Arial, sans-serif" font-size="13" text-anchor="end">0.1</text><text x="846.5" y="470.72499999999997" font-family="'Liberation Sans', Arial, sans-serif" font-size="13" text-anchor="end">0.15</text><text x="846.5" y="444.59999999999997" font-family="'Liberation Sans', Arial, sans-serif" font-size="13" text-anchor="end">0.2</text><text x="884.6" y="559.4" font-family="'Liberation Sans', Arial, sans-serif" font-size="13" text-anchor="middle">20</text><text x="928.7" y="559.4" font-family="'Liberation Sans', Arial, sans-serif" font-size="13" text-anchor="middle">40</text><text x="972.8" y="559.4" font-family="'Liberation Sans', Arial, sans-serif" font-size="13" text-anchor="middle">60</text><text x="1016.9" y="559.4" font-family="'Liberation Sans', Arial, sans-serif" font-size="13" text-anchor="middle">80</text><text x="873" y="457.8" font-family="'Liberation Sans', Arial, sans-serif" font-size="13">(b4)</text><text x="807.5" y="503" font-family="'Liberation Sans', Arial, sans-serif" font-size="13" text-anchor="middle" transform="rotate(-90 807.5 503)">Area-weighted fraction</text><text x="947" y="575.6" font-family="'Liberation Sans', Arial, sans-serif" font-size="13.5" text-anchor="middle">Perimeter / μm</text><rect x="846.1" y="736" width="212.4" height="111.2" fill="#fff" stroke="#a0a0a0" stroke-width="1"/><path d="M846.1 819.4H1058.5M846.1 791.6H1058.5M846.1 763.8H1058.5M882.4 736V847.2M928.2 736V847.2M974.1 736V847.2M1019.9 736V847.2" stroke="#cfcfcf" stroke-width="1" fill="none"/><path d="M847.7 847.2V741.6H855.6V847.2ZM855.6 847.2V736.0H863.7V847.2ZM863.7 847.2V780.5H871.9V847.2ZM871.9 847.2V797.2H879.8V847.2ZM879.8 847.2V802.7H887.9V847.2ZM887.9 847.2V819.4H896.1V847.2ZM896.1 847.2V825.0H912.1V847.2ZM912.1 847.2V836.1H943.6V847.2ZM943.6 847.2V841.6H952.2V847.2ZM952.2 847.2V830.5H959.9V847.2ZM959.9 847.2V836.1H976.0V847.2ZM976.0 847.2V841.6H984.1V847.2Z" fill="#4a7fd0"/><path d="M846.1 736V847.2H1058.5" stroke="#909090" stroke-width="1" fill="none"/><text x="842.5" y="851.9000000000001" font-family="'Liberation Sans', Arial, sans-serif" font-size="13" text-anchor="end">0</text><text x="842.5" y="824.1000000000001" font-family="'Liberation Sans', Arial, sans-serif" font-size="13" text-anchor="end">0.05</text><text x="842.5" y="796.3000000000001" font-family="'Liberation Sans', Arial, sans-serif" font-size="13" text-anchor="end">0.1</text><text x="842.5" y="768.5" font-family="'Liberation Sans', Arial, sans-serif" font-size="13" text-anchor="end">0.15</text><text x="842.5" y="740.7" font-family="'Liberation Sans', Arial, sans-serif" font-size="13" text-anchor="end">0.2</text><text x="882.4" y="860.8" font-family="'Liberation Sans', Arial, sans-serif" font-size="13" text-anchor="middle">20</text><text x="928.2" y="860.8" font-family="'Liberation Sans', Arial, sans-serif" font-size="13" text-anchor="middle">40</text><text x="974.1" y="860.8" font-family="'Liberation Sans', Arial, sans-serif" font-size="13" text-anchor="middle">60</text><text x="1019.9" y="860.8" font-family="'Liberation Sans', Arial, sans-serif" font-size="13" text-anchor="middle">80</text><text x="868" y="751.5" font-family="'Liberation Sans', Arial, sans-serif" font-size="13">(c4)</text><text x="806" y="796.5" font-family="'Liberation Sans', Arial, sans-serif" font-size="13" text-anchor="middle" transform="rotate(-90 806 796.5)">Area-weighted fraction</text><text x="951.5" y="877" font-family="'Liberation Sans', Arial, sans-serif" font-size="13.5" text-anchor="middle">Perimeter / μm</text><line x1="1068" y1="655.7" x2="1113.5" y2="655.7" stroke="#d48898" stroke-width="3"/><line x1="1068" y1="686.6" x2="1113.5" y2="686.6" stroke="#5a5ab4" stroke-width="3"/><text x="1115.2" y="660.4" font-family="'Liberation Sans', Arial, sans-serif" font-size="12.5">2<tspan font-size="8" dy="-4">o</tspan><tspan dy="4">–10</tspan><tspan font-size="8" dy="-4">o</tspan></text><text x="1115.2" y="691.7" font-family="'Liberation Sans', Arial, sans-serif" font-size="12.5">&gt; 10<tspan font-size="8" dy="-4">o</tspan></text><text x="1117" y="729.7" font-family="'Liberation Sans', Arial, sans-serif" font-size="12.5" text-anchor="middle">Ti-Hex</text><text x="1070" y="745.7" font-family="'Liberation Sans', Arial, sans-serif" font-size="12.5">0001</text><text x="1134.7" y="745.7" font-family="'Liberation Sans', Arial, sans-serif" font-size="12.5">1210</text><path d="M1135.8 735.6h5.2M1149.7 735.6h5.2" stroke="#000" stroke-width="0.9"/><defs><linearGradient id="bg748" gradientUnits="userSpaceOnUse" x1="1147.5" y1="748.8" x2="1139.8" y2="778.6"><stop offset="0" stop-color="#30e030"/><stop offset="0.5" stop-color="#60c0d0"/><stop offset="1" stop-color="#3040e0"/></linearGradient></defs><path d="M1086.4 748.8L1092.5 748.8L1091.7 751.8Z" fill="#ff1111" stroke="#ff1111" stroke-width="0.4"/><path d="M1092.5 748.8L1097.8 751.8L1091.7 751.8Z" fill="#ff2020" stroke="#ff2020" stroke-width="0.4"/><path d="M1091.7 751.8L1097.8 751.8L1097.1 754.8Z" fill="#ff133a" stroke="#ff133a" stroke-width="0.4"/><path d="M1097.8 751.8L1103.2 754.8L1097.1 754.8Z" fill="#ff244b" stroke="#ff244b" stroke-width="0.4"/><path d="M1097.1 754.8L1103.2 754.8L1102.4 757.7Z" fill="#ff1566" stroke="#ff1566" stroke-width="0.4"/><path d="M1103.2 754.8L1108.5 757.7L1102.4 757.7Z" fill="#ff287a" stroke="#ff287a" stroke-width="0.4"/><path d="M1102.4 757.7L1108.5 757.7L1107.8 760.7Z" fill="#ff1898" stroke="#ff1898" stroke-width="0.4"/><path d="M1108.5 757.7L1113.9 760.7L1107.8 760.7Z" fill="#ff2eb4" stroke="#ff2eb4" stroke-width="0.4"/><path d="M1107.8 760.7L1113.9 760.7L1113.1 763.7Z" fill="#ff1bd7" stroke="#ff1bd7" stroke-width="0.4"/><path d="M1113.9 760.7L1119.2 763.7L1113.1 763.7Z" fill="#ff35ff" stroke="#ff35ff" stroke-width="0.4"/><path d="M1113.1 763.7L1119.2 763.7L1118.4 766.7Z" fill="#d71bff" stroke="#d71bff" stroke-width="0.4"/><path d="M1119.2 763.7L1124.5 766.7L1118.4 766.7Z" fill="#b42eff" stroke="#b42eff" stroke-width="0.4"/><path d="M1118.4 766.7L1124.5 766.7L1123.8 769.7Z" fill="#9818ff" stroke="#9818ff" stroke-width="0.4"/><path d="M1124.5 766.7L1129.9 769.7L1123.8 769.7Z" fill="#7a28ff" stroke="#7a28ff" stroke-width="0.4"/><path d="M1123.8 769.7L1129.9 769.7L1129.1 772.6Z" fill="#6615ff" stroke="#6615ff" stroke-width="0.4"/><path d="M1129.9 769.7L1135.2 772.6L1129.1 772.6Z" fill="#4b24ff" stroke="#4b24ff" stroke-width="0.4"/><path d="M1129.1 772.6L1135.2 772.6L1134.5 775.6Z" fill="#3a13ff" stroke="#3a13ff" stroke-width="0.4"/><path d="M1135.2 772.6L1140.6 775.6L1134.5 775.6Z" fill="#2020ff" stroke="#2020ff" stroke-width="0.4"/><path d="M1134.5 775.6L1140.6 775.6L1139.8 778.6Z" fill="#1111ff" stroke="#1111ff" stroke-width="0.4"/><path d="M1092.5 748.8L1098.6 748.8L1097.8 751.8Z" fill="#ff3a13" stroke="#ff3a13" stroke-width="0.4"/><path d="M1098.6 748.8L1104.0 751.8L1097.8 751.8Z" fill="#ff4b24" stroke="#ff4b24" stroke-width="0.4"/><path d="M1097.8 751.8L1104.0 751.8L1103.2 754.8Z" fill="#ff4141" stroke="#ff4141" stroke-width="0.4"/><path d="M1104.0 751.8L1109.3 754.8L1103.2 754.8Z" fill="#ff5454" stroke="#ff5454" stroke-width="0.4"/><path d="M1103.2 754.8L1109.3 754.8L1108.5 757.7Z" fill="#ff4972" stroke="#ff4972" stroke-width="0.4"/><path d="M1109.3 754.8L1114.6 757.7L1108.5 757.7Z" fill="#ff5f8b" stroke="#ff5f8b" stroke-width="0.4"/><path d="M1108.5 757.7L1114.6 757.7L1113.9 760.7Z" fill="#ff54af" stroke="#ff54af" stroke-width="0.4"/><path d="M1114.6 757.7L1120.0 760.7L1113.9 760.7Z" fill="#ff6fd2" stroke="#ff6fd2" stroke-width="0.4"/><path d="M1113.9 760.7L1120.0 760.7L1119.2 763.7Z" fill="#ff63ff" stroke="#ff63ff" stroke-width="0.4"/><path d="M1120.0 760.7L1125.3 763.7L1119.2 763.7Z" fill="#d26fff" stroke="#d26fff" stroke-width="0.4"/><path d="M1119.2 763.7L1125.3 763.7L1124.5 766.7Z" fill="#af54ff" stroke="#af54ff" stroke-width="0.4"/><path d="M1125.3 763.7L1130.7 766.7L1124.5 766.7Z" fill="#8b5fff" stroke="#8b5fff" stroke-width="0.4"/><path d="M1124.5 766.7L1130.7 766.7L1129.9 769.7Z" fill="#7249ff" stroke="#7249ff" stroke-width="0.4"/><path d="M1130.7 766.7L1136.0 769.7L1129.9 769.7Z" fill="#5454ff" stroke="#5454ff" stroke-width="0.4"/><path d="M1129.9 769.7L1136.0 769.7L1135.2 772.6Z" fill="#4141ff" stroke="#4141ff" stroke-width="0.4"/><path d="M1136.0 769.7L1141.3 772.6L1135.2 772.6Z" fill="#244bff" stroke="#244bff" stroke-width="0.4"/><path d="M1135.2 772.6L1141.3 772.6L1140.6 775.6Z" fill="#133aff" stroke="#133aff" stroke-width="0.4"/><path d="M1098.6 748.8L1104.7 748.8L1104.0 751.8Z" fill="#ff6615" stroke="#ff6615" stroke-width="0.4"/><path d="M1104.7 748.8L1110.1 751.8L1104.0 751.8Z" fill="#ff7a28" stroke="#ff7a28" stroke-width="0.4"/><path d="M1104.0 751.8L1110.1 751.8L1109.3 754.8Z" fill="#ff7249" stroke="#ff7249" stroke-width="0.4"/><path d="M1110.1 751.8L1115.4 754.8L1109.3 754.8Z" fill="#ff8b5f" stroke="#ff8b5f" stroke-width="0.4"/><path d="M1109.3 754.8L1115.4 754.8L1114.6 757.7Z" fill="#ff8383" stroke="#ff8383" stroke-width="0.4"/><path d="M1115.4 754.8L1120.8 757.7L1114.6 757.7Z" fill="#ffa2a2" stroke="#ffa2a2" stroke-width="0.4"/><path d="M1114.6 757.7L1120.8 757.7L1120.0 760.7Z" fill="#ff9bce" stroke="#ff9bce" stroke-width="0.4"/><path d="M1120.8 757.7L1126.1 760.7L1120.0 760.7Z" fill="#ffc5fe" stroke="#ffc5fe" stroke-width="0.4"/><path d="M1120.0 760.7L1126.1 760.7L1125.3 763.7Z" fill="#ce9bff" stroke="#ce9bff" stroke-width="0.4"/><path d="M1126.1 760.7L1131.4 763.7L1125.3 763.7Z" fill="#a2a2ff" stroke="#a2a2ff" stroke-width="0.4"/><path d="M1125.3 763.7L1131.4 763.7L1130.7 766.7Z" fill="#8383ff" stroke="#8383ff" stroke-width="0.4"/><path d="M1131.4 763.7L1136.8 766.7L1130.7 766.7Z" fill="#5f8bff" stroke="#5f8bff" stroke-width="0.4"/><path d="M1130.7 766.7L1136.8 766.7L1136.0 769.7Z" fill="#4972ff" stroke="#4972ff" stroke-width="0.4"/><path d="M1136.8 766.7L1142.1 769.7L1136.0 769.7Z" fill="#287aff" stroke="#287aff" stroke-width="0.4"/><path d="M1136.0 769.7L1142.1 769.7L1141.3 772.6Z" fill="#1566ff" stroke="#1566ff" stroke-width="0.4"/><path d="M1104.7 748.8L1110.8 748.8L1110.1 751.8Z" fill="#ff9818" stroke="#ff9818" stroke-width="0.4"/><path d="M1110.8 748.8L1116.2 751.8L1110.1 751.8Z" fill="#ffb42e" stroke="#ffb42e" stroke-width="0.4"/><path d="M1110.1 751.8L1116.2 751.8L1115.4 754.8Z" fill="#ffaf54" stroke="#ffaf54" stroke-width="0.4"/><path d="M1116.2 751.8L1121.5 754.8L1115.4 754.8Z" fill="#ffd26f" stroke="#ffd26f" stroke-width="0.4"/><path d="M1115.4 754.8L1121.5 754.8L1120.8 757.7Z" fill="#ffce9b" stroke="#ffce9b" stroke-width="0.4"/><path d="M1121.5 754.8L1126.9 757.7L1120.8 757.7Z" fill="#fffec5" stroke="#fffec5" stroke-width="0.4"/><path d="M1120.8 757.7L1126.9 757.7L1126.1 760.7Z" fill="#feffff" stroke="#feffff" stroke-width="0.4"/><path d="M1126.9 757.7L1132.2 760.7L1126.1 760.7Z" fill="#c5ffff" stroke="#c5ffff" stroke-width="0.4"/><path d="M1126.1 760.7L1132.2 760.7L1131.4 763.7Z" fill="#9bceff" stroke="#9bceff" stroke-width="0.4"/><path d="M1132.2 760.7L1137.5 763.7L1131.4 763.7Z" fill="#6fd2ff" stroke="#6fd2ff" stroke-width="0.4"/><path d="M1131.4 763.7L1137.5 763.7L1136.8 766.7Z" fill="#54afff" stroke="#54afff" stroke-width="0.4"/><path d="M1137.5 763.7L1142.9 766.7L1136.8 766.7Z" fill="#2eb4ff" stroke="#2eb4ff" stroke-width="0.4"/><path d="M1136.8 766.7L1142.9 766.7L1142.1 769.7Z" fill="#1898ff" stroke="#1898ff" stroke-width="0.4"/><path d="M1110.8 748.8L1117.0 748.8L1116.2 751.8Z" fill="#ffd71b" stroke="#ffd71b" stroke-width="0.4"/><path d="M1117.0 748.8L1122.3 751.8L1116.2 751.8Z" fill="#feff35" stroke="#feff35" stroke-width="0.4"/><path d="M1116.2 751.8L1122.3 751.8L1121.5 754.8Z" fill="#fffe63" stroke="#fffe63" stroke-width="0.4"/><path d="M1122.3 751.8L1127.6 754.8L1121.5 754.8Z" fill="#d2ff6f" stroke="#d2ff6f" stroke-width="0.4"/><path d="M1121.5 754.8L1127.6 754.8L1126.9 757.7Z" fill="#ceff9b" stroke="#ceff9b" stroke-width="0.4"/><path d="M1127.6 754.8L1133.0 757.7L1126.9 757.7Z" fill="#a2ffa2" stroke="#a2ffa2" stroke-width="0.4"/><path d="M1126.9 757.7L1133.0 757.7L1132.2 760.7Z" fill="#9bffce" stroke="#9bffce" stroke-width="0.4"/><path d="M1133.0 757.7L1138.3 760.7L1132.2 760.7Z" fill="#6fffd2" stroke="#6fffd2" stroke-width="0.4"/><path d="M1132.2 760.7L1138.3 760.7L1137.5 763.7Z" fill="#63ffff" stroke="#63ffff" stroke-width="0.4"/><path d="M1138.3 760.7L1143.7 763.7L1137.5 763.7Z" fill="#35ffff" stroke="#35ffff" stroke-width="0.4"/><path d="M1137.5 763.7L1143.7 763.7L1142.9 766.7Z" fill="#1bd7ff" stroke="#1bd7ff" stroke-width="0.4"/><path d="M1117.0 748.8L1123.1 748.8L1122.3 751.8Z" fill="#d7ff1b" stroke="#d7ff1b" stroke-width="0.4"/><path d="M1123.1 748.8L1128.4 751.8L1122.3 751.8Z" fill="#b4ff2e" stroke="#b4ff2e" stroke-width="0.4"/><path d="M1122.3 751.8L1128.4 751.8L1127.6 754.8Z" fill="#afff54" stroke="#afff54" stroke-width="0.4"/><path d="M1128.4 751.8L1133.7 754.8L1127.6 754.8Z" fill="#8bff5f" stroke="#8bff5f" stroke-width="0.4"/><path d="M1127.6 754.8L1133.7 754.8L1133.0 757.7Z" fill="#83ff83" stroke="#83ff83" stroke-width="0.4"/><path d="M1133.7 754.8L1139.1 757.7L1133.0 757.7Z" fill="#5fff8b" stroke="#5fff8b" stroke-width="0.4"/><path d="M1133.0 757.7L1139.1 757.7L1138.3 760.7Z" fill="#54ffaf" stroke="#54ffaf" stroke-width="0.4"/><path d="M1139.1 757.7L1144.4 760.7L1138.3 760.7Z" fill="#2effb4" stroke="#2effb4" stroke-width="0.4"/><path d="M1138.3 760.7L1144.4 760.7L1143.7 763.7Z" fill="#1bffd7" stroke="#1bffd7" stroke-width="0.4"/><path d="M1123.1 748.8L1129.2 748.8L1128.4 751.8Z" fill="#98ff18" stroke="#98ff18" stroke-width="0.4"/><path d="M1129.2 748.8L1134.5 751.8L1128.4 751.8Z" fill="#7aff28" stroke="#7aff28" stroke-width="0.4"/><path d="M1128.4 751.8L1134.5 751.8L1133.7 754.8Z" fill="#72ff49" stroke="#72ff49" stroke-width="0.4"/><path d="M1134.5 751.8L1139.9 754.8L1133.7 754.8Z" fill="#54ff54" stroke="#54ff54" stroke-width="0.4"/><path d="M1133.7 754.8L1139.9 754.8L1139.1 757.7Z" fill="#49ff72" stroke="#49ff72" stroke-width="0.4"/><path d="M1139.9 754.8L1145.2 757.7L1139.1 757.7Z" fill="#28ff7a" stroke="#28ff7a" stroke-width="0.4"/><path d="M1139.1 757.7L1145.2 757.7L1144.4 760.7Z" fill="#18ff98" stroke="#18ff98" stroke-width="0.4"/><path d="M1129.2 748.8L1135.3 748.8L1134.5 751.8Z" fill="#66ff15" stroke="#66ff15" stroke-width="0.4"/><path d="M1135.3 748.8L1140.6 751.8L1134.5 751.8Z" fill="#4bff24" stroke="#4bff24" stroke-width="0.4"/><path d="M1134.5 751.8L1140.6 751.8L1139.9 754.8Z" fill="#41ff41" stroke="#41ff41" stroke-width="0.4"/><path d="M1140.6 751.8L1146.0 754.8L1139.9 754.8Z" fill="#24ff4b" stroke="#24ff4b" stroke-width="0.4"/><path d="M1139.9 754.8L1146.0 754.8L1145.2 757.7Z" fill="#15ff66" stroke="#15ff66" stroke-width="0.4"/><path d="M1135.3 748.8L1141.4 748.8L1140.6 751.8Z" fill="#3aff13" stroke="#3aff13" stroke-width="0.4"/><path d="M1141.4 748.8L1146.7 751.8L1140.6 751.8Z" fill="#20ff20" stroke="#20ff20" stroke-width="0.4"/><path d="M1140.6 751.8L1146.7 751.8L1146.0 754.8Z" fill="#13ff3a" stroke="#13ff3a" stroke-width="0.4"/><path d="M1141.4 748.8L1147.5 748.8L1146.7 751.8Z" fill="#11ff11" stroke="#11ff11" stroke-width="0.4"/><path d="M1147.5 748.8A35.6 35.6 0 0 1 1139.8 778.6Z" fill="url(#bg748)"/><path d="M1086.4 748.8L1147.5 748.8A35.6 35.6 0 0 1 1139.8 778.6Z" fill="none" stroke="#303030" stroke-width="0.8"/><text x="1125.7" y="791.4" font-family="'Liberation Sans', Arial, sans-serif" font-size="12.5">0110</text><path d="M1140.5 781.3h5.2" stroke="#000" stroke-width="0.9"/><text x="1117.5" y="810.7" font-family="'Liberation Sans', Arial, sans-serif" font-size="12.5" text-anchor="middle">Tin beta</text><text x="1080.2" y="825.4" font-family="'Liberation Sans', Arial, sans-serif" font-size="12.5">001</text><text x="1131.6" y="825.4" font-family="'Liberation Sans', Arial, sans-serif" font-size="12.5">010</text><defs><linearGradient id="bg828" gradientUnits="userSpaceOnUse" x1="1145" y1="828.5" x2="1128.3" y2="866"><stop offset="0" stop-color="#30e030"/><stop offset="0.5" stop-color="#60c0d0"/><stop offset="1" stop-color="#3040e0"/></linearGradient></defs><path d="M1090.5 828.5L1096.0 828.5L1094.3 832.2Z" fill="#ff1111" stroke="#ff1111" stroke-width="0.4"/><path d="M1096.0 828.5L1099.7 832.2L1094.3 832.2Z" fill="#ff2020" stroke="#ff2020" stroke-width="0.4"/><path d="M1094.3 832.2L1099.7 832.2L1098.1 836.0Z" fill="#ff133a" stroke="#ff133a" stroke-width="0.4"/><path d="M1099.7 832.2L1103.5 836.0L1098.1 836.0Z" fill="#ff244b" stroke="#ff244b" stroke-width="0.4"/><path d="M1098.1 836.0L1103.5 836.0L1101.8 839.8Z" fill="#ff1566" stroke="#ff1566" stroke-width="0.4"/><path d="M1103.5 836.0L1107.3 839.8L1101.8 839.8Z" fill="#ff287a" stroke="#ff287a" stroke-width="0.4"/><path d="M1101.8 839.8L1107.3 839.8L1105.6 843.5Z" fill="#ff1898" stroke="#ff1898" stroke-width="0.4"/><path d="M1107.3 839.8L1111.1 843.5L1105.6 843.5Z" fill="#ff2eb4" stroke="#ff2eb4" stroke-width="0.4"/><path d="M1105.6 843.5L1111.1 843.5L1109.4 847.2Z" fill="#ff1bd7" stroke="#ff1bd7" stroke-width="0.4"/><path d="M1111.1 843.5L1114.8 847.2L1109.4 847.2Z" fill="#ff35ff" stroke="#ff35ff" stroke-width="0.4"/><path d="M1109.4 847.2L1114.8 847.2L1113.2 851.0Z" fill="#d71bff" stroke="#d71bff" stroke-width="0.4"/><path d="M1114.8 847.2L1118.6 851.0L1113.2 851.0Z" fill="#b42eff" stroke="#b42eff" stroke-width="0.4"/><path d="M1113.2 851.0L1118.6 851.0L1117.0 854.8Z" fill="#9818ff" stroke="#9818ff" stroke-width="0.4"/><path d="M1118.6 851.0L1122.4 854.8L1117.0 854.8Z" fill="#7a28ff" stroke="#7a28ff" stroke-width="0.4"/><path d="M1117.0 854.8L1122.4 854.8L1120.7 858.5Z" fill="#6615ff" stroke="#6615ff" stroke-width="0.4"/><path d="M1122.4 854.8L1126.2 858.5L1120.7 858.5Z" fill="#4b24ff" stroke="#4b24ff" stroke-width="0.4"/><path d="M1120.7 858.5L1126.2 858.5L1124.5 862.2Z" fill="#3a13ff" stroke="#3a13ff" stroke-width="0.4"/><path d="M1126.2 858.5L1130.0 862.2L1124.5 862.2Z" fill="#2020ff" stroke="#2020ff" stroke-width="0.4"/><path d="M1124.5 862.2L1130.0 862.2L1128.3 866.0Z" fill="#1111ff" stroke="#1111ff" stroke-width="0.4"/><path d="M1096.0 828.5L1101.4 828.5L1099.7 832.2Z" fill="#ff3a13" stroke="#ff3a13" stroke-width="0.4"/><path d="M1101.4 828.5L1105.2 832.2L1099.7 832.2Z" fill="#ff4b24" stroke="#ff4b24" stroke-width="0.4"/><path d="M1099.7 832.2L1105.2 832.2L1103.5 836.0Z" fill="#ff4141" stroke="#ff4141" stroke-width="0.4"/><path d="M1105.2 832.2L1109.0 836.0L1103.5 836.0Z" fill="#ff5454" stroke="#ff5454" stroke-width="0.4"/><path d="M1103.5 836.0L1109.0 836.0L1107.3 839.8Z" fill="#ff4972" stroke="#ff4972" stroke-width="0.4"/><path d="M1109.0 836.0L1112.7 839.8L1107.3 839.8Z" fill="#ff5f8b" stroke="#ff5f8b" stroke-width="0.4"/><path d="M1107.3 839.8L1112.7 839.8L1111.1 843.5Z" fill="#ff54af" stroke="#ff54af" stroke-width="0.4"/><path d="M1112.7 839.8L1116.5 843.5L1111.1 843.5Z" fill="#ff6fd2" stroke="#ff6fd2" stroke-width="0.4"/><path d="M1111.1 843.5L1116.5 843.5L1114.8 847.2Z" fill="#ff63ff" stroke="#ff63ff" stroke-width="0.4"/><path d="M1116.5 843.5L1120.3 847.2L1114.8 847.2Z" fill="#d26fff" stroke="#d26fff" stroke-width="0.4"/><path d="M1114.8 847.2L1120.3 847.2L1118.6 851.0Z" fill="#af54ff" stroke="#af54ff" stroke-width="0.4"/><path d="M1120.3 847.2L1124.1 851.0L1118.6 851.0Z" fill="#8b5fff" stroke="#8b5fff" stroke-width="0.4"/><path d="M1118.6 851.0L1124.1 851.0L1122.4 854.8Z" fill="#7249ff" stroke="#7249ff" stroke-width="0.4"/><path d="M1124.1 851.0L1127.9 854.8L1122.4 854.8Z" fill="#5454ff" stroke="#5454ff" stroke-width="0.4"/><path d="M1122.4 854.8L1127.9 854.8L1126.2 858.5Z" fill="#4141ff" stroke="#4141ff" stroke-width="0.4"/><path d="M1127.9 854.8L1131.6 858.5L1126.2 858.5Z" fill="#244bff" stroke="#244bff" stroke-width="0.4"/><path d="M1126.2 858.5L1131.6 858.5L1130.0 862.2Z" fill="#133aff" stroke="#133aff" stroke-width="0.4"/><path d="M1101.4 828.5L1106.8 828.5L1105.2 832.2Z" fill="#ff6615" stroke="#ff6615" stroke-width="0.4"/><path d="M1106.8 828.5L1110.6 832.2L1105.2 832.2Z" fill="#ff7a28" stroke="#ff7a28" stroke-width="0.4"/><path d="M1105.2 832.2L1110.6 832.2L1109.0 836.0Z" fill="#ff7249" stroke="#ff7249" stroke-width="0.4"/><path d="M1110.6 832.2L1114.4 836.0L1109.0 836.0Z" fill="#ff8b5f" stroke="#ff8b5f" stroke-width="0.4"/><path d="M1109.0 836.0L1114.4 836.0L1112.7 839.8Z" fill="#ff8383" stroke="#ff8383" stroke-width="0.4"/><path d="M1114.4 836.0L1118.2 839.8L1112.7 839.8Z" fill="#ffa2a2" stroke="#ffa2a2" stroke-width="0.4"/><path d="M1112.7 839.8L1118.2 839.8L1116.5 843.5Z" fill="#ff9bce" stroke="#ff9bce" stroke-width="0.4"/><path d="M1118.2 839.8L1122.0 843.5L1116.5 843.5Z" fill="#ffc5fe" stroke="#ffc5fe" stroke-width="0.4"/><path d="M1116.5 843.5L1122.0 843.5L1120.3 847.2Z" fill="#ce9bff" stroke="#ce9bff" stroke-width="0.4"/><path d="M1122.0 843.5L1125.8 847.2L1120.3 847.2Z" fill="#a2a2ff" stroke="#a2a2ff" stroke-width="0.4"/><path d="M1120.3 847.2L1125.8 847.2L1124.1 851.0Z" fill="#8383ff" stroke="#8383ff" stroke-width="0.4"/><path d="M1125.8 847.2L1129.5 851.0L1124.1 851.0Z" fill="#5f8bff" stroke="#5f8bff" stroke-width="0.4"/><path d="M1124.1 851.0L1129.5 851.0L1127.9 854.8Z" fill="#4972ff" stroke="#4972ff" stroke-width="0.4"/><path d="M1129.5 851.0L1133.3 854.8L1127.9 854.8Z" fill="#287aff" stroke="#287aff" stroke-width="0.4"/><path d="M1127.9 854.8L1133.3 854.8L1131.6 858.5Z" fill="#1566ff" stroke="#1566ff" stroke-width="0.4"/><path d="M1106.8 828.5L1112.3 828.5L1110.6 832.2Z" fill="#ff9818" stroke="#ff9818" stroke-width="0.4"/><path d="M1112.3 828.5L1116.1 832.2L1110.6 832.2Z" fill="#ffb42e" stroke="#ffb42e" stroke-width="0.4"/><path d="M1110.6 832.2L1116.1 832.2L1114.4 836.0Z" fill="#ffaf54" stroke="#ffaf54" stroke-width="0.4"/><path d="M1116.1 832.2L1119.9 836.0L1114.4 836.0Z" fill="#ffd26f" stroke="#ffd26f" stroke-width="0.4"/><path d="M1114.4 836.0L1119.9 836.0L1118.2 839.8Z" fill="#ffce9b" stroke="#ffce9b" stroke-width="0.4"/><path d="M1119.9 836.0L1123.6 839.8L1118.2 839.8Z" fill="#fffec5" stroke="#fffec5" stroke-width="0.4"/><path d="M1118.2 839.8L1123.6 839.8L1122.0 843.5Z" fill="#feffff" stroke="#feffff" stroke-width="0.4"/><path d="M1123.6 839.8L1127.4 843.5L1122.0 843.5Z" fill="#c5ffff" stroke="#c5ffff" stroke-width="0.4"/><path d="M1122.0 843.5L1127.4 843.5L1125.8 847.2Z" fill="#9bceff" stroke="#9bceff" stroke-width="0.4"/><path d="M1127.4 843.5L1131.2 847.2L1125.8 847.2Z" fill="#6fd2ff" stroke="#6fd2ff" stroke-width="0.4"/><path d="M1125.8 847.2L1131.2 847.2L1129.5 851.0Z" fill="#54afff" stroke="#54afff" stroke-width="0.4"/><path d="M1131.2 847.2L1135.0 851.0L1129.5 851.0Z" fill="#2eb4ff" stroke="#2eb4ff" stroke-width="0.4"/><path d="M1129.5 851.0L1135.0 851.0L1133.3 854.8Z" fill="#1898ff" stroke="#1898ff" stroke-width="0.4"/><path d="M1112.3 828.5L1117.8 828.5L1116.1 832.2Z" fill="#ffd71b" stroke="#ffd71b" stroke-width="0.4"/><path d="M1117.8 828.5L1121.5 832.2L1116.1 832.2Z" fill="#feff35" stroke="#feff35" stroke-width="0.4"/><path d="M1116.1 832.2L1121.5 832.2L1119.9 836.0Z" fill="#fffe63" stroke="#fffe63" stroke-width="0.4"/><path d="M1121.5 832.2L1125.3 836.0L1119.9 836.0Z" fill="#d2ff6f" stroke="#d2ff6f" stroke-width="0.4"/><path d="M1119.9 836.0L1125.3 836.0L1123.6 839.8Z" fill="#ceff9b" stroke="#ceff9b" stroke-width="0.4"/><path d="M1125.3 836.0L1129.1 839.8L1123.6 839.8Z" fill="#a2ffa2" stroke="#a2ffa2" stroke-width="0.4"/><path d="M1123.6 839.8L1129.1 839.8L1127.4 843.5Z" fill="#9bffce" stroke="#9bffce" stroke-width="0.4"/><path d="M1129.1 839.8L1132.9 843.5L1127.4 843.5Z" fill="#6fffd2" stroke="#6fffd2" stroke-width="0.4"/><path d="M1127.4 843.5L1132.9 843.5L1131.2 847.2Z" fill="#63ffff" stroke="#63ffff" stroke-width="0.4"/><path d="M1132.9 843.5L1136.7 847.2L1131.2 847.2Z" fill="#35ffff" stroke="#35ffff" stroke-width="0.4"/><path d="M1131.2 847.2L1136.7 847.2L1135.0 851.0Z" fill="#1bd7ff" stroke="#1bd7ff" stroke-width="0.4"/><path d="M1117.8 828.5L1123.2 828.5L1121.5 832.2Z" fill="#d7ff1b" stroke="#d7ff1b" stroke-width="0.4"/><path d="M1123.2 828.5L1127.0 832.2L1121.5 832.2Z" fill="#b4ff2e" stroke="#b4ff2e" stroke-width="0.4"/><path d="M1121.5 832.2L1127.0 832.2L1125.3 836.0Z" fill="#afff54" stroke="#afff54" stroke-width="0.4"/><path d="M1127.0 832.2L1130.8 836.0L1125.3 836.0Z" fill="#8bff5f" stroke="#8bff5f" stroke-width="0.4"/><path d="M1125.3 836.0L1130.8 836.0L1129.1 839.8Z" fill="#83ff83" stroke="#83ff83" stroke-width="0.4"/><path d="M1130.8 836.0L1134.5 839.8L1129.1 839.8Z" fill="#5fff8b" stroke="#5fff8b" stroke-width="0.4"/><path d="M1129.1 839.8L1134.5 839.8L1132.9 843.5Z" fill="#54ffaf" stroke="#54ffaf" stroke-width="0.4"/><path d="M1134.5 839.8L1138.3 843.5L1132.9 843.5Z" fill="#2effb4" stroke="#2effb4" stroke-width="0.4"/><path d="M1132.9 843.5L1138.3 843.5L1136.7 847.2Z" fill="#1bffd7" stroke="#1bffd7" stroke-width="0.4"/><path d="M1123.2 828.5L1128.7 828.5L1127.0 832.2Z" fill="#98ff18" stroke="#98ff18" stroke-width="0.4"/><path d="M1128.7 828.5L1132.4 832.2L1127.0 832.2Z" fill="#7aff28" stroke="#7aff28" stroke-width="0.4"/><path d="M1127.0 832.2L1132.4 832.2L1130.8 836.0Z" fill="#72ff49" stroke="#72ff49" stroke-width="0.4"/><path d="M1132.4 832.2L1136.2 836.0L1130.8 836.0Z" fill="#54ff54" stroke="#54ff54" stroke-width="0.4"/><path d="M1130.8 836.0L1136.2 836.0L1134.5 839.8Z" fill="#49ff72" stroke="#49ff72" stroke-width="0.4"/><path d="M1136.2 836.0L1140.0 839.8L1134.5 839.8Z" fill="#28ff7a" stroke="#28ff7a" stroke-width="0.4"/><path d="M1134.5 839.8L1140.0 839.8L1138.3 843.5Z" fill="#18ff98" stroke="#18ff98" stroke-width="0.4"/><path d="M1128.7 828.5L1134.1 828.5L1132.4 832.2Z" fill="#66ff15" stroke="#66ff15" stroke-width="0.4"/><path d="M1134.1 828.5L1137.9 832.2L1132.4 832.2Z" fill="#4bff24" stroke="#4bff24" stroke-width="0.4"/><path d="M1132.4 832.2L1137.9 832.2L1136.2 836.0Z" fill="#41ff41" stroke="#41ff41" stroke-width="0.4"/><path d="M1137.9 832.2L1141.7 836.0L1136.2 836.0Z" fill="#24ff4b" stroke="#24ff4b" stroke-width="0.4"/><path d="M1136.2 836.0L1141.7 836.0L1140.0 839.8Z" fill="#15ff66" stroke="#15ff66" stroke-width="0.4"/><path d="M1134.1 828.5L1139.5 828.5L1137.9 832.2Z" fill="#3aff13" stroke="#3aff13" stroke-width="0.4"/><path d="M1139.5 828.5L1143.3 832.2L1137.9 832.2Z" fill="#20ff20" stroke="#20ff20" stroke-width="0.4"/><path d="M1137.9 832.2L1143.3 832.2L1141.7 836.0Z" fill="#13ff3a" stroke="#13ff3a" stroke-width="0.4"/><path d="M1139.5 828.5L1145.0 828.5L1143.3 832.2Z" fill="#11ff11" stroke="#11ff11" stroke-width="0.4"/><path d="M1145 828.5A54.7 54.7 0 0 1 1128.3 866Z" fill="url(#bg828)"/><path d="M1090.5 828.5L1145 828.5A54.7 54.7 0 0 1 1128.3 866Z" fill="none" stroke="#303030" stroke-width="0.8"/><text x="1116.7" y="879.4" font-family="'Liberation Sans', Arial, sans-serif" font-size="12.5">110</text><text x="358.8" y="927.7" font-family="'Liberation Sans', 'Noto Sans CJK SC', sans-serif" font-size="23.2" font-weight="500">图</text><text x="384.8" y="927.7" font-family="'Liberation Serif', 'Times New Roman', serif" font-size="23.2" font-weight="bold">1</text><text x="402.6" y="927.7" font-family="'Liberation Serif', 'Noto Serif CJK SC', serif" font-size="23.2">传统</text><text x="453.6" y="927.7" font-family="'Liberation Serif', 'Times New Roman', serif" font-size="23.2">SLM</text><text x="506.4" y="927.7" font-family="'Liberation Serif', 'Noto Serif CJK SC', serif" font-size="23.2">和</text><text x="534.6" y="927.7" font-family="'Liberation Serif', 'Times New Roman', serif" font-size="23.2">WAAM</text><text x="616.6" y="927.7" font-family="'Liberation Serif', 'Times New Roman', serif" font-size="23.2">TC4</text><text x="660" y="927.7" font-family="'Liberation Serif', 'Noto Serif CJK SC', serif" font-size="23.2" letter-spacing="1.3">钛合金的</text><text x="759" y="927.7" font-family="'Liberation Serif', 'Times New Roman', serif" font-size="23.2" textLength="61" lengthAdjust="spacingAndGlyphs">EBSD</text><text x="823.6" y="927.7" font-family="'Liberation Serif', 'Noto Serif CJK SC', serif" font-size="23.2">结果</text><text x="10.6" y="959.8" font-family="'Liberation Serif', 'Times New Roman', serif" font-size="24" font-weight="bold" textLength="48.5" lengthAdjust="spacingAndGlyphs">Fig.1</text><text y="959.8" font-family="'Liberation Serif', 'Times New Roman', serif" font-size="24"><tspan x="68.0">EBSD</tspan><tspan x="137.1">results</tspan><tspan x="207.5">of</tspan><tspan x="235.2">traditional</tspan><tspan x="341.6">TC4</tspan><tspan x="392.0">(a),</tspan><tspan x="432.3">SLM-TC4</tspan><tspan x="540.1">(b)</tspan><tspan x="575.8">and</tspan><tspan x="618.2">WAAM-TC4</tspan><tspan x="752.6">Ti-alloys</tspan><tspan x="846.1">(c):</tspan><tspan x="887.1">(a1,</tspan><tspan x="931.5">b1,</tspan><tspan x="969.2">c1)</tspan><tspan x="1007.6">IPF</tspan><tspan x="1050.0">map;</tspan><tspan x="1105.7">(a2,</tspan><tspan x="1150.1">b2,</tspan><tspan x="1187.9">c2)</tspan></text><text x="68" y="992.4" font-family="'Liberation Serif', 'Times New Roman', serif" font-size="24">grain boundary map; (a3, b3, c3) pole map; (a4, b4, c4) grain size map</text></svg></body></html>
